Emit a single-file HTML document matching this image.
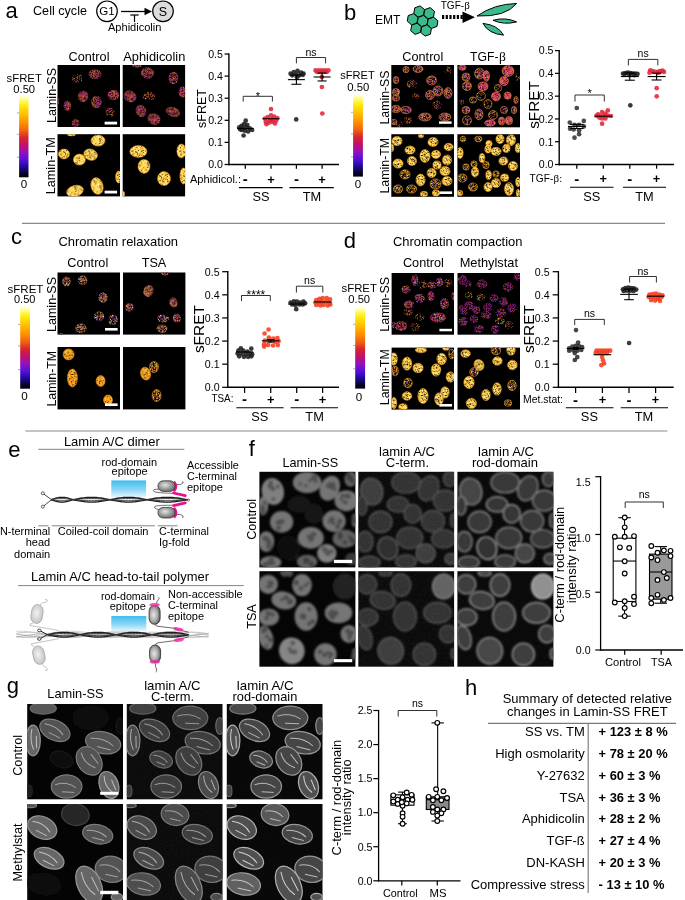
<!DOCTYPE html>
<html lang="en"><head><meta charset="utf-8"><title>Figure</title>
<style>html,body{margin:0;padding:0;background:#fff}svg{display:block}text{font-family:"Liberation Sans", sans-serif}</style></head>
<body>
<svg width="685" height="900" viewBox="0 0 685 900">
<defs>
<linearGradient id="fire" x1="0" y1="0" x2="0" y2="1"><stop offset="0" stop-color="#ffffff"/><stop offset="0.05" stop-color="#ffff90"/><stop offset="0.12" stop-color="#ffee10"/><stop offset="0.22" stop-color="#ffc400"/><stop offset="0.33" stop-color="#ff9400"/><stop offset="0.43" stop-color="#f26410"/><stop offset="0.52" stop-color="#d8242c"/><stop offset="0.61" stop-color="#c0106c"/><stop offset="0.70" stop-color="#9410c0"/><stop offset="0.79" stop-color="#5410d8"/><stop offset="0.87" stop-color="#2208a0"/><stop offset="0.95" stop-color="#080430"/><stop offset="1" stop-color="#000004"/></linearGradient>
<filter id="b05" x="-5%" y="-5%" width="110%" height="110%"><feGaussianBlur stdDeviation="0.5"/></filter>
<filter id="b08" x="-5%" y="-5%" width="110%" height="110%"><feGaussianBlur stdDeviation="0.95"/></filter>
<filter id="b06" x="-5%" y="-5%" width="110%" height="110%"><feGaussianBlur stdDeviation="0.65"/></filter>
<filter id="b15" x="-20%" y="-20%" width="140%" height="140%"><feGaussianBlur stdDeviation="1.6"/></filter>
<filter id="grain" x="0" y="0" width="100%" height="100%"><feTurbulence type="fractalNoise" baseFrequency="0.75" numOctaves="2" seed="7"/><feColorMatrix type="matrix" values="0 0 0 0 1  0 0 0 0 1  0 0 0 0 1  2.6 0 0 0 -1.15"/></filter>
<pattern id="ss" width="24.0" height="24.0" patternUnits="userSpaceOnUse"><rect width="24.0" height="24.0" fill="#000"/><path fill="#6a1a9a" d="M0 3.75h0.75v0.75h-0.75zM0 8.25h0.75v0.75h-0.75zM0 10.5h0.75v0.75h-0.75zM0 17.25h0.75v0.75h-0.75zM0 18.75h0.75v0.75h-0.75zM0 21h0.75v0.75h-0.75zM0.75 0.75h0.75v0.75h-0.75zM0.75 8.25h0.75v0.75h-0.75zM0.75 11.25h0.75v0.75h-0.75zM0.75 20.25h0.75v0.75h-0.75zM1.5 0h0.75v0.75h-0.75zM1.5 0.75h0.75v0.75h-0.75zM1.5 3.75h0.75v0.75h-0.75zM1.5 9h0.75v0.75h-0.75zM1.5 17.25h0.75v0.75h-0.75zM2.25 2.25h0.75v0.75h-0.75zM2.25 7.5h0.75v0.75h-0.75zM2.25 8.25h0.75v0.75h-0.75zM2.25 11.25h0.75v0.75h-0.75zM3 1.5h0.75v0.75h-0.75zM3 6.75h0.75v0.75h-0.75zM3 7.5h0.75v0.75h-0.75zM3 9.75h0.75v0.75h-0.75zM3 10.5h0.75v0.75h-0.75zM3.75 3h0.75v0.75h-0.75zM3.75 4.5h0.75v0.75h-0.75zM3.75 10.5h0.75v0.75h-0.75zM3.75 12.75h0.75v0.75h-0.75zM3.75 22.5h0.75v0.75h-0.75zM3.75 23.25h0.75v0.75h-0.75zM4.5 1.5h0.75v0.75h-0.75zM4.5 6h0.75v0.75h-0.75zM4.5 9.75h0.75v0.75h-0.75zM4.5 12h0.75v0.75h-0.75zM4.5 15.75h0.75v0.75h-0.75zM5.25 2.25h0.75v0.75h-0.75zM5.25 3h0.75v0.75h-0.75zM5.25 13.5h0.75v0.75h-0.75zM5.25 15.75h0.75v0.75h-0.75zM5.25 21.75h0.75v0.75h-0.75zM6 6.75h0.75v0.75h-0.75zM6 12h0.75v0.75h-0.75zM6 21.75h0.75v0.75h-0.75zM6 22.5h0.75v0.75h-0.75zM6.75 12.75h0.75v0.75h-0.75zM6.75 15.75h0.75v0.75h-0.75zM6.75 17.25h0.75v0.75h-0.75zM6.75 18h0.75v0.75h-0.75zM6.75 21h0.75v0.75h-0.75zM7.5 15.75h0.75v0.75h-0.75zM7.5 22.5h0.75v0.75h-0.75zM8.25 4.5h0.75v0.75h-0.75zM8.25 12.75h0.75v0.75h-0.75zM8.25 13.5h0.75v0.75h-0.75zM8.25 14.25h0.75v0.75h-0.75zM8.25 17.25h0.75v0.75h-0.75zM8.25 19.5h0.75v0.75h-0.75zM8.25 23.25h0.75v0.75h-0.75zM9 0h0.75v0.75h-0.75zM9 5.25h0.75v0.75h-0.75zM9 10.5h0.75v0.75h-0.75zM9 20.25h0.75v0.75h-0.75zM9 22.5h0.75v0.75h-0.75zM9.75 10.5h0.75v0.75h-0.75zM9.75 22.5h0.75v0.75h-0.75zM10.5 0.75h0.75v0.75h-0.75zM10.5 2.25h0.75v0.75h-0.75zM10.5 3.75h0.75v0.75h-0.75zM10.5 8.25h0.75v0.75h-0.75zM10.5 13.5h0.75v0.75h-0.75zM11.25 4.5h0.75v0.75h-0.75zM11.25 14.25h0.75v0.75h-0.75zM11.25 15.75h0.75v0.75h-0.75zM11.25 18h0.75v0.75h-0.75zM11.25 18.75h0.75v0.75h-0.75zM11.25 20.25h0.75v0.75h-0.75zM12 0h0.75v0.75h-0.75zM12 6.75h0.75v0.75h-0.75zM12 8.25h0.75v0.75h-0.75zM12 13.5h0.75v0.75h-0.75zM12 15h0.75v0.75h-0.75zM12 15.75h0.75v0.75h-0.75zM12 16.5h0.75v0.75h-0.75zM12.75 0.75h0.75v0.75h-0.75zM12.75 7.5h0.75v0.75h-0.75zM12.75 13.5h0.75v0.75h-0.75zM12.75 16.5h0.75v0.75h-0.75zM12.75 17.25h0.75v0.75h-0.75zM12.75 21.75h0.75v0.75h-0.75zM13.5 5.25h0.75v0.75h-0.75zM13.5 15.75h0.75v0.75h-0.75zM13.5 21.75h0.75v0.75h-0.75zM13.5 22.5h0.75v0.75h-0.75zM14.25 3.75h0.75v0.75h-0.75zM14.25 10.5h0.75v0.75h-0.75zM14.25 15.75h0.75v0.75h-0.75zM15 1.5h0.75v0.75h-0.75zM15 5.25h0.75v0.75h-0.75zM15 6.75h0.75v0.75h-0.75zM15 9.75h0.75v0.75h-0.75zM15 12.75h0.75v0.75h-0.75zM15 18h0.75v0.75h-0.75zM15 18.75h0.75v0.75h-0.75zM15 21h0.75v0.75h-0.75zM15.75 3.75h0.75v0.75h-0.75zM15.75 5.25h0.75v0.75h-0.75zM15.75 17.25h0.75v0.75h-0.75zM15.75 23.25h0.75v0.75h-0.75zM16.5 3h0.75v0.75h-0.75zM16.5 3.75h0.75v0.75h-0.75zM16.5 6h0.75v0.75h-0.75zM16.5 17.25h0.75v0.75h-0.75zM16.5 18h0.75v0.75h-0.75zM16.5 21h0.75v0.75h-0.75zM16.5 22.5h0.75v0.75h-0.75zM17.25 5.25h0.75v0.75h-0.75zM17.25 6.75h0.75v0.75h-0.75zM17.25 11.25h0.75v0.75h-0.75zM17.25 13.5h0.75v0.75h-0.75zM17.25 14.25h0.75v0.75h-0.75zM17.25 18.75h0.75v0.75h-0.75zM18 2.25h0.75v0.75h-0.75zM18 4.5h0.75v0.75h-0.75zM18 8.25h0.75v0.75h-0.75zM18 9.75h0.75v0.75h-0.75zM18 10.5h0.75v0.75h-0.75zM18 15h0.75v0.75h-0.75zM18 15.75h0.75v0.75h-0.75zM18.75 5.25h0.75v0.75h-0.75zM18.75 7.5h0.75v0.75h-0.75zM18.75 8.25h0.75v0.75h-0.75zM18.75 15h0.75v0.75h-0.75zM19.5 3.75h0.75v0.75h-0.75zM19.5 9.75h0.75v0.75h-0.75zM19.5 20.25h0.75v0.75h-0.75zM20.25 0.75h0.75v0.75h-0.75zM20.25 13.5h0.75v0.75h-0.75zM20.25 23.25h0.75v0.75h-0.75zM21 0h0.75v0.75h-0.75zM21 5.25h0.75v0.75h-0.75zM21 6h0.75v0.75h-0.75zM21 7.5h0.75v0.75h-0.75zM21 9.75h0.75v0.75h-0.75zM21 10.5h0.75v0.75h-0.75zM21 12h0.75v0.75h-0.75zM21 12.75h0.75v0.75h-0.75zM21 21.75h0.75v0.75h-0.75zM21.75 9h0.75v0.75h-0.75zM21.75 15h0.75v0.75h-0.75zM21.75 18.75h0.75v0.75h-0.75zM22.5 3h0.75v0.75h-0.75zM22.5 9h0.75v0.75h-0.75zM22.5 12h0.75v0.75h-0.75zM22.5 18.75h0.75v0.75h-0.75zM23.25 1.5h0.75v0.75h-0.75zM23.25 6h0.75v0.75h-0.75zM23.25 12.75h0.75v0.75h-0.75zM23.25 16.5h0.75v0.75h-0.75zM23.25 18h0.75v0.75h-0.75zM23.25 23.25h0.75v0.75h-0.75z"/><path fill="#c02c72" d="M0 3h0.75v0.75h-0.75zM0 4.5h0.75v0.75h-0.75zM0 11.25h0.75v0.75h-0.75zM0 15.75h0.75v0.75h-0.75zM0 21.75h0.75v0.75h-0.75zM0.75 3.75h0.75v0.75h-0.75zM0.75 4.5h0.75v0.75h-0.75zM0.75 9h0.75v0.75h-0.75zM0.75 9.75h0.75v0.75h-0.75zM0.75 12.75h0.75v0.75h-0.75zM0.75 14.25h0.75v0.75h-0.75zM0.75 16.5h0.75v0.75h-0.75zM0.75 17.25h0.75v0.75h-0.75zM0.75 21.75h0.75v0.75h-0.75zM0.75 22.5h0.75v0.75h-0.75zM0.75 23.25h0.75v0.75h-0.75zM1.5 1.5h0.75v0.75h-0.75zM1.5 3h0.75v0.75h-0.75zM1.5 4.5h0.75v0.75h-0.75zM1.5 6.75h0.75v0.75h-0.75zM1.5 8.25h0.75v0.75h-0.75zM1.5 10.5h0.75v0.75h-0.75zM1.5 12.75h0.75v0.75h-0.75zM1.5 15h0.75v0.75h-0.75zM1.5 16.5h0.75v0.75h-0.75zM1.5 18.75h0.75v0.75h-0.75zM1.5 23.25h0.75v0.75h-0.75zM2.25 0.75h0.75v0.75h-0.75zM2.25 1.5h0.75v0.75h-0.75zM2.25 4.5h0.75v0.75h-0.75zM2.25 6h0.75v0.75h-0.75zM2.25 6.75h0.75v0.75h-0.75zM2.25 9h0.75v0.75h-0.75zM2.25 9.75h0.75v0.75h-0.75zM2.25 10.5h0.75v0.75h-0.75zM2.25 14.25h0.75v0.75h-0.75zM2.25 19.5h0.75v0.75h-0.75zM3 0.75h0.75v0.75h-0.75zM3 3.75h0.75v0.75h-0.75zM3 6h0.75v0.75h-0.75zM3 8.25h0.75v0.75h-0.75zM3 13.5h0.75v0.75h-0.75zM3 15h0.75v0.75h-0.75zM3 18.75h0.75v0.75h-0.75zM3 20.25h0.75v0.75h-0.75zM3 21h0.75v0.75h-0.75zM3 21.75h0.75v0.75h-0.75zM3.75 0.75h0.75v0.75h-0.75zM3.75 2.25h0.75v0.75h-0.75zM3.75 3.75h0.75v0.75h-0.75zM3.75 5.25h0.75v0.75h-0.75zM3.75 12h0.75v0.75h-0.75zM3.75 18h0.75v0.75h-0.75zM3.75 21h0.75v0.75h-0.75zM3.75 21.75h0.75v0.75h-0.75zM4.5 0.75h0.75v0.75h-0.75zM4.5 3.75h0.75v0.75h-0.75zM4.5 5.25h0.75v0.75h-0.75zM4.5 13.5h0.75v0.75h-0.75zM4.5 17.25h0.75v0.75h-0.75zM4.5 18h0.75v0.75h-0.75zM4.5 20.25h0.75v0.75h-0.75zM5.25 0.75h0.75v0.75h-0.75zM5.25 5.25h0.75v0.75h-0.75zM5.25 8.25h0.75v0.75h-0.75zM5.25 14.25h0.75v0.75h-0.75zM5.25 16.5h0.75v0.75h-0.75zM5.25 20.25h0.75v0.75h-0.75zM6 1.5h0.75v0.75h-0.75zM6 9.75h0.75v0.75h-0.75zM6 15.75h0.75v0.75h-0.75zM6 17.25h0.75v0.75h-0.75zM6 21h0.75v0.75h-0.75zM6.75 3.75h0.75v0.75h-0.75zM6.75 5.25h0.75v0.75h-0.75zM6.75 6h0.75v0.75h-0.75zM6.75 6.75h0.75v0.75h-0.75zM6.75 8.25h0.75v0.75h-0.75zM6.75 13.5h0.75v0.75h-0.75zM6.75 14.25h0.75v0.75h-0.75zM6.75 21.75h0.75v0.75h-0.75zM6.75 22.5h0.75v0.75h-0.75zM6.75 23.25h0.75v0.75h-0.75zM7.5 3h0.75v0.75h-0.75zM7.5 5.25h0.75v0.75h-0.75zM7.5 7.5h0.75v0.75h-0.75zM7.5 9.75h0.75v0.75h-0.75zM7.5 17.25h0.75v0.75h-0.75zM8.25 2.25h0.75v0.75h-0.75zM8.25 3h0.75v0.75h-0.75zM8.25 6h0.75v0.75h-0.75zM8.25 6.75h0.75v0.75h-0.75zM8.25 10.5h0.75v0.75h-0.75zM8.25 11.25h0.75v0.75h-0.75zM8.25 16.5h0.75v0.75h-0.75zM8.25 18h0.75v0.75h-0.75zM9 0.75h0.75v0.75h-0.75zM9 3h0.75v0.75h-0.75zM9 3.75h0.75v0.75h-0.75zM9 4.5h0.75v0.75h-0.75zM9 6h0.75v0.75h-0.75zM9 6.75h0.75v0.75h-0.75zM9 8.25h0.75v0.75h-0.75zM9 9h0.75v0.75h-0.75zM9 11.25h0.75v0.75h-0.75zM9 14.25h0.75v0.75h-0.75zM9 16.5h0.75v0.75h-0.75zM9 21h0.75v0.75h-0.75zM9 23.25h0.75v0.75h-0.75zM9.75 0h0.75v0.75h-0.75zM9.75 0.75h0.75v0.75h-0.75zM9.75 3.75h0.75v0.75h-0.75zM9.75 6.75h0.75v0.75h-0.75zM9.75 9h0.75v0.75h-0.75zM9.75 9.75h0.75v0.75h-0.75zM9.75 11.25h0.75v0.75h-0.75zM9.75 12.75h0.75v0.75h-0.75zM9.75 15.75h0.75v0.75h-0.75zM9.75 21h0.75v0.75h-0.75zM9.75 21.75h0.75v0.75h-0.75zM10.5 7.5h0.75v0.75h-0.75zM10.5 11.25h0.75v0.75h-0.75zM10.5 15h0.75v0.75h-0.75zM10.5 15.75h0.75v0.75h-0.75zM10.5 18.75h0.75v0.75h-0.75zM10.5 20.25h0.75v0.75h-0.75zM10.5 21.75h0.75v0.75h-0.75zM11.25 0.75h0.75v0.75h-0.75zM11.25 1.5h0.75v0.75h-0.75zM11.25 3.75h0.75v0.75h-0.75zM11.25 8.25h0.75v0.75h-0.75zM11.25 9h0.75v0.75h-0.75zM11.25 12.75h0.75v0.75h-0.75zM11.25 13.5h0.75v0.75h-0.75zM11.25 15h0.75v0.75h-0.75zM11.25 16.5h0.75v0.75h-0.75zM11.25 21.75h0.75v0.75h-0.75zM11.25 22.5h0.75v0.75h-0.75zM11.25 23.25h0.75v0.75h-0.75zM12 3h0.75v0.75h-0.75zM12 5.25h0.75v0.75h-0.75zM12 9h0.75v0.75h-0.75zM12 12h0.75v0.75h-0.75zM12 12.75h0.75v0.75h-0.75zM12 18h0.75v0.75h-0.75zM12 18.75h0.75v0.75h-0.75zM12 20.25h0.75v0.75h-0.75zM12 21h0.75v0.75h-0.75zM12 21.75h0.75v0.75h-0.75zM12 22.5h0.75v0.75h-0.75zM12 23.25h0.75v0.75h-0.75zM12.75 0h0.75v0.75h-0.75zM12.75 1.5h0.75v0.75h-0.75zM12.75 2.25h0.75v0.75h-0.75zM12.75 6.75h0.75v0.75h-0.75zM12.75 9h0.75v0.75h-0.75zM12.75 10.5h0.75v0.75h-0.75zM12.75 12.75h0.75v0.75h-0.75zM12.75 15h0.75v0.75h-0.75zM12.75 15.75h0.75v0.75h-0.75zM12.75 18h0.75v0.75h-0.75zM12.75 19.5h0.75v0.75h-0.75zM12.75 21h0.75v0.75h-0.75zM12.75 22.5h0.75v0.75h-0.75zM12.75 23.25h0.75v0.75h-0.75zM13.5 4.5h0.75v0.75h-0.75zM13.5 6h0.75v0.75h-0.75zM13.5 6.75h0.75v0.75h-0.75zM13.5 8.25h0.75v0.75h-0.75zM13.5 9h0.75v0.75h-0.75zM13.5 11.25h0.75v0.75h-0.75zM13.5 12.75h0.75v0.75h-0.75zM13.5 18h0.75v0.75h-0.75zM13.5 21h0.75v0.75h-0.75zM14.25 1.5h0.75v0.75h-0.75zM14.25 5.25h0.75v0.75h-0.75zM14.25 6h0.75v0.75h-0.75zM14.25 7.5h0.75v0.75h-0.75zM14.25 9.75h0.75v0.75h-0.75zM14.25 12.75h0.75v0.75h-0.75zM14.25 13.5h0.75v0.75h-0.75zM14.25 16.5h0.75v0.75h-0.75zM14.25 19.5h0.75v0.75h-0.75zM14.25 22.5h0.75v0.75h-0.75zM15 0.75h0.75v0.75h-0.75zM15 3.75h0.75v0.75h-0.75zM15 6h0.75v0.75h-0.75zM15 10.5h0.75v0.75h-0.75zM15 12h0.75v0.75h-0.75zM15 13.5h0.75v0.75h-0.75zM15 19.5h0.75v0.75h-0.75zM15.75 2.25h0.75v0.75h-0.75zM15.75 13.5h0.75v0.75h-0.75zM15.75 14.25h0.75v0.75h-0.75zM15.75 15h0.75v0.75h-0.75zM15.75 16.5h0.75v0.75h-0.75zM15.75 18h0.75v0.75h-0.75zM15.75 19.5h0.75v0.75h-0.75zM15.75 22.5h0.75v0.75h-0.75zM16.5 0h0.75v0.75h-0.75zM16.5 0.75h0.75v0.75h-0.75zM16.5 1.5h0.75v0.75h-0.75zM16.5 6.75h0.75v0.75h-0.75zM16.5 7.5h0.75v0.75h-0.75zM16.5 8.25h0.75v0.75h-0.75zM16.5 9h0.75v0.75h-0.75zM16.5 20.25h0.75v0.75h-0.75zM16.5 23.25h0.75v0.75h-0.75zM17.25 1.5h0.75v0.75h-0.75zM17.25 6h0.75v0.75h-0.75zM17.25 12.75h0.75v0.75h-0.75zM17.25 16.5h0.75v0.75h-0.75zM17.25 18h0.75v0.75h-0.75zM17.25 20.25h0.75v0.75h-0.75zM17.25 21.75h0.75v0.75h-0.75zM17.25 22.5h0.75v0.75h-0.75zM18 3h0.75v0.75h-0.75zM18 5.25h0.75v0.75h-0.75zM18 7.5h0.75v0.75h-0.75zM18 11.25h0.75v0.75h-0.75zM18 12h0.75v0.75h-0.75zM18 12.75h0.75v0.75h-0.75zM18 18h0.75v0.75h-0.75zM18.75 0.75h0.75v0.75h-0.75zM18.75 1.5h0.75v0.75h-0.75zM18.75 3.75h0.75v0.75h-0.75zM18.75 4.5h0.75v0.75h-0.75zM18.75 6.75h0.75v0.75h-0.75zM18.75 9.75h0.75v0.75h-0.75zM18.75 12h0.75v0.75h-0.75zM18.75 12.75h0.75v0.75h-0.75zM18.75 15.75h0.75v0.75h-0.75zM18.75 18h0.75v0.75h-0.75zM18.75 21h0.75v0.75h-0.75zM18.75 21.75h0.75v0.75h-0.75zM19.5 0.75h0.75v0.75h-0.75zM19.5 5.25h0.75v0.75h-0.75zM19.5 7.5h0.75v0.75h-0.75zM19.5 10.5h0.75v0.75h-0.75zM19.5 11.25h0.75v0.75h-0.75zM19.5 13.5h0.75v0.75h-0.75zM19.5 17.25h0.75v0.75h-0.75zM19.5 18.75h0.75v0.75h-0.75zM19.5 19.5h0.75v0.75h-0.75zM19.5 22.5h0.75v0.75h-0.75zM20.25 3h0.75v0.75h-0.75zM20.25 6.75h0.75v0.75h-0.75zM20.25 8.25h0.75v0.75h-0.75zM20.25 9h0.75v0.75h-0.75zM20.25 9.75h0.75v0.75h-0.75zM20.25 10.5h0.75v0.75h-0.75zM20.25 11.25h0.75v0.75h-0.75zM20.25 14.25h0.75v0.75h-0.75zM20.25 16.5h0.75v0.75h-0.75zM20.25 17.25h0.75v0.75h-0.75zM20.25 18h0.75v0.75h-0.75zM20.25 20.25h0.75v0.75h-0.75zM20.25 21.75h0.75v0.75h-0.75zM20.25 22.5h0.75v0.75h-0.75zM21 2.25h0.75v0.75h-0.75zM21 8.25h0.75v0.75h-0.75zM21 9h0.75v0.75h-0.75zM21 16.5h0.75v0.75h-0.75zM21 19.5h0.75v0.75h-0.75zM21 20.25h0.75v0.75h-0.75zM21 21h0.75v0.75h-0.75zM21 23.25h0.75v0.75h-0.75zM21.75 0h0.75v0.75h-0.75zM21.75 0.75h0.75v0.75h-0.75zM21.75 2.25h0.75v0.75h-0.75zM21.75 7.5h0.75v0.75h-0.75zM21.75 9.75h0.75v0.75h-0.75zM21.75 12h0.75v0.75h-0.75zM21.75 13.5h0.75v0.75h-0.75zM21.75 14.25h0.75v0.75h-0.75zM21.75 18h0.75v0.75h-0.75zM21.75 19.5h0.75v0.75h-0.75zM21.75 22.5h0.75v0.75h-0.75zM22.5 1.5h0.75v0.75h-0.75zM22.5 3.75h0.75v0.75h-0.75zM22.5 5.25h0.75v0.75h-0.75zM22.5 11.25h0.75v0.75h-0.75zM22.5 15h0.75v0.75h-0.75zM22.5 16.5h0.75v0.75h-0.75zM22.5 19.5h0.75v0.75h-0.75zM22.5 21.75h0.75v0.75h-0.75zM23.25 0.75h0.75v0.75h-0.75zM23.25 5.25h0.75v0.75h-0.75zM23.25 8.25h0.75v0.75h-0.75zM23.25 9h0.75v0.75h-0.75zM23.25 10.5h0.75v0.75h-0.75zM23.25 11.25h0.75v0.75h-0.75zM23.25 14.25h0.75v0.75h-0.75zM23.25 17.25h0.75v0.75h-0.75zM23.25 18.75h0.75v0.75h-0.75zM23.25 21h0.75v0.75h-0.75zM23.25 21.75h0.75v0.75h-0.75z"/><path fill="#e86c2a" d="M0 0.75h0.75v0.75h-0.75zM0 1.5h0.75v0.75h-0.75zM0 5.25h0.75v0.75h-0.75zM0 7.5h0.75v0.75h-0.75zM0 9h0.75v0.75h-0.75zM0 12.75h0.75v0.75h-0.75zM0 13.5h0.75v0.75h-0.75zM0 16.5h0.75v0.75h-0.75zM0.75 3h0.75v0.75h-0.75zM0.75 6.75h0.75v0.75h-0.75zM0.75 10.5h0.75v0.75h-0.75zM0.75 12h0.75v0.75h-0.75zM0.75 15h0.75v0.75h-0.75zM0.75 15.75h0.75v0.75h-0.75zM0.75 19.5h0.75v0.75h-0.75zM1.5 2.25h0.75v0.75h-0.75zM1.5 12h0.75v0.75h-0.75zM1.5 13.5h0.75v0.75h-0.75zM1.5 21h0.75v0.75h-0.75zM1.5 21.75h0.75v0.75h-0.75zM1.5 22.5h0.75v0.75h-0.75zM2.25 0h0.75v0.75h-0.75zM2.25 3.75h0.75v0.75h-0.75zM2.25 15h0.75v0.75h-0.75zM2.25 15.75h0.75v0.75h-0.75zM2.25 16.5h0.75v0.75h-0.75zM2.25 17.25h0.75v0.75h-0.75zM2.25 18.75h0.75v0.75h-0.75zM2.25 22.5h0.75v0.75h-0.75zM3 12.75h0.75v0.75h-0.75zM3 15.75h0.75v0.75h-0.75zM3.75 0h0.75v0.75h-0.75zM3.75 8.25h0.75v0.75h-0.75zM3.75 9.75h0.75v0.75h-0.75zM3.75 11.25h0.75v0.75h-0.75zM3.75 15h0.75v0.75h-0.75zM3.75 16.5h0.75v0.75h-0.75zM3.75 19.5h0.75v0.75h-0.75zM4.5 6.75h0.75v0.75h-0.75zM4.5 7.5h0.75v0.75h-0.75zM4.5 11.25h0.75v0.75h-0.75zM4.5 14.25h0.75v0.75h-0.75zM4.5 15h0.75v0.75h-0.75zM4.5 16.5h0.75v0.75h-0.75zM4.5 22.5h0.75v0.75h-0.75zM5.25 0h0.75v0.75h-0.75zM5.25 1.5h0.75v0.75h-0.75zM5.25 4.5h0.75v0.75h-0.75zM5.25 6.75h0.75v0.75h-0.75zM5.25 11.25h0.75v0.75h-0.75zM5.25 12h0.75v0.75h-0.75zM5.25 12.75h0.75v0.75h-0.75zM5.25 15h0.75v0.75h-0.75zM5.25 19.5h0.75v0.75h-0.75zM5.25 21h0.75v0.75h-0.75zM5.25 23.25h0.75v0.75h-0.75zM6 0h0.75v0.75h-0.75zM6 3.75h0.75v0.75h-0.75zM6 11.25h0.75v0.75h-0.75zM6 13.5h0.75v0.75h-0.75zM6.75 0h0.75v0.75h-0.75zM6.75 15h0.75v0.75h-0.75zM6.75 18.75h0.75v0.75h-0.75zM6.75 19.5h0.75v0.75h-0.75zM7.5 6.75h0.75v0.75h-0.75zM7.5 8.25h0.75v0.75h-0.75zM7.5 10.5h0.75v0.75h-0.75zM7.5 12h0.75v0.75h-0.75zM7.5 13.5h0.75v0.75h-0.75zM7.5 15h0.75v0.75h-0.75zM7.5 18h0.75v0.75h-0.75zM7.5 19.5h0.75v0.75h-0.75zM7.5 21h0.75v0.75h-0.75zM7.5 23.25h0.75v0.75h-0.75zM8.25 0h0.75v0.75h-0.75zM8.25 0.75h0.75v0.75h-0.75zM8.25 1.5h0.75v0.75h-0.75zM8.25 9.75h0.75v0.75h-0.75zM8.25 12h0.75v0.75h-0.75zM8.25 22.5h0.75v0.75h-0.75zM9 12h0.75v0.75h-0.75zM9 12.75h0.75v0.75h-0.75zM9 17.25h0.75v0.75h-0.75zM9 18.75h0.75v0.75h-0.75zM9 19.5h0.75v0.75h-0.75zM9 21.75h0.75v0.75h-0.75zM9.75 1.5h0.75v0.75h-0.75zM9.75 2.25h0.75v0.75h-0.75zM9.75 7.5h0.75v0.75h-0.75zM9.75 15h0.75v0.75h-0.75zM9.75 17.25h0.75v0.75h-0.75zM9.75 19.5h0.75v0.75h-0.75zM9.75 20.25h0.75v0.75h-0.75zM9.75 23.25h0.75v0.75h-0.75zM10.5 1.5h0.75v0.75h-0.75zM10.5 5.25h0.75v0.75h-0.75zM10.5 16.5h0.75v0.75h-0.75zM10.5 22.5h0.75v0.75h-0.75zM10.5 23.25h0.75v0.75h-0.75zM11.25 2.25h0.75v0.75h-0.75zM11.25 3h0.75v0.75h-0.75zM11.25 6.75h0.75v0.75h-0.75zM11.25 10.5h0.75v0.75h-0.75zM11.25 21h0.75v0.75h-0.75zM12 3.75h0.75v0.75h-0.75zM12 4.5h0.75v0.75h-0.75zM12 7.5h0.75v0.75h-0.75zM12 17.25h0.75v0.75h-0.75zM12 19.5h0.75v0.75h-0.75zM12.75 3h0.75v0.75h-0.75zM12.75 3.75h0.75v0.75h-0.75zM12.75 4.5h0.75v0.75h-0.75zM12.75 5.25h0.75v0.75h-0.75zM12.75 6h0.75v0.75h-0.75zM12.75 9.75h0.75v0.75h-0.75zM12.75 12h0.75v0.75h-0.75zM12.75 20.25h0.75v0.75h-0.75zM13.5 1.5h0.75v0.75h-0.75zM13.5 3.75h0.75v0.75h-0.75zM13.5 9.75h0.75v0.75h-0.75zM13.5 14.25h0.75v0.75h-0.75zM13.5 15h0.75v0.75h-0.75zM13.5 18.75h0.75v0.75h-0.75zM13.5 20.25h0.75v0.75h-0.75zM13.5 23.25h0.75v0.75h-0.75zM14.25 0h0.75v0.75h-0.75zM14.25 4.5h0.75v0.75h-0.75zM14.25 11.25h0.75v0.75h-0.75zM14.25 20.25h0.75v0.75h-0.75zM14.25 23.25h0.75v0.75h-0.75zM15 2.25h0.75v0.75h-0.75zM15 9h0.75v0.75h-0.75zM15 14.25h0.75v0.75h-0.75zM15 16.5h0.75v0.75h-0.75zM15 17.25h0.75v0.75h-0.75zM15 20.25h0.75v0.75h-0.75zM15 21.75h0.75v0.75h-0.75zM15 22.5h0.75v0.75h-0.75zM15.75 0h0.75v0.75h-0.75zM15.75 6h0.75v0.75h-0.75zM15.75 6.75h0.75v0.75h-0.75zM15.75 9h0.75v0.75h-0.75zM15.75 15.75h0.75v0.75h-0.75zM15.75 21.75h0.75v0.75h-0.75zM16.5 5.25h0.75v0.75h-0.75zM16.5 9.75h0.75v0.75h-0.75zM16.5 12.75h0.75v0.75h-0.75zM16.5 13.5h0.75v0.75h-0.75zM16.5 14.25h0.75v0.75h-0.75zM16.5 16.5h0.75v0.75h-0.75zM17.25 0h0.75v0.75h-0.75zM17.25 3h0.75v0.75h-0.75zM17.25 8.25h0.75v0.75h-0.75zM17.25 9h0.75v0.75h-0.75zM17.25 9.75h0.75v0.75h-0.75zM17.25 15h0.75v0.75h-0.75zM17.25 21h0.75v0.75h-0.75zM17.25 23.25h0.75v0.75h-0.75zM18 0h0.75v0.75h-0.75zM18 6.75h0.75v0.75h-0.75zM18 14.25h0.75v0.75h-0.75zM18 18.75h0.75v0.75h-0.75zM18 19.5h0.75v0.75h-0.75zM18 21h0.75v0.75h-0.75zM18 21.75h0.75v0.75h-0.75zM18 22.5h0.75v0.75h-0.75zM18 23.25h0.75v0.75h-0.75zM18.75 3h0.75v0.75h-0.75zM18.75 6h0.75v0.75h-0.75zM18.75 13.5h0.75v0.75h-0.75zM19.5 0h0.75v0.75h-0.75zM19.5 2.25h0.75v0.75h-0.75zM19.5 4.5h0.75v0.75h-0.75zM19.5 6.75h0.75v0.75h-0.75zM19.5 8.25h0.75v0.75h-0.75zM19.5 9h0.75v0.75h-0.75zM19.5 12h0.75v0.75h-0.75zM19.5 12.75h0.75v0.75h-0.75zM19.5 14.25h0.75v0.75h-0.75zM19.5 18h0.75v0.75h-0.75zM19.5 21h0.75v0.75h-0.75zM19.5 21.75h0.75v0.75h-0.75zM20.25 0h0.75v0.75h-0.75zM20.25 6h0.75v0.75h-0.75zM20.25 12h0.75v0.75h-0.75zM21 0.75h0.75v0.75h-0.75zM21 1.5h0.75v0.75h-0.75zM21 3h0.75v0.75h-0.75zM21 3.75h0.75v0.75h-0.75zM21 4.5h0.75v0.75h-0.75zM21 6.75h0.75v0.75h-0.75zM21 15.75h0.75v0.75h-0.75zM21 22.5h0.75v0.75h-0.75zM21.75 10.5h0.75v0.75h-0.75zM21.75 15.75h0.75v0.75h-0.75zM21.75 23.25h0.75v0.75h-0.75zM22.5 0h0.75v0.75h-0.75zM22.5 0.75h0.75v0.75h-0.75zM22.5 6h0.75v0.75h-0.75zM22.5 7.5h0.75v0.75h-0.75zM22.5 9.75h0.75v0.75h-0.75zM22.5 12.75h0.75v0.75h-0.75zM22.5 15.75h0.75v0.75h-0.75zM22.5 18h0.75v0.75h-0.75zM22.5 22.5h0.75v0.75h-0.75zM23.25 2.25h0.75v0.75h-0.75zM23.25 3h0.75v0.75h-0.75zM23.25 20.25h0.75v0.75h-0.75z"/><path fill="#f8c040" d="M0.75 6h0.75v0.75h-0.75zM1.5 7.5h0.75v0.75h-0.75zM1.5 11.25h0.75v0.75h-0.75zM1.5 15.75h0.75v0.75h-0.75zM1.5 19.5h0.75v0.75h-0.75zM3 23.25h0.75v0.75h-0.75zM3.75 7.5h0.75v0.75h-0.75zM3.75 17.25h0.75v0.75h-0.75zM3.75 20.25h0.75v0.75h-0.75zM4.5 10.5h0.75v0.75h-0.75zM4.5 18.75h0.75v0.75h-0.75zM5.25 6h0.75v0.75h-0.75zM6 6h0.75v0.75h-0.75zM6 12.75h0.75v0.75h-0.75zM6 19.5h0.75v0.75h-0.75zM6.75 0.75h0.75v0.75h-0.75zM6.75 1.5h0.75v0.75h-0.75zM6.75 4.5h0.75v0.75h-0.75zM6.75 12h0.75v0.75h-0.75zM7.5 14.25h0.75v0.75h-0.75zM8.25 9h0.75v0.75h-0.75zM9.75 3h0.75v0.75h-0.75zM9.75 14.25h0.75v0.75h-0.75zM9.75 18h0.75v0.75h-0.75zM10.5 0h0.75v0.75h-0.75zM10.5 6h0.75v0.75h-0.75zM11.25 0h0.75v0.75h-0.75zM11.25 9.75h0.75v0.75h-0.75zM11.25 11.25h0.75v0.75h-0.75zM12 6h0.75v0.75h-0.75zM12 9.75h0.75v0.75h-0.75zM13.5 17.25h0.75v0.75h-0.75zM14.25 3h0.75v0.75h-0.75zM15 0h0.75v0.75h-0.75zM15 15h0.75v0.75h-0.75zM15.75 18.75h0.75v0.75h-0.75zM16.5 11.25h0.75v0.75h-0.75zM16.5 18.75h0.75v0.75h-0.75zM17.25 15.75h0.75v0.75h-0.75zM17.25 19.5h0.75v0.75h-0.75zM18 17.25h0.75v0.75h-0.75zM18 20.25h0.75v0.75h-0.75zM18.75 2.25h0.75v0.75h-0.75zM18.75 9h0.75v0.75h-0.75zM19.5 15h0.75v0.75h-0.75zM20.25 7.5h0.75v0.75h-0.75zM20.25 12.75h0.75v0.75h-0.75zM20.25 18.75h0.75v0.75h-0.75zM20.25 21h0.75v0.75h-0.75zM21 18h0.75v0.75h-0.75zM21.75 1.5h0.75v0.75h-0.75zM21.75 4.5h0.75v0.75h-0.75zM21.75 8.25h0.75v0.75h-0.75zM21.75 12.75h0.75v0.75h-0.75zM21.75 16.5h0.75v0.75h-0.75zM22.5 13.5h0.75v0.75h-0.75zM22.5 21h0.75v0.75h-0.75zM22.5 23.25h0.75v0.75h-0.75zM23.25 9.75h0.75v0.75h-0.75z"/></pattern>
<pattern id="ssm" width="24.0" height="24.0" patternUnits="userSpaceOnUse"><rect width="24.0" height="24.0" fill="#000"/><path fill="#6a1a9a" d="M0 0.75h0.75v0.75h-0.75zM0 12h0.75v0.75h-0.75zM0 14.25h0.75v0.75h-0.75zM0.75 0h0.75v0.75h-0.75zM0.75 3h0.75v0.75h-0.75zM0.75 7.5h0.75v0.75h-0.75zM0.75 14.25h0.75v0.75h-0.75zM0.75 20.25h0.75v0.75h-0.75zM0.75 21h0.75v0.75h-0.75zM1.5 1.5h0.75v0.75h-0.75zM1.5 6.75h0.75v0.75h-0.75zM1.5 11.25h0.75v0.75h-0.75zM1.5 12.75h0.75v0.75h-0.75zM1.5 20.25h0.75v0.75h-0.75zM1.5 21h0.75v0.75h-0.75zM1.5 21.75h0.75v0.75h-0.75zM2.25 1.5h0.75v0.75h-0.75zM2.25 3h0.75v0.75h-0.75zM2.25 8.25h0.75v0.75h-0.75zM2.25 10.5h0.75v0.75h-0.75zM2.25 11.25h0.75v0.75h-0.75zM2.25 12.75h0.75v0.75h-0.75zM2.25 15.75h0.75v0.75h-0.75zM2.25 23.25h0.75v0.75h-0.75zM3 1.5h0.75v0.75h-0.75zM3 18h0.75v0.75h-0.75zM3 21h0.75v0.75h-0.75zM3.75 0h0.75v0.75h-0.75zM3.75 6.75h0.75v0.75h-0.75zM3.75 9.75h0.75v0.75h-0.75zM3.75 15.75h0.75v0.75h-0.75zM3.75 18.75h0.75v0.75h-0.75zM3.75 19.5h0.75v0.75h-0.75zM3.75 20.25h0.75v0.75h-0.75zM3.75 23.25h0.75v0.75h-0.75zM4.5 17.25h0.75v0.75h-0.75zM5.25 6h0.75v0.75h-0.75zM5.25 14.25h0.75v0.75h-0.75zM6 0.75h0.75v0.75h-0.75zM6 2.25h0.75v0.75h-0.75zM6 8.25h0.75v0.75h-0.75zM6 9h0.75v0.75h-0.75zM6 15h0.75v0.75h-0.75zM6 18.75h0.75v0.75h-0.75zM6 21.75h0.75v0.75h-0.75zM6 23.25h0.75v0.75h-0.75zM6.75 3.75h0.75v0.75h-0.75zM6.75 6h0.75v0.75h-0.75zM6.75 21.75h0.75v0.75h-0.75zM6.75 23.25h0.75v0.75h-0.75zM7.5 18h0.75v0.75h-0.75zM8.25 0.75h0.75v0.75h-0.75zM8.25 2.25h0.75v0.75h-0.75zM8.25 6.75h0.75v0.75h-0.75zM8.25 7.5h0.75v0.75h-0.75zM8.25 12h0.75v0.75h-0.75zM8.25 15h0.75v0.75h-0.75zM9 0.75h0.75v0.75h-0.75zM9 8.25h0.75v0.75h-0.75zM9 9.75h0.75v0.75h-0.75zM9 16.5h0.75v0.75h-0.75zM9 22.5h0.75v0.75h-0.75zM9 23.25h0.75v0.75h-0.75zM9.75 9h0.75v0.75h-0.75zM9.75 12h0.75v0.75h-0.75zM9.75 18h0.75v0.75h-0.75zM9.75 23.25h0.75v0.75h-0.75zM10.5 0h0.75v0.75h-0.75zM10.5 3h0.75v0.75h-0.75zM10.5 7.5h0.75v0.75h-0.75zM10.5 11.25h0.75v0.75h-0.75zM10.5 18h0.75v0.75h-0.75zM10.5 22.5h0.75v0.75h-0.75zM11.25 9h0.75v0.75h-0.75zM11.25 12h0.75v0.75h-0.75zM11.25 13.5h0.75v0.75h-0.75zM11.25 15.75h0.75v0.75h-0.75zM12 0.75h0.75v0.75h-0.75zM12 6.75h0.75v0.75h-0.75zM12 9h0.75v0.75h-0.75zM12 17.25h0.75v0.75h-0.75zM12.75 2.25h0.75v0.75h-0.75zM12.75 6h0.75v0.75h-0.75zM12.75 7.5h0.75v0.75h-0.75zM12.75 15h0.75v0.75h-0.75zM13.5 0.75h0.75v0.75h-0.75zM13.5 10.5h0.75v0.75h-0.75zM13.5 11.25h0.75v0.75h-0.75zM14.25 0.75h0.75v0.75h-0.75zM14.25 3h0.75v0.75h-0.75zM14.25 4.5h0.75v0.75h-0.75zM15 4.5h0.75v0.75h-0.75zM15 6h0.75v0.75h-0.75zM15 20.25h0.75v0.75h-0.75zM15 21.75h0.75v0.75h-0.75zM15.75 0.75h0.75v0.75h-0.75zM15.75 1.5h0.75v0.75h-0.75zM15.75 11.25h0.75v0.75h-0.75zM15.75 12.75h0.75v0.75h-0.75zM15.75 15.75h0.75v0.75h-0.75zM15.75 17.25h0.75v0.75h-0.75zM16.5 0.75h0.75v0.75h-0.75zM16.5 1.5h0.75v0.75h-0.75zM16.5 2.25h0.75v0.75h-0.75zM16.5 8.25h0.75v0.75h-0.75zM17.25 14.25h0.75v0.75h-0.75zM17.25 16.5h0.75v0.75h-0.75zM17.25 19.5h0.75v0.75h-0.75zM18 0h0.75v0.75h-0.75zM18.75 3h0.75v0.75h-0.75zM18.75 4.5h0.75v0.75h-0.75zM18.75 13.5h0.75v0.75h-0.75zM19.5 0.75h0.75v0.75h-0.75zM19.5 9.75h0.75v0.75h-0.75zM19.5 11.25h0.75v0.75h-0.75zM19.5 16.5h0.75v0.75h-0.75zM19.5 19.5h0.75v0.75h-0.75zM20.25 3h0.75v0.75h-0.75zM20.25 12.75h0.75v0.75h-0.75zM20.25 21.75h0.75v0.75h-0.75zM21 1.5h0.75v0.75h-0.75zM21 15h0.75v0.75h-0.75zM21 18h0.75v0.75h-0.75zM21.75 3.75h0.75v0.75h-0.75zM21.75 5.25h0.75v0.75h-0.75zM21.75 9.75h0.75v0.75h-0.75zM21.75 12h0.75v0.75h-0.75zM21.75 15h0.75v0.75h-0.75zM22.5 8.25h0.75v0.75h-0.75zM22.5 12.75h0.75v0.75h-0.75zM22.5 16.5h0.75v0.75h-0.75zM22.5 17.25h0.75v0.75h-0.75zM22.5 18h0.75v0.75h-0.75zM23.25 12.75h0.75v0.75h-0.75zM23.25 19.5h0.75v0.75h-0.75zM23.25 21.75h0.75v0.75h-0.75z"/><path fill="#c0307a" d="M0 0h0.75v0.75h-0.75zM0 1.5h0.75v0.75h-0.75zM0 4.5h0.75v0.75h-0.75zM0 6h0.75v0.75h-0.75zM0 11.25h0.75v0.75h-0.75zM0 13.5h0.75v0.75h-0.75zM0 15.75h0.75v0.75h-0.75zM0 19.5h0.75v0.75h-0.75zM0.75 2.25h0.75v0.75h-0.75zM0.75 4.5h0.75v0.75h-0.75zM0.75 9h0.75v0.75h-0.75zM0.75 10.5h0.75v0.75h-0.75zM0.75 11.25h0.75v0.75h-0.75zM0.75 13.5h0.75v0.75h-0.75zM0.75 15h0.75v0.75h-0.75zM0.75 23.25h0.75v0.75h-0.75zM1.5 3h0.75v0.75h-0.75zM1.5 5.25h0.75v0.75h-0.75zM1.5 12h0.75v0.75h-0.75zM1.5 14.25h0.75v0.75h-0.75zM1.5 15.75h0.75v0.75h-0.75zM1.5 17.25h0.75v0.75h-0.75zM1.5 18h0.75v0.75h-0.75zM1.5 19.5h0.75v0.75h-0.75zM1.5 22.5h0.75v0.75h-0.75zM1.5 23.25h0.75v0.75h-0.75zM2.25 0h0.75v0.75h-0.75zM2.25 5.25h0.75v0.75h-0.75zM2.25 9.75h0.75v0.75h-0.75zM2.25 12h0.75v0.75h-0.75zM2.25 16.5h0.75v0.75h-0.75zM2.25 19.5h0.75v0.75h-0.75zM2.25 21h0.75v0.75h-0.75zM2.25 21.75h0.75v0.75h-0.75zM3 9h0.75v0.75h-0.75zM3 10.5h0.75v0.75h-0.75zM3 20.25h0.75v0.75h-0.75zM3 21.75h0.75v0.75h-0.75zM3 22.5h0.75v0.75h-0.75zM3.75 0.75h0.75v0.75h-0.75zM3.75 1.5h0.75v0.75h-0.75zM3.75 3h0.75v0.75h-0.75zM3.75 5.25h0.75v0.75h-0.75zM3.75 11.25h0.75v0.75h-0.75zM3.75 13.5h0.75v0.75h-0.75zM3.75 14.25h0.75v0.75h-0.75zM3.75 18h0.75v0.75h-0.75zM4.5 8.25h0.75v0.75h-0.75zM4.5 16.5h0.75v0.75h-0.75zM4.5 21.75h0.75v0.75h-0.75zM4.5 22.5h0.75v0.75h-0.75zM5.25 4.5h0.75v0.75h-0.75zM5.25 6.75h0.75v0.75h-0.75zM5.25 9h0.75v0.75h-0.75zM5.25 12.75h0.75v0.75h-0.75zM5.25 15h0.75v0.75h-0.75zM5.25 18.75h0.75v0.75h-0.75zM6 0h0.75v0.75h-0.75zM6 5.25h0.75v0.75h-0.75zM6 6h0.75v0.75h-0.75zM6 14.25h0.75v0.75h-0.75zM6 18h0.75v0.75h-0.75zM6.75 3h0.75v0.75h-0.75zM6.75 4.5h0.75v0.75h-0.75zM6.75 12h0.75v0.75h-0.75zM6.75 15h0.75v0.75h-0.75zM6.75 15.75h0.75v0.75h-0.75zM6.75 16.5h0.75v0.75h-0.75zM6.75 18.75h0.75v0.75h-0.75zM6.75 21h0.75v0.75h-0.75zM6.75 22.5h0.75v0.75h-0.75zM7.5 3.75h0.75v0.75h-0.75zM7.5 10.5h0.75v0.75h-0.75zM7.5 16.5h0.75v0.75h-0.75zM7.5 17.25h0.75v0.75h-0.75zM7.5 18.75h0.75v0.75h-0.75zM8.25 3h0.75v0.75h-0.75zM8.25 3.75h0.75v0.75h-0.75zM8.25 5.25h0.75v0.75h-0.75zM8.25 9.75h0.75v0.75h-0.75zM8.25 10.5h0.75v0.75h-0.75zM8.25 17.25h0.75v0.75h-0.75zM8.25 22.5h0.75v0.75h-0.75zM8.25 23.25h0.75v0.75h-0.75zM9 1.5h0.75v0.75h-0.75zM9 3h0.75v0.75h-0.75zM9 3.75h0.75v0.75h-0.75zM9 4.5h0.75v0.75h-0.75zM9 5.25h0.75v0.75h-0.75zM9 10.5h0.75v0.75h-0.75zM9 14.25h0.75v0.75h-0.75zM9 15.75h0.75v0.75h-0.75zM9 20.25h0.75v0.75h-0.75zM9 21.75h0.75v0.75h-0.75zM9.75 1.5h0.75v0.75h-0.75zM9.75 2.25h0.75v0.75h-0.75zM9.75 3h0.75v0.75h-0.75zM9.75 4.5h0.75v0.75h-0.75zM9.75 6h0.75v0.75h-0.75zM9.75 9.75h0.75v0.75h-0.75zM9.75 11.25h0.75v0.75h-0.75zM9.75 18.75h0.75v0.75h-0.75zM10.5 9h0.75v0.75h-0.75zM10.5 13.5h0.75v0.75h-0.75zM10.5 15.75h0.75v0.75h-0.75zM10.5 17.25h0.75v0.75h-0.75zM11.25 0.75h0.75v0.75h-0.75zM11.25 2.25h0.75v0.75h-0.75zM11.25 4.5h0.75v0.75h-0.75zM11.25 5.25h0.75v0.75h-0.75zM11.25 18.75h0.75v0.75h-0.75zM11.25 19.5h0.75v0.75h-0.75zM12 3h0.75v0.75h-0.75zM12 6h0.75v0.75h-0.75zM12 8.25h0.75v0.75h-0.75zM12 12h0.75v0.75h-0.75zM12 13.5h0.75v0.75h-0.75zM12 14.25h0.75v0.75h-0.75zM12 20.25h0.75v0.75h-0.75zM12.75 5.25h0.75v0.75h-0.75zM12.75 11.25h0.75v0.75h-0.75zM12.75 12h0.75v0.75h-0.75zM12.75 13.5h0.75v0.75h-0.75zM12.75 17.25h0.75v0.75h-0.75zM12.75 19.5h0.75v0.75h-0.75zM12.75 21.75h0.75v0.75h-0.75zM13.5 2.25h0.75v0.75h-0.75zM13.5 3h0.75v0.75h-0.75zM13.5 6h0.75v0.75h-0.75zM13.5 9.75h0.75v0.75h-0.75zM13.5 15h0.75v0.75h-0.75zM13.5 16.5h0.75v0.75h-0.75zM13.5 18h0.75v0.75h-0.75zM13.5 20.25h0.75v0.75h-0.75zM13.5 23.25h0.75v0.75h-0.75zM14.25 7.5h0.75v0.75h-0.75zM14.25 11.25h0.75v0.75h-0.75zM14.25 13.5h0.75v0.75h-0.75zM14.25 16.5h0.75v0.75h-0.75zM14.25 17.25h0.75v0.75h-0.75zM14.25 18h0.75v0.75h-0.75zM15 0.75h0.75v0.75h-0.75zM15 5.25h0.75v0.75h-0.75zM15 6.75h0.75v0.75h-0.75zM15 12.75h0.75v0.75h-0.75zM15 15.75h0.75v0.75h-0.75zM15 22.5h0.75v0.75h-0.75zM15.75 0h0.75v0.75h-0.75zM15.75 3.75h0.75v0.75h-0.75zM15.75 9.75h0.75v0.75h-0.75zM15.75 13.5h0.75v0.75h-0.75zM15.75 15h0.75v0.75h-0.75zM15.75 16.5h0.75v0.75h-0.75zM16.5 4.5h0.75v0.75h-0.75zM16.5 12h0.75v0.75h-0.75zM16.5 15h0.75v0.75h-0.75zM16.5 15.75h0.75v0.75h-0.75zM16.5 21.75h0.75v0.75h-0.75zM17.25 0h0.75v0.75h-0.75zM17.25 3.75h0.75v0.75h-0.75zM17.25 5.25h0.75v0.75h-0.75zM17.25 6.75h0.75v0.75h-0.75zM17.25 7.5h0.75v0.75h-0.75zM17.25 9h0.75v0.75h-0.75zM17.25 11.25h0.75v0.75h-0.75zM17.25 12.75h0.75v0.75h-0.75zM17.25 15.75h0.75v0.75h-0.75zM18 4.5h0.75v0.75h-0.75zM18 5.25h0.75v0.75h-0.75zM18 8.25h0.75v0.75h-0.75zM18 14.25h0.75v0.75h-0.75zM18 15.75h0.75v0.75h-0.75zM18 16.5h0.75v0.75h-0.75zM18 18h0.75v0.75h-0.75zM18 19.5h0.75v0.75h-0.75zM18 22.5h0.75v0.75h-0.75zM18.75 1.5h0.75v0.75h-0.75zM18.75 5.25h0.75v0.75h-0.75zM18.75 12h0.75v0.75h-0.75zM18.75 15.75h0.75v0.75h-0.75zM18.75 16.5h0.75v0.75h-0.75zM18.75 22.5h0.75v0.75h-0.75zM19.5 3h0.75v0.75h-0.75zM19.5 3.75h0.75v0.75h-0.75zM19.5 7.5h0.75v0.75h-0.75zM19.5 8.25h0.75v0.75h-0.75zM19.5 13.5h0.75v0.75h-0.75zM19.5 21.75h0.75v0.75h-0.75zM19.5 23.25h0.75v0.75h-0.75zM20.25 9h0.75v0.75h-0.75zM20.25 9.75h0.75v0.75h-0.75zM20.25 10.5h0.75v0.75h-0.75zM20.25 13.5h0.75v0.75h-0.75zM20.25 18.75h0.75v0.75h-0.75zM21 3h0.75v0.75h-0.75zM21 9h0.75v0.75h-0.75zM21 12h0.75v0.75h-0.75zM21 12.75h0.75v0.75h-0.75zM21 13.5h0.75v0.75h-0.75zM21 15.75h0.75v0.75h-0.75zM21 16.5h0.75v0.75h-0.75zM21 21.75h0.75v0.75h-0.75zM21.75 1.5h0.75v0.75h-0.75zM21.75 2.25h0.75v0.75h-0.75zM21.75 6.75h0.75v0.75h-0.75zM21.75 7.5h0.75v0.75h-0.75zM21.75 9h0.75v0.75h-0.75zM21.75 18.75h0.75v0.75h-0.75zM21.75 20.25h0.75v0.75h-0.75zM21.75 23.25h0.75v0.75h-0.75zM22.5 2.25h0.75v0.75h-0.75zM22.5 5.25h0.75v0.75h-0.75zM22.5 10.5h0.75v0.75h-0.75zM22.5 14.25h0.75v0.75h-0.75zM22.5 21h0.75v0.75h-0.75zM23.25 0.75h0.75v0.75h-0.75zM23.25 1.5h0.75v0.75h-0.75zM23.25 2.25h0.75v0.75h-0.75zM23.25 3.75h0.75v0.75h-0.75zM23.25 6.75h0.75v0.75h-0.75zM23.25 13.5h0.75v0.75h-0.75zM23.25 21h0.75v0.75h-0.75zM23.25 23.25h0.75v0.75h-0.75z"/><path fill="#e8782a" d="M0 3h0.75v0.75h-0.75zM0 3.75h0.75v0.75h-0.75zM0 10.5h0.75v0.75h-0.75zM0 15h0.75v0.75h-0.75zM0 17.25h0.75v0.75h-0.75zM0.75 0.75h0.75v0.75h-0.75zM0.75 5.25h0.75v0.75h-0.75zM0.75 9.75h0.75v0.75h-0.75zM0.75 12h0.75v0.75h-0.75zM0.75 16.5h0.75v0.75h-0.75zM0.75 18.75h0.75v0.75h-0.75zM1.5 3.75h0.75v0.75h-0.75zM1.5 4.5h0.75v0.75h-0.75zM1.5 8.25h0.75v0.75h-0.75zM1.5 13.5h0.75v0.75h-0.75zM2.25 13.5h0.75v0.75h-0.75zM2.25 14.25h0.75v0.75h-0.75zM2.25 15h0.75v0.75h-0.75zM2.25 20.25h0.75v0.75h-0.75zM2.25 22.5h0.75v0.75h-0.75zM3 0h0.75v0.75h-0.75zM3 2.25h0.75v0.75h-0.75zM3 3h0.75v0.75h-0.75zM3 3.75h0.75v0.75h-0.75zM3 6h0.75v0.75h-0.75zM3 17.25h0.75v0.75h-0.75zM3 18.75h0.75v0.75h-0.75zM3 19.5h0.75v0.75h-0.75zM3.75 3.75h0.75v0.75h-0.75zM3.75 4.5h0.75v0.75h-0.75zM3.75 10.5h0.75v0.75h-0.75zM3.75 12.75h0.75v0.75h-0.75zM3.75 17.25h0.75v0.75h-0.75zM3.75 21h0.75v0.75h-0.75zM3.75 21.75h0.75v0.75h-0.75zM3.75 22.5h0.75v0.75h-0.75zM4.5 0h0.75v0.75h-0.75zM4.5 2.25h0.75v0.75h-0.75zM4.5 3.75h0.75v0.75h-0.75zM4.5 4.5h0.75v0.75h-0.75zM4.5 7.5h0.75v0.75h-0.75zM4.5 12h0.75v0.75h-0.75zM4.5 14.25h0.75v0.75h-0.75zM4.5 18.75h0.75v0.75h-0.75zM4.5 21h0.75v0.75h-0.75zM4.5 23.25h0.75v0.75h-0.75zM5.25 0h0.75v0.75h-0.75zM5.25 3h0.75v0.75h-0.75zM5.25 5.25h0.75v0.75h-0.75zM5.25 9.75h0.75v0.75h-0.75zM5.25 17.25h0.75v0.75h-0.75zM5.25 18h0.75v0.75h-0.75zM5.25 19.5h0.75v0.75h-0.75zM5.25 21.75h0.75v0.75h-0.75zM5.25 22.5h0.75v0.75h-0.75zM6 7.5h0.75v0.75h-0.75zM6 22.5h0.75v0.75h-0.75zM6.75 0h0.75v0.75h-0.75zM6.75 0.75h0.75v0.75h-0.75zM6.75 2.25h0.75v0.75h-0.75zM6.75 5.25h0.75v0.75h-0.75zM6.75 9.75h0.75v0.75h-0.75zM6.75 12.75h0.75v0.75h-0.75zM6.75 19.5h0.75v0.75h-0.75zM7.5 3h0.75v0.75h-0.75zM7.5 5.25h0.75v0.75h-0.75zM7.5 6.75h0.75v0.75h-0.75zM7.5 9h0.75v0.75h-0.75zM7.5 14.25h0.75v0.75h-0.75zM7.5 22.5h0.75v0.75h-0.75zM8.25 11.25h0.75v0.75h-0.75zM8.25 20.25h0.75v0.75h-0.75zM8.25 21h0.75v0.75h-0.75zM8.25 21.75h0.75v0.75h-0.75zM9 0h0.75v0.75h-0.75zM9 2.25h0.75v0.75h-0.75zM9 7.5h0.75v0.75h-0.75zM9 9h0.75v0.75h-0.75zM9 12.75h0.75v0.75h-0.75zM9 17.25h0.75v0.75h-0.75zM9 18h0.75v0.75h-0.75zM9 18.75h0.75v0.75h-0.75zM9.75 12.75h0.75v0.75h-0.75zM9.75 13.5h0.75v0.75h-0.75zM9.75 15h0.75v0.75h-0.75zM9.75 19.5h0.75v0.75h-0.75zM9.75 21h0.75v0.75h-0.75zM10.5 1.5h0.75v0.75h-0.75zM10.5 2.25h0.75v0.75h-0.75zM10.5 3.75h0.75v0.75h-0.75zM10.5 8.25h0.75v0.75h-0.75zM10.5 9.75h0.75v0.75h-0.75zM10.5 10.5h0.75v0.75h-0.75zM10.5 14.25h0.75v0.75h-0.75zM10.5 15h0.75v0.75h-0.75zM10.5 18.75h0.75v0.75h-0.75zM11.25 6h0.75v0.75h-0.75zM11.25 6.75h0.75v0.75h-0.75zM11.25 8.25h0.75v0.75h-0.75zM11.25 9.75h0.75v0.75h-0.75zM11.25 11.25h0.75v0.75h-0.75zM11.25 14.25h0.75v0.75h-0.75zM11.25 18h0.75v0.75h-0.75zM11.25 20.25h0.75v0.75h-0.75zM11.25 22.5h0.75v0.75h-0.75zM11.25 23.25h0.75v0.75h-0.75zM12 0h0.75v0.75h-0.75zM12 3.75h0.75v0.75h-0.75zM12 4.5h0.75v0.75h-0.75zM12 10.5h0.75v0.75h-0.75zM12 15h0.75v0.75h-0.75zM12 18.75h0.75v0.75h-0.75zM12 21h0.75v0.75h-0.75zM12.75 0.75h0.75v0.75h-0.75zM12.75 8.25h0.75v0.75h-0.75zM12.75 15.75h0.75v0.75h-0.75zM12.75 18h0.75v0.75h-0.75zM12.75 18.75h0.75v0.75h-0.75zM12.75 22.5h0.75v0.75h-0.75zM13.5 0h0.75v0.75h-0.75zM13.5 6.75h0.75v0.75h-0.75zM13.5 8.25h0.75v0.75h-0.75zM13.5 12h0.75v0.75h-0.75zM13.5 14.25h0.75v0.75h-0.75zM13.5 15.75h0.75v0.75h-0.75zM13.5 19.5h0.75v0.75h-0.75zM13.5 21.75h0.75v0.75h-0.75zM14.25 1.5h0.75v0.75h-0.75zM14.25 6h0.75v0.75h-0.75zM14.25 6.75h0.75v0.75h-0.75zM14.25 8.25h0.75v0.75h-0.75zM14.25 9h0.75v0.75h-0.75zM14.25 9.75h0.75v0.75h-0.75zM14.25 10.5h0.75v0.75h-0.75zM14.25 12h0.75v0.75h-0.75zM14.25 12.75h0.75v0.75h-0.75zM14.25 14.25h0.75v0.75h-0.75zM14.25 15.75h0.75v0.75h-0.75zM14.25 19.5h0.75v0.75h-0.75zM14.25 20.25h0.75v0.75h-0.75zM14.25 21.75h0.75v0.75h-0.75zM14.25 23.25h0.75v0.75h-0.75zM15 0h0.75v0.75h-0.75zM15 3h0.75v0.75h-0.75zM15 9h0.75v0.75h-0.75zM15 11.25h0.75v0.75h-0.75zM15 12h0.75v0.75h-0.75zM15 13.5h0.75v0.75h-0.75zM15 15h0.75v0.75h-0.75zM15 16.5h0.75v0.75h-0.75zM15 17.25h0.75v0.75h-0.75zM15 18h0.75v0.75h-0.75zM15 19.5h0.75v0.75h-0.75zM15.75 6h0.75v0.75h-0.75zM15.75 7.5h0.75v0.75h-0.75zM15.75 8.25h0.75v0.75h-0.75zM15.75 9h0.75v0.75h-0.75zM15.75 12h0.75v0.75h-0.75zM15.75 14.25h0.75v0.75h-0.75zM16.5 6.75h0.75v0.75h-0.75zM16.5 7.5h0.75v0.75h-0.75zM16.5 9h0.75v0.75h-0.75zM16.5 11.25h0.75v0.75h-0.75zM16.5 13.5h0.75v0.75h-0.75zM16.5 18.75h0.75v0.75h-0.75zM16.5 22.5h0.75v0.75h-0.75zM16.5 23.25h0.75v0.75h-0.75zM17.25 0.75h0.75v0.75h-0.75zM17.25 2.25h0.75v0.75h-0.75zM17.25 3h0.75v0.75h-0.75zM17.25 12h0.75v0.75h-0.75zM17.25 15h0.75v0.75h-0.75zM17.25 18h0.75v0.75h-0.75zM17.25 18.75h0.75v0.75h-0.75zM17.25 23.25h0.75v0.75h-0.75zM18 1.5h0.75v0.75h-0.75zM18 3h0.75v0.75h-0.75zM18 7.5h0.75v0.75h-0.75zM18 9h0.75v0.75h-0.75zM18 13.5h0.75v0.75h-0.75zM18 20.25h0.75v0.75h-0.75zM18.75 2.25h0.75v0.75h-0.75zM18.75 6h0.75v0.75h-0.75zM18.75 7.5h0.75v0.75h-0.75zM18.75 8.25h0.75v0.75h-0.75zM18.75 9.75h0.75v0.75h-0.75zM18.75 12.75h0.75v0.75h-0.75zM18.75 17.25h0.75v0.75h-0.75zM18.75 18h0.75v0.75h-0.75zM18.75 21.75h0.75v0.75h-0.75zM18.75 23.25h0.75v0.75h-0.75zM19.5 0h0.75v0.75h-0.75zM19.5 5.25h0.75v0.75h-0.75zM19.5 10.5h0.75v0.75h-0.75zM19.5 14.25h0.75v0.75h-0.75zM19.5 15.75h0.75v0.75h-0.75zM19.5 21h0.75v0.75h-0.75zM20.25 0h0.75v0.75h-0.75zM20.25 6h0.75v0.75h-0.75zM20.25 7.5h0.75v0.75h-0.75zM20.25 16.5h0.75v0.75h-0.75zM20.25 17.25h0.75v0.75h-0.75zM20.25 18h0.75v0.75h-0.75zM20.25 21h0.75v0.75h-0.75zM21 4.5h0.75v0.75h-0.75zM21 6.75h0.75v0.75h-0.75zM21 7.5h0.75v0.75h-0.75zM21 9.75h0.75v0.75h-0.75zM21 14.25h0.75v0.75h-0.75zM21 17.25h0.75v0.75h-0.75zM21 19.5h0.75v0.75h-0.75zM21 20.25h0.75v0.75h-0.75zM21.75 12.75h0.75v0.75h-0.75zM21.75 18h0.75v0.75h-0.75zM22.5 0h0.75v0.75h-0.75zM22.5 3h0.75v0.75h-0.75zM22.5 4.5h0.75v0.75h-0.75zM22.5 6.75h0.75v0.75h-0.75zM22.5 7.5h0.75v0.75h-0.75zM22.5 19.5h0.75v0.75h-0.75zM22.5 20.25h0.75v0.75h-0.75zM22.5 21.75h0.75v0.75h-0.75zM22.5 22.5h0.75v0.75h-0.75zM23.25 0h0.75v0.75h-0.75zM23.25 3h0.75v0.75h-0.75zM23.25 4.5h0.75v0.75h-0.75zM23.25 7.5h0.75v0.75h-0.75zM23.25 9h0.75v0.75h-0.75zM23.25 11.25h0.75v0.75h-0.75zM23.25 14.25h0.75v0.75h-0.75zM23.25 15h0.75v0.75h-0.75zM23.25 18h0.75v0.75h-0.75zM23.25 18.75h0.75v0.75h-0.75z"/><path fill="#f8d890" d="M0 8.25h0.75v0.75h-0.75zM0 9h0.75v0.75h-0.75zM0 18h0.75v0.75h-0.75zM0 18.75h0.75v0.75h-0.75zM0 22.5h0.75v0.75h-0.75zM0.75 19.5h0.75v0.75h-0.75zM1.5 16.5h0.75v0.75h-0.75zM2.25 2.25h0.75v0.75h-0.75zM2.25 9h0.75v0.75h-0.75zM2.25 17.25h0.75v0.75h-0.75zM3 0.75h0.75v0.75h-0.75zM3 5.25h0.75v0.75h-0.75zM3 6.75h0.75v0.75h-0.75zM3 7.5h0.75v0.75h-0.75zM3 11.25h0.75v0.75h-0.75zM3 16.5h0.75v0.75h-0.75zM4.5 0.75h0.75v0.75h-0.75zM4.5 1.5h0.75v0.75h-0.75zM4.5 12.75h0.75v0.75h-0.75zM4.5 15h0.75v0.75h-0.75zM4.5 18h0.75v0.75h-0.75zM5.25 0.75h0.75v0.75h-0.75zM5.25 10.5h0.75v0.75h-0.75zM5.25 12h0.75v0.75h-0.75zM5.25 20.25h0.75v0.75h-0.75zM6 3.75h0.75v0.75h-0.75zM6 6.75h0.75v0.75h-0.75zM6 12h0.75v0.75h-0.75zM6 16.5h0.75v0.75h-0.75zM6.75 7.5h0.75v0.75h-0.75zM6.75 14.25h0.75v0.75h-0.75zM7.5 1.5h0.75v0.75h-0.75zM7.5 8.25h0.75v0.75h-0.75zM7.5 11.25h0.75v0.75h-0.75zM7.5 23.25h0.75v0.75h-0.75zM8.25 4.5h0.75v0.75h-0.75zM9.75 3.75h0.75v0.75h-0.75zM9.75 7.5h0.75v0.75h-0.75zM9.75 10.5h0.75v0.75h-0.75zM9.75 14.25h0.75v0.75h-0.75zM9.75 16.5h0.75v0.75h-0.75zM9.75 17.25h0.75v0.75h-0.75zM9.75 20.25h0.75v0.75h-0.75zM10.5 5.25h0.75v0.75h-0.75zM10.5 12h0.75v0.75h-0.75zM10.5 12.75h0.75v0.75h-0.75zM11.25 21.75h0.75v0.75h-0.75zM12 2.25h0.75v0.75h-0.75zM12 11.25h0.75v0.75h-0.75zM12 23.25h0.75v0.75h-0.75zM12.75 14.25h0.75v0.75h-0.75zM13.5 5.25h0.75v0.75h-0.75zM13.5 13.5h0.75v0.75h-0.75zM13.5 17.25h0.75v0.75h-0.75zM13.5 18.75h0.75v0.75h-0.75zM13.5 21h0.75v0.75h-0.75zM14.25 18.75h0.75v0.75h-0.75zM14.25 21h0.75v0.75h-0.75zM15 1.5h0.75v0.75h-0.75zM15 18.75h0.75v0.75h-0.75zM15.75 20.25h0.75v0.75h-0.75zM15.75 22.5h0.75v0.75h-0.75zM16.5 10.5h0.75v0.75h-0.75zM16.5 18h0.75v0.75h-0.75zM16.5 20.25h0.75v0.75h-0.75zM17.25 13.5h0.75v0.75h-0.75zM18 11.25h0.75v0.75h-0.75zM18 17.25h0.75v0.75h-0.75zM18 21h0.75v0.75h-0.75zM18.75 0h0.75v0.75h-0.75zM18.75 3.75h0.75v0.75h-0.75zM19.5 9h0.75v0.75h-0.75zM19.5 12.75h0.75v0.75h-0.75zM19.5 22.5h0.75v0.75h-0.75zM20.25 4.5h0.75v0.75h-0.75zM21 0h0.75v0.75h-0.75zM21 3.75h0.75v0.75h-0.75zM21 5.25h0.75v0.75h-0.75zM21 18.75h0.75v0.75h-0.75zM21 21h0.75v0.75h-0.75zM21 23.25h0.75v0.75h-0.75zM21.75 3h0.75v0.75h-0.75zM21.75 4.5h0.75v0.75h-0.75zM21.75 14.25h0.75v0.75h-0.75zM21.75 17.25h0.75v0.75h-0.75zM22.5 1.5h0.75v0.75h-0.75z"/></pattern>
<pattern id="ssr" width="24.0" height="24.0" patternUnits="userSpaceOnUse"><rect width="24.0" height="24.0" fill="#000"/><path fill="#e8782a" d="M0 6.75h0.75v0.75h-0.75zM0 9.75h0.75v0.75h-0.75zM0 21.75h0.75v0.75h-0.75zM0.75 4.5h0.75v0.75h-0.75zM0.75 9h0.75v0.75h-0.75zM0.75 10.5h0.75v0.75h-0.75zM0.75 12.75h0.75v0.75h-0.75zM0.75 19.5h0.75v0.75h-0.75zM0.75 23.25h0.75v0.75h-0.75zM1.5 3h0.75v0.75h-0.75zM1.5 12.75h0.75v0.75h-0.75zM1.5 16.5h0.75v0.75h-0.75zM1.5 21h0.75v0.75h-0.75zM2.25 6.75h0.75v0.75h-0.75zM2.25 9.75h0.75v0.75h-0.75zM2.25 21.75h0.75v0.75h-0.75zM3 3.75h0.75v0.75h-0.75zM3.75 7.5h0.75v0.75h-0.75zM3.75 11.25h0.75v0.75h-0.75zM3.75 12.75h0.75v0.75h-0.75zM3.75 13.5h0.75v0.75h-0.75zM3.75 20.25h0.75v0.75h-0.75zM4.5 0.75h0.75v0.75h-0.75zM4.5 2.25h0.75v0.75h-0.75zM4.5 19.5h0.75v0.75h-0.75zM5.25 1.5h0.75v0.75h-0.75zM5.25 2.25h0.75v0.75h-0.75zM5.25 11.25h0.75v0.75h-0.75zM5.25 15h0.75v0.75h-0.75zM5.25 18.75h0.75v0.75h-0.75zM5.25 22.5h0.75v0.75h-0.75zM6 4.5h0.75v0.75h-0.75zM6 15.75h0.75v0.75h-0.75zM6 17.25h0.75v0.75h-0.75zM6.75 1.5h0.75v0.75h-0.75zM6.75 2.25h0.75v0.75h-0.75zM6.75 6.75h0.75v0.75h-0.75zM6.75 12.75h0.75v0.75h-0.75zM6.75 15h0.75v0.75h-0.75zM6.75 18.75h0.75v0.75h-0.75zM6.75 21h0.75v0.75h-0.75zM6.75 22.5h0.75v0.75h-0.75zM7.5 0.75h0.75v0.75h-0.75zM7.5 4.5h0.75v0.75h-0.75zM7.5 13.5h0.75v0.75h-0.75zM7.5 16.5h0.75v0.75h-0.75zM7.5 18.75h0.75v0.75h-0.75zM8.25 3.75h0.75v0.75h-0.75zM8.25 13.5h0.75v0.75h-0.75zM8.25 19.5h0.75v0.75h-0.75zM9 13.5h0.75v0.75h-0.75zM9 15h0.75v0.75h-0.75zM9 16.5h0.75v0.75h-0.75zM9 17.25h0.75v0.75h-0.75zM9.75 3h0.75v0.75h-0.75zM9.75 4.5h0.75v0.75h-0.75zM9.75 12.75h0.75v0.75h-0.75zM9.75 22.5h0.75v0.75h-0.75zM10.5 3.75h0.75v0.75h-0.75zM10.5 9.75h0.75v0.75h-0.75zM10.5 17.25h0.75v0.75h-0.75zM10.5 18.75h0.75v0.75h-0.75zM10.5 23.25h0.75v0.75h-0.75zM11.25 1.5h0.75v0.75h-0.75zM11.25 2.25h0.75v0.75h-0.75zM11.25 3h0.75v0.75h-0.75zM11.25 5.25h0.75v0.75h-0.75zM11.25 6.75h0.75v0.75h-0.75zM11.25 7.5h0.75v0.75h-0.75zM11.25 23.25h0.75v0.75h-0.75zM12 13.5h0.75v0.75h-0.75zM12 15.75h0.75v0.75h-0.75zM12.75 9.75h0.75v0.75h-0.75zM12.75 12h0.75v0.75h-0.75zM12.75 23.25h0.75v0.75h-0.75zM13.5 10.5h0.75v0.75h-0.75zM13.5 16.5h0.75v0.75h-0.75zM13.5 22.5h0.75v0.75h-0.75zM14.25 2.25h0.75v0.75h-0.75zM14.25 15h0.75v0.75h-0.75zM14.25 15.75h0.75v0.75h-0.75zM14.25 18h0.75v0.75h-0.75zM14.25 19.5h0.75v0.75h-0.75zM14.25 22.5h0.75v0.75h-0.75zM15 3h0.75v0.75h-0.75zM15 6.75h0.75v0.75h-0.75zM15 12h0.75v0.75h-0.75zM15.75 3h0.75v0.75h-0.75zM15.75 13.5h0.75v0.75h-0.75zM15.75 15h0.75v0.75h-0.75zM15.75 17.25h0.75v0.75h-0.75zM16.5 0h0.75v0.75h-0.75zM16.5 2.25h0.75v0.75h-0.75zM16.5 8.25h0.75v0.75h-0.75zM16.5 11.25h0.75v0.75h-0.75zM16.5 12.75h0.75v0.75h-0.75zM16.5 21h0.75v0.75h-0.75zM16.5 22.5h0.75v0.75h-0.75zM16.5 23.25h0.75v0.75h-0.75zM17.25 0h0.75v0.75h-0.75zM17.25 4.5h0.75v0.75h-0.75zM17.25 7.5h0.75v0.75h-0.75zM17.25 16.5h0.75v0.75h-0.75zM18 5.25h0.75v0.75h-0.75zM18 7.5h0.75v0.75h-0.75zM18 16.5h0.75v0.75h-0.75zM18.75 0.75h0.75v0.75h-0.75zM18.75 6h0.75v0.75h-0.75zM18.75 11.25h0.75v0.75h-0.75zM18.75 12.75h0.75v0.75h-0.75zM18.75 13.5h0.75v0.75h-0.75zM18.75 14.25h0.75v0.75h-0.75zM18.75 21h0.75v0.75h-0.75zM18.75 22.5h0.75v0.75h-0.75zM19.5 1.5h0.75v0.75h-0.75zM19.5 5.25h0.75v0.75h-0.75zM19.5 15h0.75v0.75h-0.75zM19.5 22.5h0.75v0.75h-0.75zM20.25 12h0.75v0.75h-0.75zM20.25 18h0.75v0.75h-0.75zM21 3h0.75v0.75h-0.75zM21 3.75h0.75v0.75h-0.75zM21 9.75h0.75v0.75h-0.75zM21 17.25h0.75v0.75h-0.75zM21 18h0.75v0.75h-0.75zM21 20.25h0.75v0.75h-0.75zM21.75 3.75h0.75v0.75h-0.75zM21.75 21h0.75v0.75h-0.75zM21.75 23.25h0.75v0.75h-0.75zM22.5 3h0.75v0.75h-0.75zM22.5 13.5h0.75v0.75h-0.75zM23.25 6h0.75v0.75h-0.75zM23.25 6.75h0.75v0.75h-0.75zM23.25 9h0.75v0.75h-0.75zM23.25 9.75h0.75v0.75h-0.75zM23.25 21h0.75v0.75h-0.75z"/><path fill="#f8d890" d="M0 1.5h0.75v0.75h-0.75zM0.75 15h0.75v0.75h-0.75zM1.5 14.25h0.75v0.75h-0.75zM2.25 9h0.75v0.75h-0.75zM2.25 15h0.75v0.75h-0.75zM3 6h0.75v0.75h-0.75zM3 14.25h0.75v0.75h-0.75zM3 20.25h0.75v0.75h-0.75zM3.75 5.25h0.75v0.75h-0.75zM3.75 8.25h0.75v0.75h-0.75zM3.75 10.5h0.75v0.75h-0.75zM4.5 8.25h0.75v0.75h-0.75zM4.5 13.5h0.75v0.75h-0.75zM4.5 15.75h0.75v0.75h-0.75zM4.5 20.25h0.75v0.75h-0.75zM4.5 21h0.75v0.75h-0.75zM6 18h0.75v0.75h-0.75zM6 19.5h0.75v0.75h-0.75zM6 23.25h0.75v0.75h-0.75zM6.75 9.75h0.75v0.75h-0.75zM6.75 14.25h0.75v0.75h-0.75zM7.5 17.25h0.75v0.75h-0.75zM8.25 9.75h0.75v0.75h-0.75zM8.25 14.25h0.75v0.75h-0.75zM8.25 18h0.75v0.75h-0.75zM9 18h0.75v0.75h-0.75zM9 20.25h0.75v0.75h-0.75zM9 22.5h0.75v0.75h-0.75zM9.75 9.75h0.75v0.75h-0.75zM10.5 0h0.75v0.75h-0.75zM10.5 16.5h0.75v0.75h-0.75zM11.25 0.75h0.75v0.75h-0.75zM11.25 4.5h0.75v0.75h-0.75zM12 8.25h0.75v0.75h-0.75zM12 17.25h0.75v0.75h-0.75zM12.75 11.25h0.75v0.75h-0.75zM12.75 15.75h0.75v0.75h-0.75zM12.75 20.25h0.75v0.75h-0.75zM13.5 15.75h0.75v0.75h-0.75zM14.25 1.5h0.75v0.75h-0.75zM15 3.75h0.75v0.75h-0.75zM15.75 0h0.75v0.75h-0.75zM15.75 0.75h0.75v0.75h-0.75zM15.75 1.5h0.75v0.75h-0.75zM15.75 6h0.75v0.75h-0.75zM15.75 6.75h0.75v0.75h-0.75zM15.75 18h0.75v0.75h-0.75zM16.5 5.25h0.75v0.75h-0.75zM16.5 19.5h0.75v0.75h-0.75zM17.25 0.75h0.75v0.75h-0.75zM17.25 20.25h0.75v0.75h-0.75zM18 9.75h0.75v0.75h-0.75zM18 10.5h0.75v0.75h-0.75zM19.5 0h0.75v0.75h-0.75zM21 0h0.75v0.75h-0.75zM21 21h0.75v0.75h-0.75zM21.75 11.25h0.75v0.75h-0.75zM21.75 15.75h0.75v0.75h-0.75zM21.75 19.5h0.75v0.75h-0.75zM22.5 0.75h0.75v0.75h-0.75zM22.5 8.25h0.75v0.75h-0.75zM23.25 12.75h0.75v0.75h-0.75zM23.25 15.75h0.75v0.75h-0.75zM23.25 18.75h0.75v0.75h-0.75z"/><path fill="#c0307a" d="M0 12h0.75v0.75h-0.75zM0 12.75h0.75v0.75h-0.75zM0.75 3h0.75v0.75h-0.75zM0.75 3.75h0.75v0.75h-0.75zM0.75 12h0.75v0.75h-0.75zM0.75 16.5h0.75v0.75h-0.75zM0.75 22.5h0.75v0.75h-0.75zM1.5 12h0.75v0.75h-0.75zM1.5 18.75h0.75v0.75h-0.75zM2.25 4.5h0.75v0.75h-0.75zM2.25 12.75h0.75v0.75h-0.75zM2.25 14.25h0.75v0.75h-0.75zM2.25 18.75h0.75v0.75h-0.75zM3 15h0.75v0.75h-0.75zM3 21.75h0.75v0.75h-0.75zM3.75 2.25h0.75v0.75h-0.75zM3.75 19.5h0.75v0.75h-0.75zM5.25 3.75h0.75v0.75h-0.75zM5.25 12h0.75v0.75h-0.75zM6 5.25h0.75v0.75h-0.75zM6.75 3h0.75v0.75h-0.75zM6.75 10.5h0.75v0.75h-0.75zM6.75 11.25h0.75v0.75h-0.75zM7.5 6h0.75v0.75h-0.75zM7.5 7.5h0.75v0.75h-0.75zM7.5 19.5h0.75v0.75h-0.75zM8.25 1.5h0.75v0.75h-0.75zM8.25 9h0.75v0.75h-0.75zM9 21.75h0.75v0.75h-0.75zM9.75 10.5h0.75v0.75h-0.75zM9.75 23.25h0.75v0.75h-0.75zM10.5 2.25h0.75v0.75h-0.75zM10.5 22.5h0.75v0.75h-0.75zM11.25 15.75h0.75v0.75h-0.75zM11.25 21h0.75v0.75h-0.75zM12 0h0.75v0.75h-0.75zM12 10.5h0.75v0.75h-0.75zM12 12h0.75v0.75h-0.75zM12 22.5h0.75v0.75h-0.75zM12.75 13.5h0.75v0.75h-0.75zM12.75 14.25h0.75v0.75h-0.75zM12.75 18h0.75v0.75h-0.75zM12.75 22.5h0.75v0.75h-0.75zM13.5 12h0.75v0.75h-0.75zM13.5 12.75h0.75v0.75h-0.75zM14.25 0.75h0.75v0.75h-0.75zM15 0.75h0.75v0.75h-0.75zM15.75 22.5h0.75v0.75h-0.75zM16.5 15h0.75v0.75h-0.75zM17.25 1.5h0.75v0.75h-0.75zM17.25 8.25h0.75v0.75h-0.75zM17.25 12.75h0.75v0.75h-0.75zM18 12.75h0.75v0.75h-0.75zM18 15.75h0.75v0.75h-0.75zM18 20.25h0.75v0.75h-0.75zM18.75 8.25h0.75v0.75h-0.75zM18.75 19.5h0.75v0.75h-0.75zM19.5 14.25h0.75v0.75h-0.75zM19.5 21.75h0.75v0.75h-0.75zM20.25 9h0.75v0.75h-0.75zM21 9h0.75v0.75h-0.75zM21.75 1.5h0.75v0.75h-0.75zM21.75 5.25h0.75v0.75h-0.75zM21.75 14.25h0.75v0.75h-0.75zM21.75 20.25h0.75v0.75h-0.75zM22.5 7.5h0.75v0.75h-0.75zM23.25 1.5h0.75v0.75h-0.75zM23.25 8.25h0.75v0.75h-0.75z"/></pattern>
<pattern id="ssb" width="24.0" height="24.0" patternUnits="userSpaceOnUse"><rect width="24.0" height="24.0" fill="#c42c74"/><path fill="#000" d="M0 1.5h0.75v0.75h-0.75zM0 2.25h0.75v0.75h-0.75zM0 8.25h0.75v0.75h-0.75zM0 15h0.75v0.75h-0.75zM0 15.75h0.75v0.75h-0.75zM0 21.75h0.75v0.75h-0.75zM0 23.25h0.75v0.75h-0.75zM0.75 9.75h0.75v0.75h-0.75zM1.5 0.75h0.75v0.75h-0.75zM1.5 12.75h0.75v0.75h-0.75zM1.5 17.25h0.75v0.75h-0.75zM1.5 21h0.75v0.75h-0.75zM2.25 3h0.75v0.75h-0.75zM2.25 6h0.75v0.75h-0.75zM2.25 7.5h0.75v0.75h-0.75zM2.25 9h0.75v0.75h-0.75zM2.25 11.25h0.75v0.75h-0.75zM2.25 14.25h0.75v0.75h-0.75zM2.25 15.75h0.75v0.75h-0.75zM2.25 16.5h0.75v0.75h-0.75zM2.25 19.5h0.75v0.75h-0.75zM2.25 21h0.75v0.75h-0.75zM3 6h0.75v0.75h-0.75zM3 8.25h0.75v0.75h-0.75zM3 11.25h0.75v0.75h-0.75zM3 15h0.75v0.75h-0.75zM3 16.5h0.75v0.75h-0.75zM3 17.25h0.75v0.75h-0.75zM3 18h0.75v0.75h-0.75zM3 18.75h0.75v0.75h-0.75zM3 19.5h0.75v0.75h-0.75zM3.75 7.5h0.75v0.75h-0.75zM3.75 8.25h0.75v0.75h-0.75zM3.75 9.75h0.75v0.75h-0.75zM3.75 12h0.75v0.75h-0.75zM3.75 23.25h0.75v0.75h-0.75zM4.5 2.25h0.75v0.75h-0.75zM4.5 9h0.75v0.75h-0.75zM4.5 10.5h0.75v0.75h-0.75zM4.5 13.5h0.75v0.75h-0.75zM4.5 18h0.75v0.75h-0.75zM4.5 21h0.75v0.75h-0.75zM5.25 3h0.75v0.75h-0.75zM5.25 3.75h0.75v0.75h-0.75zM5.25 4.5h0.75v0.75h-0.75zM5.25 8.25h0.75v0.75h-0.75zM6 2.25h0.75v0.75h-0.75zM6 4.5h0.75v0.75h-0.75zM6 6h0.75v0.75h-0.75zM6 6.75h0.75v0.75h-0.75zM6 9.75h0.75v0.75h-0.75zM6 15h0.75v0.75h-0.75zM6 18h0.75v0.75h-0.75zM6.75 2.25h0.75v0.75h-0.75zM6.75 3.75h0.75v0.75h-0.75zM6.75 21h0.75v0.75h-0.75zM7.5 1.5h0.75v0.75h-0.75zM7.5 6h0.75v0.75h-0.75zM7.5 12h0.75v0.75h-0.75zM7.5 18h0.75v0.75h-0.75zM7.5 18.75h0.75v0.75h-0.75zM8.25 2.25h0.75v0.75h-0.75zM8.25 3h0.75v0.75h-0.75zM8.25 9.75h0.75v0.75h-0.75zM8.25 10.5h0.75v0.75h-0.75zM8.25 13.5h0.75v0.75h-0.75zM8.25 23.25h0.75v0.75h-0.75zM9 5.25h0.75v0.75h-0.75zM9 15h0.75v0.75h-0.75zM9 18.75h0.75v0.75h-0.75zM9 20.25h0.75v0.75h-0.75zM9.75 3h0.75v0.75h-0.75zM10.5 6h0.75v0.75h-0.75zM10.5 6.75h0.75v0.75h-0.75zM10.5 16.5h0.75v0.75h-0.75zM10.5 18.75h0.75v0.75h-0.75zM10.5 19.5h0.75v0.75h-0.75zM11.25 4.5h0.75v0.75h-0.75zM11.25 5.25h0.75v0.75h-0.75zM11.25 8.25h0.75v0.75h-0.75zM12 0.75h0.75v0.75h-0.75zM12 1.5h0.75v0.75h-0.75zM12 3h0.75v0.75h-0.75zM12 6h0.75v0.75h-0.75zM12 8.25h0.75v0.75h-0.75zM12 9h0.75v0.75h-0.75zM12 11.25h0.75v0.75h-0.75zM12 12.75h0.75v0.75h-0.75zM12 15h0.75v0.75h-0.75zM12 18.75h0.75v0.75h-0.75zM12 20.25h0.75v0.75h-0.75zM12.75 1.5h0.75v0.75h-0.75zM12.75 3h0.75v0.75h-0.75zM12.75 3.75h0.75v0.75h-0.75zM12.75 4.5h0.75v0.75h-0.75zM12.75 6h0.75v0.75h-0.75zM12.75 12.75h0.75v0.75h-0.75zM12.75 13.5h0.75v0.75h-0.75zM13.5 4.5h0.75v0.75h-0.75zM13.5 12h0.75v0.75h-0.75zM13.5 15.75h0.75v0.75h-0.75zM13.5 17.25h0.75v0.75h-0.75zM14.25 8.25h0.75v0.75h-0.75zM15 12h0.75v0.75h-0.75zM15 20.25h0.75v0.75h-0.75zM15 21.75h0.75v0.75h-0.75zM15 22.5h0.75v0.75h-0.75zM15.75 0.75h0.75v0.75h-0.75zM15.75 6h0.75v0.75h-0.75zM15.75 15h0.75v0.75h-0.75zM15.75 16.5h0.75v0.75h-0.75zM16.5 1.5h0.75v0.75h-0.75zM16.5 3.75h0.75v0.75h-0.75zM16.5 6.75h0.75v0.75h-0.75zM16.5 12.75h0.75v0.75h-0.75zM16.5 14.25h0.75v0.75h-0.75zM16.5 15h0.75v0.75h-0.75zM16.5 19.5h0.75v0.75h-0.75zM16.5 21h0.75v0.75h-0.75zM16.5 23.25h0.75v0.75h-0.75zM17.25 6h0.75v0.75h-0.75zM17.25 12.75h0.75v0.75h-0.75zM17.25 15h0.75v0.75h-0.75zM17.25 18.75h0.75v0.75h-0.75zM17.25 23.25h0.75v0.75h-0.75zM18 0h0.75v0.75h-0.75zM18 5.25h0.75v0.75h-0.75zM18 9.75h0.75v0.75h-0.75zM18 11.25h0.75v0.75h-0.75zM18 13.5h0.75v0.75h-0.75zM18 17.25h0.75v0.75h-0.75zM18 21h0.75v0.75h-0.75zM18.75 6h0.75v0.75h-0.75zM18.75 7.5h0.75v0.75h-0.75zM18.75 9h0.75v0.75h-0.75zM18.75 20.25h0.75v0.75h-0.75zM19.5 14.25h0.75v0.75h-0.75zM20.25 0h0.75v0.75h-0.75zM20.25 12.75h0.75v0.75h-0.75zM20.25 14.25h0.75v0.75h-0.75zM20.25 20.25h0.75v0.75h-0.75zM21 0h0.75v0.75h-0.75zM21 0.75h0.75v0.75h-0.75zM21 1.5h0.75v0.75h-0.75zM21 3.75h0.75v0.75h-0.75zM21 11.25h0.75v0.75h-0.75zM21.75 3.75h0.75v0.75h-0.75zM21.75 12h0.75v0.75h-0.75zM21.75 14.25h0.75v0.75h-0.75zM21.75 15h0.75v0.75h-0.75zM21.75 19.5h0.75v0.75h-0.75zM21.75 23.25h0.75v0.75h-0.75zM22.5 4.5h0.75v0.75h-0.75zM22.5 5.25h0.75v0.75h-0.75zM22.5 6.75h0.75v0.75h-0.75zM22.5 10.5h0.75v0.75h-0.75zM22.5 13.5h0.75v0.75h-0.75zM22.5 16.5h0.75v0.75h-0.75zM22.5 18.75h0.75v0.75h-0.75zM23.25 0h0.75v0.75h-0.75zM23.25 1.5h0.75v0.75h-0.75zM23.25 2.25h0.75v0.75h-0.75zM23.25 3h0.75v0.75h-0.75zM23.25 12h0.75v0.75h-0.75zM23.25 12.75h0.75v0.75h-0.75zM23.25 16.5h0.75v0.75h-0.75zM23.25 21h0.75v0.75h-0.75zM23.25 23.25h0.75v0.75h-0.75z"/><path fill="#ea602a" d="M0 3.75h0.75v0.75h-0.75zM0 4.5h0.75v0.75h-0.75zM0 6h0.75v0.75h-0.75zM0 6.75h0.75v0.75h-0.75zM0 7.5h0.75v0.75h-0.75zM0 10.5h0.75v0.75h-0.75zM0 12.75h0.75v0.75h-0.75zM0 19.5h0.75v0.75h-0.75zM0 20.25h0.75v0.75h-0.75zM0.75 1.5h0.75v0.75h-0.75zM0.75 3.75h0.75v0.75h-0.75zM0.75 4.5h0.75v0.75h-0.75zM0.75 6h0.75v0.75h-0.75zM0.75 6.75h0.75v0.75h-0.75zM0.75 10.5h0.75v0.75h-0.75zM0.75 11.25h0.75v0.75h-0.75zM0.75 12.75h0.75v0.75h-0.75zM0.75 19.5h0.75v0.75h-0.75zM0.75 21h0.75v0.75h-0.75zM1.5 0h0.75v0.75h-0.75zM1.5 5.25h0.75v0.75h-0.75zM1.5 7.5h0.75v0.75h-0.75zM1.5 8.25h0.75v0.75h-0.75zM1.5 12h0.75v0.75h-0.75zM1.5 14.25h0.75v0.75h-0.75zM1.5 16.5h0.75v0.75h-0.75zM1.5 18h0.75v0.75h-0.75zM1.5 21.75h0.75v0.75h-0.75zM2.25 2.25h0.75v0.75h-0.75zM2.25 5.25h0.75v0.75h-0.75zM2.25 8.25h0.75v0.75h-0.75zM2.25 10.5h0.75v0.75h-0.75zM2.25 12.75h0.75v0.75h-0.75zM2.25 18h0.75v0.75h-0.75zM2.25 18.75h0.75v0.75h-0.75zM2.25 22.5h0.75v0.75h-0.75zM2.25 23.25h0.75v0.75h-0.75zM3 0.75h0.75v0.75h-0.75zM3 2.25h0.75v0.75h-0.75zM3 4.5h0.75v0.75h-0.75zM3 9h0.75v0.75h-0.75zM3 13.5h0.75v0.75h-0.75zM3 15.75h0.75v0.75h-0.75zM3 20.25h0.75v0.75h-0.75zM3.75 2.25h0.75v0.75h-0.75zM3.75 3h0.75v0.75h-0.75zM3.75 3.75h0.75v0.75h-0.75zM3.75 4.5h0.75v0.75h-0.75zM3.75 6.75h0.75v0.75h-0.75zM3.75 10.5h0.75v0.75h-0.75zM3.75 15h0.75v0.75h-0.75zM3.75 17.25h0.75v0.75h-0.75zM3.75 20.25h0.75v0.75h-0.75zM3.75 22.5h0.75v0.75h-0.75zM4.5 0.75h0.75v0.75h-0.75zM4.5 3h0.75v0.75h-0.75zM4.5 6h0.75v0.75h-0.75zM4.5 9.75h0.75v0.75h-0.75zM4.5 12.75h0.75v0.75h-0.75zM4.5 17.25h0.75v0.75h-0.75zM4.5 21.75h0.75v0.75h-0.75zM4.5 23.25h0.75v0.75h-0.75zM5.25 1.5h0.75v0.75h-0.75zM5.25 6h0.75v0.75h-0.75zM5.25 7.5h0.75v0.75h-0.75zM5.25 9h0.75v0.75h-0.75zM5.25 9.75h0.75v0.75h-0.75zM5.25 10.5h0.75v0.75h-0.75zM5.25 13.5h0.75v0.75h-0.75zM5.25 15h0.75v0.75h-0.75zM5.25 17.25h0.75v0.75h-0.75zM5.25 23.25h0.75v0.75h-0.75zM6 0.75h0.75v0.75h-0.75zM6 1.5h0.75v0.75h-0.75zM6 9h0.75v0.75h-0.75zM6 12h0.75v0.75h-0.75zM6 12.75h0.75v0.75h-0.75zM6 14.25h0.75v0.75h-0.75zM6 15.75h0.75v0.75h-0.75zM6 17.25h0.75v0.75h-0.75zM6 19.5h0.75v0.75h-0.75zM6 22.5h0.75v0.75h-0.75zM6.75 0.75h0.75v0.75h-0.75zM6.75 1.5h0.75v0.75h-0.75zM6.75 4.5h0.75v0.75h-0.75zM6.75 9h0.75v0.75h-0.75zM6.75 10.5h0.75v0.75h-0.75zM6.75 13.5h0.75v0.75h-0.75zM6.75 14.25h0.75v0.75h-0.75zM6.75 15h0.75v0.75h-0.75zM6.75 17.25h0.75v0.75h-0.75zM6.75 18.75h0.75v0.75h-0.75zM6.75 20.25h0.75v0.75h-0.75zM6.75 22.5h0.75v0.75h-0.75zM7.5 0h0.75v0.75h-0.75zM7.5 0.75h0.75v0.75h-0.75zM7.5 3h0.75v0.75h-0.75zM7.5 3.75h0.75v0.75h-0.75zM7.5 6.75h0.75v0.75h-0.75zM7.5 7.5h0.75v0.75h-0.75zM7.5 9h0.75v0.75h-0.75zM7.5 9.75h0.75v0.75h-0.75zM7.5 11.25h0.75v0.75h-0.75zM7.5 12.75h0.75v0.75h-0.75zM7.5 15h0.75v0.75h-0.75zM7.5 21h0.75v0.75h-0.75zM7.5 21.75h0.75v0.75h-0.75zM7.5 23.25h0.75v0.75h-0.75zM8.25 3.75h0.75v0.75h-0.75zM8.25 5.25h0.75v0.75h-0.75zM8.25 6h0.75v0.75h-0.75zM8.25 7.5h0.75v0.75h-0.75zM8.25 8.25h0.75v0.75h-0.75zM8.25 14.25h0.75v0.75h-0.75zM8.25 16.5h0.75v0.75h-0.75zM8.25 20.25h0.75v0.75h-0.75zM8.25 21.75h0.75v0.75h-0.75zM9 1.5h0.75v0.75h-0.75zM9 2.25h0.75v0.75h-0.75zM9 3h0.75v0.75h-0.75zM9 6h0.75v0.75h-0.75zM9 7.5h0.75v0.75h-0.75zM9 9h0.75v0.75h-0.75zM9 9.75h0.75v0.75h-0.75zM9 15.75h0.75v0.75h-0.75zM9.75 0.75h0.75v0.75h-0.75zM9.75 5.25h0.75v0.75h-0.75zM9.75 7.5h0.75v0.75h-0.75zM9.75 9h0.75v0.75h-0.75zM9.75 9.75h0.75v0.75h-0.75zM9.75 15h0.75v0.75h-0.75zM9.75 16.5h0.75v0.75h-0.75zM9.75 17.25h0.75v0.75h-0.75zM9.75 19.5h0.75v0.75h-0.75zM9.75 21.75h0.75v0.75h-0.75zM9.75 22.5h0.75v0.75h-0.75zM10.5 10.5h0.75v0.75h-0.75zM10.5 12h0.75v0.75h-0.75zM10.5 15.75h0.75v0.75h-0.75zM11.25 1.5h0.75v0.75h-0.75zM11.25 3.75h0.75v0.75h-0.75zM11.25 7.5h0.75v0.75h-0.75zM11.25 9h0.75v0.75h-0.75zM11.25 11.25h0.75v0.75h-0.75zM11.25 12h0.75v0.75h-0.75zM11.25 15.75h0.75v0.75h-0.75zM11.25 18h0.75v0.75h-0.75zM11.25 18.75h0.75v0.75h-0.75zM11.25 19.5h0.75v0.75h-0.75zM12 0h0.75v0.75h-0.75zM12 4.5h0.75v0.75h-0.75zM12 7.5h0.75v0.75h-0.75zM12 12h0.75v0.75h-0.75zM12 14.25h0.75v0.75h-0.75zM12 18h0.75v0.75h-0.75zM12 23.25h0.75v0.75h-0.75zM12.75 0h0.75v0.75h-0.75zM12.75 8.25h0.75v0.75h-0.75zM12.75 10.5h0.75v0.75h-0.75zM12.75 14.25h0.75v0.75h-0.75zM12.75 15h0.75v0.75h-0.75zM12.75 20.25h0.75v0.75h-0.75zM12.75 21h0.75v0.75h-0.75zM12.75 21.75h0.75v0.75h-0.75zM13.5 0h0.75v0.75h-0.75zM13.5 2.25h0.75v0.75h-0.75zM13.5 3h0.75v0.75h-0.75zM13.5 3.75h0.75v0.75h-0.75zM13.5 5.25h0.75v0.75h-0.75zM13.5 7.5h0.75v0.75h-0.75zM13.5 8.25h0.75v0.75h-0.75zM13.5 9h0.75v0.75h-0.75zM13.5 9.75h0.75v0.75h-0.75zM13.5 10.5h0.75v0.75h-0.75zM13.5 12.75h0.75v0.75h-0.75zM13.5 15h0.75v0.75h-0.75zM13.5 18h0.75v0.75h-0.75zM13.5 18.75h0.75v0.75h-0.75zM14.25 1.5h0.75v0.75h-0.75zM14.25 3.75h0.75v0.75h-0.75zM14.25 6h0.75v0.75h-0.75zM14.25 7.5h0.75v0.75h-0.75zM14.25 9h0.75v0.75h-0.75zM14.25 12.75h0.75v0.75h-0.75zM14.25 14.25h0.75v0.75h-0.75zM14.25 16.5h0.75v0.75h-0.75zM14.25 17.25h0.75v0.75h-0.75zM14.25 18h0.75v0.75h-0.75zM15 1.5h0.75v0.75h-0.75zM15 3.75h0.75v0.75h-0.75zM15 6h0.75v0.75h-0.75zM15 6.75h0.75v0.75h-0.75zM15 8.25h0.75v0.75h-0.75zM15 16.5h0.75v0.75h-0.75zM15 21h0.75v0.75h-0.75zM15 23.25h0.75v0.75h-0.75zM15.75 1.5h0.75v0.75h-0.75zM15.75 3h0.75v0.75h-0.75zM15.75 4.5h0.75v0.75h-0.75zM15.75 9.75h0.75v0.75h-0.75zM15.75 11.25h0.75v0.75h-0.75zM15.75 12h0.75v0.75h-0.75zM15.75 12.75h0.75v0.75h-0.75zM15.75 15.75h0.75v0.75h-0.75zM15.75 17.25h0.75v0.75h-0.75zM16.5 0h0.75v0.75h-0.75zM16.5 0.75h0.75v0.75h-0.75zM16.5 3h0.75v0.75h-0.75zM16.5 4.5h0.75v0.75h-0.75zM16.5 9h0.75v0.75h-0.75zM16.5 9.75h0.75v0.75h-0.75zM16.5 10.5h0.75v0.75h-0.75zM16.5 11.25h0.75v0.75h-0.75zM16.5 16.5h0.75v0.75h-0.75zM16.5 17.25h0.75v0.75h-0.75zM16.5 18h0.75v0.75h-0.75zM16.5 20.25h0.75v0.75h-0.75zM16.5 21.75h0.75v0.75h-0.75zM17.25 0.75h0.75v0.75h-0.75zM17.25 5.25h0.75v0.75h-0.75zM17.25 6.75h0.75v0.75h-0.75zM17.25 9h0.75v0.75h-0.75zM17.25 9.75h0.75v0.75h-0.75zM17.25 15.75h0.75v0.75h-0.75zM17.25 17.25h0.75v0.75h-0.75zM17.25 19.5h0.75v0.75h-0.75zM17.25 20.25h0.75v0.75h-0.75zM17.25 22.5h0.75v0.75h-0.75zM18 0.75h0.75v0.75h-0.75zM18 3h0.75v0.75h-0.75zM18 6.75h0.75v0.75h-0.75zM18 10.5h0.75v0.75h-0.75zM18 16.5h0.75v0.75h-0.75zM18 18.75h0.75v0.75h-0.75zM18.75 0.75h0.75v0.75h-0.75zM18.75 4.5h0.75v0.75h-0.75zM18.75 5.25h0.75v0.75h-0.75zM18.75 6.75h0.75v0.75h-0.75zM18.75 9.75h0.75v0.75h-0.75zM18.75 11.25h0.75v0.75h-0.75zM18.75 12h0.75v0.75h-0.75zM18.75 17.25h0.75v0.75h-0.75zM18.75 19.5h0.75v0.75h-0.75zM18.75 23.25h0.75v0.75h-0.75zM19.5 0h0.75v0.75h-0.75zM19.5 0.75h0.75v0.75h-0.75zM19.5 2.25h0.75v0.75h-0.75zM19.5 5.25h0.75v0.75h-0.75zM19.5 6h0.75v0.75h-0.75zM19.5 6.75h0.75v0.75h-0.75zM19.5 9h0.75v0.75h-0.75zM19.5 12h0.75v0.75h-0.75zM19.5 12.75h0.75v0.75h-0.75zM19.5 15h0.75v0.75h-0.75zM19.5 15.75h0.75v0.75h-0.75zM19.5 19.5h0.75v0.75h-0.75zM19.5 20.25h0.75v0.75h-0.75zM19.5 21h0.75v0.75h-0.75zM19.5 22.5h0.75v0.75h-0.75zM20.25 0.75h0.75v0.75h-0.75zM20.25 1.5h0.75v0.75h-0.75zM20.25 4.5h0.75v0.75h-0.75zM20.25 6.75h0.75v0.75h-0.75zM20.25 8.25h0.75v0.75h-0.75zM20.25 9h0.75v0.75h-0.75zM20.25 10.5h0.75v0.75h-0.75zM20.25 11.25h0.75v0.75h-0.75zM20.25 16.5h0.75v0.75h-0.75zM20.25 17.25h0.75v0.75h-0.75zM20.25 21h0.75v0.75h-0.75zM21 3h0.75v0.75h-0.75zM21 8.25h0.75v0.75h-0.75zM21 9h0.75v0.75h-0.75zM21 10.5h0.75v0.75h-0.75zM21 13.5h0.75v0.75h-0.75zM21 14.25h0.75v0.75h-0.75zM21 17.25h0.75v0.75h-0.75zM21 21.75h0.75v0.75h-0.75zM21 22.5h0.75v0.75h-0.75zM21.75 0h0.75v0.75h-0.75zM21.75 2.25h0.75v0.75h-0.75zM21.75 8.25h0.75v0.75h-0.75zM21.75 10.5h0.75v0.75h-0.75zM21.75 11.25h0.75v0.75h-0.75zM21.75 13.5h0.75v0.75h-0.75zM21.75 15.75h0.75v0.75h-0.75zM21.75 21.75h0.75v0.75h-0.75zM22.5 1.5h0.75v0.75h-0.75zM22.5 7.5h0.75v0.75h-0.75zM22.5 8.25h0.75v0.75h-0.75zM22.5 9h0.75v0.75h-0.75zM22.5 14.25h0.75v0.75h-0.75zM22.5 18h0.75v0.75h-0.75zM22.5 20.25h0.75v0.75h-0.75zM22.5 21h0.75v0.75h-0.75zM22.5 21.75h0.75v0.75h-0.75zM22.5 22.5h0.75v0.75h-0.75zM23.25 3.75h0.75v0.75h-0.75zM23.25 7.5h0.75v0.75h-0.75zM23.25 9.75h0.75v0.75h-0.75zM23.25 11.25h0.75v0.75h-0.75zM23.25 13.5h0.75v0.75h-0.75zM23.25 14.25h0.75v0.75h-0.75zM23.25 15.75h0.75v0.75h-0.75zM23.25 17.25h0.75v0.75h-0.75zM23.25 18.75h0.75v0.75h-0.75zM23.25 21.75h0.75v0.75h-0.75z"/><path fill="#f8a030" d="M0 3h0.75v0.75h-0.75zM0 18.75h0.75v0.75h-0.75zM0.75 3h0.75v0.75h-0.75zM0.75 5.25h0.75v0.75h-0.75zM0.75 14.25h0.75v0.75h-0.75zM0.75 15.75h0.75v0.75h-0.75zM0.75 17.25h0.75v0.75h-0.75zM0.75 18h0.75v0.75h-0.75zM0.75 20.25h0.75v0.75h-0.75zM1.5 1.5h0.75v0.75h-0.75zM1.5 3h0.75v0.75h-0.75zM1.5 13.5h0.75v0.75h-0.75zM1.5 15h0.75v0.75h-0.75zM1.5 20.25h0.75v0.75h-0.75zM1.5 22.5h0.75v0.75h-0.75zM2.25 0.75h0.75v0.75h-0.75zM3 0h0.75v0.75h-0.75zM3 1.5h0.75v0.75h-0.75zM3 7.5h0.75v0.75h-0.75zM3.75 18.75h0.75v0.75h-0.75zM4.5 5.25h0.75v0.75h-0.75zM4.5 12h0.75v0.75h-0.75zM5.25 5.25h0.75v0.75h-0.75zM5.25 18.75h0.75v0.75h-0.75zM6 0h0.75v0.75h-0.75zM6 7.5h0.75v0.75h-0.75zM6 21h0.75v0.75h-0.75zM6.75 5.25h0.75v0.75h-0.75zM6.75 15.75h0.75v0.75h-0.75zM6.75 23.25h0.75v0.75h-0.75zM7.5 4.5h0.75v0.75h-0.75zM7.5 5.25h0.75v0.75h-0.75zM7.5 20.25h0.75v0.75h-0.75zM8.25 9h0.75v0.75h-0.75zM8.25 18.75h0.75v0.75h-0.75zM8.25 22.5h0.75v0.75h-0.75zM9 0h0.75v0.75h-0.75zM9 4.5h0.75v0.75h-0.75zM9 8.25h0.75v0.75h-0.75zM9 22.5h0.75v0.75h-0.75zM9 23.25h0.75v0.75h-0.75zM9.75 1.5h0.75v0.75h-0.75zM9.75 11.25h0.75v0.75h-0.75zM9.75 12.75h0.75v0.75h-0.75zM9.75 13.5h0.75v0.75h-0.75zM9.75 18h0.75v0.75h-0.75zM10.5 3.75h0.75v0.75h-0.75zM10.5 9h0.75v0.75h-0.75zM10.5 9.75h0.75v0.75h-0.75zM10.5 13.5h0.75v0.75h-0.75zM10.5 18h0.75v0.75h-0.75zM11.25 6h0.75v0.75h-0.75zM11.25 9.75h0.75v0.75h-0.75zM11.25 17.25h0.75v0.75h-0.75zM11.25 21.75h0.75v0.75h-0.75zM12 5.25h0.75v0.75h-0.75zM12 15.75h0.75v0.75h-0.75zM12 21.75h0.75v0.75h-0.75zM12 22.5h0.75v0.75h-0.75zM12.75 0.75h0.75v0.75h-0.75zM12.75 9h0.75v0.75h-0.75zM12.75 9.75h0.75v0.75h-0.75zM12.75 12h0.75v0.75h-0.75zM13.5 13.5h0.75v0.75h-0.75zM13.5 14.25h0.75v0.75h-0.75zM13.5 21.75h0.75v0.75h-0.75zM14.25 0.75h0.75v0.75h-0.75zM14.25 3h0.75v0.75h-0.75zM14.25 10.5h0.75v0.75h-0.75zM14.25 15h0.75v0.75h-0.75zM15 4.5h0.75v0.75h-0.75zM15 7.5h0.75v0.75h-0.75zM15 10.5h0.75v0.75h-0.75zM15 12.75h0.75v0.75h-0.75zM15 19.5h0.75v0.75h-0.75zM15.75 2.25h0.75v0.75h-0.75zM15.75 5.25h0.75v0.75h-0.75zM15.75 8.25h0.75v0.75h-0.75zM15.75 10.5h0.75v0.75h-0.75zM17.25 4.5h0.75v0.75h-0.75zM17.25 10.5h0.75v0.75h-0.75zM17.25 14.25h0.75v0.75h-0.75zM17.25 18h0.75v0.75h-0.75zM18 2.25h0.75v0.75h-0.75zM18 4.5h0.75v0.75h-0.75zM18 7.5h0.75v0.75h-0.75zM18 9h0.75v0.75h-0.75zM18 20.25h0.75v0.75h-0.75zM18.75 18.75h0.75v0.75h-0.75zM18.75 21.75h0.75v0.75h-0.75zM19.5 3.75h0.75v0.75h-0.75zM19.5 11.25h0.75v0.75h-0.75zM20.25 6h0.75v0.75h-0.75zM20.25 9.75h0.75v0.75h-0.75zM20.25 18.75h0.75v0.75h-0.75zM20.25 22.5h0.75v0.75h-0.75zM21 6h0.75v0.75h-0.75zM21 7.5h0.75v0.75h-0.75zM21 12.75h0.75v0.75h-0.75zM21 18.75h0.75v0.75h-0.75zM21.75 1.5h0.75v0.75h-0.75zM21.75 9h0.75v0.75h-0.75zM21.75 9.75h0.75v0.75h-0.75zM21.75 18.75h0.75v0.75h-0.75zM21.75 20.25h0.75v0.75h-0.75zM22.5 2.25h0.75v0.75h-0.75zM22.5 11.25h0.75v0.75h-0.75zM22.5 23.25h0.75v0.75h-0.75zM23.25 0.75h0.75v0.75h-0.75zM23.25 5.25h0.75v0.75h-0.75zM23.25 15h0.75v0.75h-0.75z"/><path fill="#7020a0" d="M0 0h0.75v0.75h-0.75zM0 0.75h0.75v0.75h-0.75zM0 11.25h0.75v0.75h-0.75zM0 12h0.75v0.75h-0.75zM0.75 0.75h0.75v0.75h-0.75zM0.75 8.25h0.75v0.75h-0.75zM0.75 9h0.75v0.75h-0.75zM1.5 4.5h0.75v0.75h-0.75zM1.5 11.25h0.75v0.75h-0.75zM2.25 6.75h0.75v0.75h-0.75zM2.25 15h0.75v0.75h-0.75zM3 12h0.75v0.75h-0.75zM3 21.75h0.75v0.75h-0.75zM3 22.5h0.75v0.75h-0.75zM3 23.25h0.75v0.75h-0.75zM3.75 19.5h0.75v0.75h-0.75zM4.5 7.5h0.75v0.75h-0.75zM4.5 20.25h0.75v0.75h-0.75zM5.25 6.75h0.75v0.75h-0.75zM5.25 16.5h0.75v0.75h-0.75zM5.25 18h0.75v0.75h-0.75zM6 3.75h0.75v0.75h-0.75zM6 8.25h0.75v0.75h-0.75zM6 16.5h0.75v0.75h-0.75zM6.75 0h0.75v0.75h-0.75zM6.75 9.75h0.75v0.75h-0.75zM6.75 12h0.75v0.75h-0.75zM6.75 19.5h0.75v0.75h-0.75zM7.5 2.25h0.75v0.75h-0.75zM7.5 17.25h0.75v0.75h-0.75zM8.25 15h0.75v0.75h-0.75zM9 14.25h0.75v0.75h-0.75zM9.75 15.75h0.75v0.75h-0.75zM9.75 18.75h0.75v0.75h-0.75zM9.75 20.25h0.75v0.75h-0.75zM10.5 1.5h0.75v0.75h-0.75zM10.5 5.25h0.75v0.75h-0.75zM11.25 13.5h0.75v0.75h-0.75zM11.25 20.25h0.75v0.75h-0.75zM11.25 21h0.75v0.75h-0.75zM12 2.25h0.75v0.75h-0.75zM12 3.75h0.75v0.75h-0.75zM12 13.5h0.75v0.75h-0.75zM13.5 0.75h0.75v0.75h-0.75zM13.5 20.25h0.75v0.75h-0.75zM13.5 21h0.75v0.75h-0.75zM15.75 7.5h0.75v0.75h-0.75zM15.75 19.5h0.75v0.75h-0.75zM16.5 2.25h0.75v0.75h-0.75zM16.5 18.75h0.75v0.75h-0.75zM17.25 2.25h0.75v0.75h-0.75zM17.25 8.25h0.75v0.75h-0.75zM17.25 12h0.75v0.75h-0.75zM17.25 16.5h0.75v0.75h-0.75zM18 1.5h0.75v0.75h-0.75zM18.75 0h0.75v0.75h-0.75zM18.75 3.75h0.75v0.75h-0.75zM18.75 10.5h0.75v0.75h-0.75zM18.75 18h0.75v0.75h-0.75zM18.75 22.5h0.75v0.75h-0.75zM19.5 8.25h0.75v0.75h-0.75zM19.5 13.5h0.75v0.75h-0.75zM19.5 17.25h0.75v0.75h-0.75zM19.5 18h0.75v0.75h-0.75zM20.25 3.75h0.75v0.75h-0.75zM20.25 15h0.75v0.75h-0.75zM21 6.75h0.75v0.75h-0.75zM21 19.5h0.75v0.75h-0.75zM22.5 0h0.75v0.75h-0.75zM22.5 3.75h0.75v0.75h-0.75zM23.25 6h0.75v0.75h-0.75zM23.25 6.75h0.75v0.75h-0.75zM23.25 9h0.75v0.75h-0.75zM23.25 18h0.75v0.75h-0.75zM23.25 22.5h0.75v0.75h-0.75z"/></pattern>
<pattern id="ssd" width="24.0" height="24.0" patternUnits="userSpaceOnUse"><rect width="24.0" height="24.0" fill="#000"/><path fill="#c0307a" d="M0 14.25h0.75v0.75h-0.75zM0 16.5h0.75v0.75h-0.75zM0.75 0.75h0.75v0.75h-0.75zM1.5 3.75h0.75v0.75h-0.75zM1.5 6.75h0.75v0.75h-0.75zM2.25 8.25h0.75v0.75h-0.75zM2.25 21.75h0.75v0.75h-0.75zM3 9h0.75v0.75h-0.75zM3 11.25h0.75v0.75h-0.75zM3 13.5h0.75v0.75h-0.75zM3.75 4.5h0.75v0.75h-0.75zM3.75 7.5h0.75v0.75h-0.75zM3.75 9h0.75v0.75h-0.75zM3.75 12h0.75v0.75h-0.75zM4.5 0h0.75v0.75h-0.75zM4.5 14.25h0.75v0.75h-0.75zM4.5 23.25h0.75v0.75h-0.75zM5.25 3.75h0.75v0.75h-0.75zM5.25 5.25h0.75v0.75h-0.75zM5.25 13.5h0.75v0.75h-0.75zM6 9h0.75v0.75h-0.75zM6 10.5h0.75v0.75h-0.75zM6.75 0.75h0.75v0.75h-0.75zM6.75 6h0.75v0.75h-0.75zM6.75 7.5h0.75v0.75h-0.75zM6.75 12h0.75v0.75h-0.75zM6.75 22.5h0.75v0.75h-0.75zM7.5 0h0.75v0.75h-0.75zM7.5 3h0.75v0.75h-0.75zM7.5 10.5h0.75v0.75h-0.75zM7.5 18h0.75v0.75h-0.75zM7.5 20.25h0.75v0.75h-0.75zM8.25 2.25h0.75v0.75h-0.75zM8.25 21.75h0.75v0.75h-0.75zM9 5.25h0.75v0.75h-0.75zM9 7.5h0.75v0.75h-0.75zM9 22.5h0.75v0.75h-0.75zM9.75 18h0.75v0.75h-0.75zM9.75 18.75h0.75v0.75h-0.75zM9.75 21.75h0.75v0.75h-0.75zM9.75 23.25h0.75v0.75h-0.75zM10.5 14.25h0.75v0.75h-0.75zM10.5 21h0.75v0.75h-0.75zM10.5 22.5h0.75v0.75h-0.75zM11.25 4.5h0.75v0.75h-0.75zM11.25 8.25h0.75v0.75h-0.75zM11.25 13.5h0.75v0.75h-0.75zM11.25 14.25h0.75v0.75h-0.75zM11.25 17.25h0.75v0.75h-0.75zM11.25 18.75h0.75v0.75h-0.75zM12 1.5h0.75v0.75h-0.75zM12 3h0.75v0.75h-0.75zM12 12.75h0.75v0.75h-0.75zM12 14.25h0.75v0.75h-0.75zM12.75 1.5h0.75v0.75h-0.75zM12.75 13.5h0.75v0.75h-0.75zM12.75 15h0.75v0.75h-0.75zM12.75 18h0.75v0.75h-0.75zM13.5 4.5h0.75v0.75h-0.75zM13.5 13.5h0.75v0.75h-0.75zM14.25 12h0.75v0.75h-0.75zM14.25 13.5h0.75v0.75h-0.75zM15 7.5h0.75v0.75h-0.75zM15 19.5h0.75v0.75h-0.75zM15 20.25h0.75v0.75h-0.75zM15.75 1.5h0.75v0.75h-0.75zM15.75 4.5h0.75v0.75h-0.75zM15.75 11.25h0.75v0.75h-0.75zM15.75 18.75h0.75v0.75h-0.75zM16.5 11.25h0.75v0.75h-0.75zM16.5 12.75h0.75v0.75h-0.75zM17.25 1.5h0.75v0.75h-0.75zM17.25 10.5h0.75v0.75h-0.75zM17.25 15h0.75v0.75h-0.75zM18 0.75h0.75v0.75h-0.75zM18 9h0.75v0.75h-0.75zM18 15h0.75v0.75h-0.75zM18 18.75h0.75v0.75h-0.75zM18 21.75h0.75v0.75h-0.75zM18 22.5h0.75v0.75h-0.75zM18.75 3.75h0.75v0.75h-0.75zM18.75 15.75h0.75v0.75h-0.75zM18.75 18h0.75v0.75h-0.75zM19.5 0h0.75v0.75h-0.75zM19.5 2.25h0.75v0.75h-0.75zM19.5 11.25h0.75v0.75h-0.75zM19.5 17.25h0.75v0.75h-0.75zM19.5 19.5h0.75v0.75h-0.75zM19.5 20.25h0.75v0.75h-0.75zM20.25 15h0.75v0.75h-0.75zM21.75 0.75h0.75v0.75h-0.75zM21.75 18h0.75v0.75h-0.75zM22.5 17.25h0.75v0.75h-0.75zM22.5 18h0.75v0.75h-0.75zM23.25 12h0.75v0.75h-0.75zM23.25 15h0.75v0.75h-0.75z"/><path fill="#e8702a" d="M0 5.25h0.75v0.75h-0.75zM0 9h0.75v0.75h-0.75zM0 12.75h0.75v0.75h-0.75zM0 19.5h0.75v0.75h-0.75zM0 21.75h0.75v0.75h-0.75zM0.75 3h0.75v0.75h-0.75zM0.75 12.75h0.75v0.75h-0.75zM0.75 15h0.75v0.75h-0.75zM0.75 18h0.75v0.75h-0.75zM0.75 19.5h0.75v0.75h-0.75zM0.75 22.5h0.75v0.75h-0.75zM1.5 1.5h0.75v0.75h-0.75zM1.5 7.5h0.75v0.75h-0.75zM1.5 12h0.75v0.75h-0.75zM1.5 21.75h0.75v0.75h-0.75zM2.25 0h0.75v0.75h-0.75zM3 19.5h0.75v0.75h-0.75zM3 21h0.75v0.75h-0.75zM3.75 0h0.75v0.75h-0.75zM3.75 5.25h0.75v0.75h-0.75zM3.75 19.5h0.75v0.75h-0.75zM4.5 0.75h0.75v0.75h-0.75zM4.5 7.5h0.75v0.75h-0.75zM4.5 9h0.75v0.75h-0.75zM4.5 11.25h0.75v0.75h-0.75zM4.5 12h0.75v0.75h-0.75zM4.5 21.75h0.75v0.75h-0.75zM5.25 2.25h0.75v0.75h-0.75zM5.25 6h0.75v0.75h-0.75zM5.25 8.25h0.75v0.75h-0.75zM5.25 18.75h0.75v0.75h-0.75zM6 21.75h0.75v0.75h-0.75zM6.75 0h0.75v0.75h-0.75zM6.75 3.75h0.75v0.75h-0.75zM6.75 5.25h0.75v0.75h-0.75zM6.75 15h0.75v0.75h-0.75zM6.75 17.25h0.75v0.75h-0.75zM6.75 18.75h0.75v0.75h-0.75zM6.75 20.25h0.75v0.75h-0.75zM7.5 6.75h0.75v0.75h-0.75zM8.25 0h0.75v0.75h-0.75zM8.25 3h0.75v0.75h-0.75zM8.25 14.25h0.75v0.75h-0.75zM9 2.25h0.75v0.75h-0.75zM9 3h0.75v0.75h-0.75zM9 6h0.75v0.75h-0.75zM9 13.5h0.75v0.75h-0.75zM9 18h0.75v0.75h-0.75zM9 18.75h0.75v0.75h-0.75zM9 20.25h0.75v0.75h-0.75zM9.75 0.75h0.75v0.75h-0.75zM9.75 14.25h0.75v0.75h-0.75zM9.75 15h0.75v0.75h-0.75zM10.5 9.75h0.75v0.75h-0.75zM11.25 1.5h0.75v0.75h-0.75zM11.25 9.75h0.75v0.75h-0.75zM11.25 18h0.75v0.75h-0.75zM12 3.75h0.75v0.75h-0.75zM12 10.5h0.75v0.75h-0.75zM12.75 0h0.75v0.75h-0.75zM12.75 8.25h0.75v0.75h-0.75zM12.75 10.5h0.75v0.75h-0.75zM12.75 16.5h0.75v0.75h-0.75zM13.5 6.75h0.75v0.75h-0.75zM14.25 18h0.75v0.75h-0.75zM15 4.5h0.75v0.75h-0.75zM15 8.25h0.75v0.75h-0.75zM15 14.25h0.75v0.75h-0.75zM15 21h0.75v0.75h-0.75zM15.75 14.25h0.75v0.75h-0.75zM15.75 15.75h0.75v0.75h-0.75zM15.75 16.5h0.75v0.75h-0.75zM15.75 18h0.75v0.75h-0.75zM16.5 16.5h0.75v0.75h-0.75zM16.5 20.25h0.75v0.75h-0.75zM16.5 23.25h0.75v0.75h-0.75zM17.25 2.25h0.75v0.75h-0.75zM17.25 6h0.75v0.75h-0.75zM17.25 7.5h0.75v0.75h-0.75zM18 1.5h0.75v0.75h-0.75zM18 6.75h0.75v0.75h-0.75zM18.75 6.75h0.75v0.75h-0.75zM18.75 12.75h0.75v0.75h-0.75zM18.75 15h0.75v0.75h-0.75zM19.5 16.5h0.75v0.75h-0.75zM19.5 21.75h0.75v0.75h-0.75zM20.25 2.25h0.75v0.75h-0.75zM20.25 3h0.75v0.75h-0.75zM20.25 6h0.75v0.75h-0.75zM20.25 20.25h0.75v0.75h-0.75zM20.25 21h0.75v0.75h-0.75zM21 3.75h0.75v0.75h-0.75zM21 7.5h0.75v0.75h-0.75zM21 12.75h0.75v0.75h-0.75zM21.75 1.5h0.75v0.75h-0.75zM21.75 3h0.75v0.75h-0.75zM21.75 12.75h0.75v0.75h-0.75zM21.75 20.25h0.75v0.75h-0.75zM21.75 21h0.75v0.75h-0.75zM22.5 6.75h0.75v0.75h-0.75zM22.5 22.5h0.75v0.75h-0.75zM23.25 1.5h0.75v0.75h-0.75zM23.25 3.75h0.75v0.75h-0.75zM23.25 9h0.75v0.75h-0.75zM23.25 11.25h0.75v0.75h-0.75z"/><path fill="#f8c040" d="M0 7.5h0.75v0.75h-0.75zM0 23.25h0.75v0.75h-0.75zM0.75 2.25h0.75v0.75h-0.75zM0.75 6h0.75v0.75h-0.75zM0.75 14.25h0.75v0.75h-0.75zM0.75 15.75h0.75v0.75h-0.75zM0.75 18.75h0.75v0.75h-0.75zM1.5 2.25h0.75v0.75h-0.75zM1.5 12.75h0.75v0.75h-0.75zM1.5 14.25h0.75v0.75h-0.75zM1.5 23.25h0.75v0.75h-0.75zM2.25 6h0.75v0.75h-0.75zM2.25 10.5h0.75v0.75h-0.75zM3 0.75h0.75v0.75h-0.75zM3.75 16.5h0.75v0.75h-0.75zM3.75 18.75h0.75v0.75h-0.75zM3.75 20.25h0.75v0.75h-0.75zM3.75 21.75h0.75v0.75h-0.75zM3.75 22.5h0.75v0.75h-0.75zM4.5 10.5h0.75v0.75h-0.75zM4.5 18.75h0.75v0.75h-0.75zM5.25 4.5h0.75v0.75h-0.75zM5.25 18h0.75v0.75h-0.75zM6 22.5h0.75v0.75h-0.75zM6.75 21h0.75v0.75h-0.75zM7.5 3.75h0.75v0.75h-0.75zM7.5 16.5h0.75v0.75h-0.75zM8.25 11.25h0.75v0.75h-0.75zM8.25 23.25h0.75v0.75h-0.75zM9 8.25h0.75v0.75h-0.75zM9 12.75h0.75v0.75h-0.75zM9.75 9h0.75v0.75h-0.75zM9.75 16.5h0.75v0.75h-0.75zM10.5 0h0.75v0.75h-0.75zM10.5 12h0.75v0.75h-0.75zM12 4.5h0.75v0.75h-0.75zM12 8.25h0.75v0.75h-0.75zM12 23.25h0.75v0.75h-0.75zM12.75 6.75h0.75v0.75h-0.75zM12.75 12h0.75v0.75h-0.75zM12.75 15.75h0.75v0.75h-0.75zM14.25 5.25h0.75v0.75h-0.75zM14.25 15h0.75v0.75h-0.75zM14.25 21.75h0.75v0.75h-0.75zM15 6h0.75v0.75h-0.75zM15 9h0.75v0.75h-0.75zM15 12h0.75v0.75h-0.75zM15 18h0.75v0.75h-0.75zM15 22.5h0.75v0.75h-0.75zM15.75 22.5h0.75v0.75h-0.75zM16.5 8.25h0.75v0.75h-0.75zM16.5 18.75h0.75v0.75h-0.75zM17.25 19.5h0.75v0.75h-0.75zM18 0h0.75v0.75h-0.75zM18 2.25h0.75v0.75h-0.75zM18 3.75h0.75v0.75h-0.75zM18 6h0.75v0.75h-0.75zM18 7.5h0.75v0.75h-0.75zM18 10.5h0.75v0.75h-0.75zM18 11.25h0.75v0.75h-0.75zM18 12.75h0.75v0.75h-0.75zM18.75 5.25h0.75v0.75h-0.75zM18.75 6h0.75v0.75h-0.75zM19.5 1.5h0.75v0.75h-0.75zM19.5 3h0.75v0.75h-0.75zM20.25 5.25h0.75v0.75h-0.75zM20.25 11.25h0.75v0.75h-0.75zM20.25 16.5h0.75v0.75h-0.75zM20.25 21.75h0.75v0.75h-0.75zM21 8.25h0.75v0.75h-0.75zM21 10.5h0.75v0.75h-0.75zM21 15h0.75v0.75h-0.75zM21 15.75h0.75v0.75h-0.75zM21 20.25h0.75v0.75h-0.75zM21.75 5.25h0.75v0.75h-0.75zM21.75 11.25h0.75v0.75h-0.75zM21.75 14.25h0.75v0.75h-0.75zM21.75 22.5h0.75v0.75h-0.75zM22.5 2.25h0.75v0.75h-0.75zM22.5 9h0.75v0.75h-0.75zM22.5 9.75h0.75v0.75h-0.75zM22.5 10.5h0.75v0.75h-0.75zM22.5 12.75h0.75v0.75h-0.75zM23.25 0.75h0.75v0.75h-0.75zM23.25 3h0.75v0.75h-0.75zM23.25 7.5h0.75v0.75h-0.75zM23.25 12.75h0.75v0.75h-0.75z"/></pattern>
<pattern id="sso" width="24.0" height="24.0" patternUnits="userSpaceOnUse"><rect width="24.0" height="24.0" fill="#000"/><path fill="#f4e6c8" d="M0 7.5h0.75v0.75h-0.75zM0 15.75h0.75v0.75h-0.75zM0 19.5h0.75v0.75h-0.75zM0 21h0.75v0.75h-0.75zM0 22.5h0.75v0.75h-0.75zM0.75 1.5h0.75v0.75h-0.75zM0.75 3.75h0.75v0.75h-0.75zM0.75 6h0.75v0.75h-0.75zM0.75 7.5h0.75v0.75h-0.75zM0.75 12.75h0.75v0.75h-0.75zM0.75 14.25h0.75v0.75h-0.75zM0.75 15h0.75v0.75h-0.75zM0.75 19.5h0.75v0.75h-0.75zM0.75 23.25h0.75v0.75h-0.75zM1.5 3.75h0.75v0.75h-0.75zM1.5 16.5h0.75v0.75h-0.75zM2.25 11.25h0.75v0.75h-0.75zM2.25 14.25h0.75v0.75h-0.75zM2.25 17.25h0.75v0.75h-0.75zM2.25 23.25h0.75v0.75h-0.75zM3 6.75h0.75v0.75h-0.75zM3 12h0.75v0.75h-0.75zM3 20.25h0.75v0.75h-0.75zM3.75 9h0.75v0.75h-0.75zM3.75 9.75h0.75v0.75h-0.75zM3.75 18.75h0.75v0.75h-0.75zM4.5 0h0.75v0.75h-0.75zM4.5 0.75h0.75v0.75h-0.75zM4.5 3h0.75v0.75h-0.75zM4.5 3.75h0.75v0.75h-0.75zM4.5 5.25h0.75v0.75h-0.75zM4.5 8.25h0.75v0.75h-0.75zM4.5 12h0.75v0.75h-0.75zM4.5 15.75h0.75v0.75h-0.75zM4.5 18.75h0.75v0.75h-0.75zM4.5 20.25h0.75v0.75h-0.75zM5.25 7.5h0.75v0.75h-0.75zM5.25 9h0.75v0.75h-0.75zM5.25 12.75h0.75v0.75h-0.75zM5.25 13.5h0.75v0.75h-0.75zM5.25 15h0.75v0.75h-0.75zM5.25 20.25h0.75v0.75h-0.75zM5.25 21.75h0.75v0.75h-0.75zM6 0h0.75v0.75h-0.75zM6 3.75h0.75v0.75h-0.75zM6 13.5h0.75v0.75h-0.75zM6 15h0.75v0.75h-0.75zM6.75 3h0.75v0.75h-0.75zM6.75 3.75h0.75v0.75h-0.75zM6.75 4.5h0.75v0.75h-0.75zM6.75 10.5h0.75v0.75h-0.75zM6.75 14.25h0.75v0.75h-0.75zM6.75 18.75h0.75v0.75h-0.75zM7.5 2.25h0.75v0.75h-0.75zM7.5 3.75h0.75v0.75h-0.75zM7.5 6h0.75v0.75h-0.75zM7.5 10.5h0.75v0.75h-0.75zM7.5 21.75h0.75v0.75h-0.75zM8.25 0h0.75v0.75h-0.75zM8.25 12h0.75v0.75h-0.75zM8.25 14.25h0.75v0.75h-0.75zM8.25 15h0.75v0.75h-0.75zM8.25 17.25h0.75v0.75h-0.75zM9 8.25h0.75v0.75h-0.75zM9 9h0.75v0.75h-0.75zM9 17.25h0.75v0.75h-0.75zM9 18.75h0.75v0.75h-0.75zM9 22.5h0.75v0.75h-0.75zM9.75 0h0.75v0.75h-0.75zM9.75 4.5h0.75v0.75h-0.75zM9.75 10.5h0.75v0.75h-0.75zM9.75 11.25h0.75v0.75h-0.75zM9.75 15h0.75v0.75h-0.75zM9.75 15.75h0.75v0.75h-0.75zM9.75 16.5h0.75v0.75h-0.75zM10.5 0h0.75v0.75h-0.75zM10.5 2.25h0.75v0.75h-0.75zM10.5 3h0.75v0.75h-0.75zM10.5 6h0.75v0.75h-0.75zM10.5 12h0.75v0.75h-0.75zM11.25 1.5h0.75v0.75h-0.75zM11.25 3.75h0.75v0.75h-0.75zM11.25 5.25h0.75v0.75h-0.75zM11.25 16.5h0.75v0.75h-0.75zM12 0.75h0.75v0.75h-0.75zM12 12h0.75v0.75h-0.75zM12.75 0.75h0.75v0.75h-0.75zM12.75 1.5h0.75v0.75h-0.75zM12.75 2.25h0.75v0.75h-0.75zM12.75 9h0.75v0.75h-0.75zM12.75 10.5h0.75v0.75h-0.75zM12.75 21h0.75v0.75h-0.75zM13.5 2.25h0.75v0.75h-0.75zM13.5 9.75h0.75v0.75h-0.75zM13.5 11.25h0.75v0.75h-0.75zM13.5 12.75h0.75v0.75h-0.75zM13.5 14.25h0.75v0.75h-0.75zM13.5 15h0.75v0.75h-0.75zM13.5 15.75h0.75v0.75h-0.75zM14.25 0h0.75v0.75h-0.75zM14.25 3h0.75v0.75h-0.75zM14.25 6.75h0.75v0.75h-0.75zM14.25 7.5h0.75v0.75h-0.75zM14.25 10.5h0.75v0.75h-0.75zM14.25 12.75h0.75v0.75h-0.75zM14.25 15.75h0.75v0.75h-0.75zM14.25 21h0.75v0.75h-0.75zM14.25 21.75h0.75v0.75h-0.75zM15 0h0.75v0.75h-0.75zM15 2.25h0.75v0.75h-0.75zM15 8.25h0.75v0.75h-0.75zM15 22.5h0.75v0.75h-0.75zM15.75 2.25h0.75v0.75h-0.75zM15.75 3h0.75v0.75h-0.75zM15.75 3.75h0.75v0.75h-0.75zM15.75 11.25h0.75v0.75h-0.75zM15.75 16.5h0.75v0.75h-0.75zM15.75 20.25h0.75v0.75h-0.75zM15.75 21h0.75v0.75h-0.75zM15.75 22.5h0.75v0.75h-0.75zM16.5 0h0.75v0.75h-0.75zM16.5 1.5h0.75v0.75h-0.75zM16.5 2.25h0.75v0.75h-0.75zM16.5 3h0.75v0.75h-0.75zM16.5 12.75h0.75v0.75h-0.75zM17.25 1.5h0.75v0.75h-0.75zM17.25 14.25h0.75v0.75h-0.75zM17.25 20.25h0.75v0.75h-0.75zM17.25 21h0.75v0.75h-0.75zM18 18.75h0.75v0.75h-0.75zM18 19.5h0.75v0.75h-0.75zM18.75 0h0.75v0.75h-0.75zM18.75 3h0.75v0.75h-0.75zM18.75 11.25h0.75v0.75h-0.75zM18.75 16.5h0.75v0.75h-0.75zM18.75 23.25h0.75v0.75h-0.75zM19.5 4.5h0.75v0.75h-0.75zM19.5 15h0.75v0.75h-0.75zM19.5 19.5h0.75v0.75h-0.75zM19.5 22.5h0.75v0.75h-0.75zM20.25 3.75h0.75v0.75h-0.75zM20.25 5.25h0.75v0.75h-0.75zM20.25 6h0.75v0.75h-0.75zM20.25 9h0.75v0.75h-0.75zM20.25 17.25h0.75v0.75h-0.75zM20.25 20.25h0.75v0.75h-0.75zM21 6.75h0.75v0.75h-0.75zM21 9h0.75v0.75h-0.75zM21 13.5h0.75v0.75h-0.75zM21 21.75h0.75v0.75h-0.75zM21 23.25h0.75v0.75h-0.75zM21.75 1.5h0.75v0.75h-0.75zM21.75 4.5h0.75v0.75h-0.75zM21.75 6h0.75v0.75h-0.75zM21.75 10.5h0.75v0.75h-0.75zM21.75 14.25h0.75v0.75h-0.75zM21.75 15.75h0.75v0.75h-0.75zM22.5 1.5h0.75v0.75h-0.75zM22.5 2.25h0.75v0.75h-0.75zM22.5 5.25h0.75v0.75h-0.75zM22.5 11.25h0.75v0.75h-0.75zM22.5 16.5h0.75v0.75h-0.75zM22.5 17.25h0.75v0.75h-0.75zM22.5 20.25h0.75v0.75h-0.75zM22.5 21h0.75v0.75h-0.75zM22.5 21.75h0.75v0.75h-0.75zM22.5 23.25h0.75v0.75h-0.75zM23.25 3h0.75v0.75h-0.75zM23.25 5.25h0.75v0.75h-0.75zM23.25 15h0.75v0.75h-0.75zM23.25 23.25h0.75v0.75h-0.75z"/><path fill="#8030a0" d="M0 6h0.75v0.75h-0.75zM0 16.5h0.75v0.75h-0.75zM0 20.25h0.75v0.75h-0.75zM0.75 21.75h0.75v0.75h-0.75zM1.5 3h0.75v0.75h-0.75zM1.5 8.25h0.75v0.75h-0.75zM1.5 10.5h0.75v0.75h-0.75zM1.5 14.25h0.75v0.75h-0.75zM2.25 1.5h0.75v0.75h-0.75zM2.25 9h0.75v0.75h-0.75zM2.25 15h0.75v0.75h-0.75zM3 9.75h0.75v0.75h-0.75zM3 11.25h0.75v0.75h-0.75zM3 17.25h0.75v0.75h-0.75zM3 18.75h0.75v0.75h-0.75zM3 21h0.75v0.75h-0.75zM3 21.75h0.75v0.75h-0.75zM3.75 3h0.75v0.75h-0.75zM3.75 6.75h0.75v0.75h-0.75zM3.75 10.5h0.75v0.75h-0.75zM3.75 17.25h0.75v0.75h-0.75zM3.75 21h0.75v0.75h-0.75zM3.75 23.25h0.75v0.75h-0.75zM4.5 7.5h0.75v0.75h-0.75zM4.5 13.5h0.75v0.75h-0.75zM4.5 22.5h0.75v0.75h-0.75zM5.25 10.5h0.75v0.75h-0.75zM5.25 14.25h0.75v0.75h-0.75zM5.25 18.75h0.75v0.75h-0.75zM5.25 21h0.75v0.75h-0.75zM6 3h0.75v0.75h-0.75zM6 6h0.75v0.75h-0.75zM6 7.5h0.75v0.75h-0.75zM6 18.75h0.75v0.75h-0.75zM6.75 6h0.75v0.75h-0.75zM6.75 8.25h0.75v0.75h-0.75zM6.75 9h0.75v0.75h-0.75zM6.75 9.75h0.75v0.75h-0.75zM6.75 15.75h0.75v0.75h-0.75zM7.5 3h0.75v0.75h-0.75zM7.5 15.75h0.75v0.75h-0.75zM7.5 21h0.75v0.75h-0.75zM8.25 7.5h0.75v0.75h-0.75zM8.25 8.25h0.75v0.75h-0.75zM8.25 9h0.75v0.75h-0.75zM8.25 11.25h0.75v0.75h-0.75zM8.25 12.75h0.75v0.75h-0.75zM8.25 13.5h0.75v0.75h-0.75zM8.25 21.75h0.75v0.75h-0.75zM9 9.75h0.75v0.75h-0.75zM9 12.75h0.75v0.75h-0.75zM9 21h0.75v0.75h-0.75zM9.75 2.25h0.75v0.75h-0.75zM9.75 9h0.75v0.75h-0.75zM9.75 9.75h0.75v0.75h-0.75zM9.75 14.25h0.75v0.75h-0.75zM9.75 19.5h0.75v0.75h-0.75zM9.75 21h0.75v0.75h-0.75zM10.5 4.5h0.75v0.75h-0.75zM10.5 9h0.75v0.75h-0.75zM10.5 15h0.75v0.75h-0.75zM10.5 17.25h0.75v0.75h-0.75zM10.5 18h0.75v0.75h-0.75zM10.5 18.75h0.75v0.75h-0.75zM11.25 0h0.75v0.75h-0.75zM11.25 9.75h0.75v0.75h-0.75zM11.25 15h0.75v0.75h-0.75zM12 1.5h0.75v0.75h-0.75zM12 5.25h0.75v0.75h-0.75zM12 6.75h0.75v0.75h-0.75zM12 17.25h0.75v0.75h-0.75zM12 20.25h0.75v0.75h-0.75zM12 21h0.75v0.75h-0.75zM12.75 3.75h0.75v0.75h-0.75zM12.75 5.25h0.75v0.75h-0.75zM12.75 12.75h0.75v0.75h-0.75zM12.75 19.5h0.75v0.75h-0.75zM12.75 23.25h0.75v0.75h-0.75zM13.5 6h0.75v0.75h-0.75zM13.5 6.75h0.75v0.75h-0.75zM13.5 16.5h0.75v0.75h-0.75zM14.25 2.25h0.75v0.75h-0.75zM14.25 15h0.75v0.75h-0.75zM14.25 20.25h0.75v0.75h-0.75zM15 3.75h0.75v0.75h-0.75zM15.75 0.75h0.75v0.75h-0.75zM15.75 1.5h0.75v0.75h-0.75zM15.75 4.5h0.75v0.75h-0.75zM15.75 8.25h0.75v0.75h-0.75zM15.75 12.75h0.75v0.75h-0.75zM15.75 15.75h0.75v0.75h-0.75zM15.75 19.5h0.75v0.75h-0.75zM16.5 0.75h0.75v0.75h-0.75zM16.5 5.25h0.75v0.75h-0.75zM16.5 6h0.75v0.75h-0.75zM16.5 15h0.75v0.75h-0.75zM17.25 0.75h0.75v0.75h-0.75zM17.25 6.75h0.75v0.75h-0.75zM17.25 13.5h0.75v0.75h-0.75zM17.25 17.25h0.75v0.75h-0.75zM17.25 19.5h0.75v0.75h-0.75zM17.25 23.25h0.75v0.75h-0.75zM18 6h0.75v0.75h-0.75zM18 6.75h0.75v0.75h-0.75zM18 9h0.75v0.75h-0.75zM18 15.75h0.75v0.75h-0.75zM18 17.25h0.75v0.75h-0.75zM18.75 0.75h0.75v0.75h-0.75zM18.75 9.75h0.75v0.75h-0.75zM18.75 10.5h0.75v0.75h-0.75zM18.75 12h0.75v0.75h-0.75zM18.75 15.75h0.75v0.75h-0.75zM18.75 17.25h0.75v0.75h-0.75zM18.75 18.75h0.75v0.75h-0.75zM18.75 21.75h0.75v0.75h-0.75zM19.5 0h0.75v0.75h-0.75zM19.5 0.75h0.75v0.75h-0.75zM19.5 2.25h0.75v0.75h-0.75zM19.5 3h0.75v0.75h-0.75zM19.5 6h0.75v0.75h-0.75zM19.5 12h0.75v0.75h-0.75zM19.5 18.75h0.75v0.75h-0.75zM20.25 6.75h0.75v0.75h-0.75zM20.25 13.5h0.75v0.75h-0.75zM20.25 22.5h0.75v0.75h-0.75zM21 0h0.75v0.75h-0.75zM21 10.5h0.75v0.75h-0.75zM21 18h0.75v0.75h-0.75zM21 20.25h0.75v0.75h-0.75zM21 22.5h0.75v0.75h-0.75zM21.75 8.25h0.75v0.75h-0.75zM21.75 18h0.75v0.75h-0.75zM21.75 21.75h0.75v0.75h-0.75zM22.5 0.75h0.75v0.75h-0.75zM22.5 9h0.75v0.75h-0.75zM22.5 9.75h0.75v0.75h-0.75zM22.5 13.5h0.75v0.75h-0.75zM22.5 14.25h0.75v0.75h-0.75zM23.25 6h0.75v0.75h-0.75zM23.25 9h0.75v0.75h-0.75zM23.25 10.5h0.75v0.75h-0.75zM23.25 16.5h0.75v0.75h-0.75zM23.25 17.25h0.75v0.75h-0.75zM23.25 19.5h0.75v0.75h-0.75z"/><path fill="#e88030" d="M0 4.5h0.75v0.75h-0.75zM0 5.25h0.75v0.75h-0.75zM0 11.25h0.75v0.75h-0.75zM0 12h0.75v0.75h-0.75zM0 12.75h0.75v0.75h-0.75zM0 13.5h0.75v0.75h-0.75zM0 17.25h0.75v0.75h-0.75zM0 18h0.75v0.75h-0.75zM0.75 0h0.75v0.75h-0.75zM0.75 0.75h0.75v0.75h-0.75zM0.75 3h0.75v0.75h-0.75zM0.75 4.5h0.75v0.75h-0.75zM0.75 5.25h0.75v0.75h-0.75zM0.75 10.5h0.75v0.75h-0.75zM0.75 16.5h0.75v0.75h-0.75zM1.5 0h0.75v0.75h-0.75zM1.5 9h0.75v0.75h-0.75zM1.5 9.75h0.75v0.75h-0.75zM1.5 11.25h0.75v0.75h-0.75zM1.5 13.5h0.75v0.75h-0.75zM1.5 15.75h0.75v0.75h-0.75zM1.5 17.25h0.75v0.75h-0.75zM1.5 21.75h0.75v0.75h-0.75zM2.25 4.5h0.75v0.75h-0.75zM2.25 12.75h0.75v0.75h-0.75zM2.25 16.5h0.75v0.75h-0.75zM2.25 21.75h0.75v0.75h-0.75zM2.25 22.5h0.75v0.75h-0.75zM3 3.75h0.75v0.75h-0.75zM3 6h0.75v0.75h-0.75zM3 7.5h0.75v0.75h-0.75zM3 9h0.75v0.75h-0.75zM3 10.5h0.75v0.75h-0.75zM3 14.25h0.75v0.75h-0.75zM3 15h0.75v0.75h-0.75zM3 15.75h0.75v0.75h-0.75zM3 18h0.75v0.75h-0.75zM3 19.5h0.75v0.75h-0.75zM3 23.25h0.75v0.75h-0.75zM3.75 0h0.75v0.75h-0.75zM3.75 1.5h0.75v0.75h-0.75zM3.75 2.25h0.75v0.75h-0.75zM3.75 4.5h0.75v0.75h-0.75zM3.75 6h0.75v0.75h-0.75zM3.75 11.25h0.75v0.75h-0.75zM3.75 13.5h0.75v0.75h-0.75zM3.75 15h0.75v0.75h-0.75zM3.75 16.5h0.75v0.75h-0.75zM3.75 18h0.75v0.75h-0.75zM3.75 19.5h0.75v0.75h-0.75zM3.75 22.5h0.75v0.75h-0.75zM4.5 4.5h0.75v0.75h-0.75zM4.5 9.75h0.75v0.75h-0.75zM4.5 10.5h0.75v0.75h-0.75zM4.5 16.5h0.75v0.75h-0.75zM4.5 19.5h0.75v0.75h-0.75zM4.5 21.75h0.75v0.75h-0.75zM5.25 0h0.75v0.75h-0.75zM5.25 2.25h0.75v0.75h-0.75zM5.25 3.75h0.75v0.75h-0.75zM5.25 5.25h0.75v0.75h-0.75zM5.25 9.75h0.75v0.75h-0.75zM5.25 17.25h0.75v0.75h-0.75zM5.25 19.5h0.75v0.75h-0.75zM5.25 23.25h0.75v0.75h-0.75zM6 0.75h0.75v0.75h-0.75zM6 2.25h0.75v0.75h-0.75zM6 10.5h0.75v0.75h-0.75zM6 12h0.75v0.75h-0.75zM6 17.25h0.75v0.75h-0.75zM6 22.5h0.75v0.75h-0.75zM6 23.25h0.75v0.75h-0.75zM6.75 0h0.75v0.75h-0.75zM6.75 0.75h0.75v0.75h-0.75zM6.75 1.5h0.75v0.75h-0.75zM6.75 5.25h0.75v0.75h-0.75zM6.75 6.75h0.75v0.75h-0.75zM6.75 11.25h0.75v0.75h-0.75zM6.75 12.75h0.75v0.75h-0.75zM6.75 15h0.75v0.75h-0.75zM6.75 19.5h0.75v0.75h-0.75zM6.75 20.25h0.75v0.75h-0.75zM6.75 22.5h0.75v0.75h-0.75zM7.5 5.25h0.75v0.75h-0.75zM7.5 8.25h0.75v0.75h-0.75zM7.5 9h0.75v0.75h-0.75zM7.5 9.75h0.75v0.75h-0.75zM7.5 14.25h0.75v0.75h-0.75zM7.5 15h0.75v0.75h-0.75zM7.5 18.75h0.75v0.75h-0.75zM7.5 20.25h0.75v0.75h-0.75zM7.5 22.5h0.75v0.75h-0.75zM8.25 5.25h0.75v0.75h-0.75zM8.25 6.75h0.75v0.75h-0.75zM8.25 9.75h0.75v0.75h-0.75zM8.25 10.5h0.75v0.75h-0.75zM8.25 16.5h0.75v0.75h-0.75zM8.25 19.5h0.75v0.75h-0.75zM8.25 22.5h0.75v0.75h-0.75zM9 2.25h0.75v0.75h-0.75zM9 3.75h0.75v0.75h-0.75zM9 6h0.75v0.75h-0.75zM9 6.75h0.75v0.75h-0.75zM9 11.25h0.75v0.75h-0.75zM9 12h0.75v0.75h-0.75zM9 13.5h0.75v0.75h-0.75zM9 14.25h0.75v0.75h-0.75zM9 15.75h0.75v0.75h-0.75zM9 16.5h0.75v0.75h-0.75zM9 19.5h0.75v0.75h-0.75zM9 21.75h0.75v0.75h-0.75zM9.75 1.5h0.75v0.75h-0.75zM9.75 3.75h0.75v0.75h-0.75zM9.75 6h0.75v0.75h-0.75zM9.75 6.75h0.75v0.75h-0.75zM9.75 7.5h0.75v0.75h-0.75zM9.75 8.25h0.75v0.75h-0.75zM9.75 12h0.75v0.75h-0.75zM9.75 20.25h0.75v0.75h-0.75zM9.75 22.5h0.75v0.75h-0.75zM9.75 23.25h0.75v0.75h-0.75zM10.5 1.5h0.75v0.75h-0.75zM10.5 8.25h0.75v0.75h-0.75zM10.5 9.75h0.75v0.75h-0.75zM10.5 14.25h0.75v0.75h-0.75zM10.5 15.75h0.75v0.75h-0.75zM10.5 21.75h0.75v0.75h-0.75zM10.5 22.5h0.75v0.75h-0.75zM11.25 2.25h0.75v0.75h-0.75zM11.25 8.25h0.75v0.75h-0.75zM11.25 11.25h0.75v0.75h-0.75zM11.25 14.25h0.75v0.75h-0.75zM11.25 15.75h0.75v0.75h-0.75zM11.25 19.5h0.75v0.75h-0.75zM11.25 21.75h0.75v0.75h-0.75zM11.25 23.25h0.75v0.75h-0.75zM12 2.25h0.75v0.75h-0.75zM12 3.75h0.75v0.75h-0.75zM12 11.25h0.75v0.75h-0.75zM12 13.5h0.75v0.75h-0.75zM12 15.75h0.75v0.75h-0.75zM12 16.5h0.75v0.75h-0.75zM12 18h0.75v0.75h-0.75zM12 19.5h0.75v0.75h-0.75zM12 21.75h0.75v0.75h-0.75zM12.75 4.5h0.75v0.75h-0.75zM12.75 13.5h0.75v0.75h-0.75zM12.75 15.75h0.75v0.75h-0.75zM12.75 18.75h0.75v0.75h-0.75zM12.75 20.25h0.75v0.75h-0.75zM13.5 10.5h0.75v0.75h-0.75zM13.5 12h0.75v0.75h-0.75zM13.5 18.75h0.75v0.75h-0.75zM14.25 3.75h0.75v0.75h-0.75zM14.25 4.5h0.75v0.75h-0.75zM14.25 9h0.75v0.75h-0.75zM14.25 12h0.75v0.75h-0.75zM14.25 13.5h0.75v0.75h-0.75zM14.25 17.25h0.75v0.75h-0.75zM14.25 18h0.75v0.75h-0.75zM14.25 19.5h0.75v0.75h-0.75zM15 0.75h0.75v0.75h-0.75zM15 4.5h0.75v0.75h-0.75zM15 5.25h0.75v0.75h-0.75zM15 9h0.75v0.75h-0.75zM15 9.75h0.75v0.75h-0.75zM15 13.5h0.75v0.75h-0.75zM15 15h0.75v0.75h-0.75zM15 15.75h0.75v0.75h-0.75zM15 16.5h0.75v0.75h-0.75zM15 18h0.75v0.75h-0.75zM15 18.75h0.75v0.75h-0.75zM15 19.5h0.75v0.75h-0.75zM15.75 14.25h0.75v0.75h-0.75zM16.5 4.5h0.75v0.75h-0.75zM16.5 6.75h0.75v0.75h-0.75zM16.5 16.5h0.75v0.75h-0.75zM16.5 17.25h0.75v0.75h-0.75zM16.5 18.75h0.75v0.75h-0.75zM16.5 21h0.75v0.75h-0.75zM16.5 23.25h0.75v0.75h-0.75zM17.25 3.75h0.75v0.75h-0.75zM17.25 9h0.75v0.75h-0.75zM17.25 12h0.75v0.75h-0.75zM17.25 15h0.75v0.75h-0.75zM17.25 21.75h0.75v0.75h-0.75zM18 7.5h0.75v0.75h-0.75zM18 9.75h0.75v0.75h-0.75zM18 11.25h0.75v0.75h-0.75zM18 12.75h0.75v0.75h-0.75zM18 13.5h0.75v0.75h-0.75zM18 14.25h0.75v0.75h-0.75zM18 15h0.75v0.75h-0.75zM18 18h0.75v0.75h-0.75zM18 20.25h0.75v0.75h-0.75zM18 23.25h0.75v0.75h-0.75zM18.75 3.75h0.75v0.75h-0.75zM18.75 6.75h0.75v0.75h-0.75zM18.75 8.25h0.75v0.75h-0.75zM18.75 18h0.75v0.75h-0.75zM18.75 19.5h0.75v0.75h-0.75zM18.75 20.25h0.75v0.75h-0.75zM18.75 21h0.75v0.75h-0.75zM19.5 1.5h0.75v0.75h-0.75zM19.5 8.25h0.75v0.75h-0.75zM19.5 9h0.75v0.75h-0.75zM19.5 11.25h0.75v0.75h-0.75zM19.5 13.5h0.75v0.75h-0.75zM19.5 14.25h0.75v0.75h-0.75zM19.5 21h0.75v0.75h-0.75zM20.25 1.5h0.75v0.75h-0.75zM20.25 7.5h0.75v0.75h-0.75zM20.25 12h0.75v0.75h-0.75zM20.25 14.25h0.75v0.75h-0.75zM20.25 19.5h0.75v0.75h-0.75zM20.25 21h0.75v0.75h-0.75zM20.25 21.75h0.75v0.75h-0.75zM20.25 23.25h0.75v0.75h-0.75zM21 1.5h0.75v0.75h-0.75zM21 2.25h0.75v0.75h-0.75zM21 6h0.75v0.75h-0.75zM21 7.5h0.75v0.75h-0.75zM21 14.25h0.75v0.75h-0.75zM21 15.75h0.75v0.75h-0.75zM21 16.5h0.75v0.75h-0.75zM21 18.75h0.75v0.75h-0.75zM21 19.5h0.75v0.75h-0.75zM21.75 0.75h0.75v0.75h-0.75zM21.75 7.5h0.75v0.75h-0.75zM21.75 9.75h0.75v0.75h-0.75zM21.75 12h0.75v0.75h-0.75zM21.75 16.5h0.75v0.75h-0.75zM21.75 19.5h0.75v0.75h-0.75zM21.75 20.25h0.75v0.75h-0.75zM22.5 6h0.75v0.75h-0.75zM22.5 8.25h0.75v0.75h-0.75zM22.5 10.5h0.75v0.75h-0.75zM22.5 15h0.75v0.75h-0.75zM22.5 15.75h0.75v0.75h-0.75zM22.5 18h0.75v0.75h-0.75zM23.25 12h0.75v0.75h-0.75zM23.25 13.5h0.75v0.75h-0.75z"/></pattern>
<pattern id="sst" width="24.0" height="24.0" patternUnits="userSpaceOnUse"><rect width="24.0" height="24.0" fill="#000"/><path fill="#d04060" d="M0 5.25h0.75v0.75h-0.75zM0 9h0.75v0.75h-0.75zM0 10.5h0.75v0.75h-0.75zM0.75 1.5h0.75v0.75h-0.75zM0.75 7.5h0.75v0.75h-0.75zM0.75 13.5h0.75v0.75h-0.75zM0.75 15.75h0.75v0.75h-0.75zM0.75 17.25h0.75v0.75h-0.75zM1.5 0h0.75v0.75h-0.75zM1.5 7.5h0.75v0.75h-0.75zM1.5 8.25h0.75v0.75h-0.75zM1.5 9h0.75v0.75h-0.75zM1.5 15.75h0.75v0.75h-0.75zM1.5 18h0.75v0.75h-0.75zM1.5 19.5h0.75v0.75h-0.75zM2.25 3.75h0.75v0.75h-0.75zM2.25 4.5h0.75v0.75h-0.75zM2.25 7.5h0.75v0.75h-0.75zM2.25 8.25h0.75v0.75h-0.75zM2.25 11.25h0.75v0.75h-0.75zM2.25 17.25h0.75v0.75h-0.75zM2.25 20.25h0.75v0.75h-0.75zM2.25 23.25h0.75v0.75h-0.75zM3 0h0.75v0.75h-0.75zM3 1.5h0.75v0.75h-0.75zM3 3h0.75v0.75h-0.75zM3 4.5h0.75v0.75h-0.75zM3 7.5h0.75v0.75h-0.75zM3 8.25h0.75v0.75h-0.75zM3 12h0.75v0.75h-0.75zM3 16.5h0.75v0.75h-0.75zM3 18.75h0.75v0.75h-0.75zM3.75 0.75h0.75v0.75h-0.75zM3.75 3h0.75v0.75h-0.75zM3.75 6h0.75v0.75h-0.75zM3.75 9h0.75v0.75h-0.75zM3.75 13.5h0.75v0.75h-0.75zM3.75 14.25h0.75v0.75h-0.75zM3.75 17.25h0.75v0.75h-0.75zM3.75 23.25h0.75v0.75h-0.75zM4.5 4.5h0.75v0.75h-0.75zM4.5 9h0.75v0.75h-0.75zM4.5 15h0.75v0.75h-0.75zM4.5 15.75h0.75v0.75h-0.75zM4.5 20.25h0.75v0.75h-0.75zM4.5 21.75h0.75v0.75h-0.75zM5.25 0h0.75v0.75h-0.75zM5.25 3h0.75v0.75h-0.75zM5.25 3.75h0.75v0.75h-0.75zM5.25 6.75h0.75v0.75h-0.75zM5.25 9h0.75v0.75h-0.75zM5.25 11.25h0.75v0.75h-0.75zM5.25 14.25h0.75v0.75h-0.75zM5.25 17.25h0.75v0.75h-0.75zM5.25 21h0.75v0.75h-0.75zM5.25 21.75h0.75v0.75h-0.75zM6 0.75h0.75v0.75h-0.75zM6 5.25h0.75v0.75h-0.75zM6 6h0.75v0.75h-0.75zM6 8.25h0.75v0.75h-0.75zM6 9.75h0.75v0.75h-0.75zM6 12h0.75v0.75h-0.75zM6 15.75h0.75v0.75h-0.75zM6 23.25h0.75v0.75h-0.75zM6.75 4.5h0.75v0.75h-0.75zM6.75 5.25h0.75v0.75h-0.75zM6.75 6.75h0.75v0.75h-0.75zM6.75 7.5h0.75v0.75h-0.75zM6.75 8.25h0.75v0.75h-0.75zM6.75 12h0.75v0.75h-0.75zM6.75 14.25h0.75v0.75h-0.75zM6.75 16.5h0.75v0.75h-0.75zM6.75 19.5h0.75v0.75h-0.75zM6.75 21h0.75v0.75h-0.75zM6.75 21.75h0.75v0.75h-0.75zM7.5 3.75h0.75v0.75h-0.75zM7.5 7.5h0.75v0.75h-0.75zM7.5 8.25h0.75v0.75h-0.75zM7.5 9h0.75v0.75h-0.75zM7.5 9.75h0.75v0.75h-0.75zM8.25 4.5h0.75v0.75h-0.75zM8.25 8.25h0.75v0.75h-0.75zM8.25 13.5h0.75v0.75h-0.75zM8.25 15.75h0.75v0.75h-0.75zM8.25 17.25h0.75v0.75h-0.75zM8.25 21h0.75v0.75h-0.75zM8.25 22.5h0.75v0.75h-0.75zM9 0.75h0.75v0.75h-0.75zM9 3h0.75v0.75h-0.75zM9 5.25h0.75v0.75h-0.75zM9 14.25h0.75v0.75h-0.75zM9.75 2.25h0.75v0.75h-0.75zM9.75 3.75h0.75v0.75h-0.75zM9.75 5.25h0.75v0.75h-0.75zM9.75 6h0.75v0.75h-0.75zM9.75 9.75h0.75v0.75h-0.75zM9.75 11.25h0.75v0.75h-0.75zM9.75 14.25h0.75v0.75h-0.75zM9.75 18.75h0.75v0.75h-0.75zM9.75 21h0.75v0.75h-0.75zM9.75 23.25h0.75v0.75h-0.75zM10.5 0h0.75v0.75h-0.75zM10.5 3h0.75v0.75h-0.75zM10.5 3.75h0.75v0.75h-0.75zM10.5 9.75h0.75v0.75h-0.75zM10.5 12h0.75v0.75h-0.75zM10.5 15h0.75v0.75h-0.75zM11.25 0h0.75v0.75h-0.75zM11.25 1.5h0.75v0.75h-0.75zM11.25 3h0.75v0.75h-0.75zM11.25 9.75h0.75v0.75h-0.75zM11.25 13.5h0.75v0.75h-0.75zM11.25 15h0.75v0.75h-0.75zM11.25 16.5h0.75v0.75h-0.75zM11.25 17.25h0.75v0.75h-0.75zM11.25 20.25h0.75v0.75h-0.75zM12 0h0.75v0.75h-0.75zM12 2.25h0.75v0.75h-0.75zM12 6.75h0.75v0.75h-0.75zM12 7.5h0.75v0.75h-0.75zM12 8.25h0.75v0.75h-0.75zM12 11.25h0.75v0.75h-0.75zM12 15.75h0.75v0.75h-0.75zM12 16.5h0.75v0.75h-0.75zM12 18h0.75v0.75h-0.75zM12 21.75h0.75v0.75h-0.75zM12.75 7.5h0.75v0.75h-0.75zM12.75 13.5h0.75v0.75h-0.75zM12.75 15h0.75v0.75h-0.75zM12.75 17.25h0.75v0.75h-0.75zM12.75 21h0.75v0.75h-0.75zM13.5 3h0.75v0.75h-0.75zM13.5 9.75h0.75v0.75h-0.75zM13.5 12.75h0.75v0.75h-0.75zM13.5 16.5h0.75v0.75h-0.75zM13.5 17.25h0.75v0.75h-0.75zM13.5 18h0.75v0.75h-0.75zM13.5 22.5h0.75v0.75h-0.75zM14.25 0.75h0.75v0.75h-0.75zM14.25 5.25h0.75v0.75h-0.75zM14.25 6h0.75v0.75h-0.75zM14.25 6.75h0.75v0.75h-0.75zM14.25 9h0.75v0.75h-0.75zM14.25 12.75h0.75v0.75h-0.75zM14.25 16.5h0.75v0.75h-0.75zM14.25 18h0.75v0.75h-0.75zM14.25 21h0.75v0.75h-0.75zM14.25 21.75h0.75v0.75h-0.75zM15 0h0.75v0.75h-0.75zM15 4.5h0.75v0.75h-0.75zM15 6.75h0.75v0.75h-0.75zM15 16.5h0.75v0.75h-0.75zM15 18h0.75v0.75h-0.75zM15 20.25h0.75v0.75h-0.75zM15 23.25h0.75v0.75h-0.75zM15.75 0h0.75v0.75h-0.75zM15.75 1.5h0.75v0.75h-0.75zM15.75 6h0.75v0.75h-0.75zM15.75 7.5h0.75v0.75h-0.75zM15.75 9.75h0.75v0.75h-0.75zM15.75 12.75h0.75v0.75h-0.75zM16.5 2.25h0.75v0.75h-0.75zM16.5 5.25h0.75v0.75h-0.75zM16.5 6h0.75v0.75h-0.75zM16.5 7.5h0.75v0.75h-0.75zM16.5 12h0.75v0.75h-0.75zM16.5 14.25h0.75v0.75h-0.75zM16.5 15.75h0.75v0.75h-0.75zM17.25 0.75h0.75v0.75h-0.75zM17.25 3.75h0.75v0.75h-0.75zM17.25 4.5h0.75v0.75h-0.75zM17.25 5.25h0.75v0.75h-0.75zM17.25 12h0.75v0.75h-0.75zM17.25 18.75h0.75v0.75h-0.75zM18 2.25h0.75v0.75h-0.75zM18 18h0.75v0.75h-0.75zM18 18.75h0.75v0.75h-0.75zM18 21.75h0.75v0.75h-0.75zM18 22.5h0.75v0.75h-0.75zM18 23.25h0.75v0.75h-0.75zM18.75 1.5h0.75v0.75h-0.75zM18.75 3h0.75v0.75h-0.75zM18.75 9h0.75v0.75h-0.75zM18.75 9.75h0.75v0.75h-0.75zM18.75 12h0.75v0.75h-0.75zM18.75 13.5h0.75v0.75h-0.75zM18.75 17.25h0.75v0.75h-0.75zM18.75 18.75h0.75v0.75h-0.75zM18.75 20.25h0.75v0.75h-0.75zM19.5 0.75h0.75v0.75h-0.75zM19.5 2.25h0.75v0.75h-0.75zM19.5 3h0.75v0.75h-0.75zM19.5 5.25h0.75v0.75h-0.75zM19.5 8.25h0.75v0.75h-0.75zM19.5 10.5h0.75v0.75h-0.75zM19.5 11.25h0.75v0.75h-0.75zM19.5 12h0.75v0.75h-0.75zM19.5 15h0.75v0.75h-0.75zM19.5 15.75h0.75v0.75h-0.75zM19.5 19.5h0.75v0.75h-0.75zM19.5 21h0.75v0.75h-0.75zM19.5 22.5h0.75v0.75h-0.75zM20.25 4.5h0.75v0.75h-0.75zM20.25 7.5h0.75v0.75h-0.75zM20.25 12h0.75v0.75h-0.75zM20.25 15h0.75v0.75h-0.75zM20.25 16.5h0.75v0.75h-0.75zM20.25 20.25h0.75v0.75h-0.75zM20.25 21.75h0.75v0.75h-0.75zM21 8.25h0.75v0.75h-0.75zM21 10.5h0.75v0.75h-0.75zM21 12.75h0.75v0.75h-0.75zM21 17.25h0.75v0.75h-0.75zM21 18h0.75v0.75h-0.75zM21 18.75h0.75v0.75h-0.75zM21 21.75h0.75v0.75h-0.75zM21 23.25h0.75v0.75h-0.75zM21.75 1.5h0.75v0.75h-0.75zM21.75 4.5h0.75v0.75h-0.75zM21.75 5.25h0.75v0.75h-0.75zM21.75 8.25h0.75v0.75h-0.75zM21.75 9.75h0.75v0.75h-0.75zM21.75 10.5h0.75v0.75h-0.75zM21.75 12.75h0.75v0.75h-0.75zM21.75 15h0.75v0.75h-0.75zM21.75 15.75h0.75v0.75h-0.75zM21.75 22.5h0.75v0.75h-0.75zM22.5 0h0.75v0.75h-0.75zM22.5 0.75h0.75v0.75h-0.75zM22.5 3h0.75v0.75h-0.75zM22.5 5.25h0.75v0.75h-0.75zM22.5 6h0.75v0.75h-0.75zM22.5 6.75h0.75v0.75h-0.75zM22.5 8.25h0.75v0.75h-0.75zM22.5 10.5h0.75v0.75h-0.75zM22.5 18h0.75v0.75h-0.75zM22.5 21.75h0.75v0.75h-0.75zM23.25 2.25h0.75v0.75h-0.75zM23.25 5.25h0.75v0.75h-0.75zM23.25 16.5h0.75v0.75h-0.75z"/><path fill="#f08030" d="M0 0h0.75v0.75h-0.75zM0 0.75h0.75v0.75h-0.75zM0 1.5h0.75v0.75h-0.75zM0 3h0.75v0.75h-0.75zM0 6.75h0.75v0.75h-0.75zM0 11.25h0.75v0.75h-0.75zM0 15h0.75v0.75h-0.75zM0 16.5h0.75v0.75h-0.75zM0 18h0.75v0.75h-0.75zM0.75 2.25h0.75v0.75h-0.75zM0.75 4.5h0.75v0.75h-0.75zM0.75 11.25h0.75v0.75h-0.75zM0.75 12.75h0.75v0.75h-0.75zM0.75 15h0.75v0.75h-0.75zM0.75 18h0.75v0.75h-0.75zM0.75 21h0.75v0.75h-0.75zM0.75 23.25h0.75v0.75h-0.75zM1.5 0.75h0.75v0.75h-0.75zM1.5 5.25h0.75v0.75h-0.75zM1.5 9.75h0.75v0.75h-0.75zM1.5 11.25h0.75v0.75h-0.75zM1.5 12h0.75v0.75h-0.75zM1.5 16.5h0.75v0.75h-0.75zM2.25 0h0.75v0.75h-0.75zM2.25 6h0.75v0.75h-0.75zM2.25 13.5h0.75v0.75h-0.75zM2.25 15h0.75v0.75h-0.75zM2.25 15.75h0.75v0.75h-0.75zM3 0.75h0.75v0.75h-0.75zM3 6.75h0.75v0.75h-0.75zM3 10.5h0.75v0.75h-0.75zM3 12.75h0.75v0.75h-0.75zM3 13.5h0.75v0.75h-0.75zM3 14.25h0.75v0.75h-0.75zM3 15h0.75v0.75h-0.75zM3 15.75h0.75v0.75h-0.75zM3 17.25h0.75v0.75h-0.75zM3 19.5h0.75v0.75h-0.75zM3 20.25h0.75v0.75h-0.75zM3 22.5h0.75v0.75h-0.75zM3 23.25h0.75v0.75h-0.75zM3.75 2.25h0.75v0.75h-0.75zM3.75 3.75h0.75v0.75h-0.75zM3.75 4.5h0.75v0.75h-0.75zM3.75 5.25h0.75v0.75h-0.75zM3.75 6.75h0.75v0.75h-0.75zM3.75 7.5h0.75v0.75h-0.75zM3.75 11.25h0.75v0.75h-0.75zM3.75 18h0.75v0.75h-0.75zM3.75 18.75h0.75v0.75h-0.75zM3.75 19.5h0.75v0.75h-0.75zM3.75 21h0.75v0.75h-0.75zM3.75 21.75h0.75v0.75h-0.75zM3.75 22.5h0.75v0.75h-0.75zM4.5 0h0.75v0.75h-0.75zM4.5 0.75h0.75v0.75h-0.75zM4.5 1.5h0.75v0.75h-0.75zM4.5 2.25h0.75v0.75h-0.75zM4.5 5.25h0.75v0.75h-0.75zM4.5 6.75h0.75v0.75h-0.75zM4.5 7.5h0.75v0.75h-0.75zM4.5 16.5h0.75v0.75h-0.75zM4.5 17.25h0.75v0.75h-0.75zM5.25 1.5h0.75v0.75h-0.75zM5.25 4.5h0.75v0.75h-0.75zM5.25 6h0.75v0.75h-0.75zM5.25 7.5h0.75v0.75h-0.75zM5.25 8.25h0.75v0.75h-0.75zM5.25 10.5h0.75v0.75h-0.75zM5.25 13.5h0.75v0.75h-0.75zM5.25 18h0.75v0.75h-0.75zM5.25 19.5h0.75v0.75h-0.75zM6 3h0.75v0.75h-0.75zM6 11.25h0.75v0.75h-0.75zM6 13.5h0.75v0.75h-0.75zM6 18h0.75v0.75h-0.75zM6 22.5h0.75v0.75h-0.75zM6.75 0h0.75v0.75h-0.75zM6.75 0.75h0.75v0.75h-0.75zM6.75 1.5h0.75v0.75h-0.75zM6.75 3h0.75v0.75h-0.75zM6.75 9h0.75v0.75h-0.75zM6.75 9.75h0.75v0.75h-0.75zM6.75 15.75h0.75v0.75h-0.75zM6.75 17.25h0.75v0.75h-0.75zM6.75 18h0.75v0.75h-0.75zM6.75 18.75h0.75v0.75h-0.75zM7.5 3h0.75v0.75h-0.75zM7.5 5.25h0.75v0.75h-0.75zM7.5 11.25h0.75v0.75h-0.75zM7.5 12h0.75v0.75h-0.75zM7.5 14.25h0.75v0.75h-0.75zM7.5 15h0.75v0.75h-0.75zM7.5 15.75h0.75v0.75h-0.75zM7.5 17.25h0.75v0.75h-0.75zM7.5 19.5h0.75v0.75h-0.75zM7.5 22.5h0.75v0.75h-0.75zM8.25 0h0.75v0.75h-0.75zM8.25 3.75h0.75v0.75h-0.75zM8.25 6h0.75v0.75h-0.75zM8.25 10.5h0.75v0.75h-0.75zM8.25 11.25h0.75v0.75h-0.75zM8.25 15h0.75v0.75h-0.75zM8.25 18.75h0.75v0.75h-0.75zM8.25 20.25h0.75v0.75h-0.75zM8.25 23.25h0.75v0.75h-0.75zM9 2.25h0.75v0.75h-0.75zM9 6h0.75v0.75h-0.75zM9 7.5h0.75v0.75h-0.75zM9 8.25h0.75v0.75h-0.75zM9 9.75h0.75v0.75h-0.75zM9 12h0.75v0.75h-0.75zM9 15.75h0.75v0.75h-0.75zM9 17.25h0.75v0.75h-0.75zM9 20.25h0.75v0.75h-0.75zM9 23.25h0.75v0.75h-0.75zM9.75 1.5h0.75v0.75h-0.75zM9.75 4.5h0.75v0.75h-0.75zM9.75 8.25h0.75v0.75h-0.75zM9.75 9h0.75v0.75h-0.75zM9.75 12h0.75v0.75h-0.75zM9.75 12.75h0.75v0.75h-0.75zM9.75 13.5h0.75v0.75h-0.75zM9.75 19.5h0.75v0.75h-0.75zM9.75 22.5h0.75v0.75h-0.75zM10.5 13.5h0.75v0.75h-0.75zM10.5 14.25h0.75v0.75h-0.75zM10.5 17.25h0.75v0.75h-0.75zM10.5 18.75h0.75v0.75h-0.75zM10.5 19.5h0.75v0.75h-0.75zM11.25 4.5h0.75v0.75h-0.75zM11.25 5.25h0.75v0.75h-0.75zM11.25 7.5h0.75v0.75h-0.75zM11.25 9h0.75v0.75h-0.75zM11.25 12.75h0.75v0.75h-0.75zM12 12.75h0.75v0.75h-0.75zM12 17.25h0.75v0.75h-0.75zM12 18.75h0.75v0.75h-0.75zM12 19.5h0.75v0.75h-0.75zM12.75 2.25h0.75v0.75h-0.75zM12.75 3h0.75v0.75h-0.75zM12.75 8.25h0.75v0.75h-0.75zM12.75 10.5h0.75v0.75h-0.75zM12.75 16.5h0.75v0.75h-0.75zM12.75 18.75h0.75v0.75h-0.75zM12.75 19.5h0.75v0.75h-0.75zM12.75 20.25h0.75v0.75h-0.75zM12.75 21.75h0.75v0.75h-0.75zM12.75 22.5h0.75v0.75h-0.75zM13.5 0h0.75v0.75h-0.75zM13.5 0.75h0.75v0.75h-0.75zM13.5 2.25h0.75v0.75h-0.75zM13.5 6.75h0.75v0.75h-0.75zM13.5 9h0.75v0.75h-0.75zM13.5 15h0.75v0.75h-0.75zM13.5 19.5h0.75v0.75h-0.75zM13.5 21h0.75v0.75h-0.75zM14.25 0h0.75v0.75h-0.75zM14.25 2.25h0.75v0.75h-0.75zM14.25 7.5h0.75v0.75h-0.75zM14.25 10.5h0.75v0.75h-0.75zM14.25 12h0.75v0.75h-0.75zM14.25 15.75h0.75v0.75h-0.75zM14.25 22.5h0.75v0.75h-0.75zM15 3.75h0.75v0.75h-0.75zM15 9.75h0.75v0.75h-0.75zM15 12h0.75v0.75h-0.75zM15 13.5h0.75v0.75h-0.75zM15 15h0.75v0.75h-0.75zM15 15.75h0.75v0.75h-0.75zM15 18.75h0.75v0.75h-0.75zM15.75 0.75h0.75v0.75h-0.75zM15.75 3h0.75v0.75h-0.75zM15.75 4.5h0.75v0.75h-0.75zM15.75 5.25h0.75v0.75h-0.75zM15.75 6.75h0.75v0.75h-0.75zM15.75 8.25h0.75v0.75h-0.75zM15.75 9h0.75v0.75h-0.75zM15.75 13.5h0.75v0.75h-0.75zM15.75 14.25h0.75v0.75h-0.75zM15.75 15h0.75v0.75h-0.75zM15.75 18h0.75v0.75h-0.75zM15.75 19.5h0.75v0.75h-0.75zM15.75 20.25h0.75v0.75h-0.75zM15.75 22.5h0.75v0.75h-0.75zM16.5 0h0.75v0.75h-0.75zM16.5 0.75h0.75v0.75h-0.75zM16.5 9h0.75v0.75h-0.75zM16.5 11.25h0.75v0.75h-0.75zM16.5 13.5h0.75v0.75h-0.75zM16.5 15h0.75v0.75h-0.75zM16.5 19.5h0.75v0.75h-0.75zM16.5 21.75h0.75v0.75h-0.75zM16.5 22.5h0.75v0.75h-0.75zM17.25 3h0.75v0.75h-0.75zM17.25 8.25h0.75v0.75h-0.75zM17.25 12.75h0.75v0.75h-0.75zM17.25 15h0.75v0.75h-0.75zM17.25 15.75h0.75v0.75h-0.75zM17.25 16.5h0.75v0.75h-0.75zM17.25 17.25h0.75v0.75h-0.75zM17.25 22.5h0.75v0.75h-0.75zM18 0.75h0.75v0.75h-0.75zM18 6.75h0.75v0.75h-0.75zM18 8.25h0.75v0.75h-0.75zM18 9h0.75v0.75h-0.75zM18 9.75h0.75v0.75h-0.75zM18 10.5h0.75v0.75h-0.75zM18 11.25h0.75v0.75h-0.75zM18 13.5h0.75v0.75h-0.75zM18 19.5h0.75v0.75h-0.75zM18 20.25h0.75v0.75h-0.75zM18.75 0.75h0.75v0.75h-0.75zM18.75 2.25h0.75v0.75h-0.75zM18.75 6h0.75v0.75h-0.75zM18.75 6.75h0.75v0.75h-0.75zM18.75 10.5h0.75v0.75h-0.75zM18.75 14.25h0.75v0.75h-0.75zM18.75 15h0.75v0.75h-0.75zM18.75 15.75h0.75v0.75h-0.75zM18.75 21.75h0.75v0.75h-0.75zM19.5 6h0.75v0.75h-0.75zM19.5 7.5h0.75v0.75h-0.75zM19.5 18.75h0.75v0.75h-0.75zM19.5 21.75h0.75v0.75h-0.75zM19.5 23.25h0.75v0.75h-0.75zM20.25 0.75h0.75v0.75h-0.75zM20.25 1.5h0.75v0.75h-0.75zM20.25 3.75h0.75v0.75h-0.75zM20.25 9h0.75v0.75h-0.75zM20.25 11.25h0.75v0.75h-0.75zM20.25 18h0.75v0.75h-0.75zM21 3h0.75v0.75h-0.75zM21 9.75h0.75v0.75h-0.75zM21 11.25h0.75v0.75h-0.75zM21 14.25h0.75v0.75h-0.75zM21 16.5h0.75v0.75h-0.75zM21 19.5h0.75v0.75h-0.75zM21.75 0h0.75v0.75h-0.75zM21.75 2.25h0.75v0.75h-0.75zM21.75 3.75h0.75v0.75h-0.75zM21.75 6h0.75v0.75h-0.75zM21.75 6.75h0.75v0.75h-0.75zM21.75 13.5h0.75v0.75h-0.75zM21.75 16.5h0.75v0.75h-0.75zM21.75 23.25h0.75v0.75h-0.75zM22.5 14.25h0.75v0.75h-0.75zM22.5 15h0.75v0.75h-0.75zM22.5 17.25h0.75v0.75h-0.75zM22.5 18.75h0.75v0.75h-0.75zM23.25 1.5h0.75v0.75h-0.75zM23.25 7.5h0.75v0.75h-0.75zM23.25 9h0.75v0.75h-0.75zM23.25 9.75h0.75v0.75h-0.75zM23.25 10.5h0.75v0.75h-0.75zM23.25 14.25h0.75v0.75h-0.75zM23.25 17.25h0.75v0.75h-0.75zM23.25 18.75h0.75v0.75h-0.75zM23.25 20.25h0.75v0.75h-0.75zM23.25 22.5h0.75v0.75h-0.75z"/><path fill="#8030a0" d="M0 7.5h0.75v0.75h-0.75zM0 14.25h0.75v0.75h-0.75zM0 20.25h0.75v0.75h-0.75zM0 23.25h0.75v0.75h-0.75zM0.75 6h0.75v0.75h-0.75zM0.75 21.75h0.75v0.75h-0.75zM1.5 12.75h0.75v0.75h-0.75zM1.5 17.25h0.75v0.75h-0.75zM2.25 6.75h0.75v0.75h-0.75zM2.25 9.75h0.75v0.75h-0.75zM2.25 12h0.75v0.75h-0.75zM2.25 18.75h0.75v0.75h-0.75zM2.25 21.75h0.75v0.75h-0.75zM3 11.25h0.75v0.75h-0.75zM3.75 8.25h0.75v0.75h-0.75zM3.75 9.75h0.75v0.75h-0.75zM3.75 10.5h0.75v0.75h-0.75zM3.75 15.75h0.75v0.75h-0.75zM4.5 18.75h0.75v0.75h-0.75zM4.5 23.25h0.75v0.75h-0.75zM5.25 15h0.75v0.75h-0.75zM5.25 20.25h0.75v0.75h-0.75zM6 2.25h0.75v0.75h-0.75zM6 14.25h0.75v0.75h-0.75zM6.75 12.75h0.75v0.75h-0.75zM6.75 13.5h0.75v0.75h-0.75zM6.75 20.25h0.75v0.75h-0.75zM6.75 22.5h0.75v0.75h-0.75zM7.5 0.75h0.75v0.75h-0.75zM7.5 2.25h0.75v0.75h-0.75zM7.5 6h0.75v0.75h-0.75zM7.5 21h0.75v0.75h-0.75zM8.25 2.25h0.75v0.75h-0.75zM8.25 12h0.75v0.75h-0.75zM8.25 21.75h0.75v0.75h-0.75zM9 13.5h0.75v0.75h-0.75zM9.75 0h0.75v0.75h-0.75zM9.75 7.5h0.75v0.75h-0.75zM9.75 10.5h0.75v0.75h-0.75zM9.75 18h0.75v0.75h-0.75zM9.75 21.75h0.75v0.75h-0.75zM10.5 4.5h0.75v0.75h-0.75zM11.25 19.5h0.75v0.75h-0.75zM12 13.5h0.75v0.75h-0.75zM12 20.25h0.75v0.75h-0.75zM12 22.5h0.75v0.75h-0.75zM12.75 18h0.75v0.75h-0.75zM13.5 13.5h0.75v0.75h-0.75zM13.5 20.25h0.75v0.75h-0.75zM14.25 4.5h0.75v0.75h-0.75zM14.25 17.25h0.75v0.75h-0.75zM15 2.25h0.75v0.75h-0.75zM15 3h0.75v0.75h-0.75zM15 6h0.75v0.75h-0.75zM15 10.5h0.75v0.75h-0.75zM15 14.25h0.75v0.75h-0.75zM15.75 21.75h0.75v0.75h-0.75zM15.75 23.25h0.75v0.75h-0.75zM16.5 3h0.75v0.75h-0.75zM16.5 9.75h0.75v0.75h-0.75zM16.5 10.5h0.75v0.75h-0.75zM16.5 16.5h0.75v0.75h-0.75zM16.5 20.25h0.75v0.75h-0.75zM17.25 1.5h0.75v0.75h-0.75zM17.25 2.25h0.75v0.75h-0.75zM17.25 6h0.75v0.75h-0.75zM17.25 19.5h0.75v0.75h-0.75zM17.25 21.75h0.75v0.75h-0.75zM18 1.5h0.75v0.75h-0.75zM18.75 11.25h0.75v0.75h-0.75zM18.75 18h0.75v0.75h-0.75zM20.25 0h0.75v0.75h-0.75zM20.25 5.25h0.75v0.75h-0.75zM20.25 6h0.75v0.75h-0.75zM20.25 6.75h0.75v0.75h-0.75zM20.25 9.75h0.75v0.75h-0.75zM20.25 22.5h0.75v0.75h-0.75zM20.25 23.25h0.75v0.75h-0.75zM21 1.5h0.75v0.75h-0.75zM22.5 3.75h0.75v0.75h-0.75zM22.5 16.5h0.75v0.75h-0.75zM22.5 21h0.75v0.75h-0.75zM22.5 22.5h0.75v0.75h-0.75zM23.25 4.5h0.75v0.75h-0.75zM23.25 6h0.75v0.75h-0.75zM23.25 18h0.75v0.75h-0.75zM23.25 21h0.75v0.75h-0.75z"/><path fill="#f8e0a0" d="M0 2.25h0.75v0.75h-0.75zM0 3.75h0.75v0.75h-0.75zM0 6h0.75v0.75h-0.75zM0 22.5h0.75v0.75h-0.75zM0.75 0.75h0.75v0.75h-0.75zM0.75 3.75h0.75v0.75h-0.75zM0.75 5.25h0.75v0.75h-0.75zM0.75 19.5h0.75v0.75h-0.75zM1.5 3.75h0.75v0.75h-0.75zM1.5 6h0.75v0.75h-0.75zM1.5 6.75h0.75v0.75h-0.75zM1.5 14.25h0.75v0.75h-0.75zM1.5 18.75h0.75v0.75h-0.75zM2.25 0.75h0.75v0.75h-0.75zM2.25 3h0.75v0.75h-0.75zM2.25 14.25h0.75v0.75h-0.75zM2.25 21h0.75v0.75h-0.75zM2.25 22.5h0.75v0.75h-0.75zM3 5.25h0.75v0.75h-0.75zM3 6h0.75v0.75h-0.75zM3 21.75h0.75v0.75h-0.75zM3.75 12h0.75v0.75h-0.75zM3.75 12.75h0.75v0.75h-0.75zM3.75 16.5h0.75v0.75h-0.75zM5.25 5.25h0.75v0.75h-0.75zM5.25 12h0.75v0.75h-0.75zM5.25 12.75h0.75v0.75h-0.75zM6 0h0.75v0.75h-0.75zM6 1.5h0.75v0.75h-0.75zM6 4.5h0.75v0.75h-0.75zM6 7.5h0.75v0.75h-0.75zM6 17.25h0.75v0.75h-0.75zM6 21h0.75v0.75h-0.75zM7.5 18h0.75v0.75h-0.75zM7.5 18.75h0.75v0.75h-0.75zM7.5 23.25h0.75v0.75h-0.75zM8.25 16.5h0.75v0.75h-0.75zM9 19.5h0.75v0.75h-0.75zM9 22.5h0.75v0.75h-0.75zM10.5 11.25h0.75v0.75h-0.75zM10.5 12.75h0.75v0.75h-0.75zM10.5 15.75h0.75v0.75h-0.75zM11.25 0.75h0.75v0.75h-0.75zM11.25 8.25h0.75v0.75h-0.75zM11.25 10.5h0.75v0.75h-0.75zM11.25 15.75h0.75v0.75h-0.75zM11.25 21h0.75v0.75h-0.75zM12 5.25h0.75v0.75h-0.75zM12 12h0.75v0.75h-0.75zM12.75 23.25h0.75v0.75h-0.75zM13.5 14.25h0.75v0.75h-0.75zM14.25 1.5h0.75v0.75h-0.75zM14.25 8.25h0.75v0.75h-0.75zM14.25 9.75h0.75v0.75h-0.75zM14.25 14.25h0.75v0.75h-0.75zM15 1.5h0.75v0.75h-0.75zM15.75 2.25h0.75v0.75h-0.75zM15.75 3.75h0.75v0.75h-0.75zM15.75 16.5h0.75v0.75h-0.75zM15.75 21h0.75v0.75h-0.75zM16.5 4.5h0.75v0.75h-0.75zM17.25 9h0.75v0.75h-0.75zM17.25 20.25h0.75v0.75h-0.75zM17.25 23.25h0.75v0.75h-0.75zM18 12h0.75v0.75h-0.75zM18 12.75h0.75v0.75h-0.75zM18 14.25h0.75v0.75h-0.75zM18.75 3.75h0.75v0.75h-0.75zM18.75 4.5h0.75v0.75h-0.75zM19.5 1.5h0.75v0.75h-0.75zM19.5 3.75h0.75v0.75h-0.75zM19.5 14.25h0.75v0.75h-0.75zM19.5 18h0.75v0.75h-0.75zM20.25 8.25h0.75v0.75h-0.75zM20.25 12.75h0.75v0.75h-0.75zM20.25 13.5h0.75v0.75h-0.75zM21 2.25h0.75v0.75h-0.75zM21 5.25h0.75v0.75h-0.75zM21 6h0.75v0.75h-0.75zM21 13.5h0.75v0.75h-0.75zM21 20.25h0.75v0.75h-0.75zM21.75 14.25h0.75v0.75h-0.75zM21.75 17.25h0.75v0.75h-0.75zM21.75 18h0.75v0.75h-0.75zM21.75 18.75h0.75v0.75h-0.75zM21.75 21h0.75v0.75h-0.75zM22.5 1.5h0.75v0.75h-0.75zM22.5 12h0.75v0.75h-0.75zM23.25 12h0.75v0.75h-0.75z"/></pattern>
<pattern id="ssp" width="24.0" height="24.0" patternUnits="userSpaceOnUse"><rect width="24.0" height="24.0" fill="#000"/><path fill="#8020a0" d="M0 3.75h0.75v0.75h-0.75zM0 10.5h0.75v0.75h-0.75zM0 11.25h0.75v0.75h-0.75zM0 12.75h0.75v0.75h-0.75zM0 15.75h0.75v0.75h-0.75zM0 22.5h0.75v0.75h-0.75zM0.75 0.75h0.75v0.75h-0.75zM0.75 2.25h0.75v0.75h-0.75zM0.75 5.25h0.75v0.75h-0.75zM0.75 6h0.75v0.75h-0.75zM0.75 6.75h0.75v0.75h-0.75zM0.75 10.5h0.75v0.75h-0.75zM0.75 12h0.75v0.75h-0.75zM0.75 14.25h0.75v0.75h-0.75zM0.75 15.75h0.75v0.75h-0.75zM0.75 21h0.75v0.75h-0.75zM1.5 1.5h0.75v0.75h-0.75zM1.5 12h0.75v0.75h-0.75zM1.5 15.75h0.75v0.75h-0.75zM1.5 17.25h0.75v0.75h-0.75zM2.25 0.75h0.75v0.75h-0.75zM2.25 6.75h0.75v0.75h-0.75zM2.25 13.5h0.75v0.75h-0.75zM2.25 16.5h0.75v0.75h-0.75zM3 2.25h0.75v0.75h-0.75zM3 7.5h0.75v0.75h-0.75zM3 14.25h0.75v0.75h-0.75zM3 15h0.75v0.75h-0.75zM3 16.5h0.75v0.75h-0.75zM3 18.75h0.75v0.75h-0.75zM3 21h0.75v0.75h-0.75zM3 21.75h0.75v0.75h-0.75zM3.75 0.75h0.75v0.75h-0.75zM3.75 4.5h0.75v0.75h-0.75zM3.75 11.25h0.75v0.75h-0.75zM3.75 22.5h0.75v0.75h-0.75zM3.75 23.25h0.75v0.75h-0.75zM4.5 5.25h0.75v0.75h-0.75zM4.5 9h0.75v0.75h-0.75zM4.5 12.75h0.75v0.75h-0.75zM4.5 14.25h0.75v0.75h-0.75zM4.5 17.25h0.75v0.75h-0.75zM4.5 20.25h0.75v0.75h-0.75zM5.25 0.75h0.75v0.75h-0.75zM5.25 2.25h0.75v0.75h-0.75zM5.25 7.5h0.75v0.75h-0.75zM5.25 8.25h0.75v0.75h-0.75zM5.25 9h0.75v0.75h-0.75zM5.25 9.75h0.75v0.75h-0.75zM5.25 12h0.75v0.75h-0.75zM5.25 14.25h0.75v0.75h-0.75zM5.25 18.75h0.75v0.75h-0.75zM5.25 21.75h0.75v0.75h-0.75zM6 0h0.75v0.75h-0.75zM6 5.25h0.75v0.75h-0.75zM6 10.5h0.75v0.75h-0.75zM6 12h0.75v0.75h-0.75zM6 18h0.75v0.75h-0.75zM6 21.75h0.75v0.75h-0.75zM6 22.5h0.75v0.75h-0.75zM6.75 0.75h0.75v0.75h-0.75zM6.75 13.5h0.75v0.75h-0.75zM6.75 18.75h0.75v0.75h-0.75zM6.75 19.5h0.75v0.75h-0.75zM6.75 20.25h0.75v0.75h-0.75zM7.5 2.25h0.75v0.75h-0.75zM7.5 4.5h0.75v0.75h-0.75zM7.5 6h0.75v0.75h-0.75zM7.5 8.25h0.75v0.75h-0.75zM7.5 9h0.75v0.75h-0.75zM7.5 22.5h0.75v0.75h-0.75zM8.25 4.5h0.75v0.75h-0.75zM8.25 6h0.75v0.75h-0.75zM8.25 10.5h0.75v0.75h-0.75zM8.25 12h0.75v0.75h-0.75zM8.25 15.75h0.75v0.75h-0.75zM8.25 16.5h0.75v0.75h-0.75zM8.25 18h0.75v0.75h-0.75zM8.25 19.5h0.75v0.75h-0.75zM8.25 22.5h0.75v0.75h-0.75zM9 4.5h0.75v0.75h-0.75zM9 8.25h0.75v0.75h-0.75zM9 10.5h0.75v0.75h-0.75zM9 12.75h0.75v0.75h-0.75zM9 21.75h0.75v0.75h-0.75zM9.75 2.25h0.75v0.75h-0.75zM9.75 5.25h0.75v0.75h-0.75zM9.75 10.5h0.75v0.75h-0.75zM9.75 13.5h0.75v0.75h-0.75zM9.75 18h0.75v0.75h-0.75zM9.75 19.5h0.75v0.75h-0.75zM9.75 22.5h0.75v0.75h-0.75zM10.5 0.75h0.75v0.75h-0.75zM10.5 1.5h0.75v0.75h-0.75zM10.5 4.5h0.75v0.75h-0.75zM10.5 11.25h0.75v0.75h-0.75zM10.5 14.25h0.75v0.75h-0.75zM10.5 21h0.75v0.75h-0.75zM10.5 22.5h0.75v0.75h-0.75zM11.25 0.75h0.75v0.75h-0.75zM11.25 1.5h0.75v0.75h-0.75zM11.25 2.25h0.75v0.75h-0.75zM11.25 3.75h0.75v0.75h-0.75zM11.25 6h0.75v0.75h-0.75zM11.25 12.75h0.75v0.75h-0.75zM11.25 15.75h0.75v0.75h-0.75zM11.25 17.25h0.75v0.75h-0.75zM11.25 18h0.75v0.75h-0.75zM11.25 21h0.75v0.75h-0.75zM12 2.25h0.75v0.75h-0.75zM12 3.75h0.75v0.75h-0.75zM12 10.5h0.75v0.75h-0.75zM12 13.5h0.75v0.75h-0.75zM12.75 3h0.75v0.75h-0.75zM12.75 3.75h0.75v0.75h-0.75zM12.75 6h0.75v0.75h-0.75zM12.75 9h0.75v0.75h-0.75zM12.75 12h0.75v0.75h-0.75zM12.75 12.75h0.75v0.75h-0.75zM12.75 13.5h0.75v0.75h-0.75zM12.75 14.25h0.75v0.75h-0.75zM12.75 18.75h0.75v0.75h-0.75zM12.75 20.25h0.75v0.75h-0.75zM13.5 2.25h0.75v0.75h-0.75zM13.5 5.25h0.75v0.75h-0.75zM13.5 6.75h0.75v0.75h-0.75zM13.5 10.5h0.75v0.75h-0.75zM13.5 11.25h0.75v0.75h-0.75zM13.5 16.5h0.75v0.75h-0.75zM13.5 18h0.75v0.75h-0.75zM13.5 18.75h0.75v0.75h-0.75zM13.5 21h0.75v0.75h-0.75zM14.25 1.5h0.75v0.75h-0.75zM14.25 3.75h0.75v0.75h-0.75zM14.25 4.5h0.75v0.75h-0.75zM14.25 5.25h0.75v0.75h-0.75zM14.25 6.75h0.75v0.75h-0.75zM14.25 12h0.75v0.75h-0.75zM14.25 19.5h0.75v0.75h-0.75zM14.25 20.25h0.75v0.75h-0.75zM15 7.5h0.75v0.75h-0.75zM15 10.5h0.75v0.75h-0.75zM15 11.25h0.75v0.75h-0.75zM15 13.5h0.75v0.75h-0.75zM15 15h0.75v0.75h-0.75zM15 15.75h0.75v0.75h-0.75zM15 20.25h0.75v0.75h-0.75zM15 21h0.75v0.75h-0.75zM15.75 0h0.75v0.75h-0.75zM15.75 2.25h0.75v0.75h-0.75zM15.75 6.75h0.75v0.75h-0.75zM15.75 8.25h0.75v0.75h-0.75zM15.75 10.5h0.75v0.75h-0.75zM15.75 13.5h0.75v0.75h-0.75zM15.75 14.25h0.75v0.75h-0.75zM15.75 15h0.75v0.75h-0.75zM15.75 20.25h0.75v0.75h-0.75zM15.75 21.75h0.75v0.75h-0.75zM16.5 5.25h0.75v0.75h-0.75zM16.5 12h0.75v0.75h-0.75zM16.5 12.75h0.75v0.75h-0.75zM16.5 13.5h0.75v0.75h-0.75zM16.5 14.25h0.75v0.75h-0.75zM16.5 15h0.75v0.75h-0.75zM16.5 17.25h0.75v0.75h-0.75zM17.25 6h0.75v0.75h-0.75zM17.25 7.5h0.75v0.75h-0.75zM17.25 8.25h0.75v0.75h-0.75zM17.25 9.75h0.75v0.75h-0.75zM17.25 12h0.75v0.75h-0.75zM17.25 20.25h0.75v0.75h-0.75zM17.25 22.5h0.75v0.75h-0.75zM18 0h0.75v0.75h-0.75zM18 0.75h0.75v0.75h-0.75zM18 12.75h0.75v0.75h-0.75zM18 15h0.75v0.75h-0.75zM18 16.5h0.75v0.75h-0.75zM18 18h0.75v0.75h-0.75zM18 18.75h0.75v0.75h-0.75zM18 23.25h0.75v0.75h-0.75zM18.75 0.75h0.75v0.75h-0.75zM18.75 2.25h0.75v0.75h-0.75zM18.75 3h0.75v0.75h-0.75zM18.75 6.75h0.75v0.75h-0.75zM18.75 9.75h0.75v0.75h-0.75zM18.75 13.5h0.75v0.75h-0.75zM18.75 14.25h0.75v0.75h-0.75zM18.75 15.75h0.75v0.75h-0.75zM18.75 18.75h0.75v0.75h-0.75zM18.75 19.5h0.75v0.75h-0.75zM19.5 1.5h0.75v0.75h-0.75zM19.5 7.5h0.75v0.75h-0.75zM19.5 9h0.75v0.75h-0.75zM19.5 11.25h0.75v0.75h-0.75zM19.5 15.75h0.75v0.75h-0.75zM19.5 18.75h0.75v0.75h-0.75zM19.5 21.75h0.75v0.75h-0.75zM20.25 0.75h0.75v0.75h-0.75zM20.25 4.5h0.75v0.75h-0.75zM20.25 12.75h0.75v0.75h-0.75zM20.25 13.5h0.75v0.75h-0.75zM20.25 18h0.75v0.75h-0.75zM20.25 21.75h0.75v0.75h-0.75zM21 0h0.75v0.75h-0.75zM21 3h0.75v0.75h-0.75zM21 5.25h0.75v0.75h-0.75zM21 6h0.75v0.75h-0.75zM21.75 4.5h0.75v0.75h-0.75zM21.75 12h0.75v0.75h-0.75zM21.75 18h0.75v0.75h-0.75zM21.75 18.75h0.75v0.75h-0.75zM22.5 3h0.75v0.75h-0.75zM22.5 3.75h0.75v0.75h-0.75zM22.5 12h0.75v0.75h-0.75zM22.5 15h0.75v0.75h-0.75zM22.5 21h0.75v0.75h-0.75zM23.25 7.5h0.75v0.75h-0.75zM23.25 10.5h0.75v0.75h-0.75zM23.25 11.25h0.75v0.75h-0.75zM23.25 12.75h0.75v0.75h-0.75zM23.25 16.5h0.75v0.75h-0.75zM23.25 18.75h0.75v0.75h-0.75zM23.25 19.5h0.75v0.75h-0.75zM23.25 20.25h0.75v0.75h-0.75z"/><path fill="#b82880" d="M0 0h0.75v0.75h-0.75zM0 0.75h0.75v0.75h-0.75zM0 5.25h0.75v0.75h-0.75zM0 6.75h0.75v0.75h-0.75zM0 8.25h0.75v0.75h-0.75zM0 9h0.75v0.75h-0.75zM0 13.5h0.75v0.75h-0.75zM0 15h0.75v0.75h-0.75zM0 16.5h0.75v0.75h-0.75zM0 18.75h0.75v0.75h-0.75zM0 19.5h0.75v0.75h-0.75zM0.75 4.5h0.75v0.75h-0.75zM0.75 7.5h0.75v0.75h-0.75zM0.75 13.5h0.75v0.75h-0.75zM0.75 20.25h0.75v0.75h-0.75zM0.75 22.5h0.75v0.75h-0.75zM1.5 0.75h0.75v0.75h-0.75zM1.5 7.5h0.75v0.75h-0.75zM1.5 11.25h0.75v0.75h-0.75zM1.5 12.75h0.75v0.75h-0.75zM1.5 14.25h0.75v0.75h-0.75zM1.5 15h0.75v0.75h-0.75zM1.5 19.5h0.75v0.75h-0.75zM1.5 21.75h0.75v0.75h-0.75zM2.25 6h0.75v0.75h-0.75zM2.25 12h0.75v0.75h-0.75zM2.25 19.5h0.75v0.75h-0.75zM3 0.75h0.75v0.75h-0.75zM3 4.5h0.75v0.75h-0.75zM3 9h0.75v0.75h-0.75zM3 9.75h0.75v0.75h-0.75zM3 20.25h0.75v0.75h-0.75zM3 23.25h0.75v0.75h-0.75zM3.75 2.25h0.75v0.75h-0.75zM3.75 3h0.75v0.75h-0.75zM3.75 5.25h0.75v0.75h-0.75zM3.75 7.5h0.75v0.75h-0.75zM3.75 9h0.75v0.75h-0.75zM3.75 12.75h0.75v0.75h-0.75zM3.75 16.5h0.75v0.75h-0.75zM3.75 21.75h0.75v0.75h-0.75zM4.5 3.75h0.75v0.75h-0.75zM4.5 7.5h0.75v0.75h-0.75zM5.25 1.5h0.75v0.75h-0.75zM5.25 10.5h0.75v0.75h-0.75zM5.25 17.25h0.75v0.75h-0.75zM5.25 22.5h0.75v0.75h-0.75zM6 3h0.75v0.75h-0.75zM6 3.75h0.75v0.75h-0.75zM6 9.75h0.75v0.75h-0.75zM6 11.25h0.75v0.75h-0.75zM6 15h0.75v0.75h-0.75zM6 15.75h0.75v0.75h-0.75zM6 16.5h0.75v0.75h-0.75zM6 19.5h0.75v0.75h-0.75zM6 20.25h0.75v0.75h-0.75zM6 23.25h0.75v0.75h-0.75zM6.75 7.5h0.75v0.75h-0.75zM6.75 12h0.75v0.75h-0.75zM6.75 23.25h0.75v0.75h-0.75zM7.5 1.5h0.75v0.75h-0.75zM7.5 3.75h0.75v0.75h-0.75zM7.5 7.5h0.75v0.75h-0.75zM7.5 9.75h0.75v0.75h-0.75zM7.5 11.25h0.75v0.75h-0.75zM7.5 12h0.75v0.75h-0.75zM7.5 14.25h0.75v0.75h-0.75zM7.5 15h0.75v0.75h-0.75zM7.5 18.75h0.75v0.75h-0.75zM7.5 23.25h0.75v0.75h-0.75zM8.25 3.75h0.75v0.75h-0.75zM8.25 6.75h0.75v0.75h-0.75zM8.25 9.75h0.75v0.75h-0.75zM8.25 11.25h0.75v0.75h-0.75zM8.25 12.75h0.75v0.75h-0.75zM8.25 20.25h0.75v0.75h-0.75zM9 1.5h0.75v0.75h-0.75zM9 5.25h0.75v0.75h-0.75zM9 6h0.75v0.75h-0.75zM9 9.75h0.75v0.75h-0.75zM9 11.25h0.75v0.75h-0.75zM9 15.75h0.75v0.75h-0.75zM9 20.25h0.75v0.75h-0.75zM9 23.25h0.75v0.75h-0.75zM9.75 0.75h0.75v0.75h-0.75zM9.75 6h0.75v0.75h-0.75zM9.75 14.25h0.75v0.75h-0.75zM9.75 15.75h0.75v0.75h-0.75zM9.75 20.25h0.75v0.75h-0.75zM10.5 0h0.75v0.75h-0.75zM10.5 3h0.75v0.75h-0.75zM10.5 10.5h0.75v0.75h-0.75zM10.5 12h0.75v0.75h-0.75zM10.5 13.5h0.75v0.75h-0.75zM10.5 15.75h0.75v0.75h-0.75zM11.25 6.75h0.75v0.75h-0.75zM11.25 13.5h0.75v0.75h-0.75zM12 3h0.75v0.75h-0.75zM12 4.5h0.75v0.75h-0.75zM12 6.75h0.75v0.75h-0.75zM12 7.5h0.75v0.75h-0.75zM12 11.25h0.75v0.75h-0.75zM12 12.75h0.75v0.75h-0.75zM12 14.25h0.75v0.75h-0.75zM12 15h0.75v0.75h-0.75zM12 16.5h0.75v0.75h-0.75zM12.75 16.5h0.75v0.75h-0.75zM12.75 21h0.75v0.75h-0.75zM13.5 0h0.75v0.75h-0.75zM13.5 3.75h0.75v0.75h-0.75zM13.5 9h0.75v0.75h-0.75zM13.5 15.75h0.75v0.75h-0.75zM13.5 19.5h0.75v0.75h-0.75zM14.25 6h0.75v0.75h-0.75zM14.25 8.25h0.75v0.75h-0.75zM14.25 9.75h0.75v0.75h-0.75zM14.25 14.25h0.75v0.75h-0.75zM14.25 16.5h0.75v0.75h-0.75zM15 6.75h0.75v0.75h-0.75zM15 9.75h0.75v0.75h-0.75zM15 18h0.75v0.75h-0.75zM15.75 3.75h0.75v0.75h-0.75zM15.75 4.5h0.75v0.75h-0.75zM15.75 17.25h0.75v0.75h-0.75zM15.75 18h0.75v0.75h-0.75zM15.75 18.75h0.75v0.75h-0.75zM16.5 4.5h0.75v0.75h-0.75zM16.5 6.75h0.75v0.75h-0.75zM16.5 21.75h0.75v0.75h-0.75zM17.25 4.5h0.75v0.75h-0.75zM17.25 18h0.75v0.75h-0.75zM17.25 18.75h0.75v0.75h-0.75zM17.25 21h0.75v0.75h-0.75zM17.25 23.25h0.75v0.75h-0.75zM18 5.25h0.75v0.75h-0.75zM18 7.5h0.75v0.75h-0.75zM18 9.75h0.75v0.75h-0.75zM18 20.25h0.75v0.75h-0.75zM18.75 5.25h0.75v0.75h-0.75zM18.75 7.5h0.75v0.75h-0.75zM18.75 8.25h0.75v0.75h-0.75zM18.75 10.5h0.75v0.75h-0.75zM18.75 12.75h0.75v0.75h-0.75zM18.75 15h0.75v0.75h-0.75zM19.5 0.75h0.75v0.75h-0.75zM19.5 2.25h0.75v0.75h-0.75zM19.5 3.75h0.75v0.75h-0.75zM19.5 5.25h0.75v0.75h-0.75zM19.5 19.5h0.75v0.75h-0.75zM19.5 22.5h0.75v0.75h-0.75zM19.5 23.25h0.75v0.75h-0.75zM20.25 0h0.75v0.75h-0.75zM20.25 9h0.75v0.75h-0.75zM20.25 15h0.75v0.75h-0.75zM20.25 18.75h0.75v0.75h-0.75zM20.25 20.25h0.75v0.75h-0.75zM21 1.5h0.75v0.75h-0.75zM21 3.75h0.75v0.75h-0.75zM21 13.5h0.75v0.75h-0.75zM21 15.75h0.75v0.75h-0.75zM21 19.5h0.75v0.75h-0.75zM21 21h0.75v0.75h-0.75zM21.75 5.25h0.75v0.75h-0.75zM21.75 7.5h0.75v0.75h-0.75zM21.75 9.75h0.75v0.75h-0.75zM21.75 15.75h0.75v0.75h-0.75zM21.75 21.75h0.75v0.75h-0.75zM22.5 0.75h0.75v0.75h-0.75zM22.5 5.25h0.75v0.75h-0.75zM22.5 6.75h0.75v0.75h-0.75zM22.5 13.5h0.75v0.75h-0.75zM22.5 14.25h0.75v0.75h-0.75zM22.5 17.25h0.75v0.75h-0.75zM22.5 22.5h0.75v0.75h-0.75zM23.25 0h0.75v0.75h-0.75zM23.25 2.25h0.75v0.75h-0.75zM23.25 12h0.75v0.75h-0.75zM23.25 13.5h0.75v0.75h-0.75zM23.25 14.25h0.75v0.75h-0.75zM23.25 15.75h0.75v0.75h-0.75zM23.25 21h0.75v0.75h-0.75zM23.25 21.75h0.75v0.75h-0.75zM23.25 22.5h0.75v0.75h-0.75z"/><path fill="#e8702a" d="M0.75 0h0.75v0.75h-0.75zM0.75 3.75h0.75v0.75h-0.75zM0.75 8.25h0.75v0.75h-0.75zM1.5 5.25h0.75v0.75h-0.75zM1.5 9h0.75v0.75h-0.75zM1.5 10.5h0.75v0.75h-0.75zM2.25 3.75h0.75v0.75h-0.75zM2.25 14.25h0.75v0.75h-0.75zM2.25 15h0.75v0.75h-0.75zM2.25 20.25h0.75v0.75h-0.75zM3 3.75h0.75v0.75h-0.75zM3 6.75h0.75v0.75h-0.75zM3.75 1.5h0.75v0.75h-0.75zM3.75 6.75h0.75v0.75h-0.75zM3.75 13.5h0.75v0.75h-0.75zM3.75 15h0.75v0.75h-0.75zM3.75 18h0.75v0.75h-0.75zM3.75 19.5h0.75v0.75h-0.75zM4.5 3h0.75v0.75h-0.75zM4.5 4.5h0.75v0.75h-0.75zM4.5 21h0.75v0.75h-0.75zM5.25 6.75h0.75v0.75h-0.75zM5.25 12.75h0.75v0.75h-0.75zM6 0.75h0.75v0.75h-0.75zM6 7.5h0.75v0.75h-0.75zM6 9h0.75v0.75h-0.75zM6 21h0.75v0.75h-0.75zM6.75 3.75h0.75v0.75h-0.75zM6.75 5.25h0.75v0.75h-0.75zM6.75 6h0.75v0.75h-0.75zM6.75 17.25h0.75v0.75h-0.75zM7.5 3h0.75v0.75h-0.75zM7.5 13.5h0.75v0.75h-0.75zM8.25 0h0.75v0.75h-0.75zM8.25 3h0.75v0.75h-0.75zM8.25 5.25h0.75v0.75h-0.75zM8.25 9h0.75v0.75h-0.75zM8.25 21.75h0.75v0.75h-0.75zM9 2.25h0.75v0.75h-0.75zM9 12h0.75v0.75h-0.75zM9 13.5h0.75v0.75h-0.75zM9 17.25h0.75v0.75h-0.75zM9.75 9h0.75v0.75h-0.75zM9.75 9.75h0.75v0.75h-0.75zM9.75 15h0.75v0.75h-0.75zM9.75 21.75h0.75v0.75h-0.75zM10.5 18.75h0.75v0.75h-0.75zM11.25 4.5h0.75v0.75h-0.75zM11.25 9h0.75v0.75h-0.75zM11.25 12h0.75v0.75h-0.75zM12.75 15.75h0.75v0.75h-0.75zM13.5 14.25h0.75v0.75h-0.75zM13.5 20.25h0.75v0.75h-0.75zM13.5 23.25h0.75v0.75h-0.75zM14.25 7.5h0.75v0.75h-0.75zM14.25 11.25h0.75v0.75h-0.75zM14.25 21.75h0.75v0.75h-0.75zM15 0h0.75v0.75h-0.75zM15 3h0.75v0.75h-0.75zM15 12.75h0.75v0.75h-0.75zM15 14.25h0.75v0.75h-0.75zM15 17.25h0.75v0.75h-0.75zM15 22.5h0.75v0.75h-0.75zM15.75 19.5h0.75v0.75h-0.75zM16.5 11.25h0.75v0.75h-0.75zM16.5 21h0.75v0.75h-0.75zM17.25 2.25h0.75v0.75h-0.75zM17.25 3h0.75v0.75h-0.75zM17.25 9h0.75v0.75h-0.75zM17.25 10.5h0.75v0.75h-0.75zM17.25 14.25h0.75v0.75h-0.75zM18 14.25h0.75v0.75h-0.75zM18 21.75h0.75v0.75h-0.75zM18.75 20.25h0.75v0.75h-0.75zM18.75 23.25h0.75v0.75h-0.75zM19.5 12.75h0.75v0.75h-0.75zM19.5 17.25h0.75v0.75h-0.75zM20.25 2.25h0.75v0.75h-0.75zM20.25 7.5h0.75v0.75h-0.75zM20.25 9.75h0.75v0.75h-0.75zM20.25 19.5h0.75v0.75h-0.75zM20.25 21h0.75v0.75h-0.75zM21 0.75h0.75v0.75h-0.75zM21 4.5h0.75v0.75h-0.75zM21 6.75h0.75v0.75h-0.75zM21 7.5h0.75v0.75h-0.75zM21 9h0.75v0.75h-0.75zM21.75 0h0.75v0.75h-0.75zM21.75 15h0.75v0.75h-0.75zM21.75 19.5h0.75v0.75h-0.75zM22.5 1.5h0.75v0.75h-0.75zM22.5 10.5h0.75v0.75h-0.75zM22.5 15.75h0.75v0.75h-0.75zM22.5 18.75h0.75v0.75h-0.75zM23.25 1.5h0.75v0.75h-0.75zM23.25 9.75h0.75v0.75h-0.75z"/></pattern>
<pattern id="ssq" width="24.0" height="24.0" patternUnits="userSpaceOnUse"><rect width="24.0" height="24.0" fill="#000"/><path fill="#7a1f9a" d="M0 0h0.75v0.75h-0.75zM0 3.75h0.75v0.75h-0.75zM0 9.75h0.75v0.75h-0.75zM0 15.75h0.75v0.75h-0.75zM0 19.5h0.75v0.75h-0.75zM0 23.25h0.75v0.75h-0.75zM0.75 6h0.75v0.75h-0.75zM0.75 6.75h0.75v0.75h-0.75zM0.75 8.25h0.75v0.75h-0.75zM0.75 9h0.75v0.75h-0.75zM0.75 14.25h0.75v0.75h-0.75zM0.75 18h0.75v0.75h-0.75zM0.75 18.75h0.75v0.75h-0.75zM0.75 20.25h0.75v0.75h-0.75zM0.75 22.5h0.75v0.75h-0.75zM0.75 23.25h0.75v0.75h-0.75zM1.5 0.75h0.75v0.75h-0.75zM1.5 1.5h0.75v0.75h-0.75zM1.5 9.75h0.75v0.75h-0.75zM1.5 12h0.75v0.75h-0.75zM1.5 13.5h0.75v0.75h-0.75zM1.5 16.5h0.75v0.75h-0.75zM2.25 3h0.75v0.75h-0.75zM2.25 9h0.75v0.75h-0.75zM2.25 16.5h0.75v0.75h-0.75zM3 0h0.75v0.75h-0.75zM3 1.5h0.75v0.75h-0.75zM3 6.75h0.75v0.75h-0.75zM3 11.25h0.75v0.75h-0.75zM3 19.5h0.75v0.75h-0.75zM3.75 3.75h0.75v0.75h-0.75zM3.75 5.25h0.75v0.75h-0.75zM3.75 12.75h0.75v0.75h-0.75zM3.75 14.25h0.75v0.75h-0.75zM3.75 15h0.75v0.75h-0.75zM3.75 21h0.75v0.75h-0.75zM3.75 23.25h0.75v0.75h-0.75zM4.5 1.5h0.75v0.75h-0.75zM4.5 3.75h0.75v0.75h-0.75zM4.5 6.75h0.75v0.75h-0.75zM4.5 11.25h0.75v0.75h-0.75zM4.5 18h0.75v0.75h-0.75zM4.5 18.75h0.75v0.75h-0.75zM5.25 3h0.75v0.75h-0.75zM5.25 9.75h0.75v0.75h-0.75zM5.25 12h0.75v0.75h-0.75zM5.25 12.75h0.75v0.75h-0.75zM5.25 13.5h0.75v0.75h-0.75zM5.25 14.25h0.75v0.75h-0.75zM6 15.75h0.75v0.75h-0.75zM6 18.75h0.75v0.75h-0.75zM6 20.25h0.75v0.75h-0.75zM6 21.75h0.75v0.75h-0.75zM6 22.5h0.75v0.75h-0.75zM6 23.25h0.75v0.75h-0.75zM6.75 2.25h0.75v0.75h-0.75zM6.75 6h0.75v0.75h-0.75zM6.75 6.75h0.75v0.75h-0.75zM6.75 22.5h0.75v0.75h-0.75zM7.5 0.75h0.75v0.75h-0.75zM7.5 8.25h0.75v0.75h-0.75zM7.5 13.5h0.75v0.75h-0.75zM7.5 17.25h0.75v0.75h-0.75zM7.5 19.5h0.75v0.75h-0.75zM7.5 22.5h0.75v0.75h-0.75zM8.25 0h0.75v0.75h-0.75zM8.25 5.25h0.75v0.75h-0.75zM8.25 11.25h0.75v0.75h-0.75zM8.25 15h0.75v0.75h-0.75zM8.25 15.75h0.75v0.75h-0.75zM8.25 17.25h0.75v0.75h-0.75zM8.25 19.5h0.75v0.75h-0.75zM9 0h0.75v0.75h-0.75zM9 0.75h0.75v0.75h-0.75zM9 8.25h0.75v0.75h-0.75zM9 14.25h0.75v0.75h-0.75zM9 15.75h0.75v0.75h-0.75zM9 17.25h0.75v0.75h-0.75zM9 18h0.75v0.75h-0.75zM9 23.25h0.75v0.75h-0.75zM9.75 6h0.75v0.75h-0.75zM9.75 9.75h0.75v0.75h-0.75zM9.75 12h0.75v0.75h-0.75zM9.75 18h0.75v0.75h-0.75zM9.75 18.75h0.75v0.75h-0.75zM10.5 1.5h0.75v0.75h-0.75zM10.5 12.75h0.75v0.75h-0.75zM10.5 14.25h0.75v0.75h-0.75zM10.5 15.75h0.75v0.75h-0.75zM10.5 23.25h0.75v0.75h-0.75zM11.25 5.25h0.75v0.75h-0.75zM11.25 11.25h0.75v0.75h-0.75zM11.25 23.25h0.75v0.75h-0.75zM12 6.75h0.75v0.75h-0.75zM12 11.25h0.75v0.75h-0.75zM12 12h0.75v0.75h-0.75zM12.75 3.75h0.75v0.75h-0.75zM12.75 7.5h0.75v0.75h-0.75zM12.75 12.75h0.75v0.75h-0.75zM12.75 16.5h0.75v0.75h-0.75zM12.75 18.75h0.75v0.75h-0.75zM12.75 20.25h0.75v0.75h-0.75zM13.5 2.25h0.75v0.75h-0.75zM13.5 3h0.75v0.75h-0.75zM13.5 5.25h0.75v0.75h-0.75zM13.5 9.75h0.75v0.75h-0.75zM13.5 10.5h0.75v0.75h-0.75zM13.5 11.25h0.75v0.75h-0.75zM13.5 21.75h0.75v0.75h-0.75zM14.25 5.25h0.75v0.75h-0.75zM14.25 15.75h0.75v0.75h-0.75zM14.25 19.5h0.75v0.75h-0.75zM15 3h0.75v0.75h-0.75zM15 21h0.75v0.75h-0.75zM15 22.5h0.75v0.75h-0.75zM15.75 6h0.75v0.75h-0.75zM15.75 12.75h0.75v0.75h-0.75zM15.75 18h0.75v0.75h-0.75zM16.5 1.5h0.75v0.75h-0.75zM16.5 9h0.75v0.75h-0.75zM16.5 12.75h0.75v0.75h-0.75zM17.25 7.5h0.75v0.75h-0.75zM17.25 9.75h0.75v0.75h-0.75zM17.25 10.5h0.75v0.75h-0.75zM17.25 12.75h0.75v0.75h-0.75zM17.25 15h0.75v0.75h-0.75zM17.25 20.25h0.75v0.75h-0.75zM17.25 21h0.75v0.75h-0.75zM18 6.75h0.75v0.75h-0.75zM18 9.75h0.75v0.75h-0.75zM18 15.75h0.75v0.75h-0.75zM18 23.25h0.75v0.75h-0.75zM18.75 1.5h0.75v0.75h-0.75zM18.75 2.25h0.75v0.75h-0.75zM18.75 6h0.75v0.75h-0.75zM18.75 15h0.75v0.75h-0.75zM18.75 16.5h0.75v0.75h-0.75zM19.5 3.75h0.75v0.75h-0.75zM19.5 6h0.75v0.75h-0.75zM19.5 7.5h0.75v0.75h-0.75zM19.5 18h0.75v0.75h-0.75zM19.5 18.75h0.75v0.75h-0.75zM20.25 0.75h0.75v0.75h-0.75zM20.25 2.25h0.75v0.75h-0.75zM20.25 3.75h0.75v0.75h-0.75zM20.25 5.25h0.75v0.75h-0.75zM20.25 9h0.75v0.75h-0.75zM20.25 13.5h0.75v0.75h-0.75zM20.25 18h0.75v0.75h-0.75zM20.25 23.25h0.75v0.75h-0.75zM21 0.75h0.75v0.75h-0.75zM21 9h0.75v0.75h-0.75zM21 12.75h0.75v0.75h-0.75zM21 15h0.75v0.75h-0.75zM21 17.25h0.75v0.75h-0.75zM21 22.5h0.75v0.75h-0.75zM21.75 11.25h0.75v0.75h-0.75zM21.75 14.25h0.75v0.75h-0.75zM22.5 7.5h0.75v0.75h-0.75zM22.5 9.75h0.75v0.75h-0.75zM22.5 11.25h0.75v0.75h-0.75zM22.5 17.25h0.75v0.75h-0.75zM22.5 18.75h0.75v0.75h-0.75zM22.5 21h0.75v0.75h-0.75zM23.25 1.5h0.75v0.75h-0.75zM23.25 3.75h0.75v0.75h-0.75zM23.25 5.25h0.75v0.75h-0.75zM23.25 8.25h0.75v0.75h-0.75zM23.25 16.5h0.75v0.75h-0.75zM23.25 20.25h0.75v0.75h-0.75z"/><path fill="#c42e7c" d="M0 0.75h0.75v0.75h-0.75zM0 1.5h0.75v0.75h-0.75zM0 6h0.75v0.75h-0.75zM0 6.75h0.75v0.75h-0.75zM0 7.5h0.75v0.75h-0.75zM0 8.25h0.75v0.75h-0.75zM0 14.25h0.75v0.75h-0.75zM0.75 1.5h0.75v0.75h-0.75zM0.75 3h0.75v0.75h-0.75zM0.75 7.5h0.75v0.75h-0.75zM0.75 10.5h0.75v0.75h-0.75zM0.75 12.75h0.75v0.75h-0.75zM0.75 15h0.75v0.75h-0.75zM0.75 15.75h0.75v0.75h-0.75zM1.5 2.25h0.75v0.75h-0.75zM1.5 3.75h0.75v0.75h-0.75zM1.5 5.25h0.75v0.75h-0.75zM1.5 8.25h0.75v0.75h-0.75zM1.5 18h0.75v0.75h-0.75zM1.5 21h0.75v0.75h-0.75zM2.25 0.75h0.75v0.75h-0.75zM2.25 6.75h0.75v0.75h-0.75zM2.25 8.25h0.75v0.75h-0.75zM2.25 9.75h0.75v0.75h-0.75zM2.25 17.25h0.75v0.75h-0.75zM2.25 18h0.75v0.75h-0.75zM2.25 21h0.75v0.75h-0.75zM2.25 21.75h0.75v0.75h-0.75zM3 3h0.75v0.75h-0.75zM3 3.75h0.75v0.75h-0.75zM3 6h0.75v0.75h-0.75zM3 7.5h0.75v0.75h-0.75zM3 9.75h0.75v0.75h-0.75zM3 12h0.75v0.75h-0.75zM3 12.75h0.75v0.75h-0.75zM3 14.25h0.75v0.75h-0.75zM3 18h0.75v0.75h-0.75zM3 23.25h0.75v0.75h-0.75zM3.75 0h0.75v0.75h-0.75zM3.75 0.75h0.75v0.75h-0.75zM3.75 2.25h0.75v0.75h-0.75zM3.75 3h0.75v0.75h-0.75zM3.75 6.75h0.75v0.75h-0.75zM3.75 9.75h0.75v0.75h-0.75zM3.75 10.5h0.75v0.75h-0.75zM3.75 11.25h0.75v0.75h-0.75zM3.75 16.5h0.75v0.75h-0.75zM4.5 2.25h0.75v0.75h-0.75zM4.5 4.5h0.75v0.75h-0.75zM4.5 9.75h0.75v0.75h-0.75zM4.5 10.5h0.75v0.75h-0.75zM4.5 12h0.75v0.75h-0.75zM4.5 12.75h0.75v0.75h-0.75zM4.5 14.25h0.75v0.75h-0.75zM4.5 15h0.75v0.75h-0.75zM4.5 16.5h0.75v0.75h-0.75zM4.5 21.75h0.75v0.75h-0.75zM5.25 2.25h0.75v0.75h-0.75zM5.25 6.75h0.75v0.75h-0.75zM5.25 8.25h0.75v0.75h-0.75zM5.25 10.5h0.75v0.75h-0.75zM5.25 18.75h0.75v0.75h-0.75zM5.25 23.25h0.75v0.75h-0.75zM6 8.25h0.75v0.75h-0.75zM6 12.75h0.75v0.75h-0.75zM6 14.25h0.75v0.75h-0.75zM6 15h0.75v0.75h-0.75zM6 16.5h0.75v0.75h-0.75zM6 17.25h0.75v0.75h-0.75zM6 19.5h0.75v0.75h-0.75zM6 21h0.75v0.75h-0.75zM6.75 0h0.75v0.75h-0.75zM6.75 3.75h0.75v0.75h-0.75zM6.75 5.25h0.75v0.75h-0.75zM6.75 7.5h0.75v0.75h-0.75zM6.75 8.25h0.75v0.75h-0.75zM6.75 15.75h0.75v0.75h-0.75zM6.75 16.5h0.75v0.75h-0.75zM6.75 18.75h0.75v0.75h-0.75zM7.5 0h0.75v0.75h-0.75zM7.5 1.5h0.75v0.75h-0.75zM7.5 4.5h0.75v0.75h-0.75zM7.5 6.75h0.75v0.75h-0.75zM7.5 10.5h0.75v0.75h-0.75zM7.5 11.25h0.75v0.75h-0.75zM7.5 14.25h0.75v0.75h-0.75zM7.5 15.75h0.75v0.75h-0.75zM7.5 21h0.75v0.75h-0.75zM7.5 21.75h0.75v0.75h-0.75zM8.25 0.75h0.75v0.75h-0.75zM8.25 2.25h0.75v0.75h-0.75zM8.25 3.75h0.75v0.75h-0.75zM8.25 6.75h0.75v0.75h-0.75zM8.25 7.5h0.75v0.75h-0.75zM8.25 9h0.75v0.75h-0.75zM8.25 9.75h0.75v0.75h-0.75zM8.25 10.5h0.75v0.75h-0.75zM8.25 23.25h0.75v0.75h-0.75zM9 1.5h0.75v0.75h-0.75zM9 3h0.75v0.75h-0.75zM9 6.75h0.75v0.75h-0.75zM9 12h0.75v0.75h-0.75zM9 12.75h0.75v0.75h-0.75zM9 13.5h0.75v0.75h-0.75zM9 19.5h0.75v0.75h-0.75zM9 20.25h0.75v0.75h-0.75zM9 21.75h0.75v0.75h-0.75zM9 22.5h0.75v0.75h-0.75zM9.75 0h0.75v0.75h-0.75zM9.75 0.75h0.75v0.75h-0.75zM9.75 1.5h0.75v0.75h-0.75zM9.75 19.5h0.75v0.75h-0.75zM10.5 0.75h0.75v0.75h-0.75zM10.5 3.75h0.75v0.75h-0.75zM10.5 4.5h0.75v0.75h-0.75zM10.5 6.75h0.75v0.75h-0.75zM10.5 9h0.75v0.75h-0.75zM10.5 12h0.75v0.75h-0.75zM10.5 18h0.75v0.75h-0.75zM10.5 18.75h0.75v0.75h-0.75zM10.5 21h0.75v0.75h-0.75zM10.5 21.75h0.75v0.75h-0.75zM11.25 2.25h0.75v0.75h-0.75zM11.25 3h0.75v0.75h-0.75zM11.25 6.75h0.75v0.75h-0.75zM11.25 7.5h0.75v0.75h-0.75zM11.25 8.25h0.75v0.75h-0.75zM11.25 9h0.75v0.75h-0.75zM11.25 10.5h0.75v0.75h-0.75zM11.25 16.5h0.75v0.75h-0.75zM11.25 18.75h0.75v0.75h-0.75zM12 0h0.75v0.75h-0.75zM12 1.5h0.75v0.75h-0.75zM12 2.25h0.75v0.75h-0.75zM12 3h0.75v0.75h-0.75zM12 4.5h0.75v0.75h-0.75zM12 6h0.75v0.75h-0.75zM12 9h0.75v0.75h-0.75zM12 13.5h0.75v0.75h-0.75zM12 14.25h0.75v0.75h-0.75zM12 15h0.75v0.75h-0.75zM12 22.5h0.75v0.75h-0.75zM12 23.25h0.75v0.75h-0.75zM12.75 5.25h0.75v0.75h-0.75zM12.75 6.75h0.75v0.75h-0.75zM12.75 12h0.75v0.75h-0.75zM12.75 19.5h0.75v0.75h-0.75zM12.75 21h0.75v0.75h-0.75zM12.75 21.75h0.75v0.75h-0.75zM13.5 0h0.75v0.75h-0.75zM13.5 0.75h0.75v0.75h-0.75zM13.5 6.75h0.75v0.75h-0.75zM13.5 9h0.75v0.75h-0.75zM13.5 14.25h0.75v0.75h-0.75zM13.5 15h0.75v0.75h-0.75zM13.5 16.5h0.75v0.75h-0.75zM13.5 18.75h0.75v0.75h-0.75zM13.5 21h0.75v0.75h-0.75zM14.25 1.5h0.75v0.75h-0.75zM14.25 2.25h0.75v0.75h-0.75zM14.25 3h0.75v0.75h-0.75zM14.25 8.25h0.75v0.75h-0.75zM14.25 15h0.75v0.75h-0.75zM15 0h0.75v0.75h-0.75zM15 5.25h0.75v0.75h-0.75zM15 15.75h0.75v0.75h-0.75zM15 17.25h0.75v0.75h-0.75zM15 18.75h0.75v0.75h-0.75zM15 19.5h0.75v0.75h-0.75zM15.75 3h0.75v0.75h-0.75zM15.75 5.25h0.75v0.75h-0.75zM15.75 10.5h0.75v0.75h-0.75zM15.75 13.5h0.75v0.75h-0.75zM15.75 14.25h0.75v0.75h-0.75zM15.75 15h0.75v0.75h-0.75zM15.75 18.75h0.75v0.75h-0.75zM15.75 19.5h0.75v0.75h-0.75zM15.75 22.5h0.75v0.75h-0.75zM16.5 3h0.75v0.75h-0.75zM16.5 6.75h0.75v0.75h-0.75zM16.5 16.5h0.75v0.75h-0.75zM16.5 18.75h0.75v0.75h-0.75zM16.5 21.75h0.75v0.75h-0.75zM16.5 22.5h0.75v0.75h-0.75zM17.25 0.75h0.75v0.75h-0.75zM17.25 3.75h0.75v0.75h-0.75zM17.25 6h0.75v0.75h-0.75zM17.25 16.5h0.75v0.75h-0.75zM17.25 17.25h0.75v0.75h-0.75zM17.25 18h0.75v0.75h-0.75zM18 0.75h0.75v0.75h-0.75zM18 4.5h0.75v0.75h-0.75zM18 5.25h0.75v0.75h-0.75zM18 6h0.75v0.75h-0.75zM18 8.25h0.75v0.75h-0.75zM18 9h0.75v0.75h-0.75zM18 10.5h0.75v0.75h-0.75zM18 11.25h0.75v0.75h-0.75zM18 12.75h0.75v0.75h-0.75zM18 14.25h0.75v0.75h-0.75zM18 16.5h0.75v0.75h-0.75zM18 17.25h0.75v0.75h-0.75zM18 20.25h0.75v0.75h-0.75zM18 21.75h0.75v0.75h-0.75zM18.75 0.75h0.75v0.75h-0.75zM18.75 3.75h0.75v0.75h-0.75zM18.75 6.75h0.75v0.75h-0.75zM18.75 13.5h0.75v0.75h-0.75zM18.75 14.25h0.75v0.75h-0.75zM18.75 15.75h0.75v0.75h-0.75zM18.75 17.25h0.75v0.75h-0.75zM18.75 18h0.75v0.75h-0.75zM18.75 19.5h0.75v0.75h-0.75zM18.75 20.25h0.75v0.75h-0.75zM18.75 21.75h0.75v0.75h-0.75zM18.75 22.5h0.75v0.75h-0.75zM19.5 4.5h0.75v0.75h-0.75zM19.5 11.25h0.75v0.75h-0.75zM19.5 12h0.75v0.75h-0.75zM19.5 13.5h0.75v0.75h-0.75zM19.5 14.25h0.75v0.75h-0.75zM19.5 19.5h0.75v0.75h-0.75zM19.5 21h0.75v0.75h-0.75zM19.5 21.75h0.75v0.75h-0.75zM19.5 22.5h0.75v0.75h-0.75zM20.25 0h0.75v0.75h-0.75zM20.25 1.5h0.75v0.75h-0.75zM20.25 6h0.75v0.75h-0.75zM20.25 14.25h0.75v0.75h-0.75zM20.25 18.75h0.75v0.75h-0.75zM21 0h0.75v0.75h-0.75zM21 1.5h0.75v0.75h-0.75zM21 3h0.75v0.75h-0.75zM21 4.5h0.75v0.75h-0.75zM21 5.25h0.75v0.75h-0.75zM21 6.75h0.75v0.75h-0.75zM21 9.75h0.75v0.75h-0.75zM21 18h0.75v0.75h-0.75zM21 18.75h0.75v0.75h-0.75zM21.75 0h0.75v0.75h-0.75zM21.75 2.25h0.75v0.75h-0.75zM21.75 4.5h0.75v0.75h-0.75zM21.75 5.25h0.75v0.75h-0.75zM21.75 6h0.75v0.75h-0.75zM21.75 9h0.75v0.75h-0.75zM21.75 12h0.75v0.75h-0.75zM21.75 12.75h0.75v0.75h-0.75zM21.75 15.75h0.75v0.75h-0.75zM21.75 17.25h0.75v0.75h-0.75zM21.75 18.75h0.75v0.75h-0.75zM22.5 3h0.75v0.75h-0.75zM22.5 4.5h0.75v0.75h-0.75zM22.5 6h0.75v0.75h-0.75zM22.5 6.75h0.75v0.75h-0.75zM22.5 8.25h0.75v0.75h-0.75zM22.5 12h0.75v0.75h-0.75zM22.5 12.75h0.75v0.75h-0.75zM22.5 14.25h0.75v0.75h-0.75zM22.5 18h0.75v0.75h-0.75zM22.5 19.5h0.75v0.75h-0.75zM22.5 23.25h0.75v0.75h-0.75zM23.25 0h0.75v0.75h-0.75zM23.25 0.75h0.75v0.75h-0.75zM23.25 3h0.75v0.75h-0.75zM23.25 6.75h0.75v0.75h-0.75zM23.25 10.5h0.75v0.75h-0.75zM23.25 12.75h0.75v0.75h-0.75zM23.25 15h0.75v0.75h-0.75zM23.25 18.75h0.75v0.75h-0.75z"/><path fill="#ea762a" d="M0 5.25h0.75v0.75h-0.75zM0 11.25h0.75v0.75h-0.75zM0 12.75h0.75v0.75h-0.75zM0 16.5h0.75v0.75h-0.75zM0 18.75h0.75v0.75h-0.75zM0 21.75h0.75v0.75h-0.75zM0.75 5.25h0.75v0.75h-0.75zM0.75 19.5h0.75v0.75h-0.75zM0.75 21.75h0.75v0.75h-0.75zM1.5 15.75h0.75v0.75h-0.75zM1.5 18.75h0.75v0.75h-0.75zM2.25 5.25h0.75v0.75h-0.75zM2.25 6h0.75v0.75h-0.75zM2.25 11.25h0.75v0.75h-0.75zM2.25 12h0.75v0.75h-0.75zM2.25 14.25h0.75v0.75h-0.75zM2.25 15.75h0.75v0.75h-0.75zM2.25 23.25h0.75v0.75h-0.75zM3 4.5h0.75v0.75h-0.75zM3 8.25h0.75v0.75h-0.75zM3 9h0.75v0.75h-0.75zM3 15h0.75v0.75h-0.75zM3 15.75h0.75v0.75h-0.75zM3 16.5h0.75v0.75h-0.75zM3 17.25h0.75v0.75h-0.75zM3 18.75h0.75v0.75h-0.75zM3 22.5h0.75v0.75h-0.75zM3.75 12h0.75v0.75h-0.75zM3.75 19.5h0.75v0.75h-0.75zM4.5 0.75h0.75v0.75h-0.75zM4.5 5.25h0.75v0.75h-0.75zM4.5 7.5h0.75v0.75h-0.75zM4.5 8.25h0.75v0.75h-0.75zM5.25 0h0.75v0.75h-0.75zM5.25 1.5h0.75v0.75h-0.75zM5.25 3.75h0.75v0.75h-0.75zM5.25 4.5h0.75v0.75h-0.75zM5.25 7.5h0.75v0.75h-0.75zM5.25 9h0.75v0.75h-0.75zM5.25 15h0.75v0.75h-0.75zM5.25 20.25h0.75v0.75h-0.75zM5.25 21h0.75v0.75h-0.75zM5.25 21.75h0.75v0.75h-0.75zM6 1.5h0.75v0.75h-0.75zM6 2.25h0.75v0.75h-0.75zM6 3.75h0.75v0.75h-0.75zM6 12h0.75v0.75h-0.75zM6 18h0.75v0.75h-0.75zM6.75 1.5h0.75v0.75h-0.75zM6.75 3h0.75v0.75h-0.75zM6.75 9h0.75v0.75h-0.75zM6.75 19.5h0.75v0.75h-0.75zM6.75 21.75h0.75v0.75h-0.75zM7.5 7.5h0.75v0.75h-0.75zM7.5 9.75h0.75v0.75h-0.75zM7.5 15h0.75v0.75h-0.75zM7.5 18h0.75v0.75h-0.75zM8.25 21h0.75v0.75h-0.75zM9 5.25h0.75v0.75h-0.75zM9 9.75h0.75v0.75h-0.75zM9 16.5h0.75v0.75h-0.75zM9.75 4.5h0.75v0.75h-0.75zM9.75 5.25h0.75v0.75h-0.75zM9.75 7.5h0.75v0.75h-0.75zM9.75 9h0.75v0.75h-0.75zM9.75 17.25h0.75v0.75h-0.75zM9.75 20.25h0.75v0.75h-0.75zM9.75 22.5h0.75v0.75h-0.75zM9.75 23.25h0.75v0.75h-0.75zM10.5 0h0.75v0.75h-0.75zM10.5 3h0.75v0.75h-0.75zM10.5 5.25h0.75v0.75h-0.75zM10.5 7.5h0.75v0.75h-0.75zM10.5 10.5h0.75v0.75h-0.75zM10.5 11.25h0.75v0.75h-0.75zM10.5 17.25h0.75v0.75h-0.75zM10.5 19.5h0.75v0.75h-0.75zM10.5 20.25h0.75v0.75h-0.75zM10.5 22.5h0.75v0.75h-0.75zM11.25 0h0.75v0.75h-0.75zM11.25 1.5h0.75v0.75h-0.75zM11.25 6h0.75v0.75h-0.75zM11.25 9.75h0.75v0.75h-0.75zM11.25 20.25h0.75v0.75h-0.75zM11.25 21h0.75v0.75h-0.75zM12 3.75h0.75v0.75h-0.75zM12 16.5h0.75v0.75h-0.75zM12 18h0.75v0.75h-0.75zM12 19.5h0.75v0.75h-0.75zM12 21.75h0.75v0.75h-0.75zM12.75 4.5h0.75v0.75h-0.75zM12.75 8.25h0.75v0.75h-0.75zM12.75 11.25h0.75v0.75h-0.75zM12.75 17.25h0.75v0.75h-0.75zM12.75 18h0.75v0.75h-0.75zM12.75 23.25h0.75v0.75h-0.75zM13.5 13.5h0.75v0.75h-0.75zM13.5 22.5h0.75v0.75h-0.75zM14.25 0.75h0.75v0.75h-0.75zM14.25 6h0.75v0.75h-0.75zM14.25 9.75h0.75v0.75h-0.75zM14.25 13.5h0.75v0.75h-0.75zM14.25 14.25h0.75v0.75h-0.75zM14.25 17.25h0.75v0.75h-0.75zM14.25 20.25h0.75v0.75h-0.75zM14.25 22.5h0.75v0.75h-0.75zM15 3.75h0.75v0.75h-0.75zM15 4.5h0.75v0.75h-0.75zM15 8.25h0.75v0.75h-0.75zM15 9h0.75v0.75h-0.75zM15 14.25h0.75v0.75h-0.75zM15 20.25h0.75v0.75h-0.75zM15 23.25h0.75v0.75h-0.75zM15.75 0h0.75v0.75h-0.75zM15.75 3.75h0.75v0.75h-0.75zM15.75 9.75h0.75v0.75h-0.75zM15.75 11.25h0.75v0.75h-0.75zM15.75 12h0.75v0.75h-0.75zM15.75 16.5h0.75v0.75h-0.75zM15.75 20.25h0.75v0.75h-0.75zM16.5 0h0.75v0.75h-0.75zM16.5 15.75h0.75v0.75h-0.75zM16.5 18h0.75v0.75h-0.75zM17.25 0h0.75v0.75h-0.75zM17.25 22.5h0.75v0.75h-0.75zM18 3h0.75v0.75h-0.75zM18 7.5h0.75v0.75h-0.75zM18 12h0.75v0.75h-0.75zM18 22.5h0.75v0.75h-0.75zM18.75 7.5h0.75v0.75h-0.75zM18.75 9.75h0.75v0.75h-0.75zM18.75 11.25h0.75v0.75h-0.75zM18.75 12h0.75v0.75h-0.75zM18.75 21h0.75v0.75h-0.75zM19.5 0.75h0.75v0.75h-0.75zM19.5 2.25h0.75v0.75h-0.75zM19.5 6.75h0.75v0.75h-0.75zM19.5 9.75h0.75v0.75h-0.75zM19.5 16.5h0.75v0.75h-0.75zM19.5 20.25h0.75v0.75h-0.75zM20.25 4.5h0.75v0.75h-0.75zM20.25 10.5h0.75v0.75h-0.75zM20.25 15h0.75v0.75h-0.75zM20.25 17.25h0.75v0.75h-0.75zM20.25 22.5h0.75v0.75h-0.75zM21 6h0.75v0.75h-0.75zM21 8.25h0.75v0.75h-0.75zM21 10.5h0.75v0.75h-0.75zM21 14.25h0.75v0.75h-0.75zM21 15.75h0.75v0.75h-0.75zM21 16.5h0.75v0.75h-0.75zM21 21.75h0.75v0.75h-0.75zM21.75 3.75h0.75v0.75h-0.75zM21.75 7.5h0.75v0.75h-0.75zM21.75 15h0.75v0.75h-0.75zM21.75 18h0.75v0.75h-0.75zM21.75 19.5h0.75v0.75h-0.75zM21.75 21.75h0.75v0.75h-0.75zM22.5 0.75h0.75v0.75h-0.75zM22.5 1.5h0.75v0.75h-0.75zM22.5 10.5h0.75v0.75h-0.75zM22.5 13.5h0.75v0.75h-0.75zM22.5 15.75h0.75v0.75h-0.75zM22.5 16.5h0.75v0.75h-0.75zM22.5 22.5h0.75v0.75h-0.75zM23.25 7.5h0.75v0.75h-0.75zM23.25 14.25h0.75v0.75h-0.75zM23.25 19.5h0.75v0.75h-0.75zM23.25 23.25h0.75v0.75h-0.75z"/><path fill="#f8d890" d="M0 21h0.75v0.75h-0.75zM0.75 11.25h0.75v0.75h-0.75zM0.75 12h0.75v0.75h-0.75zM1.5 12.75h0.75v0.75h-0.75zM1.5 14.25h0.75v0.75h-0.75zM2.25 1.5h0.75v0.75h-0.75zM2.25 2.25h0.75v0.75h-0.75zM3 2.25h0.75v0.75h-0.75zM3 5.25h0.75v0.75h-0.75zM4.5 13.5h0.75v0.75h-0.75zM5.25 18h0.75v0.75h-0.75zM6.75 4.5h0.75v0.75h-0.75zM6.75 17.25h0.75v0.75h-0.75zM6.75 18h0.75v0.75h-0.75zM7.5 5.25h0.75v0.75h-0.75zM7.5 6h0.75v0.75h-0.75zM7.5 18.75h0.75v0.75h-0.75zM8.25 3h0.75v0.75h-0.75zM8.25 13.5h0.75v0.75h-0.75zM9 6h0.75v0.75h-0.75zM9 15h0.75v0.75h-0.75zM9.75 6.75h0.75v0.75h-0.75zM11.25 3.75h0.75v0.75h-0.75zM11.25 15h0.75v0.75h-0.75zM11.25 18h0.75v0.75h-0.75zM11.25 21.75h0.75v0.75h-0.75zM12 15.75h0.75v0.75h-0.75zM12.75 1.5h0.75v0.75h-0.75zM12.75 6h0.75v0.75h-0.75zM12.75 10.5h0.75v0.75h-0.75zM12.75 22.5h0.75v0.75h-0.75zM13.5 8.25h0.75v0.75h-0.75zM13.5 12.75h0.75v0.75h-0.75zM14.25 4.5h0.75v0.75h-0.75zM15 11.25h0.75v0.75h-0.75zM15 21.75h0.75v0.75h-0.75zM15.75 0.75h0.75v0.75h-0.75zM16.5 7.5h0.75v0.75h-0.75zM16.5 17.25h0.75v0.75h-0.75zM16.5 21h0.75v0.75h-0.75zM17.25 3h0.75v0.75h-0.75zM17.25 18.75h0.75v0.75h-0.75zM18 0h0.75v0.75h-0.75zM18 1.5h0.75v0.75h-0.75zM18 3.75h0.75v0.75h-0.75zM18.75 5.25h0.75v0.75h-0.75zM18.75 8.25h0.75v0.75h-0.75zM20.25 16.5h0.75v0.75h-0.75zM20.25 21.75h0.75v0.75h-0.75zM21 11.25h0.75v0.75h-0.75zM21.75 0.75h0.75v0.75h-0.75zM21.75 9.75h0.75v0.75h-0.75zM23.25 9.75h0.75v0.75h-0.75zM23.25 21h0.75v0.75h-0.75z"/></pattern>
<pattern id="tm" width="24.0" height="24.0" patternUnits="userSpaceOnUse"><rect width="24.0" height="24.0" fill="#fbd652"/><path fill="#f8ac28" d="M0 1.5h0.75v0.75h-0.75zM0 12h0.75v0.75h-0.75zM0 13.5h0.75v0.75h-0.75zM0 21.75h0.75v0.75h-0.75zM0 22.5h0.75v0.75h-0.75zM0.75 0h0.75v0.75h-0.75zM0.75 5.25h0.75v0.75h-0.75zM0.75 9.75h0.75v0.75h-0.75zM0.75 18.75h0.75v0.75h-0.75zM0.75 20.25h0.75v0.75h-0.75zM0.75 23.25h0.75v0.75h-0.75zM1.5 0h0.75v0.75h-0.75zM1.5 3.75h0.75v0.75h-0.75zM1.5 6h0.75v0.75h-0.75zM1.5 9.75h0.75v0.75h-0.75zM1.5 19.5h0.75v0.75h-0.75zM2.25 6h0.75v0.75h-0.75zM2.25 9.75h0.75v0.75h-0.75zM2.25 12.75h0.75v0.75h-0.75zM2.25 13.5h0.75v0.75h-0.75zM2.25 20.25h0.75v0.75h-0.75zM3 6h0.75v0.75h-0.75zM3 21h0.75v0.75h-0.75zM4.5 1.5h0.75v0.75h-0.75zM4.5 4.5h0.75v0.75h-0.75zM4.5 6.75h0.75v0.75h-0.75zM4.5 23.25h0.75v0.75h-0.75zM5.25 0.75h0.75v0.75h-0.75zM5.25 3.75h0.75v0.75h-0.75zM5.25 11.25h0.75v0.75h-0.75zM5.25 16.5h0.75v0.75h-0.75zM6 3.75h0.75v0.75h-0.75zM6 6h0.75v0.75h-0.75zM6 8.25h0.75v0.75h-0.75zM6 12h0.75v0.75h-0.75zM6 15h0.75v0.75h-0.75zM6.75 0h0.75v0.75h-0.75zM6.75 6.75h0.75v0.75h-0.75zM6.75 10.5h0.75v0.75h-0.75zM7.5 0h0.75v0.75h-0.75zM7.5 3h0.75v0.75h-0.75zM7.5 16.5h0.75v0.75h-0.75zM7.5 22.5h0.75v0.75h-0.75zM8.25 4.5h0.75v0.75h-0.75zM8.25 20.25h0.75v0.75h-0.75zM9 8.25h0.75v0.75h-0.75zM9 17.25h0.75v0.75h-0.75zM9.75 0.75h0.75v0.75h-0.75zM9.75 15h0.75v0.75h-0.75zM9.75 17.25h0.75v0.75h-0.75zM9.75 23.25h0.75v0.75h-0.75zM10.5 2.25h0.75v0.75h-0.75zM10.5 9h0.75v0.75h-0.75zM10.5 16.5h0.75v0.75h-0.75zM10.5 17.25h0.75v0.75h-0.75zM10.5 18h0.75v0.75h-0.75zM11.25 0h0.75v0.75h-0.75zM11.25 11.25h0.75v0.75h-0.75zM11.25 12h0.75v0.75h-0.75zM11.25 16.5h0.75v0.75h-0.75zM11.25 19.5h0.75v0.75h-0.75zM11.25 21h0.75v0.75h-0.75zM12 11.25h0.75v0.75h-0.75zM12.75 11.25h0.75v0.75h-0.75zM13.5 0h0.75v0.75h-0.75zM13.5 2.25h0.75v0.75h-0.75zM13.5 6.75h0.75v0.75h-0.75zM13.5 15h0.75v0.75h-0.75zM13.5 16.5h0.75v0.75h-0.75zM14.25 6h0.75v0.75h-0.75zM14.25 15.75h0.75v0.75h-0.75zM15 3h0.75v0.75h-0.75zM15 13.5h0.75v0.75h-0.75zM15 15.75h0.75v0.75h-0.75zM15 19.5h0.75v0.75h-0.75zM15 22.5h0.75v0.75h-0.75zM15.75 2.25h0.75v0.75h-0.75zM15.75 4.5h0.75v0.75h-0.75zM15.75 8.25h0.75v0.75h-0.75zM15.75 15.75h0.75v0.75h-0.75zM15.75 18h0.75v0.75h-0.75zM16.5 12h0.75v0.75h-0.75zM17.25 3h0.75v0.75h-0.75zM18 6.75h0.75v0.75h-0.75zM18 12.75h0.75v0.75h-0.75zM18.75 1.5h0.75v0.75h-0.75zM18.75 9.75h0.75v0.75h-0.75zM18.75 19.5h0.75v0.75h-0.75zM18.75 20.25h0.75v0.75h-0.75zM18.75 22.5h0.75v0.75h-0.75zM19.5 1.5h0.75v0.75h-0.75zM19.5 7.5h0.75v0.75h-0.75zM19.5 12.75h0.75v0.75h-0.75zM19.5 21.75h0.75v0.75h-0.75zM20.25 4.5h0.75v0.75h-0.75zM20.25 5.25h0.75v0.75h-0.75zM20.25 9.75h0.75v0.75h-0.75zM20.25 10.5h0.75v0.75h-0.75zM20.25 13.5h0.75v0.75h-0.75zM20.25 17.25h0.75v0.75h-0.75zM20.25 20.25h0.75v0.75h-0.75zM20.25 21h0.75v0.75h-0.75zM21 3.75h0.75v0.75h-0.75zM21 17.25h0.75v0.75h-0.75zM21 18h0.75v0.75h-0.75zM21 20.25h0.75v0.75h-0.75zM21.75 11.25h0.75v0.75h-0.75zM22.5 0.75h0.75v0.75h-0.75zM22.5 4.5h0.75v0.75h-0.75zM22.5 5.25h0.75v0.75h-0.75zM22.5 6h0.75v0.75h-0.75zM22.5 8.25h0.75v0.75h-0.75zM22.5 9.75h0.75v0.75h-0.75zM22.5 12.75h0.75v0.75h-0.75zM23.25 0h0.75v0.75h-0.75z"/><path fill="#fff2b0" d="M0 9.75h0.75v0.75h-0.75zM0 16.5h0.75v0.75h-0.75zM0 20.25h0.75v0.75h-0.75zM0.75 3h0.75v0.75h-0.75zM0.75 7.5h0.75v0.75h-0.75zM0.75 8.25h0.75v0.75h-0.75zM0.75 11.25h0.75v0.75h-0.75zM0.75 12h0.75v0.75h-0.75zM0.75 15.75h0.75v0.75h-0.75zM0.75 19.5h0.75v0.75h-0.75zM0.75 21h0.75v0.75h-0.75zM0.75 22.5h0.75v0.75h-0.75zM1.5 1.5h0.75v0.75h-0.75zM1.5 5.25h0.75v0.75h-0.75zM1.5 7.5h0.75v0.75h-0.75zM1.5 14.25h0.75v0.75h-0.75zM1.5 17.25h0.75v0.75h-0.75zM1.5 20.25h0.75v0.75h-0.75zM1.5 21h0.75v0.75h-0.75zM1.5 21.75h0.75v0.75h-0.75zM2.25 0.75h0.75v0.75h-0.75zM2.25 11.25h0.75v0.75h-0.75zM2.25 15h0.75v0.75h-0.75zM2.25 15.75h0.75v0.75h-0.75zM2.25 16.5h0.75v0.75h-0.75zM2.25 17.25h0.75v0.75h-0.75zM3 5.25h0.75v0.75h-0.75zM3 10.5h0.75v0.75h-0.75zM3 16.5h0.75v0.75h-0.75zM3.75 0h0.75v0.75h-0.75zM3.75 0.75h0.75v0.75h-0.75zM3.75 3.75h0.75v0.75h-0.75zM3.75 5.25h0.75v0.75h-0.75zM3.75 7.5h0.75v0.75h-0.75zM3.75 9h0.75v0.75h-0.75zM3.75 9.75h0.75v0.75h-0.75zM3.75 10.5h0.75v0.75h-0.75zM3.75 11.25h0.75v0.75h-0.75zM3.75 17.25h0.75v0.75h-0.75zM4.5 3h0.75v0.75h-0.75zM4.5 5.25h0.75v0.75h-0.75zM4.5 8.25h0.75v0.75h-0.75zM4.5 9h0.75v0.75h-0.75zM4.5 11.25h0.75v0.75h-0.75zM4.5 12.75h0.75v0.75h-0.75zM4.5 16.5h0.75v0.75h-0.75zM4.5 20.25h0.75v0.75h-0.75zM4.5 21.75h0.75v0.75h-0.75zM5.25 6.75h0.75v0.75h-0.75zM5.25 7.5h0.75v0.75h-0.75zM6 0.75h0.75v0.75h-0.75zM6 3h0.75v0.75h-0.75zM6 6.75h0.75v0.75h-0.75zM6 10.5h0.75v0.75h-0.75zM6 12.75h0.75v0.75h-0.75zM6 17.25h0.75v0.75h-0.75zM6 21h0.75v0.75h-0.75zM6 21.75h0.75v0.75h-0.75zM6.75 1.5h0.75v0.75h-0.75zM6.75 7.5h0.75v0.75h-0.75zM6.75 8.25h0.75v0.75h-0.75zM6.75 9.75h0.75v0.75h-0.75zM6.75 12h0.75v0.75h-0.75zM6.75 17.25h0.75v0.75h-0.75zM6.75 22.5h0.75v0.75h-0.75zM7.5 6h0.75v0.75h-0.75zM7.5 9.75h0.75v0.75h-0.75zM7.5 13.5h0.75v0.75h-0.75zM7.5 17.25h0.75v0.75h-0.75zM7.5 19.5h0.75v0.75h-0.75zM7.5 23.25h0.75v0.75h-0.75zM8.25 0.75h0.75v0.75h-0.75zM8.25 2.25h0.75v0.75h-0.75zM8.25 13.5h0.75v0.75h-0.75zM8.25 19.5h0.75v0.75h-0.75zM9 0h0.75v0.75h-0.75zM9 2.25h0.75v0.75h-0.75zM9 4.5h0.75v0.75h-0.75zM9 6.75h0.75v0.75h-0.75zM9 7.5h0.75v0.75h-0.75zM9 12.75h0.75v0.75h-0.75zM9 15.75h0.75v0.75h-0.75zM9 16.5h0.75v0.75h-0.75zM9.75 16.5h0.75v0.75h-0.75zM9.75 18h0.75v0.75h-0.75zM9.75 18.75h0.75v0.75h-0.75zM9.75 22.5h0.75v0.75h-0.75zM10.5 0.75h0.75v0.75h-0.75zM10.5 1.5h0.75v0.75h-0.75zM10.5 3h0.75v0.75h-0.75zM10.5 3.75h0.75v0.75h-0.75zM10.5 6.75h0.75v0.75h-0.75zM10.5 7.5h0.75v0.75h-0.75zM10.5 8.25h0.75v0.75h-0.75zM10.5 9.75h0.75v0.75h-0.75zM10.5 10.5h0.75v0.75h-0.75zM10.5 11.25h0.75v0.75h-0.75zM10.5 15.75h0.75v0.75h-0.75zM10.5 18.75h0.75v0.75h-0.75zM10.5 21h0.75v0.75h-0.75zM10.5 21.75h0.75v0.75h-0.75zM11.25 1.5h0.75v0.75h-0.75zM11.25 4.5h0.75v0.75h-0.75zM11.25 6h0.75v0.75h-0.75zM11.25 9.75h0.75v0.75h-0.75zM11.25 10.5h0.75v0.75h-0.75zM11.25 15h0.75v0.75h-0.75zM11.25 20.25h0.75v0.75h-0.75zM12 1.5h0.75v0.75h-0.75zM12 6h0.75v0.75h-0.75zM12 15h0.75v0.75h-0.75zM12 16.5h0.75v0.75h-0.75zM12 17.25h0.75v0.75h-0.75zM12 18.75h0.75v0.75h-0.75zM12.75 2.25h0.75v0.75h-0.75zM12.75 3.75h0.75v0.75h-0.75zM12.75 4.5h0.75v0.75h-0.75zM12.75 6.75h0.75v0.75h-0.75zM12.75 15.75h0.75v0.75h-0.75zM12.75 22.5h0.75v0.75h-0.75zM12.75 23.25h0.75v0.75h-0.75zM13.5 3h0.75v0.75h-0.75zM13.5 4.5h0.75v0.75h-0.75zM13.5 6h0.75v0.75h-0.75zM13.5 12.75h0.75v0.75h-0.75zM14.25 6.75h0.75v0.75h-0.75zM14.25 7.5h0.75v0.75h-0.75zM14.25 16.5h0.75v0.75h-0.75zM14.25 21.75h0.75v0.75h-0.75zM14.25 22.5h0.75v0.75h-0.75zM15 0.75h0.75v0.75h-0.75zM15 1.5h0.75v0.75h-0.75zM15 6h0.75v0.75h-0.75zM15 6.75h0.75v0.75h-0.75zM15 11.25h0.75v0.75h-0.75zM15 12.75h0.75v0.75h-0.75zM15 14.25h0.75v0.75h-0.75zM15 17.25h0.75v0.75h-0.75zM15 23.25h0.75v0.75h-0.75zM15.75 9h0.75v0.75h-0.75zM15.75 12.75h0.75v0.75h-0.75zM15.75 22.5h0.75v0.75h-0.75zM16.5 0h0.75v0.75h-0.75zM16.5 0.75h0.75v0.75h-0.75zM16.5 4.5h0.75v0.75h-0.75zM16.5 6.75h0.75v0.75h-0.75zM16.5 19.5h0.75v0.75h-0.75zM16.5 20.25h0.75v0.75h-0.75zM16.5 21h0.75v0.75h-0.75zM17.25 1.5h0.75v0.75h-0.75zM17.25 12.75h0.75v0.75h-0.75zM17.25 13.5h0.75v0.75h-0.75zM17.25 19.5h0.75v0.75h-0.75zM17.25 21.75h0.75v0.75h-0.75zM17.25 22.5h0.75v0.75h-0.75zM18 3h0.75v0.75h-0.75zM18 3.75h0.75v0.75h-0.75zM18 8.25h0.75v0.75h-0.75zM18 11.25h0.75v0.75h-0.75zM18 22.5h0.75v0.75h-0.75zM18 23.25h0.75v0.75h-0.75zM18.75 0h0.75v0.75h-0.75zM18.75 0.75h0.75v0.75h-0.75zM18.75 4.5h0.75v0.75h-0.75zM18.75 6.75h0.75v0.75h-0.75zM18.75 12h0.75v0.75h-0.75zM18.75 16.5h0.75v0.75h-0.75zM18.75 21h0.75v0.75h-0.75zM18.75 21.75h0.75v0.75h-0.75zM19.5 0h0.75v0.75h-0.75zM19.5 3h0.75v0.75h-0.75zM19.5 6.75h0.75v0.75h-0.75zM19.5 12h0.75v0.75h-0.75zM19.5 15.75h0.75v0.75h-0.75zM19.5 16.5h0.75v0.75h-0.75zM20.25 0h0.75v0.75h-0.75zM20.25 2.25h0.75v0.75h-0.75zM20.25 16.5h0.75v0.75h-0.75zM20.25 23.25h0.75v0.75h-0.75zM21 6h0.75v0.75h-0.75zM21 9h0.75v0.75h-0.75zM21 12.75h0.75v0.75h-0.75zM21 14.25h0.75v0.75h-0.75zM21.75 3h0.75v0.75h-0.75zM21.75 12h0.75v0.75h-0.75zM21.75 13.5h0.75v0.75h-0.75zM21.75 15.75h0.75v0.75h-0.75zM21.75 16.5h0.75v0.75h-0.75zM21.75 22.5h0.75v0.75h-0.75zM21.75 23.25h0.75v0.75h-0.75zM22.5 1.5h0.75v0.75h-0.75zM22.5 3h0.75v0.75h-0.75zM22.5 15h0.75v0.75h-0.75zM22.5 15.75h0.75v0.75h-0.75zM23.25 1.5h0.75v0.75h-0.75zM23.25 2.25h0.75v0.75h-0.75zM23.25 7.5h0.75v0.75h-0.75zM23.25 9h0.75v0.75h-0.75zM23.25 9.75h0.75v0.75h-0.75zM23.25 15h0.75v0.75h-0.75zM23.25 18h0.75v0.75h-0.75zM23.25 19.5h0.75v0.75h-0.75zM23.25 21h0.75v0.75h-0.75z"/><path fill="#a05010" d="M0 12.75h0.75v0.75h-0.75zM1.5 2.25h0.75v0.75h-0.75zM3.75 19.5h0.75v0.75h-0.75zM4.5 2.25h0.75v0.75h-0.75zM4.5 7.5h0.75v0.75h-0.75zM4.5 15.75h0.75v0.75h-0.75zM4.5 19.5h0.75v0.75h-0.75zM5.25 5.25h0.75v0.75h-0.75zM5.25 14.25h0.75v0.75h-0.75zM5.25 17.25h0.75v0.75h-0.75zM5.25 18.75h0.75v0.75h-0.75zM6 13.5h0.75v0.75h-0.75zM6 20.25h0.75v0.75h-0.75zM6 22.5h0.75v0.75h-0.75zM6.75 0.75h0.75v0.75h-0.75zM7.5 12.75h0.75v0.75h-0.75zM7.5 15.75h0.75v0.75h-0.75zM7.5 21.75h0.75v0.75h-0.75zM8.25 5.25h0.75v0.75h-0.75zM8.25 22.5h0.75v0.75h-0.75zM12 3.75h0.75v0.75h-0.75zM12 9.75h0.75v0.75h-0.75zM12.75 6h0.75v0.75h-0.75zM12.75 7.5h0.75v0.75h-0.75zM12.75 17.25h0.75v0.75h-0.75zM13.5 0.75h0.75v0.75h-0.75zM13.5 1.5h0.75v0.75h-0.75zM13.5 9h0.75v0.75h-0.75zM13.5 20.25h0.75v0.75h-0.75zM13.5 22.5h0.75v0.75h-0.75zM15 5.25h0.75v0.75h-0.75zM15 12h0.75v0.75h-0.75zM15 18.75h0.75v0.75h-0.75zM15.75 18.75h0.75v0.75h-0.75zM16.5 12.75h0.75v0.75h-0.75zM16.5 22.5h0.75v0.75h-0.75zM17.25 0.75h0.75v0.75h-0.75zM17.25 17.25h0.75v0.75h-0.75zM18 1.5h0.75v0.75h-0.75zM18 12h0.75v0.75h-0.75zM18 13.5h0.75v0.75h-0.75zM18 21h0.75v0.75h-0.75zM19.5 17.25h0.75v0.75h-0.75zM19.5 22.5h0.75v0.75h-0.75zM20.25 3h0.75v0.75h-0.75zM21 11.25h0.75v0.75h-0.75zM21 18.75h0.75v0.75h-0.75zM21.75 0.75h0.75v0.75h-0.75zM21.75 6h0.75v0.75h-0.75zM21.75 9h0.75v0.75h-0.75zM21.75 10.5h0.75v0.75h-0.75zM23.25 13.5h0.75v0.75h-0.75zM23.25 15.75h0.75v0.75h-0.75zM23.25 23.25h0.75v0.75h-0.75z"/><path fill="#000" d="M0 15h0.75v0.75h-0.75zM0.75 13.5h0.75v0.75h-0.75zM1.5 6.75h0.75v0.75h-0.75zM2.25 1.5h0.75v0.75h-0.75zM2.25 10.5h0.75v0.75h-0.75zM3 11.25h0.75v0.75h-0.75zM3 18.75h0.75v0.75h-0.75zM3 23.25h0.75v0.75h-0.75zM3.75 8.25h0.75v0.75h-0.75zM3.75 18h0.75v0.75h-0.75zM3.75 20.25h0.75v0.75h-0.75zM3.75 21h0.75v0.75h-0.75zM4.5 13.5h0.75v0.75h-0.75zM4.5 22.5h0.75v0.75h-0.75zM5.25 3h0.75v0.75h-0.75zM6.75 12.75h0.75v0.75h-0.75zM6.75 14.25h0.75v0.75h-0.75zM6.75 16.5h0.75v0.75h-0.75zM7.5 5.25h0.75v0.75h-0.75zM7.5 6.75h0.75v0.75h-0.75zM9 5.25h0.75v0.75h-0.75zM9 23.25h0.75v0.75h-0.75zM9.75 0h0.75v0.75h-0.75zM9.75 2.25h0.75v0.75h-0.75zM9.75 21h0.75v0.75h-0.75zM11.25 6.75h0.75v0.75h-0.75zM12 3h0.75v0.75h-0.75zM12 6.75h0.75v0.75h-0.75zM12 13.5h0.75v0.75h-0.75zM12.75 10.5h0.75v0.75h-0.75zM12.75 21.75h0.75v0.75h-0.75zM13.5 13.5h0.75v0.75h-0.75zM13.5 23.25h0.75v0.75h-0.75zM14.25 13.5h0.75v0.75h-0.75zM14.25 21h0.75v0.75h-0.75zM15 7.5h0.75v0.75h-0.75zM15.75 7.5h0.75v0.75h-0.75zM15.75 12h0.75v0.75h-0.75zM16.5 3h0.75v0.75h-0.75zM16.5 8.25h0.75v0.75h-0.75zM16.5 15.75h0.75v0.75h-0.75zM16.5 21.75h0.75v0.75h-0.75zM17.25 9h0.75v0.75h-0.75zM17.25 10.5h0.75v0.75h-0.75zM18 6h0.75v0.75h-0.75zM18 16.5h0.75v0.75h-0.75zM18 17.25h0.75v0.75h-0.75zM18.75 11.25h0.75v0.75h-0.75zM18.75 12.75h0.75v0.75h-0.75zM19.5 9.75h0.75v0.75h-0.75zM19.5 13.5h0.75v0.75h-0.75zM19.5 21h0.75v0.75h-0.75zM21 2.25h0.75v0.75h-0.75zM21 6.75h0.75v0.75h-0.75zM21.75 3.75h0.75v0.75h-0.75zM21.75 6.75h0.75v0.75h-0.75zM23.25 6h0.75v0.75h-0.75zM23.25 8.25h0.75v0.75h-0.75zM23.25 11.25h0.75v0.75h-0.75zM23.25 12.75h0.75v0.75h-0.75z"/></pattern>
<pattern id="tmo" width="24.0" height="24.0" patternUnits="userSpaceOnUse"><rect width="24.0" height="24.0" fill="#f8b020"/><path fill="#f08018" d="M0 2.25h0.75v0.75h-0.75zM0 6h0.75v0.75h-0.75zM0 18.75h0.75v0.75h-0.75zM0 20.25h0.75v0.75h-0.75zM0 21.75h0.75v0.75h-0.75zM0 23.25h0.75v0.75h-0.75zM0.75 0.75h0.75v0.75h-0.75zM0.75 6h0.75v0.75h-0.75zM0.75 6.75h0.75v0.75h-0.75zM0.75 11.25h0.75v0.75h-0.75zM0.75 12.75h0.75v0.75h-0.75zM0.75 13.5h0.75v0.75h-0.75zM0.75 15.75h0.75v0.75h-0.75zM0.75 18h0.75v0.75h-0.75zM0.75 18.75h0.75v0.75h-0.75zM0.75 21h0.75v0.75h-0.75zM0.75 21.75h0.75v0.75h-0.75zM1.5 7.5h0.75v0.75h-0.75zM1.5 9.75h0.75v0.75h-0.75zM1.5 12h0.75v0.75h-0.75zM1.5 18h0.75v0.75h-0.75zM1.5 21.75h0.75v0.75h-0.75zM2.25 0h0.75v0.75h-0.75zM2.25 0.75h0.75v0.75h-0.75zM2.25 5.25h0.75v0.75h-0.75zM2.25 6h0.75v0.75h-0.75zM2.25 12.75h0.75v0.75h-0.75zM2.25 14.25h0.75v0.75h-0.75zM2.25 18h0.75v0.75h-0.75zM2.25 21.75h0.75v0.75h-0.75zM3 0.75h0.75v0.75h-0.75zM3 1.5h0.75v0.75h-0.75zM3 7.5h0.75v0.75h-0.75zM3 8.25h0.75v0.75h-0.75zM3 9h0.75v0.75h-0.75zM3 13.5h0.75v0.75h-0.75zM3 14.25h0.75v0.75h-0.75zM3 15h0.75v0.75h-0.75zM3 17.25h0.75v0.75h-0.75zM3 18h0.75v0.75h-0.75zM3 18.75h0.75v0.75h-0.75zM3 20.25h0.75v0.75h-0.75zM3 21.75h0.75v0.75h-0.75zM3.75 1.5h0.75v0.75h-0.75zM3.75 5.25h0.75v0.75h-0.75zM3.75 6h0.75v0.75h-0.75zM3.75 7.5h0.75v0.75h-0.75zM3.75 14.25h0.75v0.75h-0.75zM3.75 15.75h0.75v0.75h-0.75zM3.75 17.25h0.75v0.75h-0.75zM3.75 18.75h0.75v0.75h-0.75zM3.75 21.75h0.75v0.75h-0.75zM4.5 0.75h0.75v0.75h-0.75zM4.5 6.75h0.75v0.75h-0.75zM4.5 11.25h0.75v0.75h-0.75zM4.5 12h0.75v0.75h-0.75zM4.5 14.25h0.75v0.75h-0.75zM4.5 16.5h0.75v0.75h-0.75zM4.5 17.25h0.75v0.75h-0.75zM4.5 18.75h0.75v0.75h-0.75zM4.5 19.5h0.75v0.75h-0.75zM4.5 21.75h0.75v0.75h-0.75zM4.5 23.25h0.75v0.75h-0.75zM5.25 0h0.75v0.75h-0.75zM5.25 5.25h0.75v0.75h-0.75zM5.25 6.75h0.75v0.75h-0.75zM5.25 10.5h0.75v0.75h-0.75zM5.25 13.5h0.75v0.75h-0.75zM5.25 14.25h0.75v0.75h-0.75zM5.25 18h0.75v0.75h-0.75zM5.25 19.5h0.75v0.75h-0.75zM6 0h0.75v0.75h-0.75zM6 3.75h0.75v0.75h-0.75zM6 6h0.75v0.75h-0.75zM6 6.75h0.75v0.75h-0.75zM6 8.25h0.75v0.75h-0.75zM6 10.5h0.75v0.75h-0.75zM6 12h0.75v0.75h-0.75zM6 18h0.75v0.75h-0.75zM6 20.25h0.75v0.75h-0.75zM6 21h0.75v0.75h-0.75zM6 23.25h0.75v0.75h-0.75zM6.75 1.5h0.75v0.75h-0.75zM6.75 5.25h0.75v0.75h-0.75zM6.75 6.75h0.75v0.75h-0.75zM6.75 11.25h0.75v0.75h-0.75zM6.75 14.25h0.75v0.75h-0.75zM6.75 15h0.75v0.75h-0.75zM6.75 16.5h0.75v0.75h-0.75zM6.75 21.75h0.75v0.75h-0.75zM6.75 22.5h0.75v0.75h-0.75zM7.5 0h0.75v0.75h-0.75zM7.5 2.25h0.75v0.75h-0.75zM7.5 5.25h0.75v0.75h-0.75zM7.5 9h0.75v0.75h-0.75zM7.5 9.75h0.75v0.75h-0.75zM7.5 12.75h0.75v0.75h-0.75zM7.5 19.5h0.75v0.75h-0.75zM7.5 21.75h0.75v0.75h-0.75zM8.25 3h0.75v0.75h-0.75zM8.25 4.5h0.75v0.75h-0.75zM8.25 5.25h0.75v0.75h-0.75zM8.25 6h0.75v0.75h-0.75zM8.25 6.75h0.75v0.75h-0.75zM8.25 7.5h0.75v0.75h-0.75zM8.25 12h0.75v0.75h-0.75zM8.25 13.5h0.75v0.75h-0.75zM8.25 15h0.75v0.75h-0.75zM8.25 15.75h0.75v0.75h-0.75zM8.25 17.25h0.75v0.75h-0.75zM8.25 20.25h0.75v0.75h-0.75zM8.25 21h0.75v0.75h-0.75zM9 0.75h0.75v0.75h-0.75zM9 1.5h0.75v0.75h-0.75zM9 3h0.75v0.75h-0.75zM9 7.5h0.75v0.75h-0.75zM9 10.5h0.75v0.75h-0.75zM9 11.25h0.75v0.75h-0.75zM9 12h0.75v0.75h-0.75zM9 12.75h0.75v0.75h-0.75zM9 20.25h0.75v0.75h-0.75zM9 22.5h0.75v0.75h-0.75zM9.75 3h0.75v0.75h-0.75zM9.75 4.5h0.75v0.75h-0.75zM9.75 6h0.75v0.75h-0.75zM9.75 6.75h0.75v0.75h-0.75zM9.75 8.25h0.75v0.75h-0.75zM9.75 12h0.75v0.75h-0.75zM9.75 14.25h0.75v0.75h-0.75zM9.75 15.75h0.75v0.75h-0.75zM9.75 16.5h0.75v0.75h-0.75zM9.75 18.75h0.75v0.75h-0.75zM9.75 19.5h0.75v0.75h-0.75zM9.75 21.75h0.75v0.75h-0.75zM9.75 23.25h0.75v0.75h-0.75zM10.5 0.75h0.75v0.75h-0.75zM10.5 2.25h0.75v0.75h-0.75zM10.5 4.5h0.75v0.75h-0.75zM10.5 6h0.75v0.75h-0.75zM10.5 9h0.75v0.75h-0.75zM10.5 9.75h0.75v0.75h-0.75zM10.5 12h0.75v0.75h-0.75zM10.5 12.75h0.75v0.75h-0.75zM10.5 15.75h0.75v0.75h-0.75zM10.5 16.5h0.75v0.75h-0.75zM10.5 18h0.75v0.75h-0.75zM10.5 18.75h0.75v0.75h-0.75zM10.5 23.25h0.75v0.75h-0.75zM11.25 2.25h0.75v0.75h-0.75zM11.25 5.25h0.75v0.75h-0.75zM11.25 6.75h0.75v0.75h-0.75zM11.25 8.25h0.75v0.75h-0.75zM11.25 11.25h0.75v0.75h-0.75zM11.25 12.75h0.75v0.75h-0.75zM11.25 13.5h0.75v0.75h-0.75zM11.25 15.75h0.75v0.75h-0.75zM11.25 16.5h0.75v0.75h-0.75zM11.25 19.5h0.75v0.75h-0.75zM11.25 21h0.75v0.75h-0.75zM12 3h0.75v0.75h-0.75zM12 3.75h0.75v0.75h-0.75zM12 7.5h0.75v0.75h-0.75zM12 9h0.75v0.75h-0.75zM12 9.75h0.75v0.75h-0.75zM12 10.5h0.75v0.75h-0.75zM12 11.25h0.75v0.75h-0.75zM12 12h0.75v0.75h-0.75zM12 18h0.75v0.75h-0.75zM12 18.75h0.75v0.75h-0.75zM12 20.25h0.75v0.75h-0.75zM12 21h0.75v0.75h-0.75zM12 22.5h0.75v0.75h-0.75zM12.75 1.5h0.75v0.75h-0.75zM12.75 3.75h0.75v0.75h-0.75zM12.75 4.5h0.75v0.75h-0.75zM12.75 5.25h0.75v0.75h-0.75zM12.75 7.5h0.75v0.75h-0.75zM12.75 8.25h0.75v0.75h-0.75zM12.75 9h0.75v0.75h-0.75zM12.75 10.5h0.75v0.75h-0.75zM12.75 12h0.75v0.75h-0.75zM12.75 12.75h0.75v0.75h-0.75zM12.75 13.5h0.75v0.75h-0.75zM12.75 18.75h0.75v0.75h-0.75zM12.75 19.5h0.75v0.75h-0.75zM12.75 21h0.75v0.75h-0.75zM13.5 0h0.75v0.75h-0.75zM13.5 0.75h0.75v0.75h-0.75zM13.5 1.5h0.75v0.75h-0.75zM13.5 6.75h0.75v0.75h-0.75zM13.5 12h0.75v0.75h-0.75zM13.5 12.75h0.75v0.75h-0.75zM13.5 13.5h0.75v0.75h-0.75zM13.5 14.25h0.75v0.75h-0.75zM13.5 15.75h0.75v0.75h-0.75zM13.5 21h0.75v0.75h-0.75zM13.5 21.75h0.75v0.75h-0.75zM14.25 3.75h0.75v0.75h-0.75zM14.25 4.5h0.75v0.75h-0.75zM14.25 5.25h0.75v0.75h-0.75zM14.25 9.75h0.75v0.75h-0.75zM14.25 21h0.75v0.75h-0.75zM15 0h0.75v0.75h-0.75zM15 1.5h0.75v0.75h-0.75zM15 2.25h0.75v0.75h-0.75zM15 3h0.75v0.75h-0.75zM15 4.5h0.75v0.75h-0.75zM15 6h0.75v0.75h-0.75zM15 7.5h0.75v0.75h-0.75zM15 8.25h0.75v0.75h-0.75zM15 9h0.75v0.75h-0.75zM15 12h0.75v0.75h-0.75zM15 17.25h0.75v0.75h-0.75zM15 21.75h0.75v0.75h-0.75zM15 23.25h0.75v0.75h-0.75zM15.75 6.75h0.75v0.75h-0.75zM15.75 7.5h0.75v0.75h-0.75zM15.75 9h0.75v0.75h-0.75zM15.75 10.5h0.75v0.75h-0.75zM15.75 12h0.75v0.75h-0.75zM15.75 15.75h0.75v0.75h-0.75zM15.75 16.5h0.75v0.75h-0.75zM15.75 20.25h0.75v0.75h-0.75zM15.75 21.75h0.75v0.75h-0.75zM15.75 22.5h0.75v0.75h-0.75zM15.75 23.25h0.75v0.75h-0.75zM16.5 1.5h0.75v0.75h-0.75zM16.5 2.25h0.75v0.75h-0.75zM16.5 8.25h0.75v0.75h-0.75zM16.5 9h0.75v0.75h-0.75zM16.5 10.5h0.75v0.75h-0.75zM16.5 11.25h0.75v0.75h-0.75zM16.5 12.75h0.75v0.75h-0.75zM16.5 14.25h0.75v0.75h-0.75zM16.5 18.75h0.75v0.75h-0.75zM16.5 19.5h0.75v0.75h-0.75zM16.5 21.75h0.75v0.75h-0.75zM16.5 22.5h0.75v0.75h-0.75zM16.5 23.25h0.75v0.75h-0.75zM17.25 0.75h0.75v0.75h-0.75zM17.25 2.25h0.75v0.75h-0.75zM17.25 7.5h0.75v0.75h-0.75zM17.25 10.5h0.75v0.75h-0.75zM17.25 11.25h0.75v0.75h-0.75zM17.25 12h0.75v0.75h-0.75zM17.25 14.25h0.75v0.75h-0.75zM17.25 19.5h0.75v0.75h-0.75zM17.25 22.5h0.75v0.75h-0.75zM18 0h0.75v0.75h-0.75zM18 3.75h0.75v0.75h-0.75zM18 9h0.75v0.75h-0.75zM18 12.75h0.75v0.75h-0.75zM18 13.5h0.75v0.75h-0.75zM18 15.75h0.75v0.75h-0.75zM18 17.25h0.75v0.75h-0.75zM18 18h0.75v0.75h-0.75zM18 21.75h0.75v0.75h-0.75zM18.75 0h0.75v0.75h-0.75zM18.75 0.75h0.75v0.75h-0.75zM18.75 3.75h0.75v0.75h-0.75zM18.75 5.25h0.75v0.75h-0.75zM18.75 8.25h0.75v0.75h-0.75zM18.75 11.25h0.75v0.75h-0.75zM18.75 12.75h0.75v0.75h-0.75zM18.75 18h0.75v0.75h-0.75zM18.75 19.5h0.75v0.75h-0.75zM19.5 1.5h0.75v0.75h-0.75zM19.5 9h0.75v0.75h-0.75zM19.5 12.75h0.75v0.75h-0.75zM19.5 13.5h0.75v0.75h-0.75zM20.25 4.5h0.75v0.75h-0.75zM20.25 8.25h0.75v0.75h-0.75zM20.25 10.5h0.75v0.75h-0.75zM20.25 18.75h0.75v0.75h-0.75zM20.25 21h0.75v0.75h-0.75zM20.25 21.75h0.75v0.75h-0.75zM20.25 22.5h0.75v0.75h-0.75zM21 0.75h0.75v0.75h-0.75zM21 4.5h0.75v0.75h-0.75zM21 12h0.75v0.75h-0.75zM21 13.5h0.75v0.75h-0.75zM21 22.5h0.75v0.75h-0.75zM21 23.25h0.75v0.75h-0.75zM21.75 0.75h0.75v0.75h-0.75zM21.75 3.75h0.75v0.75h-0.75zM21.75 4.5h0.75v0.75h-0.75zM21.75 10.5h0.75v0.75h-0.75zM21.75 16.5h0.75v0.75h-0.75zM21.75 18h0.75v0.75h-0.75zM21.75 19.5h0.75v0.75h-0.75zM21.75 21.75h0.75v0.75h-0.75zM22.5 2.25h0.75v0.75h-0.75zM22.5 6.75h0.75v0.75h-0.75zM22.5 7.5h0.75v0.75h-0.75zM22.5 11.25h0.75v0.75h-0.75zM22.5 13.5h0.75v0.75h-0.75zM22.5 14.25h0.75v0.75h-0.75zM22.5 15h0.75v0.75h-0.75zM22.5 15.75h0.75v0.75h-0.75zM22.5 17.25h0.75v0.75h-0.75zM22.5 20.25h0.75v0.75h-0.75zM22.5 21h0.75v0.75h-0.75zM23.25 0h0.75v0.75h-0.75zM23.25 3.75h0.75v0.75h-0.75zM23.25 5.25h0.75v0.75h-0.75zM23.25 6h0.75v0.75h-0.75zM23.25 9h0.75v0.75h-0.75zM23.25 17.25h0.75v0.75h-0.75zM23.25 19.5h0.75v0.75h-0.75zM23.25 21.75h0.75v0.75h-0.75z"/><path fill="#fbd850" d="M0 9.75h0.75v0.75h-0.75zM0.75 7.5h0.75v0.75h-0.75zM0.75 9.75h0.75v0.75h-0.75zM0.75 15h0.75v0.75h-0.75zM1.5 3.75h0.75v0.75h-0.75zM1.5 4.5h0.75v0.75h-0.75zM1.5 23.25h0.75v0.75h-0.75zM2.25 9h0.75v0.75h-0.75zM2.25 10.5h0.75v0.75h-0.75zM3.75 4.5h0.75v0.75h-0.75zM3.75 9h0.75v0.75h-0.75zM3.75 12h0.75v0.75h-0.75zM3.75 15h0.75v0.75h-0.75zM3.75 18h0.75v0.75h-0.75zM3.75 22.5h0.75v0.75h-0.75zM4.5 3.75h0.75v0.75h-0.75zM4.5 6h0.75v0.75h-0.75zM4.5 8.25h0.75v0.75h-0.75zM4.5 13.5h0.75v0.75h-0.75zM4.5 15h0.75v0.75h-0.75zM5.25 2.25h0.75v0.75h-0.75zM5.25 6h0.75v0.75h-0.75zM5.25 9.75h0.75v0.75h-0.75zM5.25 12h0.75v0.75h-0.75zM5.25 12.75h0.75v0.75h-0.75zM6 7.5h0.75v0.75h-0.75zM6 9.75h0.75v0.75h-0.75zM6 19.5h0.75v0.75h-0.75zM6.75 0h0.75v0.75h-0.75zM6.75 4.5h0.75v0.75h-0.75zM6.75 9h0.75v0.75h-0.75zM6.75 15.75h0.75v0.75h-0.75zM7.5 18h0.75v0.75h-0.75zM7.5 22.5h0.75v0.75h-0.75zM8.25 9h0.75v0.75h-0.75zM8.25 10.5h0.75v0.75h-0.75zM8.25 23.25h0.75v0.75h-0.75zM9 4.5h0.75v0.75h-0.75zM9 14.25h0.75v0.75h-0.75zM9 15.75h0.75v0.75h-0.75zM9.75 21h0.75v0.75h-0.75zM9.75 22.5h0.75v0.75h-0.75zM10.5 5.25h0.75v0.75h-0.75zM10.5 7.5h0.75v0.75h-0.75zM11.25 0h0.75v0.75h-0.75zM11.25 4.5h0.75v0.75h-0.75zM11.25 9h0.75v0.75h-0.75zM12 8.25h0.75v0.75h-0.75zM12 15h0.75v0.75h-0.75zM12.75 2.25h0.75v0.75h-0.75zM13.5 8.25h0.75v0.75h-0.75zM14.25 1.5h0.75v0.75h-0.75zM14.25 6h0.75v0.75h-0.75zM14.25 12h0.75v0.75h-0.75zM15 14.25h0.75v0.75h-0.75zM15 15.75h0.75v0.75h-0.75zM15 16.5h0.75v0.75h-0.75zM15 20.25h0.75v0.75h-0.75zM15.75 6h0.75v0.75h-0.75zM15.75 15h0.75v0.75h-0.75zM15.75 17.25h0.75v0.75h-0.75zM15.75 19.5h0.75v0.75h-0.75zM16.5 5.25h0.75v0.75h-0.75zM16.5 9.75h0.75v0.75h-0.75zM16.5 12h0.75v0.75h-0.75zM16.5 16.5h0.75v0.75h-0.75zM17.25 0h0.75v0.75h-0.75zM17.25 12.75h0.75v0.75h-0.75zM17.25 17.25h0.75v0.75h-0.75zM17.25 21h0.75v0.75h-0.75zM17.25 21.75h0.75v0.75h-0.75zM17.25 23.25h0.75v0.75h-0.75zM18 4.5h0.75v0.75h-0.75zM18 9.75h0.75v0.75h-0.75zM18 18.75h0.75v0.75h-0.75zM18 23.25h0.75v0.75h-0.75zM18.75 2.25h0.75v0.75h-0.75zM18.75 4.5h0.75v0.75h-0.75zM18.75 10.5h0.75v0.75h-0.75zM18.75 12h0.75v0.75h-0.75zM19.5 4.5h0.75v0.75h-0.75zM19.5 5.25h0.75v0.75h-0.75zM19.5 8.25h0.75v0.75h-0.75zM19.5 11.25h0.75v0.75h-0.75zM19.5 15.75h0.75v0.75h-0.75zM19.5 22.5h0.75v0.75h-0.75zM20.25 3h0.75v0.75h-0.75zM21 6.75h0.75v0.75h-0.75zM21 8.25h0.75v0.75h-0.75zM21 21h0.75v0.75h-0.75zM21.75 6h0.75v0.75h-0.75zM21.75 11.25h0.75v0.75h-0.75zM21.75 17.25h0.75v0.75h-0.75z"/><path fill="#000" d="M0 0.75h0.75v0.75h-0.75zM0 4.5h0.75v0.75h-0.75zM0 14.25h0.75v0.75h-0.75zM0 17.25h0.75v0.75h-0.75zM0.75 0h0.75v0.75h-0.75zM0.75 3h0.75v0.75h-0.75zM0.75 5.25h0.75v0.75h-0.75zM0.75 14.25h0.75v0.75h-0.75zM0.75 20.25h0.75v0.75h-0.75zM1.5 8.25h0.75v0.75h-0.75zM2.25 1.5h0.75v0.75h-0.75zM2.25 7.5h0.75v0.75h-0.75zM2.25 12h0.75v0.75h-0.75zM2.25 13.5h0.75v0.75h-0.75zM2.25 15.75h0.75v0.75h-0.75zM3 12.75h0.75v0.75h-0.75zM3 21h0.75v0.75h-0.75zM3 22.5h0.75v0.75h-0.75zM3 23.25h0.75v0.75h-0.75zM3.75 2.25h0.75v0.75h-0.75zM3.75 3.75h0.75v0.75h-0.75zM3.75 6.75h0.75v0.75h-0.75zM3.75 11.25h0.75v0.75h-0.75zM3.75 16.5h0.75v0.75h-0.75zM4.5 10.5h0.75v0.75h-0.75zM4.5 20.25h0.75v0.75h-0.75zM4.5 21h0.75v0.75h-0.75zM5.25 3h0.75v0.75h-0.75zM5.25 3.75h0.75v0.75h-0.75zM5.25 9h0.75v0.75h-0.75zM6 12.75h0.75v0.75h-0.75zM6 13.5h0.75v0.75h-0.75zM6 14.25h0.75v0.75h-0.75zM6 22.5h0.75v0.75h-0.75zM6.75 0.75h0.75v0.75h-0.75zM6.75 2.25h0.75v0.75h-0.75zM6.75 10.5h0.75v0.75h-0.75zM6.75 12h0.75v0.75h-0.75zM6.75 20.25h0.75v0.75h-0.75zM7.5 3.75h0.75v0.75h-0.75zM7.5 6h0.75v0.75h-0.75zM7.5 7.5h0.75v0.75h-0.75zM7.5 10.5h0.75v0.75h-0.75zM7.5 12h0.75v0.75h-0.75zM9 9.75h0.75v0.75h-0.75zM9 17.25h0.75v0.75h-0.75zM9 18.75h0.75v0.75h-0.75zM9 21.75h0.75v0.75h-0.75zM9 23.25h0.75v0.75h-0.75zM9.75 0h0.75v0.75h-0.75zM9.75 3.75h0.75v0.75h-0.75zM10.5 6.75h0.75v0.75h-0.75zM10.5 8.25h0.75v0.75h-0.75zM10.5 21h0.75v0.75h-0.75zM11.25 0.75h0.75v0.75h-0.75zM11.25 9.75h0.75v0.75h-0.75zM11.25 12h0.75v0.75h-0.75zM11.25 18h0.75v0.75h-0.75zM12 4.5h0.75v0.75h-0.75zM12 5.25h0.75v0.75h-0.75zM12 17.25h0.75v0.75h-0.75zM12 19.5h0.75v0.75h-0.75zM12 21.75h0.75v0.75h-0.75zM12.75 6.75h0.75v0.75h-0.75zM13.5 22.5h0.75v0.75h-0.75zM14.25 0h0.75v0.75h-0.75zM14.25 2.25h0.75v0.75h-0.75zM14.25 6.75h0.75v0.75h-0.75zM14.25 9h0.75v0.75h-0.75zM14.25 10.5h0.75v0.75h-0.75zM14.25 15h0.75v0.75h-0.75zM14.25 22.5h0.75v0.75h-0.75zM14.25 23.25h0.75v0.75h-0.75zM15 5.25h0.75v0.75h-0.75zM15 9.75h0.75v0.75h-0.75zM15 19.5h0.75v0.75h-0.75zM15 21h0.75v0.75h-0.75zM15.75 4.5h0.75v0.75h-0.75zM15.75 5.25h0.75v0.75h-0.75zM15.75 9.75h0.75v0.75h-0.75zM15.75 11.25h0.75v0.75h-0.75zM16.5 3.75h0.75v0.75h-0.75zM16.5 7.5h0.75v0.75h-0.75zM16.5 13.5h0.75v0.75h-0.75zM16.5 20.25h0.75v0.75h-0.75zM16.5 21h0.75v0.75h-0.75zM17.25 5.25h0.75v0.75h-0.75zM17.25 20.25h0.75v0.75h-0.75zM18 10.5h0.75v0.75h-0.75zM18.75 9.75h0.75v0.75h-0.75zM18.75 16.5h0.75v0.75h-0.75zM18.75 21h0.75v0.75h-0.75zM19.5 16.5h0.75v0.75h-0.75zM19.5 20.25h0.75v0.75h-0.75zM20.25 6.75h0.75v0.75h-0.75zM21 18h0.75v0.75h-0.75zM21 19.5h0.75v0.75h-0.75zM21.75 1.5h0.75v0.75h-0.75zM21.75 12.75h0.75v0.75h-0.75zM22.5 9h0.75v0.75h-0.75zM22.5 18h0.75v0.75h-0.75zM23.25 4.5h0.75v0.75h-0.75zM23.25 11.25h0.75v0.75h-0.75zM23.25 14.25h0.75v0.75h-0.75zM23.25 16.5h0.75v0.75h-0.75zM23.25 21h0.75v0.75h-0.75zM23.25 22.5h0.75v0.75h-0.75z"/></pattern>
<pattern id="tms" width="24.0" height="24.0" patternUnits="userSpaceOnUse"><rect width="24.0" height="24.0" fill="#fbd652"/><path fill="#f8ac28" d="M0 7.5h0.75v0.75h-0.75zM0 21h0.75v0.75h-0.75zM0 22.5h0.75v0.75h-0.75zM0.75 6h0.75v0.75h-0.75zM0.75 11.25h0.75v0.75h-0.75zM0.75 15.75h0.75v0.75h-0.75zM1.5 15h0.75v0.75h-0.75zM1.5 15.75h0.75v0.75h-0.75zM2.25 0h0.75v0.75h-0.75zM2.25 0.75h0.75v0.75h-0.75zM2.25 8.25h0.75v0.75h-0.75zM2.25 9.75h0.75v0.75h-0.75zM2.25 13.5h0.75v0.75h-0.75zM2.25 15h0.75v0.75h-0.75zM2.25 15.75h0.75v0.75h-0.75zM2.25 18.75h0.75v0.75h-0.75zM3 0h0.75v0.75h-0.75zM3 7.5h0.75v0.75h-0.75zM3 10.5h0.75v0.75h-0.75zM3 11.25h0.75v0.75h-0.75zM3.75 0.75h0.75v0.75h-0.75zM3.75 4.5h0.75v0.75h-0.75zM3.75 9h0.75v0.75h-0.75zM3.75 15h0.75v0.75h-0.75zM3.75 17.25h0.75v0.75h-0.75zM3.75 21.75h0.75v0.75h-0.75zM3.75 23.25h0.75v0.75h-0.75zM4.5 15.75h0.75v0.75h-0.75zM5.25 3h0.75v0.75h-0.75zM5.25 4.5h0.75v0.75h-0.75zM5.25 6h0.75v0.75h-0.75zM5.25 8.25h0.75v0.75h-0.75zM5.25 9.75h0.75v0.75h-0.75zM5.25 13.5h0.75v0.75h-0.75zM5.25 15.75h0.75v0.75h-0.75zM5.25 16.5h0.75v0.75h-0.75zM6 2.25h0.75v0.75h-0.75zM6 4.5h0.75v0.75h-0.75zM6 6.75h0.75v0.75h-0.75zM6 21h0.75v0.75h-0.75zM6.75 0h0.75v0.75h-0.75zM6.75 3h0.75v0.75h-0.75zM6.75 6.75h0.75v0.75h-0.75zM6.75 7.5h0.75v0.75h-0.75zM6.75 15.75h0.75v0.75h-0.75zM6.75 21h0.75v0.75h-0.75zM7.5 15h0.75v0.75h-0.75zM7.5 22.5h0.75v0.75h-0.75zM7.5 23.25h0.75v0.75h-0.75zM8.25 5.25h0.75v0.75h-0.75zM8.25 6h0.75v0.75h-0.75zM8.25 18.75h0.75v0.75h-0.75zM9 6.75h0.75v0.75h-0.75zM9 14.25h0.75v0.75h-0.75zM9 17.25h0.75v0.75h-0.75zM9 18.75h0.75v0.75h-0.75zM9 19.5h0.75v0.75h-0.75zM9.75 2.25h0.75v0.75h-0.75zM9.75 4.5h0.75v0.75h-0.75zM9.75 5.25h0.75v0.75h-0.75zM9.75 7.5h0.75v0.75h-0.75zM9.75 11.25h0.75v0.75h-0.75zM9.75 12h0.75v0.75h-0.75zM9.75 15h0.75v0.75h-0.75zM9.75 22.5h0.75v0.75h-0.75zM10.5 2.25h0.75v0.75h-0.75zM10.5 12h0.75v0.75h-0.75zM10.5 14.25h0.75v0.75h-0.75zM10.5 15h0.75v0.75h-0.75zM10.5 21.75h0.75v0.75h-0.75zM11.25 1.5h0.75v0.75h-0.75zM11.25 6h0.75v0.75h-0.75zM11.25 9.75h0.75v0.75h-0.75zM11.25 12h0.75v0.75h-0.75zM11.25 15h0.75v0.75h-0.75zM11.25 16.5h0.75v0.75h-0.75zM12 3h0.75v0.75h-0.75zM12 5.25h0.75v0.75h-0.75zM12 7.5h0.75v0.75h-0.75zM12 18h0.75v0.75h-0.75zM12 20.25h0.75v0.75h-0.75zM12.75 0h0.75v0.75h-0.75zM12.75 12.75h0.75v0.75h-0.75zM12.75 14.25h0.75v0.75h-0.75zM12.75 15.75h0.75v0.75h-0.75zM12.75 23.25h0.75v0.75h-0.75zM13.5 1.5h0.75v0.75h-0.75zM13.5 3h0.75v0.75h-0.75zM13.5 8.25h0.75v0.75h-0.75zM13.5 12h0.75v0.75h-0.75zM14.25 9h0.75v0.75h-0.75zM15 2.25h0.75v0.75h-0.75zM15 13.5h0.75v0.75h-0.75zM15 16.5h0.75v0.75h-0.75zM15 22.5h0.75v0.75h-0.75zM15.75 5.25h0.75v0.75h-0.75zM15.75 6.75h0.75v0.75h-0.75zM15.75 16.5h0.75v0.75h-0.75zM15.75 17.25h0.75v0.75h-0.75zM15.75 18.75h0.75v0.75h-0.75zM16.5 12h0.75v0.75h-0.75zM16.5 14.25h0.75v0.75h-0.75zM16.5 15h0.75v0.75h-0.75zM17.25 3.75h0.75v0.75h-0.75zM17.25 11.25h0.75v0.75h-0.75zM17.25 13.5h0.75v0.75h-0.75zM17.25 15h0.75v0.75h-0.75zM17.25 21.75h0.75v0.75h-0.75zM18 2.25h0.75v0.75h-0.75zM18 12h0.75v0.75h-0.75zM18 12.75h0.75v0.75h-0.75zM18 19.5h0.75v0.75h-0.75zM18 23.25h0.75v0.75h-0.75zM18.75 0.75h0.75v0.75h-0.75zM18.75 5.25h0.75v0.75h-0.75zM18.75 8.25h0.75v0.75h-0.75zM18.75 13.5h0.75v0.75h-0.75zM18.75 15.75h0.75v0.75h-0.75zM18.75 19.5h0.75v0.75h-0.75zM19.5 1.5h0.75v0.75h-0.75zM19.5 9h0.75v0.75h-0.75zM19.5 19.5h0.75v0.75h-0.75zM19.5 21h0.75v0.75h-0.75zM20.25 0h0.75v0.75h-0.75zM20.25 3h0.75v0.75h-0.75zM20.25 10.5h0.75v0.75h-0.75zM20.25 11.25h0.75v0.75h-0.75zM20.25 12h0.75v0.75h-0.75zM20.25 13.5h0.75v0.75h-0.75zM20.25 15.75h0.75v0.75h-0.75zM20.25 17.25h0.75v0.75h-0.75zM20.25 21h0.75v0.75h-0.75zM21 8.25h0.75v0.75h-0.75zM21 12h0.75v0.75h-0.75zM21 20.25h0.75v0.75h-0.75zM21.75 6h0.75v0.75h-0.75zM21.75 6.75h0.75v0.75h-0.75zM21.75 12h0.75v0.75h-0.75zM21.75 12.75h0.75v0.75h-0.75zM21.75 17.25h0.75v0.75h-0.75zM21.75 18h0.75v0.75h-0.75zM22.5 1.5h0.75v0.75h-0.75zM22.5 3h0.75v0.75h-0.75zM22.5 10.5h0.75v0.75h-0.75zM22.5 13.5h0.75v0.75h-0.75zM22.5 15.75h0.75v0.75h-0.75zM22.5 16.5h0.75v0.75h-0.75zM22.5 17.25h0.75v0.75h-0.75zM23.25 3h0.75v0.75h-0.75zM23.25 15.75h0.75v0.75h-0.75zM23.25 17.25h0.75v0.75h-0.75zM23.25 21h0.75v0.75h-0.75z"/><path fill="#fff2b0" d="M0 0.75h0.75v0.75h-0.75zM0 1.5h0.75v0.75h-0.75zM0 6h0.75v0.75h-0.75zM0 11.25h0.75v0.75h-0.75zM0 17.25h0.75v0.75h-0.75zM0 21.75h0.75v0.75h-0.75zM0.75 5.25h0.75v0.75h-0.75zM0.75 6.75h0.75v0.75h-0.75zM0.75 8.25h0.75v0.75h-0.75zM0.75 13.5h0.75v0.75h-0.75zM0.75 20.25h0.75v0.75h-0.75zM0.75 22.5h0.75v0.75h-0.75zM1.5 3h0.75v0.75h-0.75zM1.5 9.75h0.75v0.75h-0.75zM1.5 12h0.75v0.75h-0.75zM1.5 12.75h0.75v0.75h-0.75zM1.5 14.25h0.75v0.75h-0.75zM1.5 17.25h0.75v0.75h-0.75zM1.5 20.25h0.75v0.75h-0.75zM1.5 23.25h0.75v0.75h-0.75zM2.25 16.5h0.75v0.75h-0.75zM2.25 20.25h0.75v0.75h-0.75zM2.25 21.75h0.75v0.75h-0.75zM3 6.75h0.75v0.75h-0.75zM3 9h0.75v0.75h-0.75zM3.75 12.75h0.75v0.75h-0.75zM3.75 13.5h0.75v0.75h-0.75zM3.75 18h0.75v0.75h-0.75zM4.5 4.5h0.75v0.75h-0.75zM4.5 6h0.75v0.75h-0.75zM4.5 9.75h0.75v0.75h-0.75zM4.5 11.25h0.75v0.75h-0.75zM4.5 12.75h0.75v0.75h-0.75zM5.25 2.25h0.75v0.75h-0.75zM5.25 18.75h0.75v0.75h-0.75zM5.25 19.5h0.75v0.75h-0.75zM6 5.25h0.75v0.75h-0.75zM6 9h0.75v0.75h-0.75zM6 12h0.75v0.75h-0.75zM6 14.25h0.75v0.75h-0.75zM6 18.75h0.75v0.75h-0.75zM6 19.5h0.75v0.75h-0.75zM6 20.25h0.75v0.75h-0.75zM6 23.25h0.75v0.75h-0.75zM6.75 1.5h0.75v0.75h-0.75zM6.75 2.25h0.75v0.75h-0.75zM6.75 3.75h0.75v0.75h-0.75zM6.75 12h0.75v0.75h-0.75zM6.75 13.5h0.75v0.75h-0.75zM6.75 21.75h0.75v0.75h-0.75zM7.5 12.75h0.75v0.75h-0.75zM7.5 16.5h0.75v0.75h-0.75zM7.5 17.25h0.75v0.75h-0.75zM7.5 18h0.75v0.75h-0.75zM7.5 21.75h0.75v0.75h-0.75zM8.25 1.5h0.75v0.75h-0.75zM8.25 8.25h0.75v0.75h-0.75zM8.25 9.75h0.75v0.75h-0.75zM8.25 18h0.75v0.75h-0.75zM8.25 20.25h0.75v0.75h-0.75zM9 11.25h0.75v0.75h-0.75zM9 12h0.75v0.75h-0.75zM9 13.5h0.75v0.75h-0.75zM9 15h0.75v0.75h-0.75zM9 18h0.75v0.75h-0.75zM9 21h0.75v0.75h-0.75zM9.75 8.25h0.75v0.75h-0.75zM9.75 9h0.75v0.75h-0.75zM9.75 9.75h0.75v0.75h-0.75zM9.75 18h0.75v0.75h-0.75zM9.75 21h0.75v0.75h-0.75zM10.5 1.5h0.75v0.75h-0.75zM10.5 4.5h0.75v0.75h-0.75zM10.5 6h0.75v0.75h-0.75zM10.5 6.75h0.75v0.75h-0.75zM10.5 17.25h0.75v0.75h-0.75zM11.25 0.75h0.75v0.75h-0.75zM11.25 4.5h0.75v0.75h-0.75zM11.25 7.5h0.75v0.75h-0.75zM11.25 9h0.75v0.75h-0.75zM11.25 10.5h0.75v0.75h-0.75zM11.25 13.5h0.75v0.75h-0.75zM11.25 18.75h0.75v0.75h-0.75zM11.25 19.5h0.75v0.75h-0.75zM11.25 21h0.75v0.75h-0.75zM11.25 23.25h0.75v0.75h-0.75zM12 0h0.75v0.75h-0.75zM12 4.5h0.75v0.75h-0.75zM12 6.75h0.75v0.75h-0.75zM12 9h0.75v0.75h-0.75zM12 12h0.75v0.75h-0.75zM12 15h0.75v0.75h-0.75zM12 17.25h0.75v0.75h-0.75zM12 21.75h0.75v0.75h-0.75zM12.75 3h0.75v0.75h-0.75zM12.75 9.75h0.75v0.75h-0.75zM12.75 10.5h0.75v0.75h-0.75zM12.75 15h0.75v0.75h-0.75zM12.75 16.5h0.75v0.75h-0.75zM12.75 18.75h0.75v0.75h-0.75zM12.75 21h0.75v0.75h-0.75zM13.5 3.75h0.75v0.75h-0.75zM13.5 12.75h0.75v0.75h-0.75zM13.5 15h0.75v0.75h-0.75zM13.5 17.25h0.75v0.75h-0.75zM13.5 18h0.75v0.75h-0.75zM13.5 23.25h0.75v0.75h-0.75zM14.25 0h0.75v0.75h-0.75zM14.25 5.25h0.75v0.75h-0.75zM14.25 6h0.75v0.75h-0.75zM14.25 6.75h0.75v0.75h-0.75zM14.25 16.5h0.75v0.75h-0.75zM14.25 18h0.75v0.75h-0.75zM14.25 21.75h0.75v0.75h-0.75zM15 4.5h0.75v0.75h-0.75zM15 11.25h0.75v0.75h-0.75zM15 15h0.75v0.75h-0.75zM15 21.75h0.75v0.75h-0.75zM15.75 3h0.75v0.75h-0.75zM15.75 3.75h0.75v0.75h-0.75zM15.75 13.5h0.75v0.75h-0.75zM16.5 9h0.75v0.75h-0.75zM17.25 0.75h0.75v0.75h-0.75zM17.25 6.75h0.75v0.75h-0.75zM17.25 14.25h0.75v0.75h-0.75zM17.25 16.5h0.75v0.75h-0.75zM17.25 18.75h0.75v0.75h-0.75zM17.25 20.25h0.75v0.75h-0.75zM18 6.75h0.75v0.75h-0.75zM18 10.5h0.75v0.75h-0.75zM18 15h0.75v0.75h-0.75zM18.75 7.5h0.75v0.75h-0.75zM18.75 9.75h0.75v0.75h-0.75zM18.75 18h0.75v0.75h-0.75zM18.75 22.5h0.75v0.75h-0.75zM18.75 23.25h0.75v0.75h-0.75zM19.5 7.5h0.75v0.75h-0.75zM19.5 11.25h0.75v0.75h-0.75zM19.5 12h0.75v0.75h-0.75zM19.5 12.75h0.75v0.75h-0.75zM19.5 15h0.75v0.75h-0.75zM19.5 15.75h0.75v0.75h-0.75zM20.25 6h0.75v0.75h-0.75zM20.25 16.5h0.75v0.75h-0.75zM20.25 21.75h0.75v0.75h-0.75zM21 0.75h0.75v0.75h-0.75zM21 2.25h0.75v0.75h-0.75zM21 3h0.75v0.75h-0.75zM21 7.5h0.75v0.75h-0.75zM21 9h0.75v0.75h-0.75zM21 12.75h0.75v0.75h-0.75zM21 15h0.75v0.75h-0.75zM21 16.5h0.75v0.75h-0.75zM21 18.75h0.75v0.75h-0.75zM21 21h0.75v0.75h-0.75zM21 21.75h0.75v0.75h-0.75zM21 22.5h0.75v0.75h-0.75zM21.75 2.25h0.75v0.75h-0.75zM21.75 3h0.75v0.75h-0.75zM21.75 3.75h0.75v0.75h-0.75zM21.75 7.5h0.75v0.75h-0.75zM21.75 10.5h0.75v0.75h-0.75zM22.5 7.5h0.75v0.75h-0.75zM22.5 14.25h0.75v0.75h-0.75zM22.5 23.25h0.75v0.75h-0.75zM23.25 9.75h0.75v0.75h-0.75zM23.25 11.25h0.75v0.75h-0.75zM23.25 12.75h0.75v0.75h-0.75zM23.25 20.25h0.75v0.75h-0.75z"/><path fill="#a05010" d="M0 2.25h0.75v0.75h-0.75zM0 10.5h0.75v0.75h-0.75zM0 15h0.75v0.75h-0.75zM0 15.75h0.75v0.75h-0.75zM0 16.5h0.75v0.75h-0.75zM0 18.75h0.75v0.75h-0.75zM0 20.25h0.75v0.75h-0.75zM0.75 3h0.75v0.75h-0.75zM0.75 3.75h0.75v0.75h-0.75zM1.5 1.5h0.75v0.75h-0.75zM1.5 2.25h0.75v0.75h-0.75zM1.5 6.75h0.75v0.75h-0.75zM2.25 11.25h0.75v0.75h-0.75zM2.25 22.5h0.75v0.75h-0.75zM3 16.5h0.75v0.75h-0.75zM3.75 2.25h0.75v0.75h-0.75zM3.75 11.25h0.75v0.75h-0.75zM3.75 18.75h0.75v0.75h-0.75zM3.75 22.5h0.75v0.75h-0.75zM4.5 8.25h0.75v0.75h-0.75zM4.5 10.5h0.75v0.75h-0.75zM4.5 17.25h0.75v0.75h-0.75zM5.25 11.25h0.75v0.75h-0.75zM5.25 17.25h0.75v0.75h-0.75zM6 0h0.75v0.75h-0.75zM6 17.25h0.75v0.75h-0.75zM6 18h0.75v0.75h-0.75zM6.75 6h0.75v0.75h-0.75zM6.75 17.25h0.75v0.75h-0.75zM6.75 18h0.75v0.75h-0.75zM7.5 18.75h0.75v0.75h-0.75zM8.25 0h0.75v0.75h-0.75zM8.25 13.5h0.75v0.75h-0.75zM9 2.25h0.75v0.75h-0.75zM9 3h0.75v0.75h-0.75zM9 16.5h0.75v0.75h-0.75zM9 20.25h0.75v0.75h-0.75zM9 23.25h0.75v0.75h-0.75zM9.75 3.75h0.75v0.75h-0.75zM9.75 6h0.75v0.75h-0.75zM9.75 19.5h0.75v0.75h-0.75zM10.5 0.75h0.75v0.75h-0.75zM10.5 16.5h0.75v0.75h-0.75zM10.5 23.25h0.75v0.75h-0.75zM11.25 3.75h0.75v0.75h-0.75zM12 3.75h0.75v0.75h-0.75zM12 15.75h0.75v0.75h-0.75zM12 21h0.75v0.75h-0.75zM12 23.25h0.75v0.75h-0.75zM13.5 5.25h0.75v0.75h-0.75zM13.5 22.5h0.75v0.75h-0.75zM14.25 15h0.75v0.75h-0.75zM14.25 15.75h0.75v0.75h-0.75zM15.75 0.75h0.75v0.75h-0.75zM15.75 2.25h0.75v0.75h-0.75zM15.75 11.25h0.75v0.75h-0.75zM15.75 15h0.75v0.75h-0.75zM16.5 0h0.75v0.75h-0.75zM16.5 21h0.75v0.75h-0.75zM17.25 8.25h0.75v0.75h-0.75zM17.25 19.5h0.75v0.75h-0.75zM18 5.25h0.75v0.75h-0.75zM18 21.75h0.75v0.75h-0.75zM18.75 14.25h0.75v0.75h-0.75zM20.25 4.5h0.75v0.75h-0.75zM20.25 19.5h0.75v0.75h-0.75zM21 6.75h0.75v0.75h-0.75zM22.5 21.75h0.75v0.75h-0.75zM23.25 2.25h0.75v0.75h-0.75z"/><path fill="#000" d="M0 14.25h0.75v0.75h-0.75zM0 18h0.75v0.75h-0.75zM0.75 4.5h0.75v0.75h-0.75zM0.75 21h0.75v0.75h-0.75zM0.75 23.25h0.75v0.75h-0.75zM1.5 5.25h0.75v0.75h-0.75zM1.5 6h0.75v0.75h-0.75zM1.5 8.25h0.75v0.75h-0.75zM1.5 11.25h0.75v0.75h-0.75zM2.25 5.25h0.75v0.75h-0.75zM2.25 14.25h0.75v0.75h-0.75zM2.25 19.5h0.75v0.75h-0.75zM3 15h0.75v0.75h-0.75zM3 22.5h0.75v0.75h-0.75zM3 23.25h0.75v0.75h-0.75zM3.75 3.75h0.75v0.75h-0.75zM3.75 7.5h0.75v0.75h-0.75zM3.75 14.25h0.75v0.75h-0.75zM3.75 15.75h0.75v0.75h-0.75zM3.75 19.5h0.75v0.75h-0.75zM4.5 0.75h0.75v0.75h-0.75zM4.5 6.75h0.75v0.75h-0.75zM4.5 7.5h0.75v0.75h-0.75zM4.5 15h0.75v0.75h-0.75zM4.5 21.75h0.75v0.75h-0.75zM4.5 23.25h0.75v0.75h-0.75zM5.25 0h0.75v0.75h-0.75zM5.25 1.5h0.75v0.75h-0.75zM5.25 5.25h0.75v0.75h-0.75zM5.25 15h0.75v0.75h-0.75zM5.25 21h0.75v0.75h-0.75zM5.25 22.5h0.75v0.75h-0.75zM6 3h0.75v0.75h-0.75zM6 13.5h0.75v0.75h-0.75zM6 15.75h0.75v0.75h-0.75zM6 16.5h0.75v0.75h-0.75zM6.75 4.5h0.75v0.75h-0.75zM6.75 9h0.75v0.75h-0.75zM6.75 10.5h0.75v0.75h-0.75zM6.75 12.75h0.75v0.75h-0.75zM6.75 18.75h0.75v0.75h-0.75zM7.5 2.25h0.75v0.75h-0.75zM7.5 3.75h0.75v0.75h-0.75zM7.5 6h0.75v0.75h-0.75zM7.5 15.75h0.75v0.75h-0.75zM7.5 19.5h0.75v0.75h-0.75zM8.25 6.75h0.75v0.75h-0.75zM8.25 11.25h0.75v0.75h-0.75zM8.25 12h0.75v0.75h-0.75zM9 0h0.75v0.75h-0.75zM9 9h0.75v0.75h-0.75zM9 15.75h0.75v0.75h-0.75zM9.75 10.5h0.75v0.75h-0.75zM9.75 15.75h0.75v0.75h-0.75zM10.5 8.25h0.75v0.75h-0.75zM10.5 9.75h0.75v0.75h-0.75zM10.5 11.25h0.75v0.75h-0.75zM10.5 13.5h0.75v0.75h-0.75zM10.5 20.25h0.75v0.75h-0.75zM10.5 21h0.75v0.75h-0.75zM11.25 2.25h0.75v0.75h-0.75zM11.25 8.25h0.75v0.75h-0.75zM11.25 20.25h0.75v0.75h-0.75zM11.25 21.75h0.75v0.75h-0.75zM12.75 5.25h0.75v0.75h-0.75zM12.75 7.5h0.75v0.75h-0.75zM12.75 11.25h0.75v0.75h-0.75zM12.75 13.5h0.75v0.75h-0.75zM12.75 17.25h0.75v0.75h-0.75zM12.75 20.25h0.75v0.75h-0.75zM12.75 21.75h0.75v0.75h-0.75zM12.75 22.5h0.75v0.75h-0.75zM13.5 0h0.75v0.75h-0.75zM13.5 11.25h0.75v0.75h-0.75zM13.5 19.5h0.75v0.75h-0.75zM14.25 1.5h0.75v0.75h-0.75zM14.25 3h0.75v0.75h-0.75zM14.25 8.25h0.75v0.75h-0.75zM14.25 11.25h0.75v0.75h-0.75zM14.25 14.25h0.75v0.75h-0.75zM14.25 19.5h0.75v0.75h-0.75zM14.25 20.25h0.75v0.75h-0.75zM15 0h0.75v0.75h-0.75zM15 5.25h0.75v0.75h-0.75zM15 6.75h0.75v0.75h-0.75zM15 15.75h0.75v0.75h-0.75zM15.75 7.5h0.75v0.75h-0.75zM15.75 9.75h0.75v0.75h-0.75zM15.75 10.5h0.75v0.75h-0.75zM15.75 12h0.75v0.75h-0.75zM15.75 19.5h0.75v0.75h-0.75zM16.5 0.75h0.75v0.75h-0.75zM16.5 3.75h0.75v0.75h-0.75zM16.5 9.75h0.75v0.75h-0.75zM17.25 1.5h0.75v0.75h-0.75zM17.25 2.25h0.75v0.75h-0.75zM17.25 10.5h0.75v0.75h-0.75zM17.25 12.75h0.75v0.75h-0.75zM17.25 15.75h0.75v0.75h-0.75zM17.25 21h0.75v0.75h-0.75zM18 1.5h0.75v0.75h-0.75zM18 6h0.75v0.75h-0.75zM18 9h0.75v0.75h-0.75zM18 13.5h0.75v0.75h-0.75zM18 14.25h0.75v0.75h-0.75zM18 16.5h0.75v0.75h-0.75zM18 17.25h0.75v0.75h-0.75zM18.75 1.5h0.75v0.75h-0.75zM18.75 3.75h0.75v0.75h-0.75zM18.75 4.5h0.75v0.75h-0.75zM18.75 12h0.75v0.75h-0.75zM18.75 12.75h0.75v0.75h-0.75zM18.75 15h0.75v0.75h-0.75zM18.75 21h0.75v0.75h-0.75zM19.5 5.25h0.75v0.75h-0.75zM19.5 6.75h0.75v0.75h-0.75zM19.5 8.25h0.75v0.75h-0.75zM19.5 13.5h0.75v0.75h-0.75zM19.5 16.5h0.75v0.75h-0.75zM19.5 18h0.75v0.75h-0.75zM20.25 3.75h0.75v0.75h-0.75zM20.25 8.25h0.75v0.75h-0.75zM20.25 12.75h0.75v0.75h-0.75zM20.25 20.25h0.75v0.75h-0.75zM21 1.5h0.75v0.75h-0.75zM21 3.75h0.75v0.75h-0.75zM21 9.75h0.75v0.75h-0.75zM21 19.5h0.75v0.75h-0.75zM21.75 1.5h0.75v0.75h-0.75zM21.75 8.25h0.75v0.75h-0.75zM21.75 11.25h0.75v0.75h-0.75zM21.75 13.5h0.75v0.75h-0.75zM21.75 14.25h0.75v0.75h-0.75zM21.75 15.75h0.75v0.75h-0.75zM21.75 18.75h0.75v0.75h-0.75zM21.75 21h0.75v0.75h-0.75zM22.5 3.75h0.75v0.75h-0.75zM22.5 4.5h0.75v0.75h-0.75zM22.5 9.75h0.75v0.75h-0.75zM22.5 11.25h0.75v0.75h-0.75zM23.25 0.75h0.75v0.75h-0.75zM23.25 3.75h0.75v0.75h-0.75zM23.25 4.5h0.75v0.75h-0.75zM23.25 8.25h0.75v0.75h-0.75zM23.25 10.5h0.75v0.75h-0.75zM23.25 12h0.75v0.75h-0.75zM23.25 14.25h0.75v0.75h-0.75zM23.25 18.75h0.75v0.75h-0.75zM23.25 19.5h0.75v0.75h-0.75zM23.25 21.75h0.75v0.75h-0.75zM23.25 22.5h0.75v0.75h-0.75z"/></pattern>
<pattern id="tmd" width="24.0" height="24.0" patternUnits="userSpaceOnUse"><rect width="24.0" height="24.0" fill="#000"/><path fill="#fbd040" d="M0 0h0.75v0.75h-0.75zM0 3.75h0.75v0.75h-0.75zM0 6h0.75v0.75h-0.75zM0 6.75h0.75v0.75h-0.75zM0 9h0.75v0.75h-0.75zM0 10.5h0.75v0.75h-0.75zM0 13.5h0.75v0.75h-0.75zM0 15h0.75v0.75h-0.75zM0 17.25h0.75v0.75h-0.75zM0 19.5h0.75v0.75h-0.75zM0 20.25h0.75v0.75h-0.75zM0.75 5.25h0.75v0.75h-0.75zM0.75 9h0.75v0.75h-0.75zM0.75 10.5h0.75v0.75h-0.75zM0.75 14.25h0.75v0.75h-0.75zM0.75 16.5h0.75v0.75h-0.75zM0.75 19.5h0.75v0.75h-0.75zM0.75 21h0.75v0.75h-0.75zM0.75 22.5h0.75v0.75h-0.75zM1.5 0.75h0.75v0.75h-0.75zM1.5 1.5h0.75v0.75h-0.75zM1.5 6h0.75v0.75h-0.75zM1.5 8.25h0.75v0.75h-0.75zM1.5 10.5h0.75v0.75h-0.75zM1.5 11.25h0.75v0.75h-0.75zM1.5 15h0.75v0.75h-0.75zM1.5 18h0.75v0.75h-0.75zM2.25 0.75h0.75v0.75h-0.75zM2.25 5.25h0.75v0.75h-0.75zM2.25 6h0.75v0.75h-0.75zM2.25 7.5h0.75v0.75h-0.75zM2.25 13.5h0.75v0.75h-0.75zM2.25 20.25h0.75v0.75h-0.75zM3 0h0.75v0.75h-0.75zM3 3h0.75v0.75h-0.75zM3 5.25h0.75v0.75h-0.75zM3 6h0.75v0.75h-0.75zM3 8.25h0.75v0.75h-0.75zM3 12h0.75v0.75h-0.75zM3 14.25h0.75v0.75h-0.75zM3 16.5h0.75v0.75h-0.75zM3 18h0.75v0.75h-0.75zM3 23.25h0.75v0.75h-0.75zM3.75 1.5h0.75v0.75h-0.75zM3.75 3h0.75v0.75h-0.75zM3.75 6.75h0.75v0.75h-0.75zM3.75 7.5h0.75v0.75h-0.75zM3.75 8.25h0.75v0.75h-0.75zM3.75 10.5h0.75v0.75h-0.75zM3.75 11.25h0.75v0.75h-0.75zM3.75 12.75h0.75v0.75h-0.75zM3.75 13.5h0.75v0.75h-0.75zM3.75 15h0.75v0.75h-0.75zM3.75 16.5h0.75v0.75h-0.75zM3.75 17.25h0.75v0.75h-0.75zM3.75 18.75h0.75v0.75h-0.75zM3.75 22.5h0.75v0.75h-0.75zM3.75 23.25h0.75v0.75h-0.75zM4.5 1.5h0.75v0.75h-0.75zM4.5 2.25h0.75v0.75h-0.75zM4.5 3h0.75v0.75h-0.75zM4.5 6h0.75v0.75h-0.75zM4.5 9h0.75v0.75h-0.75zM4.5 9.75h0.75v0.75h-0.75zM4.5 15h0.75v0.75h-0.75zM5.25 2.25h0.75v0.75h-0.75zM5.25 3h0.75v0.75h-0.75zM5.25 3.75h0.75v0.75h-0.75zM5.25 5.25h0.75v0.75h-0.75zM5.25 7.5h0.75v0.75h-0.75zM5.25 15h0.75v0.75h-0.75zM6 3h0.75v0.75h-0.75zM6 3.75h0.75v0.75h-0.75zM6 8.25h0.75v0.75h-0.75zM6 9h0.75v0.75h-0.75zM6 9.75h0.75v0.75h-0.75zM6 14.25h0.75v0.75h-0.75zM6 15.75h0.75v0.75h-0.75zM6 16.5h0.75v0.75h-0.75zM6 18h0.75v0.75h-0.75zM6 20.25h0.75v0.75h-0.75zM6 22.5h0.75v0.75h-0.75zM6.75 0h0.75v0.75h-0.75zM6.75 2.25h0.75v0.75h-0.75zM6.75 3h0.75v0.75h-0.75zM6.75 6h0.75v0.75h-0.75zM6.75 7.5h0.75v0.75h-0.75zM6.75 9h0.75v0.75h-0.75zM6.75 16.5h0.75v0.75h-0.75zM6.75 18.75h0.75v0.75h-0.75zM6.75 20.25h0.75v0.75h-0.75zM7.5 0.75h0.75v0.75h-0.75zM7.5 2.25h0.75v0.75h-0.75zM7.5 3.75h0.75v0.75h-0.75zM7.5 5.25h0.75v0.75h-0.75zM7.5 6.75h0.75v0.75h-0.75zM7.5 8.25h0.75v0.75h-0.75zM7.5 11.25h0.75v0.75h-0.75zM7.5 13.5h0.75v0.75h-0.75zM7.5 15h0.75v0.75h-0.75zM7.5 15.75h0.75v0.75h-0.75zM7.5 19.5h0.75v0.75h-0.75zM7.5 22.5h0.75v0.75h-0.75zM8.25 1.5h0.75v0.75h-0.75zM8.25 5.25h0.75v0.75h-0.75zM8.25 6h0.75v0.75h-0.75zM8.25 9h0.75v0.75h-0.75zM8.25 9.75h0.75v0.75h-0.75zM8.25 11.25h0.75v0.75h-0.75zM8.25 18h0.75v0.75h-0.75zM8.25 19.5h0.75v0.75h-0.75zM8.25 20.25h0.75v0.75h-0.75zM9 0h0.75v0.75h-0.75zM9 10.5h0.75v0.75h-0.75zM9 12h0.75v0.75h-0.75zM9 12.75h0.75v0.75h-0.75zM9 13.5h0.75v0.75h-0.75zM9 20.25h0.75v0.75h-0.75zM9 22.5h0.75v0.75h-0.75zM9.75 0.75h0.75v0.75h-0.75zM9.75 2.25h0.75v0.75h-0.75zM9.75 6.75h0.75v0.75h-0.75zM9.75 10.5h0.75v0.75h-0.75zM9.75 14.25h0.75v0.75h-0.75zM9.75 16.5h0.75v0.75h-0.75zM9.75 18.75h0.75v0.75h-0.75zM9.75 20.25h0.75v0.75h-0.75zM10.5 0h0.75v0.75h-0.75zM10.5 1.5h0.75v0.75h-0.75zM10.5 2.25h0.75v0.75h-0.75zM10.5 3.75h0.75v0.75h-0.75zM10.5 4.5h0.75v0.75h-0.75zM10.5 6.75h0.75v0.75h-0.75zM10.5 7.5h0.75v0.75h-0.75zM10.5 9.75h0.75v0.75h-0.75zM10.5 12h0.75v0.75h-0.75zM10.5 18h0.75v0.75h-0.75zM10.5 18.75h0.75v0.75h-0.75zM10.5 21.75h0.75v0.75h-0.75zM11.25 4.5h0.75v0.75h-0.75zM11.25 6h0.75v0.75h-0.75zM11.25 16.5h0.75v0.75h-0.75zM11.25 18h0.75v0.75h-0.75zM11.25 22.5h0.75v0.75h-0.75zM11.25 23.25h0.75v0.75h-0.75zM12 0.75h0.75v0.75h-0.75zM12 3h0.75v0.75h-0.75zM12 3.75h0.75v0.75h-0.75zM12 4.5h0.75v0.75h-0.75zM12 5.25h0.75v0.75h-0.75zM12 6h0.75v0.75h-0.75zM12 7.5h0.75v0.75h-0.75zM12 9h0.75v0.75h-0.75zM12 9.75h0.75v0.75h-0.75zM12 10.5h0.75v0.75h-0.75zM12 11.25h0.75v0.75h-0.75zM12 14.25h0.75v0.75h-0.75zM12 15.75h0.75v0.75h-0.75zM12 16.5h0.75v0.75h-0.75zM12 17.25h0.75v0.75h-0.75zM12 18.75h0.75v0.75h-0.75zM12 19.5h0.75v0.75h-0.75zM12 20.25h0.75v0.75h-0.75zM12 21.75h0.75v0.75h-0.75zM12.75 0h0.75v0.75h-0.75zM12.75 2.25h0.75v0.75h-0.75zM12.75 6h0.75v0.75h-0.75zM12.75 7.5h0.75v0.75h-0.75zM12.75 12h0.75v0.75h-0.75zM12.75 13.5h0.75v0.75h-0.75zM12.75 15.75h0.75v0.75h-0.75zM12.75 19.5h0.75v0.75h-0.75zM13.5 3.75h0.75v0.75h-0.75zM13.5 7.5h0.75v0.75h-0.75zM13.5 9.75h0.75v0.75h-0.75zM13.5 13.5h0.75v0.75h-0.75zM13.5 17.25h0.75v0.75h-0.75zM13.5 18.75h0.75v0.75h-0.75zM13.5 19.5h0.75v0.75h-0.75zM13.5 20.25h0.75v0.75h-0.75zM13.5 21.75h0.75v0.75h-0.75zM14.25 0h0.75v0.75h-0.75zM14.25 2.25h0.75v0.75h-0.75zM14.25 4.5h0.75v0.75h-0.75zM14.25 6h0.75v0.75h-0.75zM14.25 6.75h0.75v0.75h-0.75zM14.25 9h0.75v0.75h-0.75zM14.25 16.5h0.75v0.75h-0.75zM14.25 21h0.75v0.75h-0.75zM14.25 22.5h0.75v0.75h-0.75zM15 6.75h0.75v0.75h-0.75zM15 10.5h0.75v0.75h-0.75zM15 11.25h0.75v0.75h-0.75zM15 12h0.75v0.75h-0.75zM15 12.75h0.75v0.75h-0.75zM15 15h0.75v0.75h-0.75zM15 16.5h0.75v0.75h-0.75zM15 19.5h0.75v0.75h-0.75zM15 20.25h0.75v0.75h-0.75zM15 21h0.75v0.75h-0.75zM15.75 0h0.75v0.75h-0.75zM15.75 0.75h0.75v0.75h-0.75zM15.75 9.75h0.75v0.75h-0.75zM15.75 11.25h0.75v0.75h-0.75zM15.75 12.75h0.75v0.75h-0.75zM15.75 15h0.75v0.75h-0.75zM15.75 15.75h0.75v0.75h-0.75zM16.5 0h0.75v0.75h-0.75zM16.5 3h0.75v0.75h-0.75zM16.5 4.5h0.75v0.75h-0.75zM16.5 6.75h0.75v0.75h-0.75zM16.5 9h0.75v0.75h-0.75zM16.5 11.25h0.75v0.75h-0.75zM16.5 12.75h0.75v0.75h-0.75zM16.5 14.25h0.75v0.75h-0.75zM16.5 18h0.75v0.75h-0.75zM16.5 18.75h0.75v0.75h-0.75zM16.5 19.5h0.75v0.75h-0.75zM16.5 21h0.75v0.75h-0.75zM16.5 22.5h0.75v0.75h-0.75zM17.25 1.5h0.75v0.75h-0.75zM17.25 3.75h0.75v0.75h-0.75zM17.25 5.25h0.75v0.75h-0.75zM17.25 6.75h0.75v0.75h-0.75zM17.25 7.5h0.75v0.75h-0.75zM17.25 16.5h0.75v0.75h-0.75zM17.25 18h0.75v0.75h-0.75zM17.25 22.5h0.75v0.75h-0.75zM17.25 23.25h0.75v0.75h-0.75zM18 4.5h0.75v0.75h-0.75zM18 5.25h0.75v0.75h-0.75zM18 6.75h0.75v0.75h-0.75zM18 18h0.75v0.75h-0.75zM18 20.25h0.75v0.75h-0.75zM18 22.5h0.75v0.75h-0.75zM18.75 0.75h0.75v0.75h-0.75zM18.75 1.5h0.75v0.75h-0.75zM18.75 2.25h0.75v0.75h-0.75zM18.75 3.75h0.75v0.75h-0.75zM18.75 10.5h0.75v0.75h-0.75zM18.75 12h0.75v0.75h-0.75zM18.75 12.75h0.75v0.75h-0.75zM18.75 21.75h0.75v0.75h-0.75zM19.5 0h0.75v0.75h-0.75zM19.5 1.5h0.75v0.75h-0.75zM19.5 2.25h0.75v0.75h-0.75zM19.5 4.5h0.75v0.75h-0.75zM19.5 8.25h0.75v0.75h-0.75zM19.5 9h0.75v0.75h-0.75zM19.5 10.5h0.75v0.75h-0.75zM19.5 11.25h0.75v0.75h-0.75zM19.5 12h0.75v0.75h-0.75zM19.5 18.75h0.75v0.75h-0.75zM19.5 20.25h0.75v0.75h-0.75zM19.5 21h0.75v0.75h-0.75zM20.25 9h0.75v0.75h-0.75zM20.25 9.75h0.75v0.75h-0.75zM20.25 13.5h0.75v0.75h-0.75zM20.25 15.75h0.75v0.75h-0.75zM20.25 16.5h0.75v0.75h-0.75zM20.25 21h0.75v0.75h-0.75zM20.25 21.75h0.75v0.75h-0.75zM20.25 22.5h0.75v0.75h-0.75zM20.25 23.25h0.75v0.75h-0.75zM21 0h0.75v0.75h-0.75zM21 1.5h0.75v0.75h-0.75zM21 2.25h0.75v0.75h-0.75zM21 3h0.75v0.75h-0.75zM21 4.5h0.75v0.75h-0.75zM21 9h0.75v0.75h-0.75zM21 10.5h0.75v0.75h-0.75zM21 12h0.75v0.75h-0.75zM21 12.75h0.75v0.75h-0.75zM21 13.5h0.75v0.75h-0.75zM21 14.25h0.75v0.75h-0.75zM21 15h0.75v0.75h-0.75zM21 21h0.75v0.75h-0.75zM21.75 3h0.75v0.75h-0.75zM21.75 4.5h0.75v0.75h-0.75zM21.75 6.75h0.75v0.75h-0.75zM21.75 9.75h0.75v0.75h-0.75zM21.75 10.5h0.75v0.75h-0.75zM21.75 12h0.75v0.75h-0.75zM21.75 12.75h0.75v0.75h-0.75zM21.75 16.5h0.75v0.75h-0.75zM21.75 17.25h0.75v0.75h-0.75zM21.75 18.75h0.75v0.75h-0.75zM21.75 21h0.75v0.75h-0.75zM22.5 4.5h0.75v0.75h-0.75zM22.5 6h0.75v0.75h-0.75zM22.5 6.75h0.75v0.75h-0.75zM22.5 7.5h0.75v0.75h-0.75zM22.5 9h0.75v0.75h-0.75zM22.5 15h0.75v0.75h-0.75zM22.5 18h0.75v0.75h-0.75zM22.5 23.25h0.75v0.75h-0.75zM23.25 1.5h0.75v0.75h-0.75zM23.25 3h0.75v0.75h-0.75zM23.25 3.75h0.75v0.75h-0.75zM23.25 5.25h0.75v0.75h-0.75zM23.25 6.75h0.75v0.75h-0.75zM23.25 7.5h0.75v0.75h-0.75zM23.25 9h0.75v0.75h-0.75zM23.25 10.5h0.75v0.75h-0.75zM23.25 11.25h0.75v0.75h-0.75zM23.25 12.75h0.75v0.75h-0.75zM23.25 13.5h0.75v0.75h-0.75zM23.25 15h0.75v0.75h-0.75zM23.25 15.75h0.75v0.75h-0.75zM23.25 18h0.75v0.75h-0.75zM23.25 18.75h0.75v0.75h-0.75zM23.25 19.5h0.75v0.75h-0.75zM23.25 21.75h0.75v0.75h-0.75z"/><path fill="#f08018" d="M0 2.25h0.75v0.75h-0.75zM0 4.5h0.75v0.75h-0.75zM0 15.75h0.75v0.75h-0.75zM0.75 0.75h0.75v0.75h-0.75zM0.75 2.25h0.75v0.75h-0.75zM0.75 3h0.75v0.75h-0.75zM0.75 11.25h0.75v0.75h-0.75zM1.5 12h0.75v0.75h-0.75zM1.5 14.25h0.75v0.75h-0.75zM1.5 19.5h0.75v0.75h-0.75zM2.25 2.25h0.75v0.75h-0.75zM2.25 3.75h0.75v0.75h-0.75zM2.25 4.5h0.75v0.75h-0.75zM2.25 12h0.75v0.75h-0.75zM2.25 15h0.75v0.75h-0.75zM3 9h0.75v0.75h-0.75zM3 10.5h0.75v0.75h-0.75zM3 12.75h0.75v0.75h-0.75zM3 13.5h0.75v0.75h-0.75zM3 19.5h0.75v0.75h-0.75zM3.75 6h0.75v0.75h-0.75zM3.75 20.25h0.75v0.75h-0.75zM3.75 21.75h0.75v0.75h-0.75zM4.5 0h0.75v0.75h-0.75zM4.5 11.25h0.75v0.75h-0.75zM4.5 12.75h0.75v0.75h-0.75zM4.5 17.25h0.75v0.75h-0.75zM4.5 20.25h0.75v0.75h-0.75zM5.25 12h0.75v0.75h-0.75zM5.25 14.25h0.75v0.75h-0.75zM5.25 18.75h0.75v0.75h-0.75zM5.25 20.25h0.75v0.75h-0.75zM5.25 22.5h0.75v0.75h-0.75zM6 5.25h0.75v0.75h-0.75zM6 21h0.75v0.75h-0.75zM6 21.75h0.75v0.75h-0.75zM6.75 3.75h0.75v0.75h-0.75zM6.75 5.25h0.75v0.75h-0.75zM6.75 15h0.75v0.75h-0.75zM6.75 18h0.75v0.75h-0.75zM7.5 1.5h0.75v0.75h-0.75zM7.5 6h0.75v0.75h-0.75zM7.5 18.75h0.75v0.75h-0.75zM8.25 3h0.75v0.75h-0.75zM8.25 7.5h0.75v0.75h-0.75zM8.25 15h0.75v0.75h-0.75zM8.25 15.75h0.75v0.75h-0.75zM8.25 23.25h0.75v0.75h-0.75zM9 1.5h0.75v0.75h-0.75zM9 6h0.75v0.75h-0.75zM9 14.25h0.75v0.75h-0.75zM9 15h0.75v0.75h-0.75zM9 21.75h0.75v0.75h-0.75zM9.75 8.25h0.75v0.75h-0.75zM9.75 23.25h0.75v0.75h-0.75zM10.5 8.25h0.75v0.75h-0.75zM10.5 10.5h0.75v0.75h-0.75zM10.5 12.75h0.75v0.75h-0.75zM10.5 17.25h0.75v0.75h-0.75zM10.5 20.25h0.75v0.75h-0.75zM10.5 21h0.75v0.75h-0.75zM11.25 5.25h0.75v0.75h-0.75zM11.25 21.75h0.75v0.75h-0.75zM12 1.5h0.75v0.75h-0.75zM12 8.25h0.75v0.75h-0.75zM12 13.5h0.75v0.75h-0.75zM12.75 3h0.75v0.75h-0.75zM12.75 5.25h0.75v0.75h-0.75zM12.75 8.25h0.75v0.75h-0.75zM12.75 9.75h0.75v0.75h-0.75zM12.75 14.25h0.75v0.75h-0.75zM12.75 18.75h0.75v0.75h-0.75zM12.75 20.25h0.75v0.75h-0.75zM12.75 23.25h0.75v0.75h-0.75zM13.5 2.25h0.75v0.75h-0.75zM13.5 3h0.75v0.75h-0.75zM13.5 5.25h0.75v0.75h-0.75zM13.5 6h0.75v0.75h-0.75zM13.5 14.25h0.75v0.75h-0.75zM14.25 7.5h0.75v0.75h-0.75zM14.25 9.75h0.75v0.75h-0.75zM14.25 12h0.75v0.75h-0.75zM14.25 19.5h0.75v0.75h-0.75zM15 0.75h0.75v0.75h-0.75zM15 3h0.75v0.75h-0.75zM15 6h0.75v0.75h-0.75zM15 18.75h0.75v0.75h-0.75zM15 22.5h0.75v0.75h-0.75zM15 23.25h0.75v0.75h-0.75zM15.75 1.5h0.75v0.75h-0.75zM15.75 10.5h0.75v0.75h-0.75zM15.75 14.25h0.75v0.75h-0.75zM15.75 18.75h0.75v0.75h-0.75zM15.75 22.5h0.75v0.75h-0.75zM16.5 2.25h0.75v0.75h-0.75zM16.5 7.5h0.75v0.75h-0.75zM16.5 8.25h0.75v0.75h-0.75zM17.25 9h0.75v0.75h-0.75zM17.25 11.25h0.75v0.75h-0.75zM17.25 17.25h0.75v0.75h-0.75zM18 3.75h0.75v0.75h-0.75zM18.75 17.25h0.75v0.75h-0.75zM18.75 18h0.75v0.75h-0.75zM19.5 5.25h0.75v0.75h-0.75zM19.5 17.25h0.75v0.75h-0.75zM19.5 19.5h0.75v0.75h-0.75zM20.25 1.5h0.75v0.75h-0.75zM20.25 2.25h0.75v0.75h-0.75zM20.25 3h0.75v0.75h-0.75zM20.25 3.75h0.75v0.75h-0.75zM20.25 6.75h0.75v0.75h-0.75zM20.25 15h0.75v0.75h-0.75zM20.25 18h0.75v0.75h-0.75zM20.25 19.5h0.75v0.75h-0.75zM21 18.75h0.75v0.75h-0.75zM21.75 1.5h0.75v0.75h-0.75zM21.75 5.25h0.75v0.75h-0.75zM21.75 8.25h0.75v0.75h-0.75zM21.75 14.25h0.75v0.75h-0.75zM21.75 15h0.75v0.75h-0.75zM21.75 22.5h0.75v0.75h-0.75zM22.5 3.75h0.75v0.75h-0.75zM22.5 12.75h0.75v0.75h-0.75zM22.5 13.5h0.75v0.75h-0.75zM22.5 17.25h0.75v0.75h-0.75zM22.5 18.75h0.75v0.75h-0.75zM22.5 21h0.75v0.75h-0.75zM23.25 9.75h0.75v0.75h-0.75zM23.25 12h0.75v0.75h-0.75zM23.25 21h0.75v0.75h-0.75zM23.25 22.5h0.75v0.75h-0.75z"/><path fill="#8030a0" d="M0 14.25h0.75v0.75h-0.75zM0.75 7.5h0.75v0.75h-0.75zM0.75 17.25h0.75v0.75h-0.75zM0.75 23.25h0.75v0.75h-0.75zM1.5 3.75h0.75v0.75h-0.75zM1.5 4.5h0.75v0.75h-0.75zM1.5 6.75h0.75v0.75h-0.75zM1.5 17.25h0.75v0.75h-0.75zM2.25 9.75h0.75v0.75h-0.75zM2.25 17.25h0.75v0.75h-0.75zM2.25 18.75h0.75v0.75h-0.75zM2.25 19.5h0.75v0.75h-0.75zM3 0.75h0.75v0.75h-0.75zM3.75 2.25h0.75v0.75h-0.75zM3.75 3.75h0.75v0.75h-0.75zM3.75 5.25h0.75v0.75h-0.75zM3.75 9h0.75v0.75h-0.75zM4.5 14.25h0.75v0.75h-0.75zM4.5 15.75h0.75v0.75h-0.75zM4.5 16.5h0.75v0.75h-0.75zM5.25 0h0.75v0.75h-0.75zM5.25 0.75h0.75v0.75h-0.75zM5.25 9.75h0.75v0.75h-0.75zM5.25 19.5h0.75v0.75h-0.75zM5.25 21h0.75v0.75h-0.75zM5.25 21.75h0.75v0.75h-0.75zM5.25 23.25h0.75v0.75h-0.75zM6 0h0.75v0.75h-0.75zM6.75 11.25h0.75v0.75h-0.75zM6.75 15.75h0.75v0.75h-0.75zM7.5 7.5h0.75v0.75h-0.75zM7.5 16.5h0.75v0.75h-0.75zM7.5 23.25h0.75v0.75h-0.75zM8.25 3.75h0.75v0.75h-0.75zM8.25 4.5h0.75v0.75h-0.75zM8.25 10.5h0.75v0.75h-0.75zM8.25 12h0.75v0.75h-0.75zM8.25 12.75h0.75v0.75h-0.75zM8.25 16.5h0.75v0.75h-0.75zM8.25 18.75h0.75v0.75h-0.75zM8.25 21h0.75v0.75h-0.75zM9 7.5h0.75v0.75h-0.75zM9 15.75h0.75v0.75h-0.75zM9 18h0.75v0.75h-0.75zM9.75 0h0.75v0.75h-0.75zM9.75 3h0.75v0.75h-0.75zM9.75 15h0.75v0.75h-0.75zM9.75 18h0.75v0.75h-0.75zM10.5 5.25h0.75v0.75h-0.75zM10.5 14.25h0.75v0.75h-0.75zM11.25 1.5h0.75v0.75h-0.75zM11.25 3h0.75v0.75h-0.75zM11.25 9.75h0.75v0.75h-0.75zM11.25 10.5h0.75v0.75h-0.75zM11.25 11.25h0.75v0.75h-0.75zM11.25 12h0.75v0.75h-0.75zM11.25 20.25h0.75v0.75h-0.75zM12 21h0.75v0.75h-0.75zM12.75 1.5h0.75v0.75h-0.75zM12.75 11.25h0.75v0.75h-0.75zM12.75 16.5h0.75v0.75h-0.75zM12.75 17.25h0.75v0.75h-0.75zM13.5 12h0.75v0.75h-0.75zM13.5 18h0.75v0.75h-0.75zM14.25 1.5h0.75v0.75h-0.75zM14.25 13.5h0.75v0.75h-0.75zM14.25 20.25h0.75v0.75h-0.75zM15 9h0.75v0.75h-0.75zM15.75 2.25h0.75v0.75h-0.75zM15.75 17.25h0.75v0.75h-0.75zM16.5 9.75h0.75v0.75h-0.75zM16.5 10.5h0.75v0.75h-0.75zM17.25 0h0.75v0.75h-0.75zM17.25 14.25h0.75v0.75h-0.75zM17.25 15h0.75v0.75h-0.75zM18 0.75h0.75v0.75h-0.75zM18 1.5h0.75v0.75h-0.75zM18 12h0.75v0.75h-0.75zM18.75 3h0.75v0.75h-0.75zM18.75 5.25h0.75v0.75h-0.75zM18.75 13.5h0.75v0.75h-0.75zM18.75 14.25h0.75v0.75h-0.75zM18.75 16.5h0.75v0.75h-0.75zM18.75 22.5h0.75v0.75h-0.75zM19.5 9.75h0.75v0.75h-0.75zM19.5 12.75h0.75v0.75h-0.75zM19.5 13.5h0.75v0.75h-0.75zM19.5 18h0.75v0.75h-0.75zM19.5 22.5h0.75v0.75h-0.75zM21 7.5h0.75v0.75h-0.75zM21.75 7.5h0.75v0.75h-0.75zM21.75 19.5h0.75v0.75h-0.75zM21.75 21.75h0.75v0.75h-0.75zM21.75 23.25h0.75v0.75h-0.75zM22.5 0.75h0.75v0.75h-0.75zM22.5 11.25h0.75v0.75h-0.75zM22.5 21.75h0.75v0.75h-0.75zM23.25 0.75h0.75v0.75h-0.75zM23.25 6h0.75v0.75h-0.75zM23.25 8.25h0.75v0.75h-0.75z"/></pattern>
<clipPath id="ca1"><rect x="57.50" y="65.00" width="62.50" height="62.00"/></clipPath>
<clipPath id="ca2"><rect x="122.70" y="65.00" width="62.40" height="62.00"/></clipPath>
<clipPath id="ca3"><rect x="57.50" y="134.20" width="62.50" height="62.20"/></clipPath>
<clipPath id="ca4"><rect x="122.70" y="134.20" width="62.40" height="62.20"/></clipPath>
<clipPath id="cb1"><rect x="391.30" y="65.00" width="62.70" height="62.30"/></clipPath>
<clipPath id="cb2"><rect x="457.40" y="65.00" width="62.60" height="62.30"/></clipPath>
<clipPath id="cb3"><rect x="391.30" y="134.20" width="62.70" height="62.60"/></clipPath>
<clipPath id="cb4"><rect x="457.40" y="134.20" width="62.60" height="62.60"/></clipPath>
<clipPath id="cc1"><rect x="57.50" y="272.50" width="62.50" height="62.10"/></clipPath>
<clipPath id="cc2"><rect x="123.00" y="272.50" width="62.40" height="62.10"/></clipPath>
<clipPath id="cc3"><rect x="57.50" y="347.00" width="62.50" height="62.40"/></clipPath>
<clipPath id="cc4"><rect x="123.00" y="347.00" width="62.40" height="62.40"/></clipPath>
<clipPath id="cd1"><rect x="391.60" y="273.00" width="62.40" height="61.70"/></clipPath>
<clipPath id="cd2"><rect x="457.50" y="273.00" width="62.50" height="61.70"/></clipPath>
<clipPath id="cd3"><rect x="391.60" y="347.60" width="62.40" height="62.00"/></clipPath>
<clipPath id="cd4"><rect x="457.50" y="347.60" width="62.50" height="62.00"/></clipPath>
<linearGradient id="blu" x1="0" y1="0" x2="0" y2="1"><stop offset="0" stop-color="#3fbdf0"/><stop offset="0.55" stop-color="#8dd6f5"/><stop offset="1" stop-color="#e8f6fc"/></linearGradient>
<radialGradient id="ig" cx="0.42" cy="0.4" r="0.65"><stop offset="0" stop-color="#e4e4e4"/><stop offset="0.5" stop-color="#a4a4a4"/><stop offset="1" stop-color="#666"/></radialGradient>
<radialGradient id="igl" cx="0.45" cy="0.45" r="0.6"><stop offset="0" stop-color="#f2f2f2"/><stop offset="1" stop-color="#c2c2c2"/></radialGradient>
<radialGradient id="igd" cx="0.42" cy="0.5" r="0.62"><stop offset="0" stop-color="#e8e8e8"/><stop offset="0.55" stop-color="#ababab"/><stop offset="1" stop-color="#565656"/></radialGradient>
<clipPath id="cf0"><rect x="259.40" y="471.80" width="96.00" height="95.60"/></clipPath>
<clipPath id="cf3"><rect x="259.40" y="571.20" width="96.00" height="95.50"/></clipPath>
<clipPath id="cf1"><rect x="358.30" y="471.80" width="95.80" height="95.60"/></clipPath>
<clipPath id="cf4"><rect x="358.30" y="571.20" width="95.80" height="95.50"/></clipPath>
<clipPath id="cf2"><rect x="457.40" y="471.80" width="96.00" height="95.60"/></clipPath>
<clipPath id="cf5"><rect x="457.40" y="571.20" width="96.00" height="95.50"/></clipPath>
<clipPath id="cg0"><rect x="27.20" y="704.00" width="95.80" height="95.30"/></clipPath>
<clipPath id="cg3"><rect x="27.20" y="804.00" width="95.80" height="96.00"/></clipPath>
<clipPath id="cg1"><rect x="126.80" y="704.00" width="95.70" height="95.30"/></clipPath>
<clipPath id="cg4"><rect x="126.80" y="804.00" width="95.70" height="96.00"/></clipPath>
<clipPath id="cg2"><rect x="226.80" y="704.00" width="95.70" height="95.30"/></clipPath>
<clipPath id="cg5"><rect x="226.80" y="804.00" width="95.70" height="96.00"/></clipPath>
</defs>
<line x1="22.00" y1="223.40" x2="665.00" y2="223.40" stroke="#8a8a8a" stroke-width="1.1"/>
<line x1="25.50" y1="431.00" x2="667.50" y2="431.00" stroke="#8a8a8a" stroke-width="1.1"/>
<text x="5.50" y="17.50" font-size="22">a</text>
<text x="33.00" y="15.30" font-size="12.6" textLength="54.00" lengthAdjust="spacingAndGlyphs">Cell cycle</text>
<circle cx="107" cy="11.3" r="10.3" fill="#fff" stroke="#000" stroke-width="1.2"/>
<circle cx="163" cy="11.3" r="10.3" fill="#dcdcdc" stroke="#000" stroke-width="1.2"/>
<text x="107.00" y="15.30" font-size="11.5" text-anchor="middle">G1</text>
<text x="163.00" y="15.80" font-size="12.5" text-anchor="middle">S</text>
<line x1="121.00" y1="11.50" x2="146.00" y2="11.50" stroke="#000" stroke-width="1.3"/>
<path d="M144.5 7.8L152 11.5L144.5 15.2Z" fill="#000"/>
<line x1="130.30" y1="15.00" x2="138.70" y2="15.00" stroke="#000" stroke-width="1.2"/>
<line x1="134.50" y1="15.00" x2="134.50" y2="22.00" stroke="#000" stroke-width="1.2"/>
<text x="134.70" y="31.40" font-size="11" text-anchor="middle" textLength="53.40" lengthAdjust="spacingAndGlyphs">Aphidicolin</text>
<text x="89.00" y="61.00" font-size="12.7" text-anchor="middle">Control</text>
<text x="154.30" y="61.00" font-size="12.7" text-anchor="middle" textLength="62.00" lengthAdjust="spacingAndGlyphs">Aphidicolin</text>
<text x="55.50" y="95.50" font-size="12.6" text-anchor="middle" transform="rotate(-90 55.50 95.50)" textLength="55.00" lengthAdjust="spacingAndGlyphs">Lamin-SS</text>
<text x="55.50" y="165.80" font-size="12.6" text-anchor="middle" transform="rotate(-90 55.50 165.80)" textLength="57.00" lengthAdjust="spacingAndGlyphs">Lamin-TM</text>
<text x="6.50" y="82.00" font-size="11.6" textLength="35.40" lengthAdjust="spacingAndGlyphs">sFRET</text>
<text x="24.20" y="93.10" font-size="11.6" text-anchor="middle" textLength="21.80" lengthAdjust="spacingAndGlyphs">0.50</text>
<text x="23.90" y="188.30" font-size="11.6" text-anchor="middle">0</text>
<rect x="19.10" y="95.00" width="9.40" height="82.30" fill="url(#fire)"/>
<line x1="16.90" y1="112.90" x2="19.10" y2="112.90" stroke="#8a8a8a" stroke-width="0.7"/>
<line x1="16.90" y1="134.30" x2="19.10" y2="134.30" stroke="#8a8a8a" stroke-width="0.7"/>
<line x1="16.90" y1="157.20" x2="19.10" y2="157.20" stroke="#8a8a8a" stroke-width="0.7"/>
<rect x="57.50" y="65.00" width="62.50" height="62.00" fill="#000"/>
<g clip-path="url(#ca1)"><g filter="url(#b05)"><ellipse cx="77.4" cy="78.4" rx="5.7" ry="4.3" fill="url(#ssd)"/><ellipse cx="95.0" cy="74.4" rx="6.6" ry="4.8" fill="url(#ss)"/><ellipse cx="83.0" cy="96.4" rx="5.2" ry="5.7" fill="url(#ss)" transform="rotate(20 83.0 96.4)"/><ellipse cx="96.4" cy="102.0" rx="5.2" ry="6.2" fill="url(#ss)"/><ellipse cx="113.4" cy="95.0" rx="5.7" ry="5.2" fill="url(#ss)"/><ellipse cx="67.4" cy="105.6" rx="3.8" ry="5.2" fill="url(#ss)"/><ellipse cx="75.6" cy="123.0" rx="3.8" ry="3.8" fill="url(#ss)"/><ellipse cx="57.4" cy="101.6" rx="1.7" ry="3.8" fill="url(#ss)"/><ellipse cx="110.0" cy="112.0" rx="4.8" ry="4.8" fill="url(#ssd)"/></g></g>
<rect x="104.60" y="121.70" width="12.50" height="2.80" fill="#fff"/>
<rect x="122.70" y="65.00" width="62.40" height="62.00" fill="#000"/>
<g clip-path="url(#ca2)"><g filter="url(#b05)"><ellipse cx="147.6" cy="73.0" rx="6.6" ry="5.7" fill="url(#ss)"/><ellipse cx="173.4" cy="78.0" rx="4.8" ry="6.2" fill="url(#ss)"/><ellipse cx="130.0" cy="96.4" rx="6.6" ry="5.7" fill="url(#ss)" transform="rotate(30 130.0 96.4)"/><ellipse cx="149.0" cy="96.0" rx="6.6" ry="4.3" fill="url(#ssd)"/><ellipse cx="141.0" cy="111.0" rx="5.2" ry="6.2" fill="url(#ss)" transform="rotate(-30 141.0 111.0)"/><ellipse cx="154.0" cy="119.0" rx="6.6" ry="5.7" fill="url(#ss)" transform="rotate(20 154.0 119.0)"/><ellipse cx="173.0" cy="112.0" rx="7.6" ry="4.8" fill="url(#ss)" transform="rotate(20 173.0 112.0)"/><ellipse cx="182.4" cy="92.0" rx="3.8" ry="5.7" fill="url(#ss)"/><ellipse cx="137.0" cy="65.6" rx="4.8" ry="1.9" fill="url(#ss)"/></g></g>
<rect x="57.50" y="134.20" width="62.50" height="62.20" fill="#000"/>
<g clip-path="url(#ca3)"><g filter="url(#b05)"><ellipse cx="98.0" cy="140.6" rx="7.0" ry="5.5" fill="url(#tm)" stroke="#f09a20" stroke-width="0.55"/><ellipse cx="64.0" cy="154.0" rx="5.5" ry="5.0" fill="url(#tm)" stroke="#f09a20" stroke-width="0.55"/><ellipse cx="79.4" cy="159.6" rx="6.0" ry="5.5" fill="url(#tm)" stroke="#f09a20" stroke-width="0.55"/><ellipse cx="90.6" cy="154.6" rx="7.0" ry="5.5" fill="url(#tm)" transform="rotate(20 90.6 154.6)" stroke="#f09a20" stroke-width="0.55"/><ellipse cx="97.0" cy="186.0" rx="6.0" ry="8.5" fill="url(#tm)" transform="rotate(-15 97.0 186.0)" stroke="#f09a20" stroke-width="0.55"/><ellipse cx="75.0" cy="191.0" rx="8.5" ry="5.5" fill="url(#tm)" transform="rotate(-15 75.0 191.0)" stroke="#f09a20" stroke-width="0.55"/><ellipse cx="118.6" cy="177.0" rx="3.0" ry="6.0" fill="url(#tm)" stroke="#f09a20" stroke-width="0.55"/><ellipse cx="71.4" cy="134.4" rx="4.0" ry="1.5" fill="url(#tm)" stroke="#f09a20" stroke-width="0.55"/></g></g>
<rect x="104.60" y="190.70" width="12.50" height="2.80" fill="#fff"/>
<rect x="122.70" y="134.20" width="62.40" height="62.20" fill="#000"/>
<g clip-path="url(#ca4)"><g filter="url(#b05)"><ellipse cx="138.4" cy="151.4" rx="8.5" ry="6.0" fill="url(#tm)" stroke="#f09a20" stroke-width="0.55"/><ellipse cx="144.0" cy="166.4" rx="6.0" ry="7.0" fill="url(#tm)" stroke="#f09a20" stroke-width="0.55"/><ellipse cx="164.0" cy="178.6" rx="6.5" ry="7.0" fill="url(#tm)" stroke="#f09a20" stroke-width="0.55"/><ellipse cx="181.4" cy="151.0" rx="4.5" ry="7.0" fill="url(#tm)" stroke="#f09a20" stroke-width="0.55"/><ellipse cx="183.4" cy="176.0" rx="3.5" ry="8.0" fill="url(#tm)" stroke="#f09a20" stroke-width="0.55"/><ellipse cx="122.6" cy="194.0" rx="2.0" ry="3.0" fill="url(#tm)" stroke="#f09a20" stroke-width="0.55"/></g></g>
<line x1="228.90" y1="53.40" x2="228.90" y2="165.20" stroke="#000" stroke-width="1.4"/>
<line x1="228.20" y1="164.50" x2="339.00" y2="164.50" stroke="#000" stroke-width="1.4"/>
<line x1="224.60" y1="164.50" x2="228.90" y2="164.50" stroke="#000" stroke-width="1.25"/>
<text x="222.90" y="168.32" font-size="10.6" text-anchor="end">0.0</text>
<line x1="224.60" y1="142.40" x2="228.90" y2="142.40" stroke="#000" stroke-width="1.25"/>
<text x="222.90" y="146.22" font-size="10.6" text-anchor="end">0.1</text>
<line x1="224.60" y1="120.30" x2="228.90" y2="120.30" stroke="#000" stroke-width="1.25"/>
<text x="222.90" y="124.12" font-size="10.6" text-anchor="end">0.2</text>
<line x1="224.60" y1="98.20" x2="228.90" y2="98.20" stroke="#000" stroke-width="1.25"/>
<text x="222.90" y="102.02" font-size="10.6" text-anchor="end">0.3</text>
<line x1="224.60" y1="76.10" x2="228.90" y2="76.10" stroke="#000" stroke-width="1.25"/>
<text x="222.90" y="79.92" font-size="10.6" text-anchor="end">0.4</text>
<line x1="224.60" y1="54.00" x2="228.90" y2="54.00" stroke="#000" stroke-width="1.25"/>
<text x="222.90" y="57.82" font-size="10.6" text-anchor="end">0.5</text>
<line x1="245.30" y1="164.50" x2="245.30" y2="168.80" stroke="#000" stroke-width="1.25"/>
<line x1="271.00" y1="164.50" x2="271.00" y2="168.80" stroke="#000" stroke-width="1.25"/>
<line x1="296.40" y1="164.50" x2="296.40" y2="168.80" stroke="#000" stroke-width="1.25"/>
<line x1="322.10" y1="164.50" x2="322.10" y2="168.80" stroke="#000" stroke-width="1.25"/>
<text x="205.60" y="108.50" font-size="12.6" text-anchor="middle" transform="rotate(-90 205.60 108.50)" textLength="39.00" lengthAdjust="spacingAndGlyphs">sFRET</text>
<g fill="#1e1e1e" fill-opacity="0.88"><circle cx="245.7" cy="120.7" r="2.35"/><circle cx="243.6" cy="135.5" r="2.35"/><circle cx="239.2" cy="127.4" r="2.35"/><circle cx="241.6" cy="125.8" r="2.35"/><circle cx="244.0" cy="124.2" r="2.35"/><circle cx="247.3" cy="125.0" r="2.35"/><circle cx="249.7" cy="128.3" r="2.35"/><circle cx="252.1" cy="129.9" r="2.35"/><circle cx="241.6" cy="129.9" r="2.35"/><circle cx="244.8" cy="130.7" r="2.35"/><circle cx="248.1" cy="131.5" r="2.35"/><circle cx="240.0" cy="129.1" r="2.35"/><circle cx="246.5" cy="127.4" r="2.35"/><circle cx="243.2" cy="128.3" r="2.35"/></g>
<line x1="237.30" y1="128.48" x2="253.30" y2="128.48" stroke="#000" stroke-width="1.1"/>
<g fill="#e4243a" fill-opacity="0.88"><circle cx="271.0" cy="109.0" r="2.35"/><circle cx="264.9" cy="118.6" r="2.35"/><circle cx="267.7" cy="117.0" r="2.35"/><circle cx="271.0" cy="115.4" r="2.35"/><circle cx="274.1" cy="116.5" r="2.35"/><circle cx="277.3" cy="118.1" r="2.35"/><circle cx="265.7" cy="121.8" r="2.35"/><circle cx="268.9" cy="122.6" r="2.35"/><circle cx="272.1" cy="121.8" r="2.35"/><circle cx="275.0" cy="123.4" r="2.35"/><circle cx="266.5" cy="124.2" r="2.35"/><circle cx="271.0" cy="119.7" r="2.35"/><circle cx="273.0" cy="119.4" r="2.35"/><circle cx="276.2" cy="120.7" r="2.35"/><circle cx="269.7" cy="120.2" r="2.35"/></g>
<line x1="262.50" y1="118.75" x2="279.50" y2="118.75" stroke="#000" stroke-width="1.1"/>
<g fill="#1e1e1e" fill-opacity="0.88"><circle cx="296.2" cy="119.4" r="2.35"/><circle cx="290.6" cy="73.7" r="2.35"/><circle cx="293.8" cy="72.0" r="2.35"/><circle cx="297.5" cy="70.9" r="2.35"/><circle cx="301.1" cy="72.5" r="2.35"/><circle cx="303.5" cy="73.7" r="2.35"/><circle cx="292.2" cy="75.3" r="2.35"/><circle cx="296.2" cy="74.8" r="2.35"/><circle cx="299.4" cy="75.3" r="2.35"/><circle cx="302.7" cy="74.8" r="2.35"/><circle cx="297.0" cy="77.3" r="2.35"/></g>
<line x1="287.90" y1="79.64" x2="304.90" y2="79.64" stroke="#000" stroke-width="1.1"/>
<line x1="296.40" y1="84.28" x2="296.40" y2="74.99" stroke="#000" stroke-width="1.1"/>
<line x1="291.40" y1="84.28" x2="301.40" y2="84.28" stroke="#000" stroke-width="1.1"/>
<line x1="291.40" y1="74.99" x2="301.40" y2="74.99" stroke="#000" stroke-width="1.1"/>
<g fill="#e4243a" fill-opacity="0.88"><circle cx="315.5" cy="70.4" r="2.35"/><circle cx="318.7" cy="70.4" r="2.35"/><circle cx="321.9" cy="70.4" r="2.35"/><circle cx="325.1" cy="70.4" r="2.35"/><circle cx="328.4" cy="70.4" r="2.35"/><circle cx="317.1" cy="72.0" r="2.35"/><circle cx="320.3" cy="72.0" r="2.35"/><circle cx="323.5" cy="72.0" r="2.35"/><circle cx="326.7" cy="72.0" r="2.35"/><circle cx="321.9" cy="76.9" r="2.35"/><circle cx="321.9" cy="87.0" r="2.35"/><circle cx="322.3" cy="113.5" r="2.35"/></g>
<line x1="313.60" y1="76.98" x2="330.60" y2="76.98" stroke="#000" stroke-width="1.1"/>
<line x1="322.10" y1="80.96" x2="322.10" y2="73.01" stroke="#000" stroke-width="1.1"/>
<line x1="317.60" y1="80.96" x2="326.60" y2="80.96" stroke="#000" stroke-width="1.1"/>
<line x1="317.60" y1="73.01" x2="326.60" y2="73.01" stroke="#000" stroke-width="1.1"/>
<text x="190.00" y="183.00" font-size="10.8" textLength="51.00" lengthAdjust="spacingAndGlyphs">Aphidicol.:</text>
<text x="245.30" y="184.20" font-size="15" text-anchor="middle" font-weight="bold">-</text>
<text x="271.00" y="183.60" font-size="12.8" text-anchor="middle" font-weight="bold">+</text>
<text x="296.40" y="184.20" font-size="15" text-anchor="middle" font-weight="bold">-</text>
<text x="322.10" y="183.60" font-size="12.8" text-anchor="middle" font-weight="bold">+</text>
<line x1="239.00" y1="187.60" x2="282.60" y2="187.60" stroke="#000" stroke-width="1.1"/>
<line x1="289.40" y1="187.60" x2="333.80" y2="187.60" stroke="#000" stroke-width="1.1"/>
<text x="261.00" y="200.70" font-size="12.8" text-anchor="middle">SS</text>
<text x="312.00" y="200.70" font-size="12.8" text-anchor="middle">TM</text>
<path d="M243.20 101.60V96.30H272.40V101.60" fill="none" stroke="#262626" stroke-width="0.95"/>
<text x="257.80" y="99.80" font-size="11" text-anchor="middle">*</text>
<path d="M296.40 63.40V57.50H325.60V63.40" fill="none" stroke="#262626" stroke-width="0.95"/>
<text x="311.00" y="55.50" font-size="10.5" text-anchor="middle">ns</text>
<text x="343.90" y="20.10" font-size="22">b</text>
<text x="375.00" y="24.00" font-size="12.6" textLength="25.40" lengthAdjust="spacingAndGlyphs">EMT</text>
<g fill="#3dba8c" stroke="#000" stroke-width="1" stroke-linejoin="round"><polygon points="427.0,24.7 421.6,26.6 417.2,22.9 418.2,17.3 423.6,15.4 428.0,19.1"/><polygon points="437.0,26.4 431.6,28.4 427.2,24.7 428.2,19.1 433.6,17.1 437.9,20.8"/><polygon points="430.4,34.2 425.1,36.1 420.7,32.5 421.7,26.9 427.1,24.9 431.4,28.6"/><polygon points="420.4,32.4 415.1,34.4 410.7,30.7 411.7,25.1 417.1,23.2 421.4,26.8"/><polygon points="417.0,22.9 411.6,24.9 407.3,21.2 408.2,15.6 413.6,13.6 418.0,17.3"/><polygon points="423.5,15.1 418.1,17.1 413.8,13.4 414.8,7.8 420.1,5.9 424.5,9.5"/><polygon points="433.5,16.9 428.1,18.8 423.8,15.2 424.8,9.6 430.1,7.6 434.5,11.3"/></g>
<line x1="442" y1="17" x2="463" y2="17" stroke="#000" stroke-width="4.2" stroke-dasharray="2.2 1.5"/>
<path d="M462.5 11.5L475 17.2L462.5 23Z" fill="#000"/>
<text x="440.70" y="9.00" font-size="11" textLength="23.50" lengthAdjust="spacingAndGlyphs">TGF-</text>
<text x="464.30" y="9.00" font-size="11" style="font-family:'Liberation Serif',serif">β</text>
<g fill="#3dba8c" stroke="#000" stroke-width="1" stroke-linejoin="round"><path d="M477 16Q494 4 516.6 3.5Q506 17 477 16Z"/><path d="M493 20.3Q505 16.8 516.6 21.9Q504 25.2 493 20.3Z"/><path d="M483 23.4Q498 25 503.6 35.2Q488 33.5 483 23.4Z"/></g>
<text x="422.80" y="61.00" font-size="12.7" text-anchor="middle">Control</text>
<text x="470.00" y="61.00" font-size="12.7" textLength="28.50" lengthAdjust="spacingAndGlyphs">TGF-</text>
<text x="499.00" y="61.00" font-size="13.5" style="font-family:'Liberation Serif',serif">β</text>
<text x="388.80" y="97.50" font-size="12.6" text-anchor="middle" transform="rotate(-90 388.80 97.50)" textLength="54.00" lengthAdjust="spacingAndGlyphs">Lamin-SS</text>
<text x="388.80" y="165.70" font-size="12.6" text-anchor="middle" transform="rotate(-90 388.80 165.70)" textLength="55.60" lengthAdjust="spacingAndGlyphs">Lamin-TM</text>
<text x="340.30" y="78.80" font-size="11.6" textLength="34.50" lengthAdjust="spacingAndGlyphs">sFRET</text>
<text x="358.30" y="90.70" font-size="11.6" text-anchor="middle" textLength="22.00" lengthAdjust="spacingAndGlyphs">0.50</text>
<text x="358.10" y="187.60" font-size="11.6" text-anchor="middle">0</text>
<rect x="353.10" y="94.00" width="9.80" height="82.60" fill="url(#fire)"/>
<line x1="350.90" y1="112.30" x2="353.10" y2="112.30" stroke="#8a8a8a" stroke-width="0.7"/>
<line x1="350.90" y1="134.00" x2="353.10" y2="134.00" stroke="#8a8a8a" stroke-width="0.7"/>
<line x1="350.90" y1="156.80" x2="353.10" y2="156.80" stroke="#8a8a8a" stroke-width="0.7"/>
<rect x="391.30" y="65.00" width="62.70" height="62.30" fill="#000"/>
<g clip-path="url(#cb1)"><g filter="url(#b05)"><ellipse cx="406.0" cy="69.6" rx="3.1" ry="3.1" fill="url(#ssm)" stroke="#f0903a" stroke-width="0.55"/><ellipse cx="418.0" cy="69.0" rx="5.0" ry="3.6" fill="url(#ssm)" stroke="#f0903a" stroke-width="0.55"/><ellipse cx="396.0" cy="80.0" rx="2.7" ry="3.6" fill="url(#ssm)" stroke="#f0903a" stroke-width="0.55"/><ellipse cx="412.0" cy="84.0" rx="5.4" ry="4.5" fill="url(#ssd)"/><ellipse cx="431.6" cy="80.4" rx="5.0" ry="4.5" fill="url(#ssm)" stroke="#f0903a" stroke-width="0.55"/><ellipse cx="438.0" cy="91.0" rx="5.0" ry="5.0" fill="url(#ssm)" stroke="#f0903a" stroke-width="0.55"/><ellipse cx="448.0" cy="93.0" rx="4.0" ry="5.4" fill="url(#ssm)" stroke="#f0903a" stroke-width="0.55"/><ellipse cx="430.0" cy="95.0" rx="4.5" ry="4.5" fill="url(#ssm)" stroke="#f0903a" stroke-width="0.55"/><ellipse cx="396.0" cy="92.0" rx="3.6" ry="3.6" fill="url(#ssm)" stroke="#f0903a" stroke-width="0.55"/><ellipse cx="396.0" cy="98.0" rx="3.6" ry="3.1" fill="url(#ssm)" stroke="#f0903a" stroke-width="0.55"/><ellipse cx="396.0" cy="109.0" rx="4.5" ry="3.6" fill="url(#ssm)" stroke="#f0903a" stroke-width="0.55"/><ellipse cx="406.0" cy="110.0" rx="5.4" ry="3.6" fill="url(#ssm)" stroke="#f0903a" stroke-width="0.55"/><ellipse cx="425.0" cy="117.0" rx="6.3" ry="4.0" fill="url(#ssm)" stroke="#f0903a" stroke-width="0.55"/><ellipse cx="445.0" cy="117.0" rx="5.9" ry="4.0" fill="url(#ssm)" stroke="#f0903a" stroke-width="0.55"/><ellipse cx="408.0" cy="120.0" rx="4.0" ry="3.6" fill="url(#ssd)"/><ellipse cx="399.0" cy="124.0" rx="3.6" ry="3.1" fill="url(#ssd)"/><ellipse cx="437.0" cy="105.0" rx="4.5" ry="4.5" fill="url(#ssd)"/><ellipse cx="448.0" cy="70.0" rx="3.6" ry="3.6" fill="url(#ssd)"/><ellipse cx="416.0" cy="96.0" rx="3.6" ry="2.7" fill="url(#ssd)"/><ellipse cx="394.0" cy="122.0" rx="2.7" ry="2.7" fill="url(#ssm)" stroke="#f0903a" stroke-width="0.55"/></g></g>
<rect x="439.00" y="121.40" width="12.60" height="2.40" fill="#fff"/>
<rect x="457.40" y="65.00" width="62.60" height="62.30" fill="#000"/>
<g clip-path="url(#cb2)"><g filter="url(#b05)"><ellipse cx="462.4" cy="67.6" rx="3.6" ry="2.7" fill="url(#ssb)" stroke="#f08a3a" stroke-width="0.55"/><ellipse cx="479.6" cy="73.6" rx="5.0" ry="5.4" fill="url(#ssm)" stroke="#f0903a" stroke-width="0.55"/><ellipse cx="486.4" cy="76.0" rx="3.1" ry="5.4" fill="url(#ssb)" stroke="#f08a3a" stroke-width="0.55"/><ellipse cx="508.0" cy="71.0" rx="5.9" ry="5.4" fill="url(#ssb)" stroke="#f08a3a" stroke-width="0.55"/><ellipse cx="504.0" cy="81.0" rx="4.5" ry="4.5" fill="url(#ssb)" stroke="#f08a3a" stroke-width="0.55"/><ellipse cx="466.0" cy="77.0" rx="4.0" ry="4.0" fill="url(#ssm)" stroke="#f0903a" stroke-width="0.55"/><ellipse cx="467.0" cy="86.0" rx="4.5" ry="4.5" fill="url(#ssm)" stroke="#f0903a" stroke-width="0.55"/><ellipse cx="483.0" cy="86.4" rx="5.0" ry="4.5" fill="url(#ssb)" stroke="#f08a3a" stroke-width="0.55"/><ellipse cx="498.0" cy="88.0" rx="3.6" ry="3.6" fill="url(#ssr)" stroke="#f0a040" stroke-width="0.55"/><ellipse cx="481.0" cy="96.0" rx="4.5" ry="4.5" fill="url(#ssr)" stroke="#f0a040" stroke-width="0.55"/><ellipse cx="496.0" cy="96.4" rx="4.5" ry="4.5" fill="url(#ssb)" stroke="#f08a3a" stroke-width="0.55"/><ellipse cx="507.6" cy="95.6" rx="3.6" ry="3.6" fill="url(#ssb)" stroke="#f08a3a" stroke-width="0.55"/><ellipse cx="473.0" cy="100.0" rx="3.6" ry="3.1" fill="url(#ssr)" stroke="#f0a040" stroke-width="0.55"/><ellipse cx="516.0" cy="100.0" rx="2.2" ry="3.6" fill="url(#ssm)" stroke="#f0903a" stroke-width="0.55"/><ellipse cx="488.0" cy="104.0" rx="4.0" ry="4.5" fill="url(#ssr)" stroke="#f0a040" stroke-width="0.55"/><ellipse cx="466.0" cy="110.0" rx="4.0" ry="3.6" fill="url(#ssm)" stroke="#f0903a" stroke-width="0.55"/><ellipse cx="479.0" cy="114.4" rx="4.0" ry="5.4" fill="url(#ssm)" stroke="#f0903a" stroke-width="0.55"/><ellipse cx="493.0" cy="115.0" rx="4.5" ry="4.5" fill="url(#ssr)" stroke="#f0a040" stroke-width="0.55"/><ellipse cx="504.0" cy="110.0" rx="3.6" ry="3.6" fill="url(#ssr)" stroke="#f0a040" stroke-width="0.55"/><ellipse cx="514.0" cy="110.0" rx="2.7" ry="3.6" fill="url(#ssm)" stroke="#f0903a" stroke-width="0.55"/><ellipse cx="467.0" cy="120.4" rx="4.5" ry="4.5" fill="url(#ssr)" stroke="#f0a040" stroke-width="0.55"/><ellipse cx="490.0" cy="123.0" rx="5.4" ry="3.1" fill="url(#ssb)" stroke="#f08a3a" stroke-width="0.55"/><ellipse cx="501.6" cy="121.0" rx="3.1" ry="4.0" fill="url(#ssb)" stroke="#f08a3a" stroke-width="0.55"/><ellipse cx="509.0" cy="120.6" rx="3.6" ry="4.0" fill="url(#ssb)" stroke="#f08a3a" stroke-width="0.55"/><ellipse cx="462.0" cy="102.0" rx="2.7" ry="2.7" fill="url(#ssd)"/><ellipse cx="517.0" cy="77.0" rx="3.1" ry="3.6" fill="url(#ssd)"/></g></g>
<rect x="391.30" y="134.20" width="62.70" height="62.60" fill="#000"/>
<g clip-path="url(#cb3)"><g filter="url(#b05)"><ellipse cx="397.0" cy="141.0" rx="5.1" ry="4.6" fill="url(#tms)" stroke="#f09a20" stroke-width="0.55"/><ellipse cx="410.0" cy="150.0" rx="5.1" ry="4.1" fill="url(#tms)" stroke="#f09a20" stroke-width="0.55"/><ellipse cx="433.0" cy="142.0" rx="5.1" ry="4.6" fill="url(#tms)" stroke="#f09a20" stroke-width="0.55"/><ellipse cx="448.6" cy="147.0" rx="4.6" ry="3.7" fill="url(#tms)" stroke="#f09a20" stroke-width="0.55"/><ellipse cx="425.0" cy="156.0" rx="5.1" ry="6.4" fill="url(#tms)" stroke="#f09a20" stroke-width="0.55"/><ellipse cx="436.0" cy="154.4" rx="4.6" ry="4.1" fill="url(#tms)" stroke="#f09a20" stroke-width="0.55"/><ellipse cx="447.0" cy="160.0" rx="4.6" ry="5.1" fill="url(#tms)" stroke="#f09a20" stroke-width="0.55"/><ellipse cx="398.0" cy="163.6" rx="5.1" ry="4.6" fill="url(#tms)" stroke="#f09a20" stroke-width="0.55"/><ellipse cx="412.0" cy="161.0" rx="4.6" ry="4.6" fill="url(#tms)" stroke="#f09a20" stroke-width="0.55"/><ellipse cx="437.0" cy="165.0" rx="4.1" ry="4.1" fill="url(#tms)" stroke="#f09a20" stroke-width="0.55"/><ellipse cx="445.0" cy="171.0" rx="5.1" ry="4.6" fill="url(#tms)" stroke="#f09a20" stroke-width="0.55"/><ellipse cx="405.0" cy="174.4" rx="5.1" ry="4.6" fill="url(#tmd)" stroke="#f0a030" stroke-width="0.55"/><ellipse cx="431.6" cy="173.0" rx="4.6" ry="4.6" fill="url(#tms)" stroke="#f09a20" stroke-width="0.55"/><ellipse cx="420.6" cy="180.0" rx="4.6" ry="6.0" fill="url(#tms)" stroke="#f09a20" stroke-width="0.55"/><ellipse cx="447.0" cy="181.0" rx="5.1" ry="4.6" fill="url(#tms)" stroke="#f09a20" stroke-width="0.55"/><ellipse cx="435.6" cy="184.0" rx="5.5" ry="5.1" fill="url(#tmd)" stroke="#f0a030" stroke-width="0.55"/><ellipse cx="398.0" cy="189.0" rx="4.6" ry="4.1" fill="url(#tmd)" stroke="#f0a030" stroke-width="0.55"/><ellipse cx="411.6" cy="189.0" rx="5.1" ry="4.1" fill="url(#tmd)" stroke="#f0a030" stroke-width="0.55"/><ellipse cx="424.0" cy="194.0" rx="3.7" ry="2.8" fill="url(#tms)" stroke="#f09a20" stroke-width="0.55"/><ellipse cx="436.0" cy="193.0" rx="3.7" ry="3.2" fill="url(#tms)" stroke="#f09a20" stroke-width="0.55"/><ellipse cx="392.0" cy="148.0" rx="1.8" ry="3.7" fill="url(#tms)" stroke="#f09a20" stroke-width="0.55"/><ellipse cx="421.0" cy="136.0" rx="2.8" ry="1.8" fill="url(#tms)" stroke="#f09a20" stroke-width="0.55"/></g></g>
<rect x="439.60" y="191.40" width="12.50" height="2.60" fill="#fff"/>
<rect x="457.40" y="134.20" width="62.60" height="62.60" fill="#000"/>
<g clip-path="url(#cb4)"><g filter="url(#b05)"><ellipse cx="463.0" cy="139.0" rx="2.8" ry="2.8" fill="url(#tmd)" stroke="#f0a030" stroke-width="0.55"/><ellipse cx="478.4" cy="139.0" rx="3.7" ry="2.8" fill="url(#tmd)" stroke="#f0a030" stroke-width="0.55"/><ellipse cx="500.0" cy="139.0" rx="4.1" ry="4.6" fill="url(#tms)" stroke="#f09a20" stroke-width="0.55"/><ellipse cx="511.0" cy="140.0" rx="4.6" ry="5.5" fill="url(#tms)" stroke="#f09a20" stroke-width="0.55"/><ellipse cx="518.0" cy="148.0" rx="2.8" ry="4.6" fill="url(#tms)" stroke="#f09a20" stroke-width="0.55"/><ellipse cx="489.0" cy="143.6" rx="3.2" ry="3.2" fill="url(#tms)" stroke="#f09a20" stroke-width="0.55"/><ellipse cx="488.0" cy="149.0" rx="3.2" ry="4.1" fill="url(#tms)" stroke="#f09a20" stroke-width="0.55"/><ellipse cx="496.0" cy="151.4" rx="5.1" ry="4.1" fill="url(#tms)" stroke="#f09a20" stroke-width="0.55"/><ellipse cx="506.4" cy="148.4" rx="3.7" ry="4.1" fill="url(#tms)" stroke="#f09a20" stroke-width="0.55"/><ellipse cx="460.0" cy="153.0" rx="3.2" ry="5.5" fill="url(#tms)" stroke="#f09a20" stroke-width="0.55"/><ellipse cx="482.0" cy="158.0" rx="2.8" ry="4.6" fill="url(#tms)" stroke="#f09a20" stroke-width="0.55"/><ellipse cx="503.4" cy="161.0" rx="4.6" ry="4.1" fill="url(#tms)" stroke="#f09a20" stroke-width="0.55"/><ellipse cx="513.0" cy="166.0" rx="4.6" ry="4.6" fill="url(#tms)" stroke="#f09a20" stroke-width="0.55"/><ellipse cx="474.0" cy="164.0" rx="3.2" ry="3.2" fill="url(#tmd)" stroke="#f0a030" stroke-width="0.55"/><ellipse cx="486.0" cy="165.0" rx="3.2" ry="3.7" fill="url(#tmd)" stroke="#f0a030" stroke-width="0.55"/><ellipse cx="466.0" cy="167.0" rx="3.2" ry="3.2" fill="url(#tmd)" stroke="#f0a030" stroke-width="0.55"/><ellipse cx="475.0" cy="172.0" rx="3.7" ry="5.1" fill="url(#tms)" stroke="#f09a20" stroke-width="0.55"/><ellipse cx="462.4" cy="178.0" rx="4.6" ry="4.1" fill="url(#tmd)" stroke="#f0a030" stroke-width="0.55"/><ellipse cx="488.6" cy="175.0" rx="2.8" ry="4.6" fill="url(#tms)" stroke="#f09a20" stroke-width="0.55"/><ellipse cx="496.0" cy="174.0" rx="3.2" ry="3.2" fill="url(#tmd)" stroke="#f0a030" stroke-width="0.55"/><ellipse cx="504.6" cy="177.6" rx="4.1" ry="3.7" fill="url(#tms)" stroke="#f09a20" stroke-width="0.55"/><ellipse cx="496.0" cy="183.0" rx="4.6" ry="4.6" fill="url(#tms)" stroke="#f09a20" stroke-width="0.55"/><ellipse cx="488.0" cy="187.0" rx="4.1" ry="4.6" fill="url(#tms)" stroke="#f09a20" stroke-width="0.55"/><ellipse cx="473.0" cy="187.0" rx="4.6" ry="4.1" fill="url(#tmd)" stroke="#f0a030" stroke-width="0.55"/><ellipse cx="509.0" cy="189.0" rx="4.6" ry="6.4" fill="url(#tms)" stroke="#f09a20" stroke-width="0.55"/><ellipse cx="518.0" cy="182.0" rx="2.3" ry="4.6" fill="url(#tms)" stroke="#f09a20" stroke-width="0.55"/><ellipse cx="518.0" cy="193.0" rx="1.8" ry="3.7" fill="url(#tms)" stroke="#f09a20" stroke-width="0.55"/><ellipse cx="460.0" cy="193.0" rx="2.8" ry="2.8" fill="url(#tms)" stroke="#f09a20" stroke-width="0.55"/></g></g>
<line x1="559.20" y1="50.00" x2="559.20" y2="165.20" stroke="#000" stroke-width="1.4"/>
<line x1="558.50" y1="164.50" x2="674.00" y2="164.50" stroke="#000" stroke-width="1.4"/>
<line x1="555.00" y1="164.50" x2="559.20" y2="164.50" stroke="#000" stroke-width="1.25"/>
<text x="553.50" y="168.32" font-size="10.6" text-anchor="end">0.0</text>
<line x1="555.00" y1="141.72" x2="559.20" y2="141.72" stroke="#000" stroke-width="1.25"/>
<text x="553.50" y="145.54" font-size="10.6" text-anchor="end">0.1</text>
<line x1="555.00" y1="118.94" x2="559.20" y2="118.94" stroke="#000" stroke-width="1.25"/>
<text x="553.50" y="122.76" font-size="10.6" text-anchor="end">0.2</text>
<line x1="555.00" y1="96.16" x2="559.20" y2="96.16" stroke="#000" stroke-width="1.25"/>
<text x="553.50" y="99.98" font-size="10.6" text-anchor="end">0.3</text>
<line x1="555.00" y1="73.38" x2="559.20" y2="73.38" stroke="#000" stroke-width="1.25"/>
<text x="553.50" y="77.20" font-size="10.6" text-anchor="end">0.4</text>
<line x1="555.00" y1="50.60" x2="559.20" y2="50.60" stroke="#000" stroke-width="1.25"/>
<text x="553.50" y="54.42" font-size="10.6" text-anchor="end">0.5</text>
<line x1="576.80" y1="164.50" x2="576.80" y2="168.70" stroke="#000" stroke-width="1.25"/>
<line x1="603.30" y1="164.50" x2="603.30" y2="168.70" stroke="#000" stroke-width="1.25"/>
<line x1="629.80" y1="164.50" x2="629.80" y2="168.70" stroke="#000" stroke-width="1.25"/>
<line x1="656.60" y1="164.50" x2="656.60" y2="168.70" stroke="#000" stroke-width="1.25"/>
<text x="538.70" y="105.00" font-size="15.3" text-anchor="middle" transform="rotate(-90 538.70 105.00)" textLength="47.50" lengthAdjust="spacingAndGlyphs">sFRET</text>
<g fill="#333" fill-opacity="0.88"><circle cx="576.8" cy="108.0" r="2.35"/><circle cx="569.8" cy="122.5" r="2.35"/><circle cx="583.8" cy="120.9" r="2.35"/><circle cx="570.1" cy="128.7" r="2.35"/><circle cx="574.5" cy="124.8" r="2.35"/><circle cx="579.1" cy="124.8" r="2.35"/><circle cx="583.8" cy="126.4" r="2.35"/><circle cx="573.7" cy="129.5" r="2.35"/><circle cx="579.1" cy="130.3" r="2.35"/><circle cx="579.1" cy="134.2" r="2.35"/><circle cx="574.5" cy="137.7" r="2.35"/></g>
<line x1="568.00" y1="126.46" x2="585.60" y2="126.46" stroke="#000" stroke-width="1.1"/>
<line x1="576.80" y1="128.51" x2="576.80" y2="124.41" stroke="#000" stroke-width="1.1"/>
<line x1="570.00" y1="128.51" x2="583.60" y2="128.51" stroke="#000" stroke-width="1.1"/>
<line x1="570.00" y1="124.41" x2="583.60" y2="124.41" stroke="#000" stroke-width="1.1"/>
<g fill="#e4243a" fill-opacity="0.88"><circle cx="607.8" cy="110.4" r="2.35"/><circle cx="602.1" cy="112.0" r="2.35"/><circle cx="605.4" cy="113.6" r="2.35"/><circle cx="598.1" cy="114.4" r="2.35"/><circle cx="596.5" cy="115.7" r="2.35"/><circle cx="600.5" cy="116.0" r="2.35"/><circle cx="604.1" cy="115.7" r="2.35"/><circle cx="607.8" cy="115.7" r="2.35"/><circle cx="611.0" cy="116.0" r="2.35"/><circle cx="602.1" cy="118.4" r="2.35"/><circle cx="605.4" cy="118.4" r="2.35"/><circle cx="599.3" cy="117.6" r="2.35"/><circle cx="602.1" cy="123.7" r="2.35"/></g>
<line x1="594.50" y1="116.21" x2="612.10" y2="116.21" stroke="#000" stroke-width="1.1"/>
<g fill="#1e1e1e" fill-opacity="0.88"><circle cx="630.3" cy="105.3" r="2.35"/><circle cx="623.0" cy="73.5" r="2.35"/><circle cx="625.4" cy="73.0" r="2.35"/><circle cx="627.8" cy="72.7" r="2.35"/><circle cx="630.3" cy="73.0" r="2.35"/><circle cx="632.7" cy="73.5" r="2.35"/><circle cx="635.1" cy="73.5" r="2.35"/><circle cx="637.5" cy="73.9" r="2.35"/><circle cx="624.6" cy="74.6" r="2.35"/><circle cx="629.4" cy="75.1" r="2.35"/><circle cx="634.3" cy="75.1" r="2.35"/></g>
<line x1="620.80" y1="76.57" x2="638.80" y2="76.57" stroke="#000" stroke-width="1.1"/>
<line x1="629.80" y1="80.21" x2="629.80" y2="72.92" stroke="#000" stroke-width="1.1"/>
<line x1="624.80" y1="80.21" x2="634.80" y2="80.21" stroke="#000" stroke-width="1.1"/>
<line x1="624.80" y1="72.92" x2="634.80" y2="72.92" stroke="#000" stroke-width="1.1"/>
<g fill="#e4243a" fill-opacity="0.88"><circle cx="650.3" cy="70.3" r="2.35"/><circle cx="652.7" cy="71.1" r="2.35"/><circle cx="655.1" cy="71.9" r="2.35"/><circle cx="657.6" cy="71.9" r="2.35"/><circle cx="660.0" cy="71.1" r="2.35"/><circle cx="662.4" cy="70.7" r="2.35"/><circle cx="664.0" cy="71.9" r="2.35"/><circle cx="649.5" cy="72.7" r="2.35"/><circle cx="658.4" cy="73.0" r="2.35"/><circle cx="656.7" cy="88.2" r="2.35"/><circle cx="656.7" cy="96.3" r="2.35"/></g>
<line x1="647.60" y1="76.57" x2="665.60" y2="76.57" stroke="#000" stroke-width="1.1"/>
<line x1="656.60" y1="79.99" x2="656.60" y2="73.15" stroke="#000" stroke-width="1.1"/>
<line x1="651.60" y1="79.99" x2="661.60" y2="79.99" stroke="#000" stroke-width="1.1"/>
<line x1="651.60" y1="73.15" x2="661.60" y2="73.15" stroke="#000" stroke-width="1.1"/>
<text x="529.60" y="182.20" font-size="11" textLength="23.70" lengthAdjust="spacingAndGlyphs">TGF-</text>
<text x="553.60" y="182.20" font-size="11" style="font-family:'Liberation Serif',serif">β:</text>
<text x="576.80" y="183.80" font-size="15" text-anchor="middle" font-weight="bold">-</text>
<text x="603.30" y="183.20" font-size="12.8" text-anchor="middle" font-weight="bold">+</text>
<text x="629.80" y="183.80" font-size="15" text-anchor="middle" font-weight="bold">-</text>
<text x="656.60" y="183.20" font-size="12.8" text-anchor="middle" font-weight="bold">+</text>
<line x1="570.00" y1="187.20" x2="613.50" y2="187.20" stroke="#000" stroke-width="1.1"/>
<line x1="623.00" y1="187.20" x2="666.00" y2="187.20" stroke="#000" stroke-width="1.1"/>
<text x="591.80" y="200.80" font-size="12.8" text-anchor="middle">SS</text>
<text x="644.50" y="200.80" font-size="12.8" text-anchor="middle">TM</text>
<path d="M575.00 101.50V95.00H604.30V101.50" fill="none" stroke="#262626" stroke-width="0.95"/>
<text x="589.65" y="97.40" font-size="11" text-anchor="middle">*</text>
<path d="M628.40 65.40V59.40H657.80V65.40" fill="none" stroke="#262626" stroke-width="0.95"/>
<text x="643.10" y="57.20" font-size="10.5" text-anchor="middle">ns</text>
<text x="11.00" y="243.80" font-size="22">c</text>
<text x="58.40" y="245.80" font-size="12.8" textLength="119.70" lengthAdjust="spacingAndGlyphs">Chromatin relaxation</text>
<text x="87.80" y="266.60" font-size="12.7" text-anchor="middle">Control</text>
<text x="154.00" y="266.60" font-size="12.7" text-anchor="middle">TSA</text>
<text x="55.60" y="304.50" font-size="12.6" text-anchor="middle" transform="rotate(-90 55.60 304.50)" textLength="55.00" lengthAdjust="spacingAndGlyphs">Lamin-SS</text>
<text x="55.60" y="378.70" font-size="12.6" text-anchor="middle" transform="rotate(-90 55.60 378.70)" textLength="55.80" lengthAdjust="spacingAndGlyphs">Lamin-TM</text>
<text x="7.50" y="292.70" font-size="11.6" textLength="35.90" lengthAdjust="spacingAndGlyphs">sFRET</text>
<text x="24.70" y="303.10" font-size="11.6" text-anchor="middle" textLength="21.40" lengthAdjust="spacingAndGlyphs">0.50</text>
<text x="24.60" y="400.00" font-size="11.6" text-anchor="middle">0</text>
<rect x="20.20" y="306.00" width="9.80" height="82.70" fill="url(#fire)"/>
<line x1="18.00" y1="324.40" x2="20.20" y2="324.40" stroke="#8a8a8a" stroke-width="0.7"/>
<line x1="18.00" y1="345.80" x2="20.20" y2="345.80" stroke="#8a8a8a" stroke-width="0.7"/>
<line x1="18.00" y1="369.60" x2="20.20" y2="369.60" stroke="#8a8a8a" stroke-width="0.7"/>
<rect x="57.50" y="272.50" width="62.50" height="62.10" fill="#000"/>
<g clip-path="url(#cc1)"><g filter="url(#b05)"><ellipse cx="66.4" cy="281.4" rx="4.3" ry="5.2" fill="url(#sso)"/><ellipse cx="82.6" cy="280.4" rx="4.8" ry="4.8" fill="url(#sso)"/><ellipse cx="103.0" cy="297.6" rx="4.8" ry="5.2" fill="url(#sso)"/><ellipse cx="99.0" cy="316.4" rx="5.2" ry="4.8" fill="url(#sso)"/><ellipse cx="113.0" cy="320.0" rx="4.8" ry="5.2" fill="url(#sso)"/><ellipse cx="81.0" cy="328.4" rx="5.7" ry="4.8" fill="url(#sso)"/><ellipse cx="60.0" cy="334.0" rx="2.8" ry="0.9" fill="url(#sso)"/></g></g>
<rect x="105.00" y="328.00" width="12.60" height="2.60" fill="#fff"/>
<rect x="123.00" y="272.50" width="62.40" height="62.10" fill="#000"/>
<g clip-path="url(#cc2)"><g filter="url(#b05)"><ellipse cx="148.4" cy="291.0" rx="5.1" ry="6.0" fill="url(#sst)" transform="rotate(20 148.4 291.0)"/><ellipse cx="129.4" cy="307.4" rx="4.1" ry="4.1" fill="url(#sst)"/><ellipse cx="173.4" cy="302.4" rx="4.1" ry="5.1" fill="url(#sst)" transform="rotate(-15 173.4 302.4)"/><ellipse cx="177.0" cy="318.0" rx="4.1" ry="4.6" fill="url(#sst)"/><ellipse cx="163.0" cy="318.6" rx="6.0" ry="4.1" fill="url(#sso)"/><ellipse cx="162.0" cy="328.6" rx="5.5" ry="4.1" fill="url(#sso)"/><ellipse cx="165.0" cy="273.6" rx="3.7" ry="1.8" fill="url(#sst)"/></g></g>
<rect x="57.50" y="347.00" width="62.50" height="62.40" fill="#000"/>
<g clip-path="url(#cc3)"><g filter="url(#b05)"><ellipse cx="68.6" cy="354.4" rx="5.5" ry="5.5" fill="url(#tmo)" transform="rotate(30 68.6 354.4)" stroke="#f08a18" stroke-width="0.55"/><ellipse cx="72.4" cy="378.0" rx="5.0" ry="9.0" fill="url(#tmo)" stroke="#f08a18" stroke-width="0.55"/><ellipse cx="100.6" cy="381.0" rx="4.5" ry="5.5" fill="url(#tmo)" stroke="#f08a18" stroke-width="0.55"/><ellipse cx="108.0" cy="400.0" rx="4.5" ry="5.0" fill="url(#tmo)" stroke="#f08a18" stroke-width="0.55"/></g></g>
<rect x="105.00" y="403.40" width="12.60" height="2.60" fill="#fff"/>
<rect x="123.00" y="347.00" width="62.40" height="62.40" fill="#000"/>
<g clip-path="url(#cc4)"><g filter="url(#b05)"><ellipse cx="145.6" cy="373.6" rx="5.0" ry="6.5" fill="url(#tmo)" transform="rotate(-15 145.6 373.6)" stroke="#f08a18" stroke-width="0.55"/><ellipse cx="154.0" cy="367.0" rx="4.5" ry="5.5" fill="url(#tmd)" stroke="#f0a030" stroke-width="0.55"/><ellipse cx="156.6" cy="395.6" rx="4.5" ry="6.0" fill="url(#tmd)" stroke="#f0a030" stroke-width="0.55"/></g></g>
<line x1="227.80" y1="271.10" x2="227.80" y2="388.00" stroke="#000" stroke-width="1.4"/>
<line x1="227.10" y1="387.30" x2="339.00" y2="387.30" stroke="#000" stroke-width="1.4"/>
<line x1="222.20" y1="387.30" x2="227.80" y2="387.30" stroke="#000" stroke-width="1.25"/>
<text x="219.60" y="391.12" font-size="10.6" text-anchor="end">0.0</text>
<line x1="222.20" y1="364.18" x2="227.80" y2="364.18" stroke="#000" stroke-width="1.25"/>
<text x="219.60" y="368.00" font-size="10.6" text-anchor="end">0.1</text>
<line x1="222.20" y1="341.06" x2="227.80" y2="341.06" stroke="#000" stroke-width="1.25"/>
<text x="219.60" y="344.88" font-size="10.6" text-anchor="end">0.2</text>
<line x1="222.20" y1="317.94" x2="227.80" y2="317.94" stroke="#000" stroke-width="1.25"/>
<text x="219.60" y="321.76" font-size="10.6" text-anchor="end">0.3</text>
<line x1="222.20" y1="294.82" x2="227.80" y2="294.82" stroke="#000" stroke-width="1.25"/>
<text x="219.60" y="298.64" font-size="10.6" text-anchor="end">0.4</text>
<line x1="222.20" y1="271.70" x2="227.80" y2="271.70" stroke="#000" stroke-width="1.25"/>
<text x="219.60" y="275.52" font-size="10.6" text-anchor="end">0.5</text>
<line x1="244.60" y1="387.30" x2="244.60" y2="392.90" stroke="#000" stroke-width="1.25"/>
<line x1="270.70" y1="387.30" x2="270.70" y2="392.90" stroke="#000" stroke-width="1.25"/>
<line x1="296.70" y1="387.30" x2="296.70" y2="392.90" stroke="#000" stroke-width="1.25"/>
<line x1="322.60" y1="387.30" x2="322.60" y2="392.90" stroke="#000" stroke-width="1.25"/>
<text x="204.30" y="329.10" font-size="15.4" text-anchor="middle" transform="rotate(-90 204.30 329.10)" textLength="48.00" lengthAdjust="spacingAndGlyphs">sFRET</text>
<g fill="#1e1e1e" fill-opacity="0.88"><circle cx="240.8" cy="348.3" r="2.35"/><circle cx="251.3" cy="348.7" r="2.35"/><circle cx="238.4" cy="350.7" r="2.35"/><circle cx="243.2" cy="350.7" r="2.35"/><circle cx="247.3" cy="351.5" r="2.35"/><circle cx="237.6" cy="353.6" r="2.35"/><circle cx="241.6" cy="353.6" r="2.35"/><circle cx="245.7" cy="353.9" r="2.35"/><circle cx="249.7" cy="353.6" r="2.35"/><circle cx="252.1" cy="354.2" r="2.35"/><circle cx="239.2" cy="356.3" r="2.35"/><circle cx="244.0" cy="356.8" r="2.35"/><circle cx="248.1" cy="356.8" r="2.35"/><circle cx="251.3" cy="356.3" r="2.35"/></g>
<line x1="236.10" y1="351.93" x2="253.10" y2="351.93" stroke="#000" stroke-width="1.1"/>
<g fill="#f63c1e" fill-opacity="0.88"><circle cx="268.6" cy="329.5" r="2.35"/><circle cx="264.6" cy="333.5" r="2.35"/><circle cx="268.9" cy="337.5" r="2.35"/><circle cx="273.4" cy="338.6" r="2.35"/><circle cx="277.4" cy="338.1" r="2.35"/><circle cx="264.9" cy="340.7" r="2.35"/><circle cx="270.5" cy="341.0" r="2.35"/><circle cx="275.4" cy="341.8" r="2.35"/><circle cx="278.6" cy="341.0" r="2.35"/><circle cx="264.1" cy="344.2" r="2.35"/><circle cx="268.1" cy="345.0" r="2.35"/><circle cx="273.0" cy="345.5" r="2.35"/><circle cx="277.8" cy="345.0" r="2.35"/><circle cx="264.1" cy="346.6" r="2.35"/></g>
<line x1="261.90" y1="340.83" x2="279.50" y2="340.83" stroke="#000" stroke-width="1.1"/>
<line x1="270.70" y1="341.98" x2="270.70" y2="339.67" stroke="#000" stroke-width="1.1"/>
<line x1="266.70" y1="341.98" x2="274.70" y2="341.98" stroke="#000" stroke-width="1.1"/>
<line x1="266.70" y1="339.67" x2="274.70" y2="339.67" stroke="#000" stroke-width="1.1"/>
<g fill="#1e1e1e" fill-opacity="0.88"><circle cx="290.6" cy="302.5" r="2.35"/><circle cx="293.8" cy="301.4" r="2.35"/><circle cx="297.0" cy="301.7" r="2.35"/><circle cx="300.3" cy="302.5" r="2.35"/><circle cx="303.5" cy="301.7" r="2.35"/><circle cx="305.1" cy="303.3" r="2.35"/><circle cx="292.2" cy="304.4" r="2.35"/><circle cx="295.4" cy="304.9" r="2.35"/><circle cx="299.4" cy="304.4" r="2.35"/><circle cx="302.7" cy="304.4" r="2.35"/><circle cx="296.2" cy="309.2" r="2.35"/></g>
<line x1="288.20" y1="304.07" x2="305.20" y2="304.07" stroke="#000" stroke-width="1.1"/>
<g fill="#f63c1e" fill-opacity="0.88"><circle cx="316.3" cy="300.1" r="2.35"/><circle cx="319.5" cy="298.9" r="2.35"/><circle cx="322.7" cy="298.0" r="2.35"/><circle cx="326.7" cy="298.0" r="2.35"/><circle cx="330.0" cy="299.3" r="2.35"/><circle cx="315.5" cy="302.5" r="2.35"/><circle cx="318.7" cy="302.2" r="2.35"/><circle cx="321.9" cy="301.7" r="2.35"/><circle cx="325.9" cy="301.7" r="2.35"/><circle cx="329.6" cy="302.5" r="2.35"/><circle cx="316.3" cy="304.9" r="2.35"/><circle cx="320.3" cy="305.4" r="2.35"/><circle cx="323.5" cy="304.9" r="2.35"/><circle cx="327.6" cy="305.4" r="2.35"/><circle cx="330.3" cy="304.4" r="2.35"/></g>
<line x1="313.80" y1="301.99" x2="331.40" y2="301.99" stroke="#000" stroke-width="1.1"/>
<text x="211.40" y="402.30" font-size="10.6" textLength="22.00" lengthAdjust="spacingAndGlyphs">TSA:</text>
<text x="244.60" y="404.20" font-size="15" text-anchor="middle" font-weight="bold">-</text>
<text x="270.70" y="403.60" font-size="12.8" text-anchor="middle" font-weight="bold">+</text>
<text x="296.70" y="404.20" font-size="15" text-anchor="middle" font-weight="bold">-</text>
<text x="322.60" y="403.60" font-size="12.8" text-anchor="middle" font-weight="bold">+</text>
<line x1="236.40" y1="407.70" x2="283.60" y2="407.70" stroke="#000" stroke-width="1.1"/>
<line x1="290.60" y1="407.70" x2="338.00" y2="407.70" stroke="#000" stroke-width="1.1"/>
<text x="259.70" y="421.00" font-size="12.8" text-anchor="middle">SS</text>
<text x="314.60" y="421.00" font-size="12.8" text-anchor="middle">TM</text>
<path d="M241.50 301.00V295.50H270.30V301.00" fill="none" stroke="#262626" stroke-width="0.95"/>
<text x="255.90" y="299.00" font-size="12" text-anchor="middle">****</text>
<path d="M296.40 292.50V286.20H322.80V292.50" fill="none" stroke="#262626" stroke-width="0.95"/>
<text x="309.60" y="284.30" font-size="10.5" text-anchor="middle">ns</text>
<text x="343.80" y="247.80" font-size="22">d</text>
<text x="393.00" y="246.00" font-size="12.8" textLength="129.50" lengthAdjust="spacingAndGlyphs">Chromatin compaction</text>
<text x="423.40" y="267.30" font-size="12.7" text-anchor="middle">Control</text>
<text x="488.80" y="267.30" font-size="12.7" text-anchor="middle" textLength="58.30" lengthAdjust="spacingAndGlyphs">Methylstat</text>
<text x="389.50" y="304.30" font-size="12.6" text-anchor="middle" transform="rotate(-90 389.50 304.30)" textLength="55.00" lengthAdjust="spacingAndGlyphs">Lamin-SS</text>
<text x="389.50" y="377.20" font-size="12.6" text-anchor="middle" transform="rotate(-90 389.50 377.20)" textLength="56.20" lengthAdjust="spacingAndGlyphs">Lamin-TM</text>
<text x="341.50" y="291.70" font-size="11.6" textLength="35.40" lengthAdjust="spacingAndGlyphs">sFRET</text>
<text x="359.20" y="303.30" font-size="11.6" text-anchor="middle" textLength="21.80" lengthAdjust="spacingAndGlyphs">0.50</text>
<text x="359.10" y="400.60" font-size="11.6" text-anchor="middle">0</text>
<rect x="355.20" y="306.20" width="9.90" height="82.40" fill="url(#fire)"/>
<line x1="353.00" y1="324.30" x2="355.20" y2="324.30" stroke="#8a8a8a" stroke-width="0.7"/>
<line x1="353.00" y1="345.50" x2="355.20" y2="345.50" stroke="#8a8a8a" stroke-width="0.7"/>
<line x1="353.00" y1="368.80" x2="355.20" y2="368.80" stroke="#8a8a8a" stroke-width="0.7"/>
<rect x="391.60" y="273.00" width="62.40" height="61.70" fill="#000"/>
<g clip-path="url(#cd1)"><g filter="url(#b05)"><ellipse cx="406.0" cy="289.4" rx="4.5" ry="4.0" fill="url(#ssq)"/><ellipse cx="415.0" cy="280.0" rx="3.5" ry="6.0" fill="url(#ssq)"/><ellipse cx="423.0" cy="285.0" rx="4.5" ry="4.5" fill="url(#ssd)"/><ellipse cx="432.0" cy="285.0" rx="4.5" ry="3.5" fill="url(#ssq)"/><ellipse cx="439.6" cy="282.0" rx="3.5" ry="4.5" fill="url(#ssq)"/><ellipse cx="448.0" cy="283.0" rx="4.5" ry="4.0" fill="url(#ssd)"/><ellipse cx="419.6" cy="298.4" rx="5.5" ry="4.5" fill="url(#ssq)"/><ellipse cx="431.0" cy="296.0" rx="3.5" ry="5.0" fill="url(#ssq)"/><ellipse cx="444.4" cy="303.6" rx="4.5" ry="5.5" fill="url(#ssq)"/><ellipse cx="409.0" cy="304.4" rx="5.0" ry="4.0" fill="url(#ssq)"/><ellipse cx="408.0" cy="312.0" rx="4.5" ry="3.5" fill="url(#ssd)"/><ellipse cx="420.0" cy="317.0" rx="5.0" ry="3.5" fill="url(#ssd)"/><ellipse cx="438.0" cy="317.4" rx="8.0" ry="5.0" fill="url(#ssq)"/><ellipse cx="401.0" cy="326.0" rx="6.0" ry="5.0" fill="url(#ssq)"/><ellipse cx="415.0" cy="327.0" rx="5.0" ry="4.0" fill="url(#ssd)"/><ellipse cx="453.0" cy="296.0" rx="1.5" ry="4.0" fill="url(#ssq)"/><ellipse cx="394.0" cy="325.0" rx="2.5" ry="3.0" fill="url(#ssq)"/></g></g>
<rect x="439.40" y="328.80" width="12.60" height="2.50" fill="#fff"/>
<rect x="457.50" y="273.00" width="62.50" height="61.70" fill="#000"/>
<g clip-path="url(#cd2)"><g filter="url(#b05)"><ellipse cx="462.4" cy="280.0" rx="4.5" ry="5.0" fill="url(#ssp)"/><ellipse cx="468.0" cy="284.0" rx="3.5" ry="3.5" fill="url(#ssp)"/><ellipse cx="482.0" cy="284.0" rx="5.5" ry="4.5" fill="url(#ssp)"/><ellipse cx="508.0" cy="287.0" rx="5.0" ry="5.0" fill="url(#ssp)"/><ellipse cx="517.0" cy="276.4" rx="3.0" ry="4.0" fill="url(#ssp)"/><ellipse cx="469.0" cy="295.0" rx="4.0" ry="3.5" fill="url(#ssd)"/><ellipse cx="480.4" cy="297.0" rx="5.0" ry="3.5" fill="url(#ssd)"/><ellipse cx="494.0" cy="298.0" rx="4.5" ry="4.0" fill="url(#ssp)"/><ellipse cx="503.6" cy="302.0" rx="4.5" ry="5.0" fill="url(#ssp)"/><ellipse cx="512.4" cy="308.0" rx="5.0" ry="4.5" fill="url(#ssp)"/><ellipse cx="469.0" cy="305.6" rx="5.0" ry="4.0" fill="url(#ssp)"/><ellipse cx="488.0" cy="307.0" rx="5.0" ry="4.0" fill="url(#ssp)"/><ellipse cx="464.0" cy="311.0" rx="4.0" ry="4.0" fill="url(#ssp)"/><ellipse cx="476.0" cy="310.0" rx="4.5" ry="4.0" fill="url(#ssp)"/><ellipse cx="486.0" cy="315.0" rx="5.5" ry="4.0" fill="url(#ssp)"/><ellipse cx="501.0" cy="313.0" rx="5.5" ry="4.5" fill="url(#ssp)"/><ellipse cx="463.0" cy="321.6" rx="5.0" ry="4.5" fill="url(#ssp)"/><ellipse cx="474.0" cy="319.0" rx="4.0" ry="4.0" fill="url(#ssp)"/><ellipse cx="500.0" cy="321.0" rx="5.0" ry="3.5" fill="url(#ssd)"/><ellipse cx="509.0" cy="325.0" rx="4.0" ry="4.0" fill="url(#ssd)"/><ellipse cx="479.0" cy="329.0" rx="5.0" ry="4.0" fill="url(#ssp)"/><ellipse cx="495.0" cy="329.4" rx="4.0" ry="4.5" fill="url(#ssp)"/><ellipse cx="461.0" cy="307.0" rx="2.5" ry="2.5" fill="url(#ssp)"/></g></g>
<rect x="391.60" y="347.60" width="62.40" height="62.00" fill="#000"/>
<g clip-path="url(#cd3)"><g filter="url(#b05)"><ellipse cx="421.0" cy="350.0" rx="5.7" ry="2.8" fill="url(#tms)" stroke="#f09a20" stroke-width="0.55"/><ellipse cx="393.6" cy="359.0" rx="3.8" ry="6.2" fill="url(#tms)" stroke="#f09a20" stroke-width="0.55"/><ellipse cx="407.0" cy="363.6" rx="4.8" ry="6.6" fill="url(#tms)" stroke="#f09a20" stroke-width="0.55"/><ellipse cx="418.0" cy="368.0" rx="5.2" ry="4.8" fill="url(#tms)" stroke="#f09a20" stroke-width="0.55"/><ellipse cx="441.6" cy="359.0" rx="4.8" ry="5.7" fill="url(#tms)" stroke="#f09a20" stroke-width="0.55"/><ellipse cx="451.6" cy="354.0" rx="2.8" ry="4.8" fill="url(#tmd)" stroke="#f0a030" stroke-width="0.55"/><ellipse cx="436.0" cy="370.0" rx="4.8" ry="6.2" fill="url(#tms)" stroke="#f09a20" stroke-width="0.55"/><ellipse cx="450.4" cy="377.0" rx="4.3" ry="5.2" fill="url(#tms)" stroke="#f09a20" stroke-width="0.55"/><ellipse cx="395.0" cy="371.0" rx="3.3" ry="4.8" fill="url(#tmd)" stroke="#f0a030" stroke-width="0.55"/><ellipse cx="408.0" cy="383.0" rx="4.3" ry="4.8" fill="url(#tmd)" stroke="#f0a030" stroke-width="0.55"/><ellipse cx="407.0" cy="396.0" rx="4.8" ry="4.3" fill="url(#tms)" stroke="#f09a20" stroke-width="0.55"/><ellipse cx="423.0" cy="396.0" rx="5.2" ry="7.6" fill="url(#tms)" stroke="#f09a20" stroke-width="0.55"/><ellipse cx="445.0" cy="392.4" rx="4.3" ry="5.7" fill="url(#tms)" stroke="#f09a20" stroke-width="0.55"/><ellipse cx="439.0" cy="399.0" rx="4.3" ry="6.2" fill="url(#tms)" stroke="#f09a20" stroke-width="0.55"/><ellipse cx="394.0" cy="403.0" rx="2.8" ry="5.7" fill="url(#tms)" stroke="#f09a20" stroke-width="0.55"/><ellipse cx="403.0" cy="407.0" rx="4.3" ry="3.3" fill="url(#tms)" stroke="#f09a20" stroke-width="0.55"/><ellipse cx="446.0" cy="348.4" rx="3.3" ry="1.9" fill="url(#tms)" stroke="#f09a20" stroke-width="0.55"/></g></g>
<rect x="439.40" y="404.00" width="12.60" height="2.60" fill="#fff"/>
<rect x="457.50" y="347.60" width="62.50" height="62.00" fill="#000"/>
<g clip-path="url(#cd4)"><g filter="url(#b05)"><ellipse cx="465.6" cy="353.6" rx="4.8" ry="3.8" fill="url(#tms)" stroke="#f09a20" stroke-width="0.55"/><ellipse cx="496.0" cy="350.0" rx="4.8" ry="4.8" fill="url(#tmd)" stroke="#f0a030" stroke-width="0.55"/><ellipse cx="511.0" cy="350.0" rx="4.3" ry="5.2" fill="url(#tms)" stroke="#f09a20" stroke-width="0.55"/><ellipse cx="479.0" cy="365.0" rx="4.8" ry="5.7" fill="url(#tms)" transform="rotate(-30 479.0 365.0)" stroke="#f09a20" stroke-width="0.55"/><ellipse cx="497.4" cy="361.0" rx="4.8" ry="4.3" fill="url(#tms)" stroke="#f09a20" stroke-width="0.55"/><ellipse cx="512.4" cy="365.0" rx="4.8" ry="4.8" fill="url(#tms)" stroke="#f09a20" stroke-width="0.55"/><ellipse cx="474.0" cy="372.0" rx="4.3" ry="4.3" fill="url(#tmd)" stroke="#f0a030" stroke-width="0.55"/><ellipse cx="469.0" cy="382.4" rx="5.2" ry="6.2" fill="url(#tms)" stroke="#f09a20" stroke-width="0.55"/><ellipse cx="497.0" cy="389.0" rx="4.3" ry="6.2" fill="url(#tms)" stroke="#f09a20" stroke-width="0.55"/><ellipse cx="512.0" cy="385.4" rx="4.3" ry="5.2" fill="url(#tmd)" stroke="#f0a030" stroke-width="0.55"/><ellipse cx="486.0" cy="395.0" rx="4.3" ry="5.7" fill="url(#tms)" stroke="#f09a20" stroke-width="0.55"/><ellipse cx="471.4" cy="403.4" rx="5.2" ry="5.2" fill="url(#tms)" stroke="#f09a20" stroke-width="0.55"/><ellipse cx="508.0" cy="403.0" rx="3.8" ry="3.3" fill="url(#tmd)" stroke="#f0a030" stroke-width="0.55"/></g></g>
<line x1="558.40" y1="271.10" x2="558.40" y2="388.00" stroke="#000" stroke-width="1.4"/>
<line x1="557.70" y1="387.30" x2="673.70" y2="387.30" stroke="#000" stroke-width="1.4"/>
<line x1="552.70" y1="387.30" x2="558.40" y2="387.30" stroke="#000" stroke-width="1.25"/>
<text x="549.60" y="391.12" font-size="10.6" text-anchor="end">0.0</text>
<line x1="552.70" y1="364.18" x2="558.40" y2="364.18" stroke="#000" stroke-width="1.25"/>
<text x="549.60" y="368.00" font-size="10.6" text-anchor="end">0.1</text>
<line x1="552.70" y1="341.06" x2="558.40" y2="341.06" stroke="#000" stroke-width="1.25"/>
<text x="549.60" y="344.88" font-size="10.6" text-anchor="end">0.2</text>
<line x1="552.70" y1="317.94" x2="558.40" y2="317.94" stroke="#000" stroke-width="1.25"/>
<text x="549.60" y="321.76" font-size="10.6" text-anchor="end">0.3</text>
<line x1="552.70" y1="294.82" x2="558.40" y2="294.82" stroke="#000" stroke-width="1.25"/>
<text x="549.60" y="298.64" font-size="10.6" text-anchor="end">0.4</text>
<line x1="552.70" y1="271.70" x2="558.40" y2="271.70" stroke="#000" stroke-width="1.25"/>
<text x="549.60" y="275.52" font-size="10.6" text-anchor="end">0.5</text>
<line x1="575.60" y1="387.30" x2="575.60" y2="393.00" stroke="#000" stroke-width="1.25"/>
<line x1="602.40" y1="387.30" x2="602.40" y2="393.00" stroke="#000" stroke-width="1.25"/>
<line x1="629.00" y1="387.30" x2="629.00" y2="393.00" stroke="#000" stroke-width="1.25"/>
<line x1="655.60" y1="387.30" x2="655.60" y2="393.00" stroke="#000" stroke-width="1.25"/>
<text x="534.30" y="329.10" font-size="15.4" text-anchor="middle" transform="rotate(-90 534.30 329.10)" textLength="48.00" lengthAdjust="spacingAndGlyphs">sFRET</text>
<g fill="#2e2e2e" fill-opacity="0.88"><circle cx="576.0" cy="330.1" r="2.35"/><circle cx="578.1" cy="342.6" r="2.35"/><circle cx="569.2" cy="348.3" r="2.35"/><circle cx="572.4" cy="346.6" r="2.35"/><circle cx="575.7" cy="345.8" r="2.35"/><circle cx="578.9" cy="346.2" r="2.35"/><circle cx="582.1" cy="347.1" r="2.35"/><circle cx="569.2" cy="350.7" r="2.35"/><circle cx="573.2" cy="350.3" r="2.35"/><circle cx="577.3" cy="350.7" r="2.35"/><circle cx="581.3" cy="349.9" r="2.35"/><circle cx="574.8" cy="353.1" r="2.35"/><circle cx="577.3" cy="357.1" r="2.35"/><circle cx="574.8" cy="360.0" r="2.35"/></g>
<line x1="566.80" y1="348.46" x2="584.40" y2="348.46" stroke="#000" stroke-width="1.1"/>
<line x1="575.60" y1="349.38" x2="575.60" y2="347.53" stroke="#000" stroke-width="1.1"/>
<line x1="572.60" y1="349.38" x2="578.60" y2="349.38" stroke="#000" stroke-width="1.1"/>
<line x1="572.60" y1="347.53" x2="578.60" y2="347.53" stroke="#000" stroke-width="1.1"/>
<g fill="#f63c1e" fill-opacity="0.88"><circle cx="596.5" cy="350.7" r="2.35"/><circle cx="599.3" cy="350.7" r="2.35"/><circle cx="602.1" cy="350.7" r="2.35"/><circle cx="605.0" cy="350.7" r="2.35"/><circle cx="607.8" cy="350.7" r="2.35"/><circle cx="610.2" cy="350.7" r="2.35"/><circle cx="595.7" cy="353.1" r="2.35"/><circle cx="598.6" cy="353.1" r="2.35"/><circle cx="601.3" cy="353.1" r="2.35"/><circle cx="604.1" cy="353.1" r="2.35"/><circle cx="607.0" cy="353.1" r="2.35"/><circle cx="602.1" cy="357.1" r="2.35"/><circle cx="603.0" cy="360.3" r="2.35"/><circle cx="604.1" cy="363.5" r="2.35"/><circle cx="601.3" cy="365.1" r="2.35"/></g>
<line x1="593.60" y1="354.70" x2="611.20" y2="354.70" stroke="#000" stroke-width="1.1"/>
<g fill="#1e1e1e" fill-opacity="0.88"><circle cx="629.1" cy="343.0" r="2.35"/><circle cx="623.0" cy="289.3" r="2.35"/><circle cx="625.4" cy="288.0" r="2.35"/><circle cx="628.2" cy="287.7" r="2.35"/><circle cx="631.1" cy="288.0" r="2.35"/><circle cx="633.9" cy="288.4" r="2.35"/><circle cx="636.2" cy="289.6" r="2.35"/><circle cx="623.8" cy="290.9" r="2.35"/><circle cx="627.0" cy="290.6" r="2.35"/><circle cx="630.3" cy="290.6" r="2.35"/><circle cx="633.5" cy="290.9" r="2.35"/></g>
<line x1="620.20" y1="294.36" x2="637.80" y2="294.36" stroke="#000" stroke-width="1.1"/>
<line x1="629.00" y1="299.68" x2="629.00" y2="289.04" stroke="#000" stroke-width="1.1"/>
<line x1="624.20" y1="299.68" x2="633.80" y2="299.68" stroke="#000" stroke-width="1.1"/>
<line x1="624.20" y1="289.04" x2="633.80" y2="289.04" stroke="#000" stroke-width="1.1"/>
<g fill="#f63c1e" fill-opacity="0.88"><circle cx="649.5" cy="294.5" r="2.35"/><circle cx="652.7" cy="294.1" r="2.35"/><circle cx="655.9" cy="293.7" r="2.35"/><circle cx="659.2" cy="294.5" r="2.35"/><circle cx="662.4" cy="295.3" r="2.35"/><circle cx="648.7" cy="296.9" r="2.35"/><circle cx="651.9" cy="297.3" r="2.35"/><circle cx="655.1" cy="296.9" r="2.35"/><circle cx="658.4" cy="297.3" r="2.35"/><circle cx="661.6" cy="296.9" r="2.35"/><circle cx="651.1" cy="300.1" r="2.35"/><circle cx="655.1" cy="300.6" r="2.35"/><circle cx="660.0" cy="300.9" r="2.35"/><circle cx="658.4" cy="298.9" r="2.35"/></g>
<line x1="646.80" y1="296.21" x2="664.40" y2="296.21" stroke="#000" stroke-width="1.1"/>
<text x="523.00" y="403.00" font-size="10.6" textLength="40.00" lengthAdjust="spacingAndGlyphs">Met.stat:</text>
<text x="575.60" y="404.60" font-size="15" text-anchor="middle" font-weight="bold">-</text>
<text x="602.40" y="404.00" font-size="12.8" text-anchor="middle" font-weight="bold">+</text>
<text x="629.00" y="404.60" font-size="15" text-anchor="middle" font-weight="bold">-</text>
<text x="655.60" y="404.00" font-size="12.8" text-anchor="middle" font-weight="bold">+</text>
<line x1="565.80" y1="407.80" x2="613.50" y2="407.80" stroke="#000" stroke-width="1.1"/>
<line x1="620.70" y1="407.80" x2="668.00" y2="407.80" stroke="#000" stroke-width="1.1"/>
<text x="589.40" y="420.50" font-size="12.8" text-anchor="middle">SS</text>
<text x="644.00" y="420.50" font-size="12.8" text-anchor="middle">TM</text>
<path d="M574.70 325.00V319.40H604.30V325.00" fill="none" stroke="#262626" stroke-width="0.95"/>
<text x="589.50" y="317.30" font-size="10.5" text-anchor="middle">ns</text>
<path d="M629.60 282.50V276.50H656.40V282.50" fill="none" stroke="#262626" stroke-width="0.95"/>
<text x="643.00" y="274.60" font-size="10.5" text-anchor="middle">ns</text>
<text x="8.20" y="456.50" font-size="22">e</text>
<text x="63.90" y="445.50" font-size="12.8" textLength="96.00" lengthAdjust="spacingAndGlyphs">Lamin A/C dimer</text>
<line x1="38.30" y1="449.30" x2="184.30" y2="449.30" stroke="#777" stroke-width="0.9"/>
<text x="129.30" y="465.60" font-size="11" text-anchor="middle" textLength="55.50" lengthAdjust="spacingAndGlyphs">rod-domain</text>
<text x="129.60" y="474.80" font-size="11" text-anchor="middle">epitope</text>
<rect x="111.30" y="480.40" width="34.80" height="16.80" fill="url(#blu)"/>
<text x="186.90" y="468.50" font-size="11" textLength="52.00" lengthAdjust="spacingAndGlyphs">Accessible</text>
<text x="186.90" y="479.60" font-size="11" textLength="50.00" lengthAdjust="spacingAndGlyphs">C-terminal</text>
<text x="186.90" y="491.00" font-size="11">epitope</text>
<path d="M51.0 499.70L51.9 500.01L52.8 500.32L53.8 500.62L54.7 500.90L55.6 501.16L56.5 501.40L57.4 501.60L58.3 501.78L59.2 501.92L60.2 502.02L61.1 502.08L62.0 502.10L62.9 502.08L63.8 502.02L64.8 501.92L65.7 501.78L66.6 501.60L67.5 501.40L68.4 501.16L69.3 500.90L70.2 500.62L71.2 500.32L72.1 500.01L73.0 499.70L73.0 499.70L74.5 499.39L76.1 499.08L77.6 498.78L79.2 498.50L80.7 498.24L82.2 498.00L83.8 497.80L85.3 497.62L86.9 497.48L88.4 497.38L90.0 497.32L91.5 497.30L93.0 497.32L94.6 497.38L96.1 497.48L97.7 497.62L99.2 497.80L100.8 498.00L102.3 498.24L103.8 498.50L105.4 498.78L106.9 499.08L108.5 499.39L110.0 499.70L110.0 499.70L111.5 500.01L113.1 500.32L114.6 500.62L116.2 500.90L117.7 501.16L119.2 501.40L120.8 501.60L122.3 501.78L123.9 501.92L125.4 502.02L127.0 502.08L128.5 502.10L130.0 502.08L131.6 502.02L133.1 501.92L134.7 501.78L136.2 501.60L137.8 501.40L139.3 501.16L140.8 500.90L142.4 500.62L143.9 500.32L145.5 500.01L147.0 499.70L147.0 499.70L148.7 499.39L150.4 499.08L152.1 498.78L153.8 498.50L155.4 498.24L157.1 498.00L158.8 497.80L160.5 497.62L162.2 497.48L163.9 497.38L165.6 497.32L167.2 497.30L168.9 497.32L170.6 497.38L172.3 497.48L174.0 497.62L175.7 497.80L177.4 498.00L179.1 498.24L180.8 498.50L182.4 498.78L184.1 499.08L185.8 499.39L187.5 499.70M51.0 499.70L51.9 499.39L52.8 499.08L53.8 498.78L54.7 498.50L55.6 498.24L56.5 498.00L57.4 497.80L58.3 497.62L59.2 497.48L60.2 497.38L61.1 497.32L62.0 497.30L62.9 497.32L63.8 497.38L64.8 497.48L65.7 497.62L66.6 497.80L67.5 498.00L68.4 498.24L69.3 498.50L70.2 498.78L71.2 499.08L72.1 499.39L73.0 499.70L73.0 499.70L74.5 500.01L76.1 500.32L77.6 500.62L79.2 500.90L80.7 501.16L82.2 501.40L83.8 501.60L85.3 501.78L86.9 501.92L88.4 502.02L90.0 502.08L91.5 502.10L93.0 502.08L94.6 502.02L96.1 501.92L97.7 501.78L99.2 501.60L100.8 501.40L102.3 501.16L103.8 500.90L105.4 500.62L106.9 500.32L108.5 500.01L110.0 499.70L110.0 499.70L111.5 499.39L113.1 499.08L114.6 498.78L116.2 498.50L117.7 498.24L119.2 498.00L120.8 497.80L122.3 497.62L123.9 497.48L125.4 497.38L127.0 497.32L128.5 497.30L130.0 497.32L131.6 497.38L133.1 497.48L134.7 497.62L136.2 497.80L137.8 498.00L139.3 498.24L140.8 498.50L142.4 498.78L143.9 499.08L145.5 499.39L147.0 499.70L147.0 499.70L148.7 500.01L150.4 500.32L152.1 500.62L153.8 500.90L155.4 501.16L157.1 501.40L158.8 501.60L160.5 501.78L162.2 501.92L163.9 502.02L165.6 502.08L167.2 502.10L168.9 502.08L170.6 502.02L172.3 501.92L174.0 501.78L175.7 501.60L177.4 501.40L179.1 501.16L180.8 500.90L182.4 500.62L184.1 500.32L185.8 500.01L187.5 499.70" fill="none" stroke="#1c1c1c" stroke-width="1.3"/>
<path d="M51.0 499.70L51.9 499.84L52.8 499.98L53.8 500.12L54.7 500.25L55.6 500.37L56.5 500.48L57.4 500.57L58.3 500.65L59.2 500.72L60.2 500.76L61.1 500.79L62.0 500.80L62.9 500.79L63.8 500.76L64.8 500.72L65.7 500.65L66.6 500.57L67.5 500.48L68.4 500.37L69.3 500.25L70.2 500.12L71.2 499.98L72.1 499.84L73.0 499.70L73.0 499.70L74.5 499.56L76.1 499.42L77.6 499.28L79.2 499.15L80.7 499.03L82.2 498.92L83.8 498.83L85.3 498.75L86.9 498.68L88.4 498.64L90.0 498.61L91.5 498.60L93.0 498.61L94.6 498.64L96.1 498.68L97.7 498.75L99.2 498.83L100.8 498.92L102.3 499.03L103.8 499.15L105.4 499.28L106.9 499.42L108.5 499.56L110.0 499.70L110.0 499.70L111.5 499.84L113.1 499.98L114.6 500.12L116.2 500.25L117.7 500.37L119.2 500.48L120.8 500.57L122.3 500.65L123.9 500.72L125.4 500.76L127.0 500.79L128.5 500.80L130.0 500.79L131.6 500.76L133.1 500.72L134.7 500.65L136.2 500.57L137.8 500.48L139.3 500.37L140.8 500.25L142.4 500.12L143.9 499.98L145.5 499.84L147.0 499.70L147.0 499.70L148.7 499.56L150.4 499.42L152.1 499.28L153.8 499.15L155.4 499.03L157.1 498.92L158.8 498.83L160.5 498.75L162.2 498.68L163.9 498.64L165.6 498.61L167.2 498.60L168.9 498.61L170.6 498.64L172.3 498.68L174.0 498.75L175.7 498.83L177.4 498.92L179.1 499.03L180.8 499.15L182.4 499.28L184.1 499.42L185.8 499.56L187.5 499.70M51.0 499.70L51.9 499.56L52.8 499.42L53.8 499.28L54.7 499.15L55.6 499.03L56.5 498.92L57.4 498.83L58.3 498.75L59.2 498.68L60.2 498.64L61.1 498.61L62.0 498.60L62.9 498.61L63.8 498.64L64.8 498.68L65.7 498.75L66.6 498.83L67.5 498.92L68.4 499.03L69.3 499.15L70.2 499.28L71.2 499.42L72.1 499.56L73.0 499.70L73.0 499.70L74.5 499.84L76.1 499.98L77.6 500.12L79.2 500.25L80.7 500.37L82.2 500.48L83.8 500.57L85.3 500.65L86.9 500.72L88.4 500.76L90.0 500.79L91.5 500.80L93.0 500.79L94.6 500.76L96.1 500.72L97.7 500.65L99.2 500.57L100.8 500.48L102.3 500.37L103.8 500.25L105.4 500.12L106.9 499.98L108.5 499.84L110.0 499.70L110.0 499.70L111.5 499.56L113.1 499.42L114.6 499.28L116.2 499.15L117.7 499.03L119.2 498.92L120.8 498.83L122.3 498.75L123.9 498.68L125.4 498.64L127.0 498.61L128.5 498.60L130.0 498.61L131.6 498.64L133.1 498.68L134.7 498.75L136.2 498.83L137.8 498.92L139.3 499.03L140.8 499.15L142.4 499.28L143.9 499.42L145.5 499.56L147.0 499.70L147.0 499.70L148.7 499.84L150.4 499.98L152.1 500.12L153.8 500.25L155.4 500.37L157.1 500.48L158.8 500.57L160.5 500.65L162.2 500.72L163.9 500.76L165.6 500.79L167.2 500.80L168.9 500.79L170.6 500.76L172.3 500.72L174.0 500.65L175.7 500.57L177.4 500.48L179.1 500.37L180.8 500.25L182.4 500.12L184.1 499.98L185.8 499.84L187.5 499.70" fill="none" stroke="#333" stroke-width="1.0"/>
<path d="M51.5 499.7L44 494.2M51.5 499.7L44 505.8" fill="none" stroke="#333" stroke-width="0.9"/>
<circle cx="42.8" cy="493.3" r="1.5" fill="#fff" stroke="#333" stroke-width="0.8"/>
<circle cx="42.8" cy="506.7" r="1.5" fill="#fff" stroke="#333" stroke-width="0.8"/>
<path d="M187 499.4Q190 498.2 189.6 500.4Q189 502 187 500.4" fill="none" stroke="#333" stroke-width="0.7"/>
<path d="M159 489.2Q151.5 489 154 491.6Q156 493 175 493.3" fill="none" stroke="#333" stroke-width="0.7"/>
<path d="M159 509.7Q152.5 508 155 506.3Q158 505 175 505.3" fill="none" stroke="#333" stroke-width="0.7"/>
<path d="M176.5 484.5Q181 485.5 183 483Q183.8 481.6 182 481.8" fill="none" stroke="#333" stroke-width="0.7"/>
<path d="M176.5 514.5Q181 513.5 183 516Q183.8 517.6 182 517.4" fill="none" stroke="#333" stroke-width="0.7"/>
<path d="M173.7 481.8Q178 486.2 173.7 491.2" fill="none" stroke="#e8108c" stroke-width="3" stroke-linecap="butt"/>
<path d="M173.6 493L185.3 495.6" fill="none" stroke="#e8108c" stroke-width="2.8" stroke-linecap="round"/>
<path d="M173.7 508Q178 512.8 173.7 517.4" fill="none" stroke="#e8108c" stroke-width="3" stroke-linecap="butt"/>
<path d="M173.6 505.6L185.3 502.9" fill="none" stroke="#e8108c" stroke-width="2.8" stroke-linecap="round"/>
<rect x="158" y="480.8" width="17" height="10.6" rx="5.3" ry="4.8" fill="url(#ig)" stroke="#333" stroke-width="0.8"/>
<rect x="158" y="507.4" width="17" height="10.6" rx="5.3" ry="4.8" fill="url(#ig)" stroke="#333" stroke-width="0.8"/>
<line x1="38.30" y1="525.80" x2="48.50" y2="525.80" stroke="#777" stroke-width="0.9"/>
<line x1="51.80" y1="525.80" x2="155.00" y2="525.80" stroke="#777" stroke-width="0.9"/>
<line x1="157.70" y1="525.80" x2="177.70" y2="525.80" stroke="#777" stroke-width="0.9"/>
<text x="50.20" y="535.00" font-size="11" text-anchor="end" textLength="50.30" lengthAdjust="spacingAndGlyphs">N-terminal</text>
<text x="50.20" y="546.40" font-size="11" text-anchor="end">head</text>
<text x="50.20" y="558.00" font-size="11" text-anchor="end">domain</text>
<text x="57.70" y="535.00" font-size="11" textLength="90.80" lengthAdjust="spacingAndGlyphs">Coiled-coil domain</text>
<text x="159.00" y="535.00" font-size="11" textLength="50.00" lengthAdjust="spacingAndGlyphs">C-terminal</text>
<text x="159.00" y="546.40" font-size="11">Ig-fold</text>
<text x="31.00" y="580.80" font-size="12.8" textLength="178.00" lengthAdjust="spacingAndGlyphs">Lamin A/C head-to-tail polymer</text>
<line x1="18.00" y1="585.60" x2="243.80" y2="585.60" stroke="#777" stroke-width="0.9"/>
<text x="128.00" y="600.00" font-size="11" text-anchor="middle" textLength="54.00" lengthAdjust="spacingAndGlyphs">rod-domain</text>
<text x="127.80" y="610.00" font-size="11" text-anchor="middle">epitope</text>
<rect x="111.30" y="616.00" width="35.00" height="15.20" fill="url(#blu)"/>
<text x="168.00" y="598.40" font-size="11" textLength="74.70" lengthAdjust="spacingAndGlyphs">Non-accessible</text>
<text x="168.00" y="609.40" font-size="11" textLength="50.00" lengthAdjust="spacingAndGlyphs">C-terminal</text>
<text x="168.00" y="620.20" font-size="11">epitope</text>
<path d="M16.4 636.27L18.8 636.64L21.2 636.94L23.6 637.18L26.0 637.33L28.4 637.40L30.8 637.38L33.2 637.27L35.6 637.08L38.0 636.81L40.4 636.48L42.8 636.08L45.2 635.65L47.6 635.18L50.0 634.71L52.4 634.23L54.8 633.78L57.2 633.36L59.6 632.99L62.0 632.68L64.4 632.44L66.9 632.28L69.3 632.21L71.7 632.22L74.1 632.32L76.5 632.51L78.9 632.77L81.3 633.10L83.7 633.49L86.1 633.92L88.5 634.38L90.9 634.86L93.3 635.34L95.7 635.79L98.1 636.22L100.5 636.59L102.9 636.91L105.3 637.15L107.7 637.31L110.1 637.39L112.5 637.38L114.9 637.29L117.3 637.11L119.7 636.85L122.1 636.52L124.5 636.14L126.9 635.71L129.3 635.25L131.7 634.77L134.1 634.29L136.5 633.84L138.9 633.41L141.3 633.03L143.7 632.71L146.1 632.46L148.5 632.29L150.9 632.21L153.3 632.21L155.7 632.30L158.1 632.48L160.6 632.73L163.0 633.05L165.4 633.43L167.8 633.86L170.2 634.32L172.6 634.80L175.0 635.27L177.4 635.73L179.8 636.16L182.2 636.55L184.6 636.87L187.0 637.12L189.4 637.30L191.8 637.39L194.2 637.39L196.6 637.31L199.0 637.14L201.4 636.89L203.8 636.57L206.2 636.19L208.6 635.77M16.4 633.33L18.8 632.96L21.2 632.66L23.6 632.42L26.0 632.27L28.4 632.20L30.8 632.22L33.2 632.33L35.6 632.52L38.0 632.79L40.4 633.12L42.8 633.52L45.2 633.95L47.6 634.42L50.0 634.89L52.4 635.37L54.8 635.82L57.2 636.24L59.6 636.61L62.0 636.92L64.4 637.16L66.9 637.32L69.3 637.39L71.7 637.38L74.1 637.28L76.5 637.09L78.9 636.83L81.3 636.50L83.7 636.11L86.1 635.68L88.5 635.22L90.9 634.74L93.3 634.26L95.7 633.81L98.1 633.38L100.5 633.01L102.9 632.69L105.3 632.45L107.7 632.29L110.1 632.21L112.5 632.22L114.9 632.31L117.3 632.49L119.7 632.75L122.1 633.08L124.5 633.46L126.9 633.89L129.3 634.35L131.7 634.83L134.1 635.31L136.5 635.76L138.9 636.19L141.3 636.57L143.7 636.89L146.1 637.14L148.5 637.31L150.9 637.39L153.3 637.39L155.7 637.30L158.1 637.12L160.6 636.87L163.0 636.55L165.4 636.17L167.8 635.74L170.2 635.28L172.6 634.80L175.0 634.33L177.4 633.87L179.8 633.44L182.2 633.05L184.6 632.73L187.0 632.48L189.4 632.30L191.8 632.21L194.2 632.21L196.6 632.29L199.0 632.46L201.4 632.71L203.8 633.03L206.2 633.41L208.6 633.83" fill="none" stroke="#b4b4b4" stroke-width="0.8"/>
<path d="M16.4 637.19L18.8 637.19L21.2 637.13L23.6 637.01L26.0 636.83L28.4 636.60L30.8 636.33L33.2 636.00L35.6 635.64L38.0 635.26L40.4 634.85L42.8 634.43L45.2 634.00L47.6 633.58L50.0 633.17L52.4 632.78L54.8 632.42L57.2 632.09L59.6 631.81L62.0 631.58L64.4 631.40L66.9 631.27L69.3 631.21L71.7 631.21L74.1 631.26L76.5 631.38L78.9 631.55L81.3 631.78L83.7 632.06L86.1 632.38L88.5 632.73L90.9 633.12L93.3 633.53L95.7 633.95L98.1 634.38L100.5 634.80L102.9 635.21L105.3 635.60L107.7 635.96L110.1 636.29L112.5 636.57L114.9 636.81L117.3 636.99L119.7 637.12L122.1 637.19L124.5 637.20L126.9 637.14L129.3 637.03L131.7 636.86L134.1 636.63L136.5 636.36L138.9 636.04L141.3 635.69L143.7 635.30L146.1 634.90L148.5 634.48L150.9 634.05L153.3 633.63L155.7 633.21L158.1 632.82L160.6 632.46L163.0 632.13L165.4 631.84L167.8 631.60L170.2 631.42L172.6 631.29L175.0 631.21L177.4 631.20L179.8 631.25L182.2 631.36L184.6 631.53L187.0 631.75L189.4 632.02L191.8 632.34L194.2 632.69L196.6 633.07L199.0 633.48L201.4 633.90L203.8 634.32L206.2 634.75L208.6 635.16M16.4 631.21L18.8 631.21L21.2 631.27L23.6 631.39L26.0 631.57L28.4 631.80L30.8 632.07L33.2 632.40L35.6 632.76L38.0 633.14L40.4 633.55L42.8 633.97L45.2 634.40L47.6 634.82L50.0 635.23L52.4 635.62L54.8 635.98L57.2 636.31L59.6 636.59L62.0 636.82L64.4 637.00L66.9 637.13L69.3 637.19L71.7 637.19L74.1 637.14L76.5 637.02L78.9 636.85L81.3 636.62L83.7 636.34L86.1 636.02L88.5 635.67L90.9 635.28L93.3 634.87L95.7 634.45L98.1 634.02L100.5 633.60L102.9 633.19L105.3 632.80L107.7 632.44L110.1 632.11L112.5 631.83L114.9 631.59L117.3 631.41L119.7 631.28L122.1 631.21L124.5 631.20L126.9 631.26L129.3 631.37L131.7 631.54L134.1 631.77L136.5 632.04L138.9 632.36L141.3 632.71L143.7 633.10L146.1 633.50L148.5 633.92L150.9 634.35L153.3 634.77L155.7 635.19L158.1 635.58L160.6 635.94L163.0 636.27L165.4 636.56L167.8 636.80L170.2 636.98L172.6 637.11L175.0 637.19L177.4 637.20L179.8 637.15L182.2 637.04L184.6 636.87L187.0 636.65L189.4 636.38L191.8 636.06L194.2 635.71L196.6 635.33L199.0 634.92L201.4 634.50L203.8 634.08L206.2 633.65L208.6 633.24" fill="none" stroke="#c8c8c8" stroke-width="0.8"/>
<path d="M16.4 636.61L18.8 636.38L21.2 636.10L23.6 635.78L26.0 635.44L28.4 635.10L30.8 634.77L33.2 634.48L35.6 634.24L38.0 634.05L40.4 633.94L42.8 633.90L45.2 633.94L47.6 634.06L50.0 634.24L52.4 634.49L54.8 634.78L57.2 635.11L59.6 635.45L62.0 635.79L64.4 636.11L66.9 636.39L69.3 636.62L71.7 636.79L74.1 636.88L76.5 636.90L78.9 636.84L81.3 636.70L83.7 636.50L86.1 636.24L88.5 635.93L90.9 635.60L93.3 635.26L95.7 634.92L98.1 634.61L100.5 634.34L102.9 634.13L105.3 633.98L107.7 633.91L110.1 633.91L112.5 633.99L114.9 634.15L117.3 634.37L119.7 634.64L122.1 634.95L124.5 635.29L126.9 635.63L129.3 635.96L131.7 636.26L134.1 636.52L136.5 636.72L138.9 636.84L141.3 636.90L143.7 636.87L146.1 636.77L148.5 636.60L150.9 636.37L153.3 636.08L155.7 635.76L158.1 635.42L160.6 635.08L163.0 634.76L165.4 634.47L167.8 634.22L170.2 634.04L172.6 633.93L175.0 633.90L177.4 633.94L179.8 634.07L182.2 634.26L184.6 634.51L187.0 634.80L189.4 635.13L191.8 635.47L194.2 635.81L196.6 636.12L199.0 636.40L201.4 636.63L203.8 636.79L206.2 636.88L208.6 636.90M16.4 634.19L18.8 634.42L21.2 634.70L23.6 635.02L26.0 635.36L28.4 635.70L30.8 636.03L33.2 636.32L35.6 636.56L38.0 636.75L40.4 636.86L42.8 636.90L45.2 636.86L47.6 636.74L50.0 636.56L52.4 636.31L54.8 636.02L57.2 635.69L59.6 635.35L62.0 635.01L64.4 634.69L66.9 634.41L69.3 634.18L71.7 634.01L74.1 633.92L76.5 633.90L78.9 633.96L81.3 634.10L83.7 634.30L86.1 634.56L88.5 634.87L90.9 635.20L93.3 635.54L95.7 635.88L98.1 636.19L100.5 636.46L102.9 636.67L105.3 636.82L107.7 636.89L110.1 636.89L112.5 636.81L114.9 636.65L117.3 636.43L119.7 636.16L122.1 635.85L124.5 635.51L126.9 635.17L129.3 634.84L131.7 634.54L134.1 634.28L136.5 634.08L138.9 633.96L141.3 633.90L143.7 633.93L146.1 634.03L148.5 634.20L150.9 634.43L153.3 634.72L155.7 635.04L158.1 635.38L160.6 635.72L163.0 636.04L165.4 636.33L167.8 636.58L170.2 636.76L172.6 636.87L175.0 636.90L177.4 636.86L179.8 636.73L182.2 636.54L184.6 636.29L187.0 636.00L189.4 635.67L191.8 635.33L194.2 634.99L196.6 634.68L199.0 634.40L201.4 634.17L203.8 634.01L206.2 633.92L208.6 633.90" fill="none" stroke="#a4a4a4" stroke-width="0.8"/>
<path d="M47.4 634.70L48.8 635.01L50.1 635.32L51.5 635.62L52.8 635.90L54.2 636.16L55.5 636.40L56.9 636.60L58.3 636.78L59.6 636.92L61.0 637.02L62.3 637.08L63.7 637.10L65.1 637.08L66.4 637.02L67.8 636.92L69.1 636.78L70.5 636.60L71.8 636.40L73.2 636.16L74.6 635.90L75.9 635.62L77.3 635.32L78.6 635.01L80.0 634.70L80.0 634.70L81.5 634.39L83.0 634.08L84.5 633.78L86.0 633.50L87.5 633.24L89.0 633.00L90.5 632.80L92.0 632.62L93.5 632.48L95.0 632.38L96.5 632.32L98.0 632.30L99.5 632.32L101.0 632.38L102.5 632.48L104.0 632.62L105.5 632.80L107.0 633.00L108.5 633.24L110.0 633.50L111.5 633.78L113.0 634.08L114.5 634.39L116.0 634.70L116.0 634.70L117.5 635.01L119.0 635.32L120.5 635.62L122.0 635.90L123.5 636.16L125.0 636.40L126.5 636.60L128.0 636.78L129.5 636.92L131.0 637.02L132.5 637.08L134.0 637.10L135.5 637.08L137.0 637.02L138.5 636.92L140.0 636.78L141.5 636.60L143.0 636.40L144.5 636.16L146.0 635.90L147.5 635.62L149.0 635.32L150.5 635.01L152.0 634.70L152.0 634.70L153.5 634.39L155.1 634.08L156.6 633.78L158.1 633.50L159.6 633.24L161.2 633.00L162.7 632.80L164.2 632.62L165.8 632.48L167.3 632.38L168.8 632.32L170.3 632.30L171.9 632.32L173.4 632.38L174.9 632.48L176.5 632.62L178.0 632.80L179.5 633.00L181.1 633.24L182.6 633.50L184.1 633.78L185.6 634.08L187.2 634.39L188.7 634.70M47.4 634.70L48.8 634.39L50.1 634.08L51.5 633.78L52.8 633.50L54.2 633.24L55.5 633.00L56.9 632.80L58.3 632.62L59.6 632.48L61.0 632.38L62.3 632.32L63.7 632.30L65.1 632.32L66.4 632.38L67.8 632.48L69.1 632.62L70.5 632.80L71.8 633.00L73.2 633.24L74.6 633.50L75.9 633.78L77.3 634.08L78.6 634.39L80.0 634.70L80.0 634.70L81.5 635.01L83.0 635.32L84.5 635.62L86.0 635.90L87.5 636.16L89.0 636.40L90.5 636.60L92.0 636.78L93.5 636.92L95.0 637.02L96.5 637.08L98.0 637.10L99.5 637.08L101.0 637.02L102.5 636.92L104.0 636.78L105.5 636.60L107.0 636.40L108.5 636.16L110.0 635.90L111.5 635.62L113.0 635.32L114.5 635.01L116.0 634.70L116.0 634.70L117.5 634.39L119.0 634.08L120.5 633.78L122.0 633.50L123.5 633.24L125.0 633.00L126.5 632.80L128.0 632.62L129.5 632.48L131.0 632.38L132.5 632.32L134.0 632.30L135.5 632.32L137.0 632.38L138.5 632.48L140.0 632.62L141.5 632.80L143.0 633.00L144.5 633.24L146.0 633.50L147.5 633.78L149.0 634.08L150.5 634.39L152.0 634.70L152.0 634.70L153.5 635.01L155.1 635.32L156.6 635.62L158.1 635.90L159.6 636.16L161.2 636.40L162.7 636.60L164.2 636.78L165.8 636.92L167.3 637.02L168.8 637.08L170.3 637.10L171.9 637.08L173.4 637.02L174.9 636.92L176.5 636.78L178.0 636.60L179.5 636.40L181.1 636.16L182.6 635.90L184.1 635.62L185.6 635.32L187.2 635.01L188.7 634.70" fill="none" stroke="#1c1c1c" stroke-width="1.3"/>
<path d="M47.4 634.70L48.8 634.84L50.1 634.98L51.5 635.12L52.8 635.25L54.2 635.37L55.5 635.48L56.9 635.57L58.3 635.65L59.6 635.72L61.0 635.76L62.3 635.79L63.7 635.80L65.1 635.79L66.4 635.76L67.8 635.72L69.1 635.65L70.5 635.57L71.8 635.48L73.2 635.37L74.6 635.25L75.9 635.12L77.3 634.98L78.6 634.84L80.0 634.70L80.0 634.70L81.5 634.56L83.0 634.42L84.5 634.28L86.0 634.15L87.5 634.03L89.0 633.92L90.5 633.83L92.0 633.75L93.5 633.68L95.0 633.64L96.5 633.61L98.0 633.60L99.5 633.61L101.0 633.64L102.5 633.68L104.0 633.75L105.5 633.83L107.0 633.92L108.5 634.03L110.0 634.15L111.5 634.28L113.0 634.42L114.5 634.56L116.0 634.70L116.0 634.70L117.5 634.84L119.0 634.98L120.5 635.12L122.0 635.25L123.5 635.37L125.0 635.48L126.5 635.57L128.0 635.65L129.5 635.72L131.0 635.76L132.5 635.79L134.0 635.80L135.5 635.79L137.0 635.76L138.5 635.72L140.0 635.65L141.5 635.57L143.0 635.48L144.5 635.37L146.0 635.25L147.5 635.12L149.0 634.98L150.5 634.84L152.0 634.70L152.0 634.70L153.5 634.56L155.1 634.42L156.6 634.28L158.1 634.15L159.6 634.03L161.2 633.92L162.7 633.83L164.2 633.75L165.8 633.68L167.3 633.64L168.8 633.61L170.3 633.60L171.9 633.61L173.4 633.64L174.9 633.68L176.5 633.75L178.0 633.83L179.5 633.92L181.1 634.03L182.6 634.15L184.1 634.28L185.6 634.42L187.2 634.56L188.7 634.70M47.4 634.70L48.8 634.56L50.1 634.42L51.5 634.28L52.8 634.15L54.2 634.03L55.5 633.92L56.9 633.83L58.3 633.75L59.6 633.68L61.0 633.64L62.3 633.61L63.7 633.60L65.1 633.61L66.4 633.64L67.8 633.68L69.1 633.75L70.5 633.83L71.8 633.92L73.2 634.03L74.6 634.15L75.9 634.28L77.3 634.42L78.6 634.56L80.0 634.70L80.0 634.70L81.5 634.84L83.0 634.98L84.5 635.12L86.0 635.25L87.5 635.37L89.0 635.48L90.5 635.57L92.0 635.65L93.5 635.72L95.0 635.76L96.5 635.79L98.0 635.80L99.5 635.79L101.0 635.76L102.5 635.72L104.0 635.65L105.5 635.57L107.0 635.48L108.5 635.37L110.0 635.25L111.5 635.12L113.0 634.98L114.5 634.84L116.0 634.70L116.0 634.70L117.5 634.56L119.0 634.42L120.5 634.28L122.0 634.15L123.5 634.03L125.0 633.92L126.5 633.83L128.0 633.75L129.5 633.68L131.0 633.64L132.5 633.61L134.0 633.60L135.5 633.61L137.0 633.64L138.5 633.68L140.0 633.75L141.5 633.83L143.0 633.92L144.5 634.03L146.0 634.15L147.5 634.28L149.0 634.42L150.5 634.56L152.0 634.70L152.0 634.70L153.5 634.84L155.1 634.98L156.6 635.12L158.1 635.25L159.6 635.37L161.2 635.48L162.7 635.57L164.2 635.65L165.8 635.72L167.3 635.76L168.8 635.79L170.3 635.80L171.9 635.79L173.4 635.76L174.9 635.72L176.5 635.65L178.0 635.57L179.5 635.48L181.1 635.37L182.6 635.25L184.1 635.12L185.6 634.98L187.2 634.84L188.7 634.70" fill="none" stroke="#333" stroke-width="1.0"/>
<path d="M47.4 634.7L40.5 631M47.4 634.7L40.5 638.4" fill="none" stroke="#222" stroke-width="1.0"/>
<ellipse cx="39.3" cy="630.4" rx="1.8" ry="1.3" fill="#fff" stroke="#222" stroke-width="0.8"/>
<ellipse cx="39.3" cy="639" rx="1.8" ry="1.3" fill="#fff" stroke="#222" stroke-width="0.8"/>
<path d="M33 623.2Q29 623.5 30 625.5L59 630.5M34.5 646.5Q30.5 645.5 31.5 643.7L59 638.7" fill="none" stroke="#aaa" stroke-width="0.7"/>
<path d="M40 605Q42.5 602 45.5 602.3Q48.3 601.5 47 599.8Q45.8 598.8 44.8 600M42.5 664.3Q44 667 46 667.8Q48.3 668.8 47 670.3Q45.8 671.2 44.8 670" fill="none" stroke="#aaa" stroke-width="0.7"/>
<rect x="31.3" y="604.6" width="11.4" height="18.8" rx="5.5" ry="6.5" fill="url(#igl)" stroke="#a8a8a8" stroke-width="0.8" transform="rotate(8 37 614)"/>
<rect x="33.2" y="646" width="11.4" height="18.4" rx="5.5" ry="6.5" fill="url(#igl)" stroke="#a8a8a8" stroke-width="0.8" transform="rotate(-12 38.9 655.2)"/>
<path d="M155 624Q155 626 158 626.3L173.5 628.2L188.7 632.3M155.5 645Q155.5 643.2 158 642.8L173.5 640.8L188.7 636.8" fill="none" stroke="#3a3a3a" stroke-width="0.75"/>
<path d="M156.5 604Q156.5 601 158.5 599.5Q160 598 158.6 597.3M155.5 663.5Q155 667 156.5 669Q157.5 671.5 155.5 672" fill="none" stroke="#3a3a3a" stroke-width="0.75"/>
<rect x="149.1" y="605.4" width="11" height="18.8" rx="5" ry="6" fill="url(#igd)" stroke="#2a2a2a" stroke-width="0.8"/>
<rect x="149.6" y="645" width="11" height="17.4" rx="5" ry="6" fill="url(#igd)" stroke="#2a2a2a" stroke-width="0.8"/>
<g fill="#ee2aa8" opacity="0.82"><ellipse cx="154.6" cy="604.8" rx="5.2" ry="1.9"/><ellipse cx="154.8" cy="661.8" rx="5.2" ry="1.9"/><ellipse cx="178.2" cy="629.2" rx="5.2" ry="1.8" transform="rotate(10 178.2 629.2)"/><ellipse cx="178.8" cy="639.9" rx="5.2" ry="1.9" transform="rotate(-8 178.8 639.9)"/></g>
<text x="248.70" y="455.70" font-size="22">f</text>
<text x="310.30" y="467.40" font-size="12.7" text-anchor="middle" textLength="55.60" lengthAdjust="spacingAndGlyphs">Lamin-SS</text>
<text x="407.00" y="455.70" font-size="12.8" text-anchor="middle" textLength="56.00" lengthAdjust="spacingAndGlyphs">lamin A/C</text>
<text x="407.40" y="467.40" font-size="12.8" text-anchor="middle" textLength="43.30" lengthAdjust="spacingAndGlyphs">C-term.</text>
<text x="506.00" y="455.70" font-size="12.8" text-anchor="middle" textLength="56.00" lengthAdjust="spacingAndGlyphs">lamin A/C</text>
<text x="505.00" y="467.40" font-size="12.8" text-anchor="middle" textLength="66.00" lengthAdjust="spacingAndGlyphs">rod-domain</text>
<text x="256.20" y="519.40" font-size="12.7" text-anchor="middle" transform="rotate(-90 256.20 519.40)" textLength="40.90" lengthAdjust="spacingAndGlyphs">Control</text>
<text x="256.20" y="616.50" font-size="12.7" text-anchor="middle" transform="rotate(-90 256.20 616.50)">TSA</text>
<rect x="259.40" y="471.80" width="96.00" height="95.60" fill="#050505"/>
<g clip-path="url(#cf0)"><g filter="url(#b08)"><ellipse cx="272.8" cy="491.5" rx="11.1" ry="13.6" fill="#808080" transform="rotate(-12 272.8 491.5)"/><circle cx="277.8" cy="486.5" r="2.2" fill="#575757"/><circle cx="270.2" cy="485.7" r="3.0" fill="#575757"/><circle cx="272.9" cy="488.7" r="2.5" fill="#575757"/><circle cx="270.9" cy="482.6" r="2.3" fill="#575757"/><circle cx="273.4" cy="499.0" r="2.1" fill="#575757"/><ellipse cx="307.1" cy="482.5" rx="14.3" ry="10.5" fill="#757575"/><circle cx="314.2" cy="477.8" r="3.0" fill="#4f4f4f"/><circle cx="300.3" cy="484.0" r="1.8" fill="#4f4f4f"/><circle cx="315.7" cy="481.2" r="1.9" fill="#4f4f4f"/><circle cx="310.0" cy="480.4" r="1.8" fill="#4f4f4f"/><circle cx="305.9" cy="485.5" r="1.8" fill="#4f4f4f"/><ellipse cx="329.8" cy="488.3" rx="9.7" ry="13.0" fill="#757575" transform="rotate(25 329.8 488.3)"/><circle cx="334.4" cy="489.0" r="2.1" fill="#4f4f4f"/><circle cx="329.7" cy="483.4" r="1.7" fill="#4f4f4f"/><circle cx="332.8" cy="484.7" r="2.8" fill="#4f4f4f"/><circle cx="331.2" cy="487.2" r="2.3" fill="#4f4f4f"/><circle cx="328.0" cy="485.7" r="2.3" fill="#4f4f4f"/><ellipse cx="346.3" cy="500.7" rx="11.8" ry="10.5" fill="#757575"/><circle cx="342.8" cy="495.7" r="2.2" fill="#4f4f4f"/><circle cx="341.3" cy="499.2" r="1.7" fill="#4f4f4f"/><circle cx="347.7" cy="496.1" r="2.9" fill="#4f4f4f"/><circle cx="346.1" cy="502.6" r="1.8" fill="#4f4f4f"/><circle cx="344.2" cy="502.1" r="2.0" fill="#4f4f4f"/><ellipse cx="281.6" cy="521.9" rx="11.6" ry="10.8" fill="#757575"/><circle cx="282.7" cy="521.3" r="2.1" fill="#4f4f4f"/><circle cx="278.5" cy="528.1" r="2.7" fill="#4f4f4f"/><circle cx="279.9" cy="522.2" r="2.8" fill="#4f4f4f"/><circle cx="277.6" cy="522.5" r="2.0" fill="#4f4f4f"/><circle cx="278.8" cy="521.5" r="2.0" fill="#4f4f4f"/><ellipse cx="334.1" cy="521.1" rx="11.6" ry="10.8" fill="#757575"/><circle cx="337.7" cy="526.8" r="2.7" fill="#4f4f4f"/><circle cx="333.5" cy="523.4" r="1.9" fill="#4f4f4f"/><circle cx="331.8" cy="519.5" r="3.0" fill="#4f4f4f"/><circle cx="339.7" cy="521.4" r="2.8" fill="#4f4f4f"/><circle cx="330.0" cy="521.2" r="2.3" fill="#4f4f4f"/><ellipse cx="310.8" cy="537.9" rx="13.0" ry="10.8" fill="#757575"/><circle cx="314.2" cy="534.4" r="2.2" fill="#4f4f4f"/><circle cx="312.8" cy="533.7" r="2.0" fill="#4f4f4f"/><circle cx="311.5" cy="537.0" r="2.6" fill="#4f4f4f"/><circle cx="310.9" cy="539.4" r="2.7" fill="#4f4f4f"/><circle cx="308.7" cy="536.4" r="2.2" fill="#4f4f4f"/><ellipse cx="263.0" cy="505.8" rx="5.3" ry="9.4" fill="#757575"/><circle cx="263.0" cy="509.0" r="1.7" fill="#4f4f4f"/><circle cx="264.7" cy="502.9" r="2.1" fill="#4f4f4f"/><circle cx="262.8" cy="511.6" r="2.9" fill="#4f4f4f"/><circle cx="263.5" cy="507.6" r="1.8" fill="#4f4f4f"/><circle cx="261.7" cy="507.4" r="2.3" fill="#4f4f4f"/><ellipse cx="266.3" cy="541.6" rx="7.9" ry="10.3" fill="#757575"/><circle cx="264.8" cy="538.3" r="2.5" fill="#4f4f4f"/><circle cx="269.1" cy="546.5" r="3.0" fill="#4f4f4f"/><circle cx="269.5" cy="541.8" r="2.5" fill="#4f4f4f"/><circle cx="267.7" cy="542.0" r="2.0" fill="#4f4f4f"/><circle cx="266.9" cy="539.0" r="2.8" fill="#4f4f4f"/><ellipse cx="344.7" cy="538.7" rx="12.1" ry="9.2" fill="#606060"/><circle cx="344.9" cy="542.4" r="2.2" fill="#414141"/><circle cx="349.8" cy="537.1" r="1.9" fill="#414141"/><circle cx="352.4" cy="540.5" r="2.8" fill="#414141"/><circle cx="340.0" cy="534.5" r="2.4" fill="#414141"/><circle cx="340.2" cy="536.8" r="2.5" fill="#414141"/><ellipse cx="326.8" cy="553.3" rx="9.7" ry="9.4" fill="#808080"/><circle cx="326.4" cy="551.2" r="2.9" fill="#575757"/><circle cx="323.8" cy="548.9" r="2.4" fill="#575757"/><circle cx="331.5" cy="551.3" r="2.4" fill="#575757"/><circle cx="326.6" cy="552.1" r="2.3" fill="#575757"/><circle cx="327.9" cy="553.5" r="2.7" fill="#575757"/><ellipse cx="270.6" cy="562.3" rx="10.8" ry="6.2" fill="#757575"/><circle cx="269.2" cy="563.0" r="2.8" fill="#4f4f4f"/><circle cx="271.3" cy="560.1" r="2.9" fill="#4f4f4f"/><circle cx="272.9" cy="563.5" r="2.1" fill="#4f4f4f"/><circle cx="265.3" cy="564.7" r="2.9" fill="#4f4f4f"/><circle cx="273.7" cy="563.1" r="1.9" fill="#4f4f4f"/><ellipse cx="307.1" cy="561.7" rx="10.3" ry="6.9" fill="#606060"/><circle cx="305.4" cy="562.0" r="1.9" fill="#414141"/><circle cx="311.4" cy="564.1" r="2.5" fill="#414141"/><circle cx="306.3" cy="560.3" r="3.0" fill="#414141"/><circle cx="310.2" cy="563.3" r="1.9" fill="#414141"/><circle cx="305.4" cy="560.4" r="2.1" fill="#414141"/><ellipse cx="350.5" cy="479.1" rx="6.2" ry="7.6" fill="#606060"/><circle cx="348.5" cy="475.1" r="2.5" fill="#414141"/><circle cx="349.4" cy="477.7" r="2.9" fill="#414141"/><circle cx="352.3" cy="480.6" r="2.7" fill="#414141"/><circle cx="350.7" cy="478.0" r="2.5" fill="#414141"/><circle cx="349.8" cy="477.7" r="2.3" fill="#414141"/><ellipse cx="299.1" cy="504.4" rx="10.8" ry="7.8" fill="#151515" stroke="#1c1c1c" stroke-width="1.2"/><ellipse cx="313.7" cy="513.8" rx="8.7" ry="9.4" fill="#151515" stroke="#1c1c1c" stroke-width="1.2"/><ellipse cx="288.9" cy="548.2" rx="10.0" ry="11.6" fill="#101010" stroke="#1c1c1c" stroke-width="1.2" transform="rotate(-20 288.9 548.2)"/><ellipse cx="354.3" cy="520.4" rx="2.8" ry="6.9" fill="#606060"/><circle cx="353.4" cy="520.8" r="1.8" fill="#414141"/><circle cx="353.9" cy="518.0" r="2.2" fill="#414141"/><circle cx="353.2" cy="517.0" r="1.8" fill="#414141"/><circle cx="354.4" cy="519.1" r="2.3" fill="#414141"/><circle cx="355.4" cy="520.7" r="2.9" fill="#414141"/><ellipse cx="352.0" cy="558.8" rx="6.2" ry="5.5" fill="#383838" stroke="#404040" stroke-width="1.2"/></g><rect x="259.40" y="471.80" width="96.00" height="95.60" filter="url(#grain)" opacity="0.015"/></g>
<rect x="333.90" y="559.80" width="18.30" height="3.30" fill="#fff"/>
<rect x="259.40" y="571.20" width="96.00" height="95.50" fill="#050505"/>
<g clip-path="url(#cf3)"><g filter="url(#b08)"><ellipse cx="268.2" cy="584.3" rx="9.8" ry="9.6" fill="#747474"/><circle cx="267.7" cy="586.6" r="1.8" fill="#4e4e4e"/><circle cx="269.7" cy="582.3" r="2.1" fill="#4e4e4e"/><circle cx="271.4" cy="583.1" r="2.4" fill="#4e4e4e"/><circle cx="270.0" cy="586.1" r="2.2" fill="#4e4e4e"/><circle cx="270.3" cy="585.4" r="2.3" fill="#4e4e4e"/><ellipse cx="302.0" cy="585.1" rx="9.9" ry="11.2" fill="#747474"/><circle cx="307.8" cy="583.5" r="1.8" fill="#4e4e4e"/><circle cx="305.3" cy="585.6" r="1.8" fill="#4e4e4e"/><circle cx="296.2" cy="582.6" r="2.8" fill="#4e4e4e"/><circle cx="296.7" cy="582.7" r="1.7" fill="#4e4e4e"/><circle cx="301.0" cy="588.4" r="2.4" fill="#4e4e4e"/><ellipse cx="344.7" cy="586.5" rx="11.1" ry="12.4" fill="#202020" stroke="#2a2a2a" stroke-width="1.2"/><ellipse cx="283.8" cy="600.4" rx="12.5" ry="8.9" fill="#747474" transform="rotate(10 283.8 600.4)"/><circle cx="286.3" cy="597.5" r="2.6" fill="#4e4e4e"/><circle cx="291.1" cy="601.7" r="2.3" fill="#4e4e4e"/><circle cx="282.2" cy="599.4" r="1.9" fill="#4e4e4e"/><circle cx="290.2" cy="601.1" r="2.7" fill="#4e4e4e"/><circle cx="289.4" cy="602.3" r="2.5" fill="#4e4e4e"/><ellipse cx="306.1" cy="616.5" rx="11.5" ry="14.3" fill="#747474"/><circle cx="309.2" cy="623.8" r="2.3" fill="#4e4e4e"/><circle cx="309.3" cy="609.1" r="2.3" fill="#4e4e4e"/><circle cx="302.8" cy="616.3" r="3.0" fill="#4e4e4e"/><circle cx="303.7" cy="617.0" r="2.7" fill="#4e4e4e"/><circle cx="312.7" cy="621.6" r="2.5" fill="#4e4e4e"/><ellipse cx="338.5" cy="612.8" rx="13.8" ry="10.4" fill="#747474"/><circle cx="332.0" cy="611.4" r="2.2" fill="#4e4e4e"/><circle cx="329.6" cy="613.8" r="2.1" fill="#4e4e4e"/><circle cx="332.4" cy="616.6" r="3.0" fill="#4e4e4e"/><circle cx="334.7" cy="612.9" r="2.4" fill="#4e4e4e"/><circle cx="335.7" cy="613.1" r="2.7" fill="#4e4e4e"/><ellipse cx="268.7" cy="617.2" rx="10.4" ry="8.6" fill="#747474"/><circle cx="272.5" cy="614.6" r="2.3" fill="#4e4e4e"/><circle cx="269.3" cy="613.7" r="2.1" fill="#4e4e4e"/><circle cx="268.4" cy="613.7" r="2.2" fill="#4e4e4e"/><circle cx="266.6" cy="618.0" r="2.3" fill="#4e4e4e"/><circle cx="267.5" cy="612.6" r="2.2" fill="#4e4e4e"/><ellipse cx="265.8" cy="637.6" rx="7.2" ry="12.3" fill="#747474" transform="rotate(-15 265.8 637.6)"/><circle cx="263.2" cy="631.7" r="1.9" fill="#4e4e4e"/><circle cx="270.5" cy="639.9" r="2.5" fill="#4e4e4e"/><circle cx="264.7" cy="629.5" r="2.9" fill="#4e4e4e"/><circle cx="267.0" cy="636.5" r="2.1" fill="#4e4e4e"/><circle cx="266.4" cy="645.9" r="1.9" fill="#4e4e4e"/><ellipse cx="349.0" cy="634.0" rx="8.5" ry="8.9" fill="#747474"/><circle cx="349.3" cy="638.6" r="1.9" fill="#4e4e4e"/><circle cx="352.0" cy="632.3" r="2.1" fill="#4e4e4e"/><circle cx="347.6" cy="630.8" r="2.6" fill="#4e4e4e"/><circle cx="349.9" cy="634.9" r="2.7" fill="#4e4e4e"/><circle cx="348.6" cy="632.8" r="1.7" fill="#4e4e4e"/><ellipse cx="291.8" cy="650.8" rx="12.8" ry="13.4" fill="#868686" transform="rotate(-15 291.8 650.8)"/><circle cx="293.7" cy="651.8" r="2.5" fill="#5b5b5b"/><circle cx="289.6" cy="648.9" r="2.2" fill="#5b5b5b"/><circle cx="292.7" cy="643.0" r="2.6" fill="#5b5b5b"/><circle cx="291.0" cy="652.0" r="2.0" fill="#5b5b5b"/><circle cx="294.8" cy="652.0" r="2.6" fill="#5b5b5b"/><ellipse cx="325.4" cy="654.4" rx="11.2" ry="11.2" fill="#747474"/><circle cx="329.7" cy="657.4" r="1.7" fill="#4e4e4e"/><circle cx="331.3" cy="654.3" r="2.3" fill="#4e4e4e"/><circle cx="324.3" cy="655.0" r="2.4" fill="#4e4e4e"/><circle cx="319.9" cy="651.7" r="2.4" fill="#4e4e4e"/><circle cx="328.2" cy="653.1" r="2.2" fill="#4e4e4e"/><ellipse cx="354.6" cy="653.7" rx="2.6" ry="5.2" fill="#747474"/><circle cx="353.7" cy="653.5" r="2.0" fill="#4e4e4e"/><circle cx="353.9" cy="656.9" r="2.8" fill="#4e4e4e"/><circle cx="354.2" cy="652.2" r="1.9" fill="#4e4e4e"/><circle cx="353.9" cy="652.0" r="2.1" fill="#4e4e4e"/><circle cx="355.3" cy="650.9" r="2.4" fill="#4e4e4e"/><ellipse cx="286.7" cy="573.1" rx="6.5" ry="2.9" fill="#747474"/><circle cx="290.8" cy="573.6" r="1.8" fill="#4e4e4e"/><circle cx="286.5" cy="573.5" r="1.8" fill="#4e4e4e"/><circle cx="284.4" cy="574.1" r="2.8" fill="#4e4e4e"/><circle cx="283.5" cy="572.1" r="2.0" fill="#4e4e4e"/><circle cx="289.4" cy="574.2" r="2.8" fill="#4e4e4e"/></g><rect x="259.40" y="571.20" width="96.00" height="95.50" filter="url(#grain)" opacity="0.015"/></g>
<rect x="333.90" y="659.10" width="18.30" height="3.10" fill="#fff"/>
<rect x="358.30" y="471.80" width="95.80" height="95.60" fill="#0a0a0a"/>
<g clip-path="url(#cf1)"><g filter="url(#b08)"><ellipse cx="371.7" cy="491.5" rx="11.1" ry="13.6" fill="#3e3e3e" stroke="#606060" stroke-width="1.2" transform="rotate(-12 371.7 491.5)"/><ellipse cx="406.0" cy="482.5" rx="14.3" ry="10.5" fill="#313131" stroke="#565656" stroke-width="1.2"/><ellipse cx="428.7" cy="488.3" rx="9.7" ry="13.0" fill="#313131" stroke="#565656" stroke-width="1.2" transform="rotate(25 428.7 488.3)"/><ellipse cx="445.2" cy="500.7" rx="11.8" ry="10.5" fill="#313131" stroke="#565656" stroke-width="1.2"/><ellipse cx="380.5" cy="521.9" rx="11.6" ry="10.8" fill="#313131" stroke="#565656" stroke-width="1.2"/><ellipse cx="433.0" cy="521.1" rx="11.6" ry="10.8" fill="#313131" stroke="#565656" stroke-width="1.2"/><ellipse cx="409.7" cy="537.9" rx="13.0" ry="10.8" fill="#313131" stroke="#565656" stroke-width="1.2"/><ellipse cx="361.9" cy="505.8" rx="5.3" ry="9.4" fill="#313131" stroke="#565656" stroke-width="1.2"/><ellipse cx="365.2" cy="541.6" rx="7.9" ry="10.3" fill="#313131" stroke="#565656" stroke-width="1.2"/><ellipse cx="443.6" cy="538.7" rx="12.1" ry="9.2" fill="#323232" stroke="#545454" stroke-width="1.2"/><ellipse cx="425.7" cy="553.3" rx="9.7" ry="9.4" fill="#3e3e3e" stroke="#606060" stroke-width="1.2"/><ellipse cx="369.5" cy="562.3" rx="10.8" ry="6.2" fill="#313131" stroke="#565656" stroke-width="1.2"/><ellipse cx="406.0" cy="561.7" rx="10.3" ry="6.9" fill="#323232" stroke="#545454" stroke-width="1.2"/><ellipse cx="449.4" cy="479.1" rx="6.2" ry="7.6" fill="#323232" stroke="#545454" stroke-width="1.2"/><ellipse cx="398.0" cy="504.4" rx="10.8" ry="7.8" fill="#303030" stroke="#565656" stroke-width="1.2"/><ellipse cx="412.6" cy="513.8" rx="8.7" ry="9.4" fill="#303030" stroke="#565656" stroke-width="1.2"/><ellipse cx="387.8" cy="548.2" rx="10.0" ry="11.6" fill="#2e2e2e" stroke="#626262" stroke-width="1.2" transform="rotate(-20 387.8 548.2)"/><ellipse cx="453.2" cy="520.4" rx="2.8" ry="6.9" fill="#323232" stroke="#545454" stroke-width="1.2"/><ellipse cx="450.9" cy="558.8" rx="6.2" ry="5.5" fill="#383838" stroke="#5c5c5c" stroke-width="1.2"/></g><rect x="358.30" y="471.80" width="95.80" height="95.60" filter="url(#grain)" opacity="0.06"/></g>
<rect x="358.30" y="571.20" width="95.80" height="95.50" fill="#0a0a0a"/>
<g clip-path="url(#cf4)"><g filter="url(#b08)"><ellipse cx="367.1" cy="584.3" rx="9.8" ry="9.6" fill="#303030" stroke="#565656" stroke-width="1.2"/><ellipse cx="400.9" cy="585.1" rx="9.9" ry="11.2" fill="#303030" stroke="#565656" stroke-width="1.2"/><ellipse cx="443.6" cy="586.5" rx="11.1" ry="12.4" fill="#626262" stroke="#888888" stroke-width="1.2"/><ellipse cx="382.7" cy="600.4" rx="12.5" ry="8.9" fill="#303030" stroke="#565656" stroke-width="1.2" transform="rotate(10 382.7 600.4)"/><ellipse cx="405.0" cy="616.5" rx="11.5" ry="14.3" fill="#303030" stroke="#565656" stroke-width="1.2"/><ellipse cx="437.4" cy="612.8" rx="13.8" ry="10.4" fill="#303030" stroke="#565656" stroke-width="1.2"/><ellipse cx="367.6" cy="617.2" rx="10.4" ry="8.6" fill="#303030" stroke="#565656" stroke-width="1.2"/><ellipse cx="364.7" cy="637.6" rx="7.2" ry="12.3" fill="#303030" stroke="#565656" stroke-width="1.2" transform="rotate(-15 364.7 637.6)"/><ellipse cx="447.9" cy="634.0" rx="8.5" ry="8.9" fill="#303030" stroke="#565656" stroke-width="1.2"/><ellipse cx="390.7" cy="650.8" rx="12.8" ry="13.4" fill="#3c3c3c" stroke="#5e5e5e" stroke-width="1.2" transform="rotate(-15 390.7 650.8)"/><ellipse cx="424.3" cy="654.4" rx="11.2" ry="11.2" fill="#303030" stroke="#565656" stroke-width="1.2"/><ellipse cx="453.5" cy="653.7" rx="2.6" ry="5.2" fill="#303030" stroke="#565656" stroke-width="1.2"/><ellipse cx="385.6" cy="573.1" rx="6.5" ry="2.9" fill="#303030" stroke="#565656" stroke-width="1.2"/></g><rect x="358.30" y="571.20" width="95.80" height="95.50" filter="url(#grain)" opacity="0.06"/></g>
<rect x="457.40" y="471.80" width="96.00" height="95.60" fill="#090909"/>
<g clip-path="url(#cf2)"><g filter="url(#b08)"><ellipse cx="470.8" cy="491.5" rx="11.1" ry="13.6" fill="#444444" stroke="#8c8c8c" stroke-width="1.2" transform="rotate(-12 470.8 491.5)"/><ellipse cx="505.1" cy="482.5" rx="14.3" ry="10.5" fill="#373737" stroke="#848484" stroke-width="1.2"/><ellipse cx="527.8" cy="488.3" rx="9.7" ry="13.0" fill="#373737" stroke="#848484" stroke-width="1.2" transform="rotate(25 527.8 488.3)"/><ellipse cx="544.3" cy="500.7" rx="11.8" ry="10.5" fill="#373737" stroke="#848484" stroke-width="1.2"/><ellipse cx="479.6" cy="521.9" rx="11.6" ry="10.8" fill="#373737" stroke="#848484" stroke-width="1.2"/><ellipse cx="532.1" cy="521.1" rx="11.6" ry="10.8" fill="#373737" stroke="#848484" stroke-width="1.2"/><ellipse cx="508.8" cy="537.9" rx="13.0" ry="10.8" fill="#373737" stroke="#848484" stroke-width="1.2"/><ellipse cx="461.0" cy="505.8" rx="5.3" ry="9.4" fill="#373737" stroke="#848484" stroke-width="1.2"/><ellipse cx="464.3" cy="541.6" rx="7.9" ry="10.3" fill="#373737" stroke="#848484" stroke-width="1.2"/><ellipse cx="542.7" cy="538.7" rx="12.1" ry="9.2" fill="#383838" stroke="#7c7c7c" stroke-width="1.2"/><ellipse cx="524.8" cy="553.3" rx="9.7" ry="9.4" fill="#444444" stroke="#8c8c8c" stroke-width="1.2"/><ellipse cx="468.6" cy="562.3" rx="10.8" ry="6.2" fill="#373737" stroke="#848484" stroke-width="1.2"/><ellipse cx="505.1" cy="561.7" rx="10.3" ry="6.9" fill="#383838" stroke="#7c7c7c" stroke-width="1.2"/><ellipse cx="548.5" cy="479.1" rx="6.2" ry="7.6" fill="#383838" stroke="#7c7c7c" stroke-width="1.2"/><ellipse cx="497.1" cy="504.4" rx="10.8" ry="7.8" fill="#343434" stroke="#909090" stroke-width="1.2"/><ellipse cx="511.7" cy="513.8" rx="8.7" ry="9.4" fill="#343434" stroke="#909090" stroke-width="1.2"/><ellipse cx="486.9" cy="548.2" rx="10.0" ry="11.6" fill="#303030" stroke="#a0a0a0" stroke-width="1.2" transform="rotate(-20 486.9 548.2)"/><ellipse cx="552.3" cy="520.4" rx="2.8" ry="6.9" fill="#383838" stroke="#7c7c7c" stroke-width="1.2"/><ellipse cx="550.0" cy="558.8" rx="6.2" ry="5.5" fill="#3e3e3e" stroke="#868686" stroke-width="1.2"/></g><rect x="457.40" y="471.80" width="96.00" height="95.60" filter="url(#grain)" opacity="0.035"/></g>
<rect x="457.40" y="571.20" width="96.00" height="95.50" fill="#090909"/>
<g clip-path="url(#cf5)"><g filter="url(#b08)"><ellipse cx="466.2" cy="584.3" rx="9.8" ry="9.6" fill="#3c3c3c" stroke="#909090" stroke-width="1.2"/><ellipse cx="500.0" cy="585.1" rx="9.9" ry="11.2" fill="#3c3c3c" stroke="#909090" stroke-width="1.2"/><ellipse cx="542.7" cy="586.5" rx="11.1" ry="12.4" fill="#909090" stroke="#c0c0c0" stroke-width="1.2"/><ellipse cx="481.8" cy="600.4" rx="12.5" ry="8.9" fill="#3c3c3c" stroke="#909090" stroke-width="1.2" transform="rotate(10 481.8 600.4)"/><ellipse cx="504.1" cy="616.5" rx="11.5" ry="14.3" fill="#3c3c3c" stroke="#909090" stroke-width="1.2"/><ellipse cx="536.5" cy="612.8" rx="13.8" ry="10.4" fill="#3c3c3c" stroke="#909090" stroke-width="1.2"/><ellipse cx="466.7" cy="617.2" rx="10.4" ry="8.6" fill="#3c3c3c" stroke="#909090" stroke-width="1.2"/><ellipse cx="463.8" cy="637.6" rx="7.2" ry="12.3" fill="#3c3c3c" stroke="#909090" stroke-width="1.2" transform="rotate(-15 463.8 637.6)"/><ellipse cx="547.0" cy="634.0" rx="8.5" ry="8.9" fill="#3c3c3c" stroke="#909090" stroke-width="1.2"/><ellipse cx="489.8" cy="650.8" rx="12.8" ry="13.4" fill="#464646" stroke="#909090" stroke-width="1.2" transform="rotate(-15 489.8 650.8)"/><ellipse cx="523.4" cy="654.4" rx="11.2" ry="11.2" fill="#3c3c3c" stroke="#909090" stroke-width="1.2"/><ellipse cx="552.6" cy="653.7" rx="2.6" ry="5.2" fill="#3c3c3c" stroke="#909090" stroke-width="1.2"/><ellipse cx="484.7" cy="573.1" rx="6.5" ry="2.9" fill="#3c3c3c" stroke="#909090" stroke-width="1.2"/></g><rect x="457.40" y="571.20" width="96.00" height="95.50" filter="url(#grain)" opacity="0.035"/></g>
<line x1="600.60" y1="476.10" x2="600.60" y2="650.60" stroke="#000" stroke-width="1.3"/>
<line x1="600.00" y1="650.00" x2="683.00" y2="650.00" stroke="#000" stroke-width="1.3"/>
<line x1="595.30" y1="650.00" x2="600.60" y2="650.00" stroke="#000" stroke-width="1.2"/>
<text x="590.60" y="653.80" font-size="10.6" text-anchor="end">0.0</text>
<line x1="595.30" y1="592.23" x2="600.60" y2="592.23" stroke="#000" stroke-width="1.2"/>
<text x="590.60" y="597.70" font-size="10.6" text-anchor="end">0.5</text>
<line x1="595.30" y1="534.47" x2="600.60" y2="534.47" stroke="#000" stroke-width="1.2"/>
<text x="590.60" y="541.60" font-size="10.6" text-anchor="end">1.0</text>
<line x1="595.30" y1="476.70" x2="600.60" y2="476.70" stroke="#000" stroke-width="1.2"/>
<text x="590.60" y="485.50" font-size="10.6" text-anchor="end">1.5</text>
<line x1="624.70" y1="650.00" x2="624.70" y2="654.80" stroke="#000" stroke-width="1.2"/>
<line x1="661.20" y1="650.00" x2="661.20" y2="654.80" stroke="#000" stroke-width="1.2"/>
<line x1="624.55" y1="616.15" x2="624.55" y2="517.71" stroke="#000" stroke-width="1.1"/>
<line x1="618.35" y1="616.15" x2="630.75" y2="616.15" stroke="#000" stroke-width="1.1"/>
<line x1="618.35" y1="517.71" x2="630.75" y2="517.71" stroke="#000" stroke-width="1.1"/>
<rect x="613.20" y="538.16" width="22.70" height="63.31" fill="#fff" stroke="#000" stroke-width="1.1"/>
<line x1="613.20" y1="561.04" x2="635.90" y2="561.04" stroke="#000" stroke-width="1.1"/>
<g fill="#fff" stroke="#000" stroke-width="1.15"><circle cx="624.7" cy="517.5" r="2.35"/><circle cx="624.7" cy="527.3" r="2.35"/><circle cx="614.8" cy="536.7" r="2.35"/><circle cx="624.7" cy="536.7" r="2.35"/><circle cx="634.0" cy="536.1" r="2.35"/><circle cx="619.9" cy="547.3" r="2.35"/><circle cx="629.2" cy="547.9" r="2.35"/><circle cx="624.7" cy="561.2" r="2.35"/><circle cx="624.7" cy="573.5" r="2.35"/><circle cx="634.0" cy="596.7" r="2.35"/><circle cx="614.8" cy="602.5" r="2.35"/><circle cx="624.7" cy="601.2" r="2.35"/><circle cx="634.0" cy="604.1" r="2.35"/><circle cx="624.7" cy="607.9" r="2.35"/><circle cx="624.7" cy="616.1" r="2.35"/></g>
<line x1="660.75" y1="603.21" x2="660.75" y2="546.60" stroke="#000" stroke-width="1.1"/>
<line x1="654.55" y1="603.21" x2="666.95" y2="603.21" stroke="#000" stroke-width="1.1"/>
<line x1="654.55" y1="546.60" x2="666.95" y2="546.60" stroke="#000" stroke-width="1.1"/>
<rect x="649.50" y="554.11" width="22.50" height="45.06" fill="#9a9a9a" stroke="#000" stroke-width="1.1"/>
<line x1="649.50" y1="572.01" x2="672.00" y2="572.01" stroke="#000" stroke-width="1.1"/>
<g fill="#fff" stroke="#000" stroke-width="1.15"><circle cx="651.3" cy="546.0" r="2.35"/><circle cx="663.9" cy="550.5" r="2.35"/><circle cx="670.5" cy="550.8" r="2.35"/><circle cx="657.5" cy="552.7" r="2.35"/><circle cx="651.3" cy="557.5" r="2.35"/><circle cx="670.5" cy="556.1" r="2.35"/><circle cx="657.5" cy="560.1" r="2.35"/><circle cx="663.9" cy="572.1" r="2.35"/><circle cx="657.5" cy="579.9" r="2.35"/><circle cx="666.8" cy="578.0" r="2.35"/><circle cx="657.5" cy="594.8" r="2.35"/><circle cx="651.3" cy="598.0" r="2.35"/><circle cx="670.5" cy="598.0" r="2.35"/><circle cx="663.9" cy="599.9" r="2.35"/><circle cx="651.3" cy="603.3" r="2.35"/></g>
<text x="564.30" y="564.70" font-size="13" text-anchor="middle" transform="rotate(-90 564.30 564.70)" textLength="116.00" lengthAdjust="spacingAndGlyphs">C-term / rod-domain</text>
<text x="575.80" y="564.70" font-size="13" text-anchor="middle" transform="rotate(-90 575.80 564.70)" textLength="77.00" lengthAdjust="spacingAndGlyphs">intensity ratio</text>
<text x="623.00" y="666.00" font-size="11" text-anchor="middle" textLength="36.00" lengthAdjust="spacingAndGlyphs">Control</text>
<text x="661.50" y="666.00" font-size="11" text-anchor="middle" textLength="21.00" lengthAdjust="spacingAndGlyphs">TSA</text>
<path d="M625.20 508.00V502.00H663.30V508.00" fill="none" stroke="#262626" stroke-width="0.95"/>
<text x="644.25" y="498.30" font-size="10.5" text-anchor="middle">ns</text>
<text x="6.70" y="693.00" font-size="22">g</text>
<text x="75.40" y="698.30" font-size="12.7" text-anchor="middle" textLength="56.30" lengthAdjust="spacingAndGlyphs">Lamin-SS</text>
<text x="172.40" y="689.60" font-size="12.8" text-anchor="middle" textLength="56.40" lengthAdjust="spacingAndGlyphs">lamin A/C</text>
<text x="172.50" y="701.00" font-size="12.8" text-anchor="middle" textLength="43.00" lengthAdjust="spacingAndGlyphs">C-term.</text>
<text x="265.20" y="689.60" font-size="12.8" text-anchor="middle" textLength="56.70" lengthAdjust="spacingAndGlyphs">lamin A/C</text>
<text x="264.90" y="701.00" font-size="12.8" text-anchor="middle" textLength="64.80" lengthAdjust="spacingAndGlyphs">rod-domain</text>
<text x="21.70" y="755.30" font-size="12.7" text-anchor="middle" transform="rotate(-90 21.70 755.30)" textLength="41.00" lengthAdjust="spacingAndGlyphs">Control</text>
<text x="21.70" y="852.50" font-size="12.7" text-anchor="middle" transform="rotate(-90 21.70 852.50)" textLength="58.00" lengthAdjust="spacingAndGlyphs">Methylstat</text>
<rect x="27.20" y="704.00" width="95.80" height="95.30" fill="#040404"/>
<g clip-path="url(#cg0)"><g filter="url(#b06)"><ellipse cx="54.9" cy="730.3" rx="16.0" ry="9.9" fill="#525252" stroke="#7c7c7c" stroke-width="1.2" transform="rotate(25 54.9 730.3)"/><path d="M42.9 728.8Q54.9 725.3 64.5 731.3M50.1 734.8L62.9 735.2" fill="none" stroke="#b4b4b4" stroke-width="1.0" opacity="0.85" transform="rotate(25 54.9 730.3)"/><ellipse cx="33.0" cy="740.5" rx="7.3" ry="15.3" fill="#666666" stroke="#989898" stroke-width="1.2"/><path d="M31.9 729.0Q29.4 740.5 33.7 749.7M36.3 735.9L36.6 748.1" fill="none" stroke="#d0d0d0" stroke-width="1.0" opacity="0.85"/><ellipse cx="43.2" cy="708.4" rx="13.1" ry="5.8" fill="#585858" stroke="#686868" stroke-width="1.2"/><ellipse cx="103.1" cy="742.7" rx="17.8" ry="10.9" fill="#525252" stroke="#7c7c7c" stroke-width="1.2" transform="rotate(12 103.1 742.7)"/><path d="M89.8 741.1Q103.1 737.2 113.8 743.8M97.8 747.6L112.0 748.2" fill="none" stroke="#b4b4b4" stroke-width="1.0" opacity="0.85" transform="rotate(12 103.1 742.7)"/><ellipse cx="89.2" cy="760.9" rx="11.7" ry="15.3" fill="#525252" stroke="#7c7c7c" stroke-width="1.2" transform="rotate(-35 89.2 760.9)"/><path d="M87.4 749.4Q83.4 760.9 90.4 770.1M94.5 756.3L95.0 768.5" fill="none" stroke="#b4b4b4" stroke-width="1.0" opacity="0.85" transform="rotate(-35 89.2 760.9)"/><ellipse cx="66.6" cy="786.5" rx="15.3" ry="11.7" fill="#525252" stroke="#7c7c7c" stroke-width="1.2"/><path d="M55.1 784.7Q66.6 780.6 75.8 787.7M62.0 791.8L74.2 792.4" fill="none" stroke="#b4b4b4" stroke-width="1.0" opacity="0.85"/><ellipse cx="108.9" cy="785.0" rx="9.5" ry="13.9" fill="#666666" stroke="#989898" stroke-width="1.2" transform="rotate(-20 108.9 785.0)"/><path d="M107.5 774.6Q104.2 785.0 109.9 793.3M113.2 780.8L113.7 792.0" fill="none" stroke="#d0d0d0" stroke-width="1.0" opacity="0.85" transform="rotate(-20 108.9 785.0)"/><ellipse cx="61.5" cy="759.5" rx="11.7" ry="8.0" fill="#101010" stroke="#161616" stroke-width="1.2" transform="rotate(20 61.5 759.5)"/><ellipse cx="90.7" cy="717.9" rx="17.5" ry="11.7" fill="#0c0c0c" stroke="#101010" stroke-width="1.2"/><ellipse cx="120.2" cy="726.0" rx="4.0" ry="8.5" fill="#101010" stroke="#161616" stroke-width="1.2"/><ellipse cx="29.4" cy="790.9" rx="2.9" ry="5.8" fill="#1c1c1c" stroke="#202020" stroke-width="1.2"/></g><rect x="27.20" y="704.00" width="95.80" height="95.30" filter="url(#grain)" opacity="0.01"/></g>
<rect x="100.20" y="791.80" width="18.20" height="3.00" fill="#fff"/>
<rect x="27.20" y="804.00" width="95.80" height="96.00" fill="#040404"/>
<g clip-path="url(#cg3)"><g filter="url(#b06)"><ellipse cx="42.2" cy="827.6" rx="15.3" ry="10.9" fill="#666666" stroke="#989898" stroke-width="1.2" transform="rotate(25 42.2 827.6)"/><path d="M30.7 826.0Q42.2 822.1 51.4 828.7M37.6 832.5L49.9 833.1" fill="none" stroke="#d0d0d0" stroke-width="1.0" opacity="0.85" transform="rotate(25 42.2 827.6)"/><ellipse cx="97.7" cy="834.2" rx="15.3" ry="9.5" fill="#525252" stroke="#7c7c7c" stroke-width="1.2" transform="rotate(12 97.7 834.2)"/><path d="M86.2 832.8Q97.7 829.5 106.9 835.2M93.1 838.5L105.4 839.0" fill="none" stroke="#b4b4b4" stroke-width="1.0" opacity="0.85" transform="rotate(12 97.7 834.2)"/><ellipse cx="49.1" cy="858.3" rx="15.8" ry="9.5" fill="#666666" stroke="#989898" stroke-width="1.2" transform="rotate(25 49.1 858.3)"/><path d="M37.2 856.9Q49.1 853.5 58.6 859.2M44.4 862.6L57.0 863.0" fill="none" stroke="#d0d0d0" stroke-width="1.0" opacity="0.85" transform="rotate(25 49.1 858.3)"/><ellipse cx="111.1" cy="869.3" rx="16.0" ry="13.1" fill="#525252" stroke="#7c7c7c" stroke-width="1.2" transform="rotate(10 111.1 869.3)"/><path d="M99.1 867.3Q111.1 862.8 120.7 870.6M106.3 875.2L119.1 875.8" fill="none" stroke="#b4b4b4" stroke-width="1.0" opacity="0.85" transform="rotate(10 111.1 869.3)"/><ellipse cx="89.2" cy="884.6" rx="11.7" ry="19.7" fill="#666666" stroke="#989898" stroke-width="1.2" transform="rotate(-25 89.2 884.6)"/><path d="M87.4 869.8Q83.4 884.6 90.4 896.4M94.5 878.7L95.0 894.5" fill="none" stroke="#d0d0d0" stroke-width="1.0" opacity="0.85" transform="rotate(-25 89.2 884.6)"/><ellipse cx="75.4" cy="814.5" rx="13.9" ry="10.9" fill="#282828" stroke="#404040" stroke-width="1.2" transform="rotate(10 75.4 814.5)"/><ellipse cx="30.8" cy="805.5" rx="5.8" ry="2.2" fill="#525252" stroke="#7c7c7c" stroke-width="1.2"/><ellipse cx="117.0" cy="897.0" rx="5.8" ry="3.6" fill="#666666" stroke="#989898" stroke-width="1.2"/><ellipse cx="44.0" cy="884.0" rx="17.0" ry="11.0" fill="#080808" stroke="#0a0a0a" stroke-width="1.2" transform="rotate(10 44.0 884.0)"/></g><rect x="27.20" y="804.00" width="95.80" height="96.00" filter="url(#grain)" opacity="0.01"/></g>
<rect x="100.20" y="890.80" width="18.20" height="3.40" fill="#fff"/>
<rect x="126.80" y="704.00" width="95.70" height="95.30" fill="#0b0b0b"/>
<g clip-path="url(#cg1)"><g filter="url(#b06)"><ellipse cx="154.5" cy="730.3" rx="16.0" ry="9.9" fill="#3c3c3c" stroke="#747474" stroke-width="1.2" transform="rotate(25 154.5 730.3)"/><path d="M142.5 728.8Q154.5 725.3 164.1 731.3M149.7 734.8L162.5 735.2" fill="none" stroke="#acacac" stroke-width="1.0" opacity="0.85" transform="rotate(25 154.5 730.3)"/><ellipse cx="132.6" cy="740.5" rx="7.3" ry="15.3" fill="#484848" stroke="#888888" stroke-width="1.2"/><path d="M131.5 729.0Q128.9 740.5 133.3 749.7M135.9 735.9L136.2 748.1" fill="none" stroke="#c0c0c0" stroke-width="1.0" opacity="0.85"/><ellipse cx="142.8" cy="708.4" rx="13.1" ry="5.8" fill="#404040" stroke="#606060" stroke-width="1.2"/><ellipse cx="202.7" cy="742.7" rx="17.8" ry="10.9" fill="#3c3c3c" stroke="#747474" stroke-width="1.2" transform="rotate(12 202.7 742.7)"/><path d="M189.3 741.1Q202.7 737.2 213.4 743.8M197.4 747.6L211.6 748.2" fill="none" stroke="#acacac" stroke-width="1.0" opacity="0.85" transform="rotate(12 202.7 742.7)"/><ellipse cx="188.8" cy="760.9" rx="11.7" ry="15.3" fill="#3c3c3c" stroke="#747474" stroke-width="1.2" transform="rotate(-35 188.8 760.9)"/><path d="M187.0 749.4Q183.0 760.9 190.0 770.1M194.1 756.3L194.7 768.5" fill="none" stroke="#acacac" stroke-width="1.0" opacity="0.85" transform="rotate(-35 188.8 760.9)"/><ellipse cx="166.2" cy="786.5" rx="15.3" ry="11.7" fill="#3c3c3c" stroke="#747474" stroke-width="1.2"/><path d="M154.7 784.7Q166.2 780.6 175.4 787.7M161.6 791.8L173.8 792.4" fill="none" stroke="#acacac" stroke-width="1.0" opacity="0.85"/><ellipse cx="208.5" cy="785.0" rx="9.5" ry="13.9" fill="#484848" stroke="#888888" stroke-width="1.2" transform="rotate(-20 208.5 785.0)"/><path d="M207.1 774.6Q203.8 785.0 209.4 793.3M212.8 780.8L213.2 792.0" fill="none" stroke="#c0c0c0" stroke-width="1.0" opacity="0.85" transform="rotate(-20 208.5 785.0)"/><ellipse cx="161.1" cy="759.5" rx="11.7" ry="8.0" fill="#3c3c3c" stroke="#686868" stroke-width="1.2" transform="rotate(20 161.1 759.5)"/><path d="M152.3 758.3Q161.1 755.5 168.1 760.3M157.6 763.1L166.9 763.5" fill="none" stroke="#a0a0a0" stroke-width="1.0" opacity="0.85" transform="rotate(20 161.1 759.5)"/><ellipse cx="190.3" cy="717.9" rx="17.5" ry="11.7" fill="#404040" stroke="#6c6c6c" stroke-width="1.2"/><path d="M177.2 716.1Q190.3 712.0 200.8 719.1M185.1 723.2L199.1 723.8" fill="none" stroke="#a4a4a4" stroke-width="1.0" opacity="0.85"/><ellipse cx="219.8" cy="726.0" rx="4.0" ry="8.5" fill="#3c3c3c" stroke="#686868" stroke-width="1.2"/><ellipse cx="129.0" cy="790.9" rx="2.9" ry="5.8" fill="#383838" stroke="#505050" stroke-width="1.2"/></g><rect x="126.80" y="704.00" width="95.70" height="95.30" filter="url(#grain)" opacity="0.045"/></g>
<rect x="126.80" y="804.00" width="95.70" height="96.00" fill="#0b0b0b"/>
<g clip-path="url(#cg4)"><g filter="url(#b06)"><ellipse cx="141.8" cy="827.6" rx="15.3" ry="10.9" fill="#484848" stroke="#888888" stroke-width="1.2" transform="rotate(25 141.8 827.6)"/><path d="M130.3 826.0Q141.8 822.1 151.0 828.7M137.2 832.5L149.5 833.1" fill="none" stroke="#c0c0c0" stroke-width="1.0" opacity="0.85" transform="rotate(25 141.8 827.6)"/><ellipse cx="197.3" cy="834.2" rx="15.3" ry="9.5" fill="#3c3c3c" stroke="#747474" stroke-width="1.2" transform="rotate(12 197.3 834.2)"/><path d="M185.8 832.8Q197.3 829.5 206.5 835.2M192.7 838.5L205.0 839.0" fill="none" stroke="#acacac" stroke-width="1.0" opacity="0.85" transform="rotate(12 197.3 834.2)"/><ellipse cx="148.7" cy="858.3" rx="15.8" ry="9.5" fill="#484848" stroke="#888888" stroke-width="1.2" transform="rotate(25 148.7 858.3)"/><path d="M136.8 856.9Q148.7 853.5 158.2 859.2M144.0 862.6L156.6 863.0" fill="none" stroke="#c0c0c0" stroke-width="1.0" opacity="0.85" transform="rotate(25 148.7 858.3)"/><ellipse cx="210.7" cy="869.3" rx="16.0" ry="13.1" fill="#3c3c3c" stroke="#747474" stroke-width="1.2" transform="rotate(10 210.7 869.3)"/><path d="M198.7 867.3Q210.7 862.8 220.3 870.6M205.9 875.2L218.7 875.8" fill="none" stroke="#acacac" stroke-width="1.0" opacity="0.85" transform="rotate(10 210.7 869.3)"/><ellipse cx="188.8" cy="884.6" rx="11.7" ry="19.7" fill="#484848" stroke="#888888" stroke-width="1.2" transform="rotate(-25 188.8 884.6)"/><path d="M187.0 869.8Q183.0 884.6 190.0 896.4M194.1 878.7L194.7 894.5" fill="none" stroke="#c0c0c0" stroke-width="1.0" opacity="0.85" transform="rotate(-25 188.8 884.6)"/><ellipse cx="175.0" cy="814.5" rx="13.9" ry="10.9" fill="#4c4c4c" stroke="#787878" stroke-width="1.2" transform="rotate(10 175.0 814.5)"/><path d="M164.6 812.9Q175.0 809.0 183.3 815.6M170.8 819.4L181.9 820.0" fill="none" stroke="#b0b0b0" stroke-width="1.0" opacity="0.85" transform="rotate(10 175.0 814.5)"/><ellipse cx="130.4" cy="805.5" rx="5.8" ry="2.2" fill="#3c3c3c" stroke="#747474" stroke-width="1.2"/><ellipse cx="216.6" cy="897.0" rx="5.8" ry="3.6" fill="#484848" stroke="#888888" stroke-width="1.2"/><ellipse cx="143.6" cy="884.0" rx="17.0" ry="11.0" fill="#4e4e4e" stroke="#7a7a7a" stroke-width="1.2" transform="rotate(10 143.6 884.0)"/><path d="M130.8 882.4Q143.6 878.5 153.8 885.1M138.5 889.0L152.1 889.5" fill="none" stroke="#b2b2b2" stroke-width="1.0" opacity="0.85" transform="rotate(10 143.6 884.0)"/></g><rect x="126.80" y="804.00" width="95.70" height="96.00" filter="url(#grain)" opacity="0.045"/></g>
<rect x="226.80" y="704.00" width="95.70" height="95.30" fill="#080808"/>
<g clip-path="url(#cg2)"><g filter="url(#b06)"><ellipse cx="254.5" cy="730.3" rx="16.0" ry="9.9" fill="#444444" stroke="#989898" stroke-width="1.2" transform="rotate(25 254.5 730.3)"/><path d="M242.5 728.8Q254.5 725.3 264.1 731.3M249.7 734.8L262.5 735.2" fill="none" stroke="#d0d0d0" stroke-width="1.0" opacity="0.85" transform="rotate(25 254.5 730.3)"/><ellipse cx="232.6" cy="740.5" rx="7.3" ry="15.3" fill="#505050" stroke="#b0b0b0" stroke-width="1.2"/><path d="M231.5 729.0Q229.0 740.5 233.3 749.7M235.9 735.9L236.3 748.1" fill="none" stroke="#e8e8e8" stroke-width="1.0" opacity="0.85"/><ellipse cx="242.8" cy="708.4" rx="13.1" ry="5.8" fill="#484848" stroke="#787878" stroke-width="1.2"/><ellipse cx="302.7" cy="742.7" rx="17.8" ry="10.9" fill="#444444" stroke="#989898" stroke-width="1.2" transform="rotate(12 302.7 742.7)"/><path d="M289.4 741.1Q302.7 737.2 313.4 743.8M297.4 747.6L311.6 748.2" fill="none" stroke="#d0d0d0" stroke-width="1.0" opacity="0.85" transform="rotate(12 302.7 742.7)"/><ellipse cx="288.8" cy="760.9" rx="11.7" ry="15.3" fill="#444444" stroke="#989898" stroke-width="1.2" transform="rotate(-35 288.8 760.9)"/><path d="M287.0 749.4Q282.9 760.9 290.0 770.1M294.1 756.3L294.7 768.5" fill="none" stroke="#d0d0d0" stroke-width="1.0" opacity="0.85" transform="rotate(-35 288.8 760.9)"/><ellipse cx="266.2" cy="786.5" rx="15.3" ry="11.7" fill="#444444" stroke="#989898" stroke-width="1.2"/><path d="M254.7 784.7Q266.2 780.6 275.4 787.7M261.6 791.8L273.8 792.4" fill="none" stroke="#d0d0d0" stroke-width="1.0" opacity="0.85"/><ellipse cx="308.5" cy="785.0" rx="9.5" ry="13.9" fill="#505050" stroke="#b0b0b0" stroke-width="1.2" transform="rotate(-20 308.5 785.0)"/><path d="M307.1 774.6Q303.8 785.0 309.4 793.3M312.8 780.8L313.2 792.0" fill="none" stroke="#e8e8e8" stroke-width="1.0" opacity="0.85" transform="rotate(-20 308.5 785.0)"/><ellipse cx="261.1" cy="759.5" rx="11.7" ry="8.0" fill="#444444" stroke="#909090" stroke-width="1.2" transform="rotate(20 261.1 759.5)"/><path d="M252.3 758.3Q261.1 755.5 268.1 760.3M257.6 763.1L267.0 763.5" fill="none" stroke="#c8c8c8" stroke-width="1.0" opacity="0.85" transform="rotate(20 261.1 759.5)"/><ellipse cx="290.3" cy="717.9" rx="17.5" ry="11.7" fill="#484848" stroke="#909090" stroke-width="1.2"/><path d="M277.2 716.1Q290.3 712.0 300.8 719.1M285.1 723.2L299.1 723.8" fill="none" stroke="#c8c8c8" stroke-width="1.0" opacity="0.85"/><ellipse cx="319.8" cy="726.0" rx="4.0" ry="8.5" fill="#444444" stroke="#909090" stroke-width="1.2"/><ellipse cx="229.0" cy="790.9" rx="2.9" ry="5.8" fill="#404040" stroke="#606060" stroke-width="1.2"/></g><rect x="226.80" y="704.00" width="95.70" height="95.30" filter="url(#grain)" opacity="0.025"/></g>
<rect x="226.80" y="804.00" width="95.70" height="96.00" fill="#080808"/>
<g clip-path="url(#cg5)"><g filter="url(#b06)"><ellipse cx="241.8" cy="827.6" rx="15.3" ry="10.9" fill="#505050" stroke="#b0b0b0" stroke-width="1.2" transform="rotate(25 241.8 827.6)"/><path d="M230.3 826.0Q241.8 822.1 251.0 828.7M237.2 832.5L249.5 833.1" fill="none" stroke="#e8e8e8" stroke-width="1.0" opacity="0.85" transform="rotate(25 241.8 827.6)"/><ellipse cx="297.3" cy="834.2" rx="15.3" ry="9.5" fill="#444444" stroke="#989898" stroke-width="1.2" transform="rotate(12 297.3 834.2)"/><path d="M285.8 832.8Q297.3 829.5 306.5 835.2M292.7 838.5L304.9 839.0" fill="none" stroke="#d0d0d0" stroke-width="1.0" opacity="0.85" transform="rotate(12 297.3 834.2)"/><ellipse cx="248.7" cy="858.3" rx="15.8" ry="9.5" fill="#505050" stroke="#b0b0b0" stroke-width="1.2" transform="rotate(25 248.7 858.3)"/><path d="M236.9 856.9Q248.7 853.5 258.2 859.2M244.0 862.6L256.6 863.0" fill="none" stroke="#e8e8e8" stroke-width="1.0" opacity="0.85" transform="rotate(25 248.7 858.3)"/><ellipse cx="310.7" cy="869.3" rx="16.0" ry="13.1" fill="#444444" stroke="#989898" stroke-width="1.2" transform="rotate(10 310.7 869.3)"/><path d="M298.7 867.3Q310.7 862.8 320.3 870.6M305.9 875.2L318.7 875.8" fill="none" stroke="#d0d0d0" stroke-width="1.0" opacity="0.85" transform="rotate(10 310.7 869.3)"/><ellipse cx="288.8" cy="884.6" rx="11.7" ry="19.7" fill="#505050" stroke="#b0b0b0" stroke-width="1.2" transform="rotate(-25 288.8 884.6)"/><path d="M287.0 869.8Q282.9 884.6 290.0 896.4M294.1 878.7L294.7 894.5" fill="none" stroke="#e8e8e8" stroke-width="1.0" opacity="0.85" transform="rotate(-25 288.8 884.6)"/><ellipse cx="275.0" cy="814.5" rx="13.9" ry="10.9" fill="#585858" stroke="#989898" stroke-width="1.2" transform="rotate(10 275.0 814.5)"/><path d="M264.6 812.9Q275.0 809.0 283.3 815.6M270.8 819.4L281.9 820.0" fill="none" stroke="#d0d0d0" stroke-width="1.0" opacity="0.85" transform="rotate(10 275.0 814.5)"/><ellipse cx="230.4" cy="805.5" rx="5.8" ry="2.2" fill="#444444" stroke="#989898" stroke-width="1.2"/><ellipse cx="316.6" cy="897.0" rx="5.8" ry="3.6" fill="#505050" stroke="#b0b0b0" stroke-width="1.2"/><ellipse cx="243.6" cy="884.0" rx="17.0" ry="11.0" fill="#606060" stroke="#a0a0a0" stroke-width="1.2" transform="rotate(10 243.6 884.0)"/><path d="M230.9 882.4Q243.6 878.5 253.8 885.1M238.5 889.0L252.1 889.5" fill="none" stroke="#d8d8d8" stroke-width="1.0" opacity="0.85" transform="rotate(10 243.6 884.0)"/></g><rect x="226.80" y="804.00" width="95.70" height="96.00" filter="url(#grain)" opacity="0.025"/></g>
<line x1="378.60" y1="709.90" x2="378.60" y2="881.40" stroke="#000" stroke-width="1.3"/>
<line x1="378.00" y1="880.80" x2="460.50" y2="880.80" stroke="#000" stroke-width="1.3"/>
<line x1="373.30" y1="880.80" x2="378.60" y2="880.80" stroke="#000" stroke-width="1.2"/>
<text x="372.40" y="884.60" font-size="10.6" text-anchor="end">0.0</text>
<line x1="373.30" y1="846.74" x2="378.60" y2="846.74" stroke="#000" stroke-width="1.2"/>
<text x="372.40" y="850.54" font-size="10.6" text-anchor="end">0.5</text>
<line x1="373.30" y1="812.68" x2="378.60" y2="812.68" stroke="#000" stroke-width="1.2"/>
<text x="372.40" y="816.48" font-size="10.6" text-anchor="end">1.0</text>
<line x1="373.30" y1="778.62" x2="378.60" y2="778.62" stroke="#000" stroke-width="1.2"/>
<text x="372.40" y="782.42" font-size="10.6" text-anchor="end">1.5</text>
<line x1="373.30" y1="744.56" x2="378.60" y2="744.56" stroke="#000" stroke-width="1.2"/>
<text x="372.40" y="748.36" font-size="10.6" text-anchor="end">2.0</text>
<line x1="373.30" y1="710.50" x2="378.60" y2="710.50" stroke="#000" stroke-width="1.2"/>
<text x="372.40" y="714.30" font-size="10.6" text-anchor="end">2.5</text>
<line x1="401.80" y1="880.80" x2="401.80" y2="885.60" stroke="#000" stroke-width="1.2"/>
<line x1="437.30" y1="880.80" x2="437.30" y2="885.60" stroke="#000" stroke-width="1.2"/>
<line x1="402.45" y1="823.72" x2="402.45" y2="792.11" stroke="#000" stroke-width="1.1"/>
<line x1="398.05" y1="823.72" x2="406.85" y2="823.72" stroke="#000" stroke-width="1.1"/>
<line x1="398.05" y1="792.11" x2="406.85" y2="792.11" stroke="#000" stroke-width="1.1"/>
<rect x="390.90" y="794.83" width="23.10" height="10.35" fill="#fff" stroke="#000" stroke-width="1.1"/>
<line x1="390.90" y1="799.74" x2="414.00" y2="799.74" stroke="#000" stroke-width="1.1"/>
<g fill="#fff" stroke="#000" stroke-width="1.15"><circle cx="393.3" cy="795.3" r="2.35"/><circle cx="406.7" cy="792.4" r="2.35"/><circle cx="411.6" cy="794.8" r="2.35"/><circle cx="397.7" cy="799.7" r="2.35"/><circle cx="402.6" cy="797.3" r="2.35"/><circle cx="407.5" cy="799.7" r="2.35"/><circle cx="412.4" cy="799.7" r="2.35"/><circle cx="393.3" cy="801.4" r="2.35"/><circle cx="402.6" cy="805.8" r="2.35"/><circle cx="397.7" cy="803.9" r="2.35"/><circle cx="406.7" cy="803.4" r="2.35"/><circle cx="402.6" cy="813.2" r="2.35"/><circle cx="402.6" cy="816.8" r="2.35"/><circle cx="402.6" cy="823.7" r="2.35"/><circle cx="401.8" cy="802.2" r="2.35"/></g>
<line x1="437.65" y1="820.99" x2="437.65" y2="722.90" stroke="#000" stroke-width="1.1"/>
<line x1="431.45" y1="820.99" x2="443.85" y2="820.99" stroke="#000" stroke-width="1.1"/>
<line x1="431.45" y1="722.90" x2="443.85" y2="722.90" stroke="#000" stroke-width="1.1"/>
<rect x="426.30" y="796.81" width="22.70" height="12.67" fill="#8a8a8a" stroke="#000" stroke-width="1.1"/>
<line x1="426.30" y1="799.74" x2="449.00" y2="799.74" stroke="#000" stroke-width="1.1"/>
<g fill="#fff" stroke="#000" stroke-width="1.15"><circle cx="437.3" cy="722.8" r="2.35"/><circle cx="436.1" cy="789.2" r="2.35"/><circle cx="443.4" cy="791.2" r="2.35"/><circle cx="428.7" cy="796.8" r="2.35"/><circle cx="437.3" cy="796.8" r="2.35"/><circle cx="447.0" cy="798.0" r="2.35"/><circle cx="432.9" cy="800.2" r="2.35"/><circle cx="441.4" cy="800.2" r="2.35"/><circle cx="432.9" cy="807.0" r="2.35"/><circle cx="437.3" cy="809.5" r="2.35"/><circle cx="443.4" cy="809.5" r="2.35"/><circle cx="432.9" cy="811.9" r="2.35"/><circle cx="441.4" cy="813.2" r="2.35"/><circle cx="437.3" cy="815.6" r="2.35"/><circle cx="437.3" cy="821.0" r="2.35"/></g>
<text x="340.60" y="797.60" font-size="13" text-anchor="middle" transform="rotate(-90 340.60 797.60)" textLength="115.60" lengthAdjust="spacingAndGlyphs">C-term / rod-domain</text>
<text x="351.40" y="797.30" font-size="13" text-anchor="middle" transform="rotate(-90 351.40 797.30)" textLength="75.70" lengthAdjust="spacingAndGlyphs">intensity ratio</text>
<text x="400.40" y="897.00" font-size="11" text-anchor="middle" textLength="34.70" lengthAdjust="spacingAndGlyphs">Control</text>
<text x="438.00" y="897.00" font-size="11" text-anchor="middle" textLength="17.00" lengthAdjust="spacingAndGlyphs">MS</text>
<path d="M398.20 716.60V710.50H436.80V716.60" fill="none" stroke="#262626" stroke-width="0.95"/>
<text x="417.50" y="707.20" font-size="10.5" text-anchor="middle">ns</text>
<text x="465.10" y="694.80" font-size="22">h</text>
<text x="587.30" y="703.00" font-size="12.9" text-anchor="middle" textLength="169.20" lengthAdjust="spacingAndGlyphs">Summary of detected relative</text>
<text x="587.30" y="715.50" font-size="12.9" text-anchor="middle" textLength="160.60" lengthAdjust="spacingAndGlyphs">changes in Lamin-SS FRET</text>
<line x1="488.00" y1="723.40" x2="676.00" y2="723.40" stroke="#777" stroke-width="1.3"/>
<line x1="588.20" y1="723.40" x2="588.20" y2="893.00" stroke="#8a8a8a" stroke-width="1.3"/>
<text x="584.80" y="736.20" font-size="13" text-anchor="end">SS vs. TM</text>
<text x="598.60" y="736.20" font-size="12.9" font-weight="bold">+ 123 ± 8 %</text>
<text x="584.80" y="758.00" font-size="13" text-anchor="end">High osmolarity</text>
<text x="598.60" y="758.00" font-size="12.9" font-weight="bold">+ 78 ± 20 %</text>
<text x="584.80" y="779.80" font-size="13" text-anchor="end">Y-27632</text>
<text x="598.60" y="779.80" font-size="12.9" font-weight="bold">+ 60 ± 3 %</text>
<text x="584.80" y="801.60" font-size="13" text-anchor="end">TSA</text>
<text x="598.60" y="801.60" font-size="12.9" font-weight="bold">+ 36 ± 3 %</text>
<text x="584.80" y="823.40" font-size="13" text-anchor="end">Aphidicolin</text>
<text x="598.60" y="823.40" font-size="12.9" font-weight="bold">+ 28 ± 2 %</text>
<text x="584.80" y="845.20" font-size="13" text-anchor="end">TGF-ß</text>
<text x="598.60" y="845.20" font-size="12.9" font-weight="bold">+ 27 ± 4 %</text>
<text x="584.80" y="867.00" font-size="13" text-anchor="end">DN-KASH</text>
<text x="598.60" y="867.00" font-size="12.9" font-weight="bold">+ 20 ± 3 %</text>
<text x="584.80" y="888.80" font-size="13" text-anchor="end">Compressive stress</text>
<text x="598.60" y="888.80" font-size="12.9" font-weight="bold">- 13 ± 10 %</text>
</svg>
</body></html>
